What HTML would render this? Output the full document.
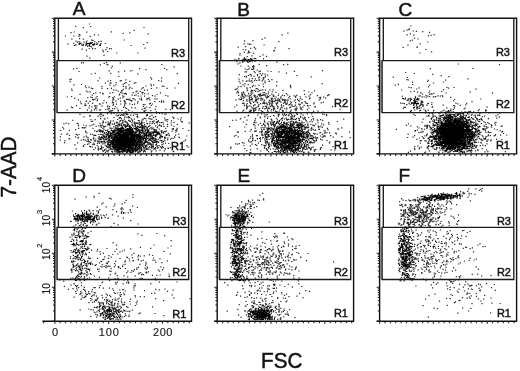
<!DOCTYPE html>
<html><head><meta charset="utf-8"><style>
html,body{margin:0;padding:0;background:#fff;}
body{width:520px;height:371px;overflow:hidden;position:relative;}
svg{position:absolute;left:0;top:0;}
text{font-family:"Liberation Sans",sans-serif;fill:#111;}
.t{opacity:.99}
.r{stroke:#111;stroke-width:.45px;}
.L{stroke:#111;stroke-width:.5px;}
.y{stroke:#111;stroke-width:.15px;}
.x{stroke:#111;stroke-width:.12px;}
</style></head><body>
<svg width="520" height="371" viewBox="0 0 520 371">
<defs><filter id="b" x="-2%" y="-2%" width="104%" height="104%"><feGaussianBlur stdDeviation="0.3"/></filter><filter id="c" x="-2%" y="-2%" width="104%" height="104%"><feGaussianBlur stdDeviation="0.45"/></filter></defs>
<path filter="url(#c)" d="M89 24h1.2m-15.1 2.3h1.2m6.4 1.3h1.2m6.1-1.1h1.2m52.2 1h1.2m265.7-1.5h1.2m-277.9 4.3h1.2m268.5 .8h1.2m2-.9h1.2m.5-.6h1.2m-.6-.8h1.2m2.6 2.2h1.2m2 .4h1.2m-346.5 1.3h1.2m1.9-.7h1.2m11.3 .1h1.2m23.4-.2h1.2m10.6 1.5h1.2m5.5-.5h1.2m17.2 1h1.2m138.5-.8h1.2m121.2 .7h1.2m11.2-2.2h1.2m5.6 .7h1.2m-365.3 3.7h1.2m7.3 0h1.2m3.9 .4h1.2m-.9-1.8h1.2m-.5 .5h1.2m9 1.2h1.2m3-1.4h1.2m2.8 .1h1.2m182.6-.2h1.2m123.8 .1h1.2m5.4 .3h1.2m13.4 .7h1.2m1.5-.6h1.2m1.9-.6h1.2m-363.5 4.5h1.2m6.5-.5h1.2m2.5 .4h1.2m7.3 1.1h1.2m.1 .3h1.2m30-.5h1.2m136.7-.6h1.2m1.6-1.5h1.2m146.2 2.3h1.2m.9-2.1h1.2m2.4 .9h1.2m-343.3 2.1h1.2m.4 1h1.2m1.1 1h1.2m3-.9h1.2m1.8-1.2h1.2m2.5 1.9h1.2m2.8-1.3h1.2m2.7 0h1.2m1.1 1.9h1.2m3.3 0h1.2m40.5-.9h1.2m96.1-1.7h1.2m7.3-.2h1.2m24.6 1h1.2m130.4-.9h1.2m16.2 1.2h1.2m-361.1 2.1h1.2m9.9 0h1.2m.8-.5h1.2m3.5 1.9h1.2m2.2 .4h1.2m2.5-1.3h1.2m-.6 0h1.2m-.3-1.1h1.2m35.7 2h1.2m11.3-1h1.2m99.2-.6h1.2m2.6 .1h1.2m.3 .2h1.2m.2 .2h1.2m12.1 .6h1.2m142.6 .2h1.2m11.1-1.3h1.2m-339.3 5.2h1.2m5.9-.6h1.2m-.1-2h1.2m1.1 2.1h1.2m1.4 .1h1.2m10.6-1.1h1.2m1.4 1h1.2m.5 0h1.2m32.6-.5h1.2m91.9-1h1.2m6.2-.4h1.2m3.8 1.7h1.2m2.5-.7h1.2m-1-.3h1.2m-.1 1.5h1.2m18.3-1.1h1.2m12.8 .9h1.2m112.8-1.3h1.2m12.6-.3h1.2m-.7 .1h1.2m7.3 2.3h1.2m-340.7 .7h1.2m15.3-.1h1.2m-.8 1.5h1.2m1.4-1.9h1.2m.6 1.8h1.2m134.4-2h1.2m-.2 2.9h1.2m.2-2.5h1.2m1.7 1.2h1.2m-1.2 .7h1.2m-.1 .6h1.2m22.8-1.3h1.2m-.4-.7h1.2m155.9 1.4h1.2m-328.8 3.6h1.2m11.6-2.4h1.2m19.8 0h1.2m100.9 2.2h1.2m-1.1-1.7h1.2m6.8-.4h1.2m4.4 .2h1.2m8.2 1.5h1.2m155.6-1.8h1.2m-334 3.2h1.2m1.6 2h1.2m156.2-1.6h1.2m3.5-.8h1.2m1.1 2.5h1.2m4.7-1.9h1.2m5.2-.1h1.2m-26.2 4.1h1.2m.5-1.2h1.2m11.3-.6h1.2m6.6 0h1.2m-183.1 4.2h1.2m.6-.1h1.2m19.6 .7h1.2m1.1-1.1h1.2m-.7 2.1h1.2m12.1-1.6h1.2m116.6 1h1.2m.6-.9h1.2m18.2 1.4h1.2m16.4-2.2h1.2m9.6 2.2h1.2m169.5-.3h1.2m-359.3 .9h1.2m6.4 0h1.2m3.2 1.4h1.2m48.4-1.6h1.2m11.1 2.2h1.2m65.5-.9h1.2m6.2 .1h1.2m3.1 .4h1.2m-1 .3h1.2m-.5-1.1h1.2m-.5 .9h1.2m11.2-1h1.2m15.8-.9h1.2m214.7-.1h1.2m-427.1 4.3h1.2m2.1-.6h1.2m33.2-.3h1.2m19.5 2.5h1.2m6.3-1.9h1.2m5.3 1h1.2m17.3-1.2h1.2m1 1.2h1.2m77.4-.6h1.2m.7 .7h1.2m.3-.6h1.2m-.2-1.1h1.2m.9 1.3h1.2m0 .2h1.2m-.9-1.6h1.2m-.8 .7h1.2m2.4 1.5h1.2m171.9-1.4h1.2m41.3-.2h1.2m-395.1 3h1.2m15 1.9h1.2m12.8-2.6h1.2m.4 2.5h1.2m6.6-1.5h1.2m4.8-.6h1.2m4.5-.2h1.2m113.7 .8h1.2m.1 0h1.2m6.5-.3h1.2m-.3 1.1h1.2m2.9-1h1.2m0-.5h1.2m6.4-.1h1.2m1.9 .5h1.2m6.6 .3h1.2m6.4 1.4h1.2m6.7-1.9h1.2m26.9-.7h1.2m82 1.9h1.2m-315.4 1.5h1.2m26.3 2.4h1.2m17.6-2.6h1.2m38.4-.2h1.2m60.7 1.1h1.2m4 1.8h1.2m.9-.2h1.2m.8-.8h1.2m.4-1.1h1.2m-.2 1.5h1.2m-1.2-.9h1.2m1.6 1.3h1.2m2.3-.7h1.2m-1.2-1h1.2m1.5-.9h1.2m.1 1.7h1.2m0-1.6h1.2m1.2 .4h1.2m-.8 1.8h1.2m1-.8h1.2m28 .3h1.2m116.3-2h1.2m17.1 .8h1.2m7.3 1.4h1.2m-371.1 3.4h1.2m27.1-1.1h1.2m50-.4h1.2m-.4 1.6h1.2m8.8-1h1.2m76.2 1h1.2m6-2h1.2m2 1.8h1.2m1.7-.3h1.2m1.9 .2h1.2m1.9-1.1h1.2m-.2-.7h1.2m2.6 .6h1.2m-.8 1.1h1.2m.1-1.6h1.2m45-.4h1.2m80.9 .4h1.2m12.8 .3h1.2m40.4-.9h1.2m17.9 2.2h1.2m-399.3 .8h1.2m-.9 2h1.2m26.6-.7h1.2m8.9 .2h1.2m1.3-.4h1.2m8.4 .1h1.2m-.1-.1h1.2m3.4-.8h1.2m2.8 1.6h1.2m-1.2-.2h1.2m27.6-.6h1.2m1.6 .5h1.2m76.4 .2h1.2m2.5-.6h1.2m2.1 .7h1.2m-.3-.6h1.2m.9-.1h1.2m-.9 .1h1.2m.4 .2h1.2m-.3-.3h1.2m1.6-.2h1.2m.8-.1h1.2m1.2 0h1.2m-1-.8h1.2m1.6 1.2h1.2m-.4-1.1h1.2m.9 1.4h1.2m2.2-1.7h1.2m-.5 1.5h1.2m-.9 .4h1.2m1.3-1.7h1.2m3.8 2.2h1.2m128.9-2.2h1.2m.1 .3h1.2m3.1 2.2h1.2m13.7-.7h1.2m-.4-1.1h1.2m14 1.6h1.2m1-1.8h1.2m-372.9 4.6h1.2m6.3-.3h1.2m22.7-1.3h1.2m3.3 1.9h1.2m-.9-2h1.2m-.3 .1h1.2m3.5 1.7h1.2m-.8-2.3h1.2m5.8 1.8h1.2m.3-1h1.2m.1-.7h1.2m1.9 2.2h1.2m4.1-1.8h1.2m.2-.4h1.2m13.9 1.7h1.2m1.6 .5h1.2m23.6-1.5h1.2m60.5-.2h1.2m1.7 1.5h1.2m.7-1.1h1.2m2 1h1.2m2.8-2.1h1.2m-.1 2.9h1.2m4.5 0h1.2m2.9-1.3h1.2m.8-1.4h1.2m24.3 2.7h1.2m30.4-1.8h1.2m71.9 1.5h1.2m1.9-.7h1.2m13.1 .1h1.2m15.6 .6h1.2m2.8-2.1h1.2m-349.2 2.8h1.2m-.6 1.8h1.2m1.7-.5h1.2m1.3 1.1h1.2m9.1-1.7h1.2m-1 1.8h1.2m8.2 .1h1.2m1.2-2.6h1.2m8.4 .5h1.2m1.2 .2h1.2m-1 .7h1.2m2.7 .2h1.2m.9 1h1.2m9.6-.4h1.2m-.8-.3h1.2m1.7-1.7h1.2m4.1-.1h1.2m4.1 1.9h1.2m4.5-1.6h1.2m.4 .1h1.2m1.9 2.1h1.2m6.7-.4h1.2m62-1.1h1.2m1.6-.3h1.2m-1.1-.2h1.2m2.4-.4h1.2m1.1 1.8h1.2m1.9-.2h1.2m1.1-1h1.2m1.6-.6h1.2m7.1 .7h1.2m11.9-1.1h1.2m12.5 .7h1.2m-.7 1.3h1.2m89.7-.9h1.2m26.1 .6h1.2m1.1 .4h1.2m6.7 .1h1.2m8-1h1.2m17.3 .5h1.2m.5 .9h1.2m4.3-.7h1.2m-383.6 1.7h1.2m-.8 1.3h1.2m13.1 .5h1.2m5.1-2.4h1.2m13.6 .1h1.2m5 1.2h1.2m1.1 .2h1.2m.9 1.1h1.2m2.2-.4h1.2m-.5-.1h1.2m-.1-1.3h1.2m1.6-.9h1.2m1.9 .4h1.2m6.5 2.3h1.2m2.2 .1h1.2m.2-2.3h1.2m1.7 1.1h1.2m1.7 .1h1.2m2.7-1.7h1.2m82.6 .9h1.2m-.5 .1h1.2m0-.9h1.2m-.4 2.4h1.2m8-1.8h1.2m-.9 1.5h1.2m2.8-.5h1.2m-.7 .9h1.2m-.3-.5h1.2m.6-.2h1.2m-.1 1h1.2m-.7-2.8h1.2m-.2-.1h1.2m-.3 1.1h1.2m.2 1h1.2m.2-.4h1.2m.7-.4h1.2m1.4 .3h1.2m3.3-.2h1.2m2.1-.1h1.2m8.5 .6h1.2m20.1 .3h1.2m9.1 .2h1.2m86-.9h1.2m11.4 1.4h1.2m1.2-2.4h1.2m11.8 2h1.2m10.8 .5h1.2m.6-1.8h1.2m31.4-.6h1.2m-397.3 5.2h1.2m6.6-2.5h1.2m1.1 0h1.2m2.3 1.7h1.2m1-.6h1.2m3.1-.2h1.2m1.3 .6h1.2m-.6 .6h1.2m5.7-.7h1.2m1.4-.6h1.2m5.8 1.6h1.2m-.1-1.9h1.2m.1 .9h1.2m1 .4h1.2m-.8 .2h1.2m-.2-.4h1.2m-.5 .8h1.2m5.6-1.6h1.2m1.7-.8h1.2m.8 1.5h1.2m2.7-.7h1.2m-.6 1.4h1.2m-.8-1.6h1.2m.5 1.3h1.2m2.3 .1h1.2m11.1-1h1.2m75 .2h1.2m-.3-1h1.2m-.4 .7h1.2m2.2-.1h1.2m-.6 1.5h1.2m0-1.9h1.2m-1 1.2h1.2m3.5 .6h1.2m-1-.6h1.2m1.2-.2h1.2m-1.2-1.5h1.2m.5 1.4h1.2m4-1.4h1.2m.1 2.6h1.2m.2-.5h1.2m1.2-1.2h1.2m.4 .1h1.2m.3 1.1h1.2m.8 0h1.2m-.9-1.6h1.2m2.1 2h1.2m-.8-2.5h1.2m2.5 .7h1.2m1.6 1.6h1.2m6.6-.4h1.2m16.9 .8h1.2m3-2.4h1.2m1.9 .9h1.2m104.4-.8h1.2m1.9 .8h1.2m-.7 .1h1.2m6.7-.3h1.2m-.5 1.6h1.2m.4-.5h1.2m-.4 .4h1.2m.6-.9h1.2m11.1-.3h1.2m22.8-.9h1.2m21.1 1h1.2m-426.4 3.9h1.2m3.1-.5h1.2m18 .7h1.2m.3-2h1.2m-1.2 2.3h1.2m3.6-1h1.2m10.5 .7h1.2m-.3-.7h1.2m3.4 .4h1.2m3.9-2.1h1.2m2.1 1.1h1.2m0 .6h1.2m7.1-1.3h1.2m1.2 .3h1.2m.3-.6h1.2m1.1 1.1h1.2m1.3 0h1.2m2.5 .1h1.2m6.7-.4h1.2m1.4 .4h1.2m.7-1.6h1.2m7.6 1h1.2m.9 .7h1.2m69.6-.9h1.2m1.1 1.7h1.2m-.6-2.2h1.2m-.3 1.4h1.2m-1.1-1.3h1.2m-.8 1.4h1.2m-.1 .8h1.2m-.6-2.5h1.2m-.4 1.3h1.2m.4-.1h1.2m.7 .6h1.2m-.3-.7h1.2m-.8-.1h1.2m-.1-1h1.2m-1.1 2.6h1.2m1.4-1.9h1.2m-.8 1.3h1.2m-.9 .2h1.2m-1-1.5h1.2m-1.1 .6h1.2m-.5 1.5h1.2m.3-.8h1.2m-.3-1.7h1.2m-.5 0h1.2m-.5 1h1.2m-.6 .2h1.2m-.9-1.3h1.2m-.2 .8h1.2m-.5-.1h1.2m-.7-.7h1.2m-1.1 0h1.2m-.5 .3h1.2m-.7-.5h1.2m-.2 .6h1.2m-1 .5h1.2m-.6 1.3h1.2m.2 .1h1.2m-1-1.3h1.2m0 .7h1.2m-1.1 .3h1.2m.1-1.3h1.2m2-.4h1.2m-1 1.2h1.2m-.6-.1h1.2m1 .8h1.2m.9-1.5h1.2m1.6 1.3h1.2m0-1.5h1.2m.9 .3h1.2m2.1-.6h1.2m.9 1.4h1.2m3.2-.5h1.2m.2 1.5h1.2m-1.1-1.1h1.2m-.1-1h1.2m2.3 1.6h1.2m4.4 0h1.2m2-.8h1.2m.1-1.4h1.2m5.8 1h1.2m-1.2-.2h1.2m2 1.9h1.2m1.8-.3h1.2m2.8-1.5h1.2m-.5-.4h1.2m-.3-.5h1.2m91.8 2.2h1.2m.8 .1h1.2m.7-1.3h1.2m2.4 1h1.2m2.5 .1h1.2m.5 0h1.2m-.6-.3h1.2m1-.7h1.2m1.2 .3h1.2m.7-.6h1.2m-.7 1.2h1.2m6.8 .6h1.2m-377.2 1h1.2m2.5 1.6h1.2m8.2-2.2h1.2m3.5 1.9h1.2m-1-.3h1.2m-.3 .5h1.2m.1-.4h1.2m0-1.5h1.2m.3 1.2h1.2m13.9 1h1.2m-1.2-2.4h1.2m-.5 .8h1.2m-.8 1.1h1.2m3.4-.5h1.2m.7-.9h1.2m1.3-.3h1.2m2.5 1.5h1.2m-.1 0h1.2m-.1 .3h1.2m-.2-.7h1.2m-.7 1.3h1.2m1.6-1.6h1.2m-.2 .2h1.2m.2 1.1h1.2m3.2-.8h1.2m.4 .3h1.2m-1.2-1.3h1.2m-.9 1.9h1.2m4.1-.4h1.2m-1.1-1.2h1.2m0 0h1.2m-.3-.6h1.2m-.6 2h1.2m4-1h1.2m.7 0h1.2m77.8 1h1.2m1.8-1h1.2m.2 .7h1.2m-.3-1.6h1.2m-1 1.5h1.2m-.7-.9h1.2m.4-.8h1.2m-.8 0h1.2m1.8 1.7h1.2m1.2-1.1h1.2m-1.1 .5h1.2m-.9 .8h1.2m-1.1-2h1.2m-.4 2.3h1.2m-.3-.6h1.2m-.8-1.4h1.2m-.9 1.3h1.2m-1.2-.7h1.2m2.2 1.7h1.2m-1-1.1h1.2m-.8-.3h1.2m-.9 .9h1.2m.2-.5h1.2m-.9-1h1.2m-.9 .2h1.2m-.9 0h1.2m.7 1.7h1.2m-1.1-2.1h1.2m-.6 .3h1.2m-.4 1.4h1.2m-.7-.9h1.2m.5 1.3h1.2m1.1-2h1.2m-.3-.7h1.2m.6 2.8h1.2m.7-1.5h1.2m-1 .6h1.2m-1-1h1.2m-1-.2h1.2m-.3 .6h1.2m.9-.5h1.2m-.6 1.6h1.2m-1 .4h1.2m-.8 0h1.2m.6-.4h1.2m-1.1 .2h1.2m-1-1.4h1.2m.2 .9h1.2m-.3-1.7h1.2m.3 1.1h1.2m-.8 .4h1.2m-.8 1.1h1.2m-.2-.8h1.2m.2 0h1.2m-.8 .3h1.2m.4 .1h1.2m-.6 0h1.2m-.9 .1h1.2m-.5-2.6h1.2m.2 1.2h1.2m3.9 1.1h1.2m1-.5h1.2m1.5-.7h1.2m.6 .7h1.2m6.3-.6h1.2m-.6-1h1.2m7.9 2.1h1.2m-1.1-2.2h1.2m0 1.2h1.2m3.9-.7h1.2m76.7 .4h1.2m12.1 .8h1.2m.9-.6h1.2m34.6 .7h1.2m24.9-.5h1.2m-401.6 2.8h1.2m4.4-.7h1.2m-.6 0h1.2m.5 2h1.2m.6-1.8h1.2m1.4 2h1.2m3.3-2.6h1.2m4.5 2.4h1.2m-.1-2.4h1.2m1.3 2h1.2m4.7-.1h1.2m-1.2-.5h1.2m-.3 .8h1.2m-.9-.2h1.2m1.2-1.5h1.2m3.3 0h1.2m2.5-.4h1.2m-1-.3h1.2m-.9 .7h1.2m-1.1 .9h1.2m-.5-.1h1.2m4.8-.8h1.2m-.9-.6h1.2m4.6 2.6h1.2m-.9-1.5h1.2m11.3 1.7h1.2m3.1-1.7h1.2m3.5-.2h1.2m.8-.6h1.2m-1.1 1.4h1.2m.5-1.2h1.2m-.7 .9h1.2m77.8 1.5h1.2m-.8-.2h1.2m-1-.3h1.2m-1.1-2.3h1.2m2.1 .2h1.2m-.7 .1h1.2m.8-.2h1.2m-.5 1.5h1.2m-1.1-.1h1.2m-.8 1.1h1.2m.6-2.3h1.2m.1 1.3h1.2m.3-.7h1.2m.6-.4h1.2m-.7 1.4h1.2m-.8 .3h1.2m3.8 .1h1.2m-.8 .3h1.2m-1.2-.2h1.2m-.4-1.8h1.2m-1.2 .4h1.2m-1 1.4h1.2m-.6-.2h1.2m0 .1h1.2m-.2 .3h1.2m.7-1h1.2m-1.1 .2h1.2m-.4 .8h1.2m-1-2.2h1.2m.1 2.1h1.2m-1.1-2.2h1.2m-.7 .3h1.2m-.8 .3h1.2m-1-1.1h1.2m-1.1 1.7h1.2m-1.2 .9h1.2m.1-1.8h1.2m-.2 0h1.2m0 1.8h1.2m-.1 .3h1.2m-.9-2.9h1.2m-1 2.5h1.2m-1.1-.8h1.2m.1-1.2h1.2m-.5-.3h1.2m-1.1 .8h1.2m-.3 .5h1.2m-1 .2h1.2m1.4 1.1h1.2m-.3-1.1h1.2m-1.1 .2h1.2m-1.2-1.9h1.2m-.7 .2h1.2m-.8 1.4h1.2m.7 0h1.2m2.2-.4h1.2m-.4 .9h1.2m1.6-1.6h1.2m.1 1.7h1.2m1.6-2h1.2m-.1 .4h1.2m1.1 1.4h1.2m-1 .7h1.2m1.8-1.7h1.2m-1 .3h1.2m-.3 1.6h1.2m-1.1-.2h1.2m6.8-.4h1.2m5.9 .1h1.2m.7-.5h1.2m92.7-.7h1.2m2.9 .9h1.2m-1.2 .5h1.2m6.1 .2h1.2m2.2-.8h1.2m20.4-1.6h1.2m1.3 2.3h1.2m9.5 .2h1.2m4.1-1.7h1.2m-396.7 4h1.2m3.5-2.1h1.2m2.5 2.1h1.2m-1.1-.4h1.2m-1-1.4h1.2m-.5 1.4h1.2m2.4 .5h1.2m3.9 .3h1.2m-.3-.5h1.2m.2 .3h1.2m1.4-2h1.2m-.4 .2h1.2m.6 1.8h1.2m4.2 .2h1.2m-.8 .1h1.2m3.9-.8h1.2m-.7-.9h1.2m1.7-.3h1.2m3-.2h1.2m2.7 .2h1.2m-1.1 1.6h1.2m0-2.1h1.2m2.8 .1h1.2m1.5 .7h1.2m.9-.4h1.2m7.5 2.2h1.2m-1.1-1.8h1.2m.3 .1h1.2m3.4-.8h1.2m.6 1.6h1.2m0-1.4h1.2m2.2 2.5h1.2m79.6-1.4h1.2m6.4-1.3h1.2m-1 1.8h1.2m.7-.6h1.2m-1.1 .4h1.2m-.4-1.7h1.2m-.5 2.7h1.2m.6-.5h1.2m-.1-2.3h1.2m1.5 2.4h1.2m-1-.1h1.2m-1.1-.6h1.2m-.1-.6h1.2m2.2 1.3h1.2m-.7-1.3h1.2m.5-1h1.2m1.5 2.8h1.2m-.1-2.9h1.2m-.4 2.8h1.2m.1-.1h1.2m-1 .1h1.2m-.6-1.7h1.2m.8 .3h1.2m-.8-.7h1.2m.6 1.6h1.2m-.9-1.2h1.2m-.6 .7h1.2m-1.1 .7h1.2m-.6 .4h1.2m2.3-1.9h1.2m-.2 1.6h1.2m2.6-1.3h1.2m-.9 1.1h1.2m.6-.1h1.2m.9-2.1h1.2m-.3 .7h1.2m-.8-.9h1.2m-1 .1h1.2m.5 1.3h1.2m-.4-.3h1.2m-.4-.9h1.2m.2 1h1.2m-.7 1.3h1.2m.3 .4h1.2m0-.5h1.2m-.7-1h1.2m2-.9h1.2m-.2 .7h1.2m-.7-.4h1.2m2.7 .9h1.2m2.2-1.7h1.2m-1.2 2.1h1.2m-.7 .1h1.2m1-.3h1.2m2.4-1.6h1.2m105.9 0h1.2m.5 2.3h1.2m3.2-1.1h1.2m3.6-.7h1.2m10.2 .7h1.2m9.2 .4h1.2m-.6 0h1.2m-.8 .7h1.2m2.2-2.4h1.2m1.1 1.5h1.2m4.3-.5h1.2m-395.6 2.4h1.2m0 .5h1.2m6.1 .7h1.2m7.8-.4h1.2m1.8-1.1h1.2m2.1 1.8h1.2m-.7-1.2h1.2m-.2 .5h1.2m7.9 1.5h1.2m.9-1.4h1.2m.2 .5h1.2m-.9-2h1.2m1.9 2h1.2m.8 0h1.2m-.7-2.1h1.2m.6 1.5h1.2m5.3-.7h1.2m.8 .6h1.2m0 .6h1.2m3.9-.8h1.2m2.3 .2h1.2m5.7 1.5h1.2m.9-1.1h1.2m-.4-.1h1.2m.4-1.2h1.2m2 .6h1.2m4.2 1.8h1.2m9.3-.1h1.2m67.7-2.3h1.2m10.8 1.8h1.2m-1.2-1h1.2m-1.1-.9h1.2m-.7 .8h1.2m3-.7h1.2m-.4 1h1.2m-.7 .2h1.2m-.1 .3h1.2m0-.2h1.2m-.3 .7h1.2m-1-1.5h1.2m.4-1h1.2m-.9 .2h1.2m.1 1.9h1.2m2-.1h1.2m-1.1-.3h1.2m-1.2-.2h1.2m.9 .8h1.2m0-.3h1.2m-.6-1h1.2m-.2 1.6h1.2m-.5-.8h1.2m-.9-.2h1.2m-.3 .3h1.2m-.4-1.7h1.2m.2 2.8h1.2m.5-2.4h1.2m-1.1 1.6h1.2m-.9 .3h1.2m-.7-1.8h1.2m-.8 1.5h1.2m1.7-.3h1.2m-.5-1.4h1.2m.8 2.1h1.2m-.3-1.2h1.2m-.3-.3h1.2m1.4 .9h1.2m.8-.5h1.2m-1.2 1h1.2m2-1.4h1.2m-.8-.3h1.2m-.9-.1h1.2m-1.2-.2h1.2m3 2.1h1.2m-.6-.2h1.2m.1 0h1.2m-1.2-1.9h1.2m-1 1.3h1.2m2.1-1.1h1.2m-.8 1.6h1.2m-.5-.7h1.2m.5-1h1.2m4.7 .9h1.2m4.8-1.2h1.2m-.6 0h1.2m15.8-.1h1.2m6.4 2.6h1.2m76.4-2.2h1.2m28 .8h1.2m2.7 1.3h1.2m1.3 .1h1.2m-.1-1.5h1.2m8.5 1.2h1.2m-.2-.9h1.2m12.9 1.4h1.2m6.6-2.4h1.2m-421.1 3h1.2m19.1 0h1.2m1.6 2h1.2m0 0h1.2m-1.1-2h1.2m1.6-.2h1.2m1.3 .1h1.2m1.6-.2h1.2m-.1 .2h1.2m6.1-.2h1.2m.1 1.5h1.2m.2-.7h1.2m-1 .8h1.2m-.9-.8h1.2m.3 0h1.2m4.1-.5h1.2m-1 .9h1.2m-1.1-.6h1.2m2.1 .1h1.2m3.3 1.3h1.2m1-1.7h1.2m-.6 .3h1.2m2.1 1.6h1.2m10.2-1h1.2m-.2-.2h1.2m-1.1 1.3h1.2m0-1.9h1.2m3.7 .5h1.2m4.4 1.1h1.2m13-2.1h1.2m65.1 1.4h1.2m4.7 .1h1.2m-.3-1.1h1.2m1.3 2.3h1.2m2-.8h1.2m-.6-.8h1.2m-.9-.6h1.2m-1.1 1.4h1.2m-1.1 0h1.2m-.6-1h1.2m-.9-.3h1.2m.9 .1h1.2m-1.1 .9h1.2m-1.1-1.7h1.2m-.1 1h1.2m-1.2 0h1.2m-.4-.4h1.2m4.4 .4h1.2m-.3 1h1.2m-.6 0h1.2m3.7-.9h1.2m-.7 .9h1.2m1.8-.8h1.2m1.3-.7h1.2m1.2 1.8h1.2m-.2-.3h1.2m1.1-.6h1.2m0-1.5h1.2m1.1 .8h1.2m-1 .2h1.2m-1.1 .9h1.2m1.9-.4h1.2m3 .4h1.2m-1 .5h1.2m-.6-1.8h1.2m3.4 .5h1.2m-.7-.5h1.2m4.5-.5h1.2m4.2 .1h1.2m-.4 2.6h1.2m-.3 0h1.2m3.4-.9h1.2m3.1-.2h1.2m3.5 .8h1.2m102.1-.5h1.2m6.3 .7h1.2m-1-1.8h1.2m9.2-.2h1.2m.8 1.2h1.2m.7 0h1.2m4.3 .5h1.2m9.9 .1h1.2m4.7-.7h1.2m2 .6h1.2m3.4-1.2h1.2m6.2-.9h1.2m-1.2 1.2h1.2m-406.9 3.3h1.2m18.5 .5h1.2m-.4-2.3h1.2m-.8 1.1h1.2m-.8 .8h1.2m.8 1h1.2m2.9-1.8h1.2m2.7 0h1.2m1.3-.1h1.2m1.1 1.5h1.2m-.5-2h1.2m.5 2.3h1.2m-.9-.3h1.2m-.1-2.2h1.2m-.5 2.7h1.2m-.4-.9h1.2m-.6 0h1.2m-.2 .8h1.2m-.7-1.5h1.2m-.2 .1h1.2m0-.9h1.2m-.6 .3h1.2m-1 1.1h1.2m-.3-1.5h1.2m-.8 1.7h1.2m1.8 .5h1.2m1.5 .1h1.2m-.8-2.4h1.2m.8 1.4h1.2m.3 .4h1.2m8.5-.4h1.2m-.9 .8h1.2m2.3-2.2h1.2m-.1 2.5h1.2m3.4-2.2h1.2m1.7 .3h1.2m1.5 .2h1.2m1.6 .5h1.2m-.1-.2h1.2m5.1-1.1h1.2m3.6 .1h1.2m70.1 2.4h1.2m8.1-.5h1.2m-.4-1.9h1.2m1.7 1h1.2m-1.1-.4h1.2m1.4 .3h1.2m.6 1.2h1.2m0-.8h1.2m2.6-1.8h1.2m1.4 3h1.2m2.3-2.7h1.2m-.1 1.8h1.2m-.6 .6h1.2m-.8-1h1.2m2.2 0h1.2m.7 .4h1.2m-1.1-1.5h1.2m.6 1.6h1.2m3.9 0h1.2m.4-1.7h1.2m2.4 .8h1.2m-.4 .7h1.2m2.4-.7h1.2m.9 1.3h1.2m2.9-1.3h1.2m3.2 0h1.2m9.6 .3h1.2m.5 .3h1.2m1.2 .2h1.2m87.3 .7h1.2m9.3-2.5h1.2m2.6 .9h1.2m1-.9h1.2m.1 1.3h1.2m11.8-.4h1.2m1.7 .3h1.2m0 .4h1.2m-.7 .7h1.2m2-.4h1.2m2.2 .2h1.2m-1-1.8h1.2m-.6 .7h1.2m-.9 1h1.2m1.4 .6h1.2m1.1-.3h1.2m-.8-1.3h1.2m-1.2-1.3h1.2m-.6 3h1.2m.7-.1h1.2m-.7 0h1.2m-.1-1.8h1.2m6.9 1.5h1.2m12-2.3h1.2m7.8 1.9h1.2m.8-1.5h1.2m-417.1 3.6h1.2m4.5-.6h1.2m-.7-.5h1.2m6.6 .5h1.2m1.6 .5h1.2m.8-1.1h1.2m3.7 2.4h1.2m5.1-.5h1.2m2-1.6h1.2m.8 2.3h1.2m-1-.5h1.2m0-.1h1.2m1.5-2.1h1.2m.2 2h1.2m-1-1.6h1.2m.9 1.3h1.2m.5-.6h1.2m14.5 1.7h1.2m.8-2.6h1.2m-.4-.2h1.2m.5 2.9h1.2m-.1-2h1.2m2.2 .9h1.2m.7-.4h1.2m-.9-.2h1.2m7.9 1.4h1.2m6.7-1.1h1.2m-.1 1.3h1.2m-1.1-.5h1.2m6.2 0h1.2m62.5-.6h1.2m2-1.2h1.2m10.9 1.1h1.2m-.8 .9h1.2m2.6-2h1.2m-.5 .8h1.2m4.2-.3h1.2m2.4-.5h1.2m3.1 .3h1.2m6.1-.8h1.2m1.9 .1h1.2m.9 2.6h1.2m0-.4h1.2m-.9 .6h1.2m-.8-2.2h1.2m.3 .5h1.2m5.2-.3h1.2m.7 1.4h1.2m.9-.4h1.2m2.7 .1h1.2m2.9-1h1.2m-.8 2h1.2m12.3-2.9h1.2m99.2 .6h1.2m.9-.1h1.2m3 .8h1.2m-.5-1.1h1.2m5.3-.3h1.2m-1.1 .6h1.2m-.6-.3h1.2m.7-.3h1.2m-.1 1.9h1.2m1.2-1.6h1.2m-1.1 2.5h1.2m-.3-.9h1.2m-.8-.2h1.2m-.7 .9h1.2m-.9-.5h1.2m1.5-.8h1.2m8.3 .7h1.2m.1-.8h1.2m-.5 .1h1.2m-.5 1h1.2m3.1-.3h1.2m4.9-2h1.2m7.1 1.2h1.2m1-.6h1.2m10.2-.2h1.2m-.4 2.3h1.2m-425.1 2.1h1.2m16.8-.7h1.2m-.7 1.9h1.2m.1-.2h1.2m1.3-1.6h1.2m4.2-1h1.2m1.4 2.5h1.2m0-2.4h1.2m-.4 .2h1.2m4.4 1.8h1.2m1.2 0h1.2m3.2-1.3h1.2m1.2 1.8h1.2m-1.1-.1h1.2m-1-.5h1.2m-.2-2h1.2m-.5 1.6h1.2m-.6 .4h1.2m-.8-.2h1.2m.8 .6h1.2m2.4-.8h1.2m-.7 .3h1.2m-.4 .7h1.2m.3-2.4h1.2m-.4 1.3h1.2m-.8 .7h1.2m.5-1.7h1.2m2.8 1.5h1.2m-.1 .1h1.2m1.4-.7h1.2m-.5-.1h1.2m-.8-.8h1.2m-1.2-.2h1.2m1.6-.3h1.2m-.5 2.3h1.2m2.2-2.2h1.2m-1 2.7h1.2m0-2.4h1.2m-.7 .1h1.2m.9 1.7h1.2m3.1 .5h1.2m-1-.7h1.2m5.5-.5h1.2m-.1-.3h1.2m-.3 1.6h1.2m-.7-1.8h1.2m2.5 1.1h1.2m5.4-1.8h1.2m1.4 .8h1.2m51 .6h1.2m2.2-.3h1.2m2.9-1.2h1.2m-.8-.4h1.2m5.1 1.6h1.2m6.8 .3h1.2m-.7-1.7h1.2m7.8 1.5h1.2m5.4-1.1h1.2m-.7 .6h1.2m-.8 1.2h1.2m4.2-1h1.2m.7 1.4h1.2m-1.1-.4h1.2m1.4-2.3h1.2m3.5 .9h1.2m2.2 .2h1.2m7.8 1h1.2m5.1-1.4h1.2m4.8 .6h1.2m.7-1.2h1.2m-.9 1.3h1.2m2.5-.1h1.2m2.1-.2h1.2m.9 .7h1.2m19.8-1.2h1.2m78.2 0h1.2m7-.6h1.2m3.6 1.2h1.2m2.5-.6h1.2m2.2 1.8h1.2m5.3-2.4h1.2m-1.1 1.4h1.2m-1 1.4h1.2m-1.1-.5h1.2m-.6-.2h1.2m-.9-.5h1.2m-.9 .2h1.2m-.4-.5h1.2m-.9-.1h1.2m-1.1 .1h1.2m-.5 1.5h1.2m1.1-.8h1.2m-.7-.8h1.2m-.6 1h1.2m-1-.5h1.2m1.6 .7h1.2m-.9 .4h1.2m-1.1-1.7h1.2m-1.1 1.2h1.2m-.9-.6h1.2m-.7-1.6h1.2m-.3 1.4h1.2m1.9-1.5h1.2m-.1 1.2h1.2m-.5 1.3h1.2m3.3 .2h1.2m1.3-2h1.2m1.9-.5h1.2m-.7 1.4h1.2m1.1-.5h1.2m.3-1.1h1.2m-.9 1h1.2m-.4 .5h1.2m-419.5 3.8h1.2m1-.8h1.2m1.5 .5h1.2m7.1-.2h1.2m-.1 .4h1.2m14.3 .5h1.2m5.1-.9h1.2m1.4-.5h1.2m-.4-.6h1.2m1.2 0h1.2m1.1-.5h1.2m-1.1 1.9h1.2m0-.6h1.2m-.1-.8h1.2m.8 1.8h1.2m.5 .2h1.2m1.1-1.4h1.2m-.5-.6h1.2m.9 .8h1.2m.8 .4h1.2m-1.2 .3h1.2m.6-1.6h1.2m1.7-.6h1.2m-.1 .8h1.2m-1.1 1h1.2m-1.1 .8h1.2m-1.2 .3h1.2m3.4-2.1h1.2m1 .8h1.2m-.5 .9h1.2m-.7-.3h1.2m-.6-1.3h1.2m-.9 .6h1.2m-.8 .4h1.2m-.1-.3h1.2m.4-.5h1.2m0 1h1.2m-.8 .7h1.2m-.7-1.9h1.2m-.9 .7h1.2m-.9 .6h1.2m-1.1-1.4h1.2m.7 .3h1.2m-.6 1.8h1.2m1-1.2h1.2m-.4 .5h1.2m3.3-.4h1.2m-1 .1h1.2m-1-1.8h1.2m.7 1.9h1.2m.7-1.7h1.2m-1.2 .6h1.2m-.4-.2h1.2m-1.1 .2h1.2m-1.1 1.5h1.2m-1.1-2.4h1.2m1 .9h1.2m.5 .1h1.2m.4-.3h1.2m-.7 1.8h1.2m3 .2h1.2m2.3-1.3h1.2m1.8-.7h1.2m1.9 2h1.2m3-2.6h1.2m-.3 .1h1.2m5.6 1.1h1.2m53-.9h1.2m1.8 2.4h1.2m6.4 0h1.2m-1.1-1.7h1.2m-.6-.9h1.2m.2 1h1.2m3.2 .5h1.2m2.8-1.6h1.2m-.8 .5h1.2m1.2 .9h1.2m0 1h1.2m1-.9h1.2m-1.1 .2h1.2m-.9-1.3h1.2m1.4 .1h1.2m-.7 0h1.2m.4 1.6h1.2m.9-1.6h1.2m-.5 .8h1.2m4.2 .6h1.2m-.9-.4h1.2m1.4 .8h1.2m4.1-.3h1.2m-.8 .6h1.2m-.1-2.1h1.2m1.4 .6h1.2m1 .4h1.2m1 .3h1.2m-.2 .7h1.2m-.3-.2h1.2m3.3-2.2h1.2m-.3 2.1h1.2m.9-2.2h1.2m-.4 2.8h1.2m.2-2.6h1.2m2.5 2.2h1.2m4.7-.3h1.2m5.6-1.2h1.2m-.7 1.5h1.2m7-2.6h1.2m69.9 2.4h1.2m27.6-.1h1.2m2.9-1.3h1.2m-.8 1.3h1.2m1.6 .6h1.2m.1-.8h1.2m.7-.2h1.2m4.4 .4h1.2m-.9 .6h1.2m-.3-.6h1.2m-.7-1h1.2m1.7-1.1h1.2m-.9 1.6h1.2m.8-.4h1.2m.6 1.4h1.2m-1 0h1.2m-.8-2.2h1.2m.6 1.1h1.2m-.4 .5h1.2m1.7-1.1h1.2m-.4 1.5h1.2m-.7 0h1.2m-1-.2h1.2m.1-.1h1.2m.3-1.7h1.2m.2 1.1h1.2m.9-.4h1.2m-1.2 0h1.2m.7 1.2h1.2m.7-2.3h1.2m2.9 .1h1.2m.9 2.6h1.2m.7-1.7h1.2m.1 .9h1.2m4.5-.5h1.2m0-.8h1.2m-434.5 5h1.2m14.6-1.7h1.2m3.9-.6h1.2m1.4 .9h1.2m2.5 0h1.2m.9-.7h1.2m2.9 1.2h1.2m1.5-.6h1.2m.6-.4h1.2m-.6 1.9h1.2m-.2-2.1h1.2m-.9-.2h1.2m-.2 1.3h1.2m-.7 .8h1.2m.5-.7h1.2m.7-1.6h1.2m.2-.2h1.2m-.3 1.1h1.2m2.8 1h1.2m-.9-2.2h1.2m0 2.7h1.2m-.9 .2h1.2m-1.1-1.9h1.2m0-.2h1.2m.5-.6h1.2m-.2 .2h1.2m-1 .4h1.2m.9 2.2h1.2m.1-2.4h1.2m-.6 .4h1.2m.2 .8h1.2m-1-1.2h1.2m.5 .9h1.2m-.9-.4h1.2m.7 1.3h1.2m-1.1-1.3h1.2m-.5 1.3h1.2m.9-2.1h1.2m-.8 .3h1.2m-1.1 .6h1.2m-.5 1.3h1.2m.5-1.9h1.2m-1.2 1.4h1.2m1.2 .1h1.2m-.4 .1h1.2m-.7 .3h1.2m-.9-2h1.2m.1 1.9h1.2m-.4-2h1.2m-.3 .8h1.2m-.7 1h1.2m.6-.9h1.2m-.3 .8h1.2m2.6-.5h1.2m-.5-.8h1.2m-.1 2h1.2m6.9-1.8h1.2m-.7-.6h1.2m-1.1 .7h1.2m.2 .2h1.2m-.8 .5h1.2m1.1 .1h1.2m2.5-.1h1.2m2.8-1.2h1.2m1.3 1.3h1.2m54.5 .3h1.2m13.9 .3h1.2m8.9-1.2h1.2m2.3-.9h1.2m3.4 2.6h1.2m-.8-3h1.2m.1 .5h1.2m6.2-.2h1.2m.5 .1h1.2m-1 1.1h1.2m-1-1.4h1.2m-.8 2h1.2m-.7-2h1.2m-.9 1h1.2m-.1 1.7h1.2m3.2 0h1.2m-.1-2.4h1.2m1.4 2h1.2m-1.1-.3h1.2m4.2-.5h1.2m-1.1 .5h1.2m2-.7h1.2m1.7-.4h1.2m.3 .9h1.2m-.8-.9h1.2m-.8 .5h1.2m-1.2 1.1h1.2m-.3 .3h1.2m-.7-2.8h1.2m-.8 .9h1.2m-1-.6h1.2m.1 .3h1.2m1 1.3h1.2m0-1.9h1.2m-1 2.4h1.2m1.1-2h1.2m3.8 .1h1.2m.1 .6h1.2m3 .5h1.2m-1.1 1h1.2m-1.2-.8h1.2m.3 .5h1.2m0-.9h1.2m.1 1.3h1.2m0-2.4h1.2m81.6 .5h1.2m3.3 .5h1.2m5.3 1h1.2m6.4-.5h1.2m3.4-.6h1.2m-1 1h1.2m2 .7h1.2m-1-.3h1.2m.8-1.9h1.2m4.2 .7h1.2m-.3-1.2h1.2m2.8 1.2h1.2m-.7 .5h1.2m-.2 .3h1.2m2.2-1.3h1.2m.1 1.4h1.2m.3-.4h1.2m-1.2 .5h1.2m-.8-.4h1.2m-1.1-1.1h1.2m-.9 1.2h1.2m3-.5h1.2m-.5-.2h1.2m.7-.9h1.2m.3 .7h1.2m-.9 1.5h1.2m-.7-.3h1.2m-.1-1.6h1.2m-.5 .9h1.2m-.4 .9h1.2m.5-1.9h1.2m-.8-.5h1.2m-.6 1h1.2m-1 1.3h1.2m1.4-2.1h1.2m.9 .5h1.2m.9-1h1.2m1.2 2.4h1.2m.3-.6h1.2m-.5 .4h1.2m4.9 .2h1.2m.6 .4h1.2m2.2-2.6h1.2m-1 2.4h1.2m-.8-1.4h1.2m2.4-.9h1.2m4.6 1.7h1.2m-.4-.6h1.2m-442.5 4.6h1.2m1.6-1.7h1.2m4.5 1.5h1.2m5.1-.7h1.2m1.8-1.3h1.2m2.5-.7h1.2m0 .3h1.2m-.2-.1h1.2m-.5-.1h1.2m6.5 .7h1.2m4.9 1.7h1.2m-.4-.5h1.2m-1.1 .7h1.2m1.7-2h1.2m0 1h1.2m4.6-1.2h1.2m.1 0h1.2m-1 1h1.2m2.2 1.1h1.2m-.8-1.4h1.2m-.4 .1h1.2m-.1-.8h1.2m-.9 .8h1.2m-.9-.7h1.2m-1.2 1.8h1.2m-1.1-2.1h1.2m0 1.7h1.2m-.4-.4h1.2m-1.2 .2h1.2m-.5 .5h1.2m-1-1h1.2m-1.1-.9h1.2m-.2 0h1.2m-1.2 .1h1.2m-1.1 1.9h1.2m-.1-2.4h1.2m1.9 2.5h1.2m-1.1 .1h1.2m-.1-1.1h1.2m-.3-.1h1.2m.4-.8h1.2m-.9-.1h1.2m.9 1.9h1.2m-1 .3h1.2m-.9-1.8h1.2m-.9 .2h1.2m1.4-.4h1.2m-.7 1.9h1.2m-.8-.9h1.2m-.3 1.1h1.2m-.6-.4h1.2m.8 0h1.2m.2-.2h1.2m-.9 .5h1.2m-.2-.2h1.2m.4-1.6h1.2m-.5 .9h1.2m-1 1.1h1.2m-.2-.7h1.2m0-1.9h1.2m-.9 1.6h1.2m-.9 .4h1.2m-1.2 .3h1.2m-.2-.3h1.2m-1.2-.1h1.2m-.2-1.3h1.2m.7 .6h1.2m.3-1.1h1.2m-.7 1.9h1.2m0-.3h1.2m.2 .2h1.2m-.3-2.2h1.2m.7 1.6h1.2m5.3-.9h1.2m5.4 .5h1.2m-.5 .9h1.2m1.6 .6h1.2m-.2-.6h1.2m-.9-1.3h1.2m-1.2 .3h1.2m4.6-.2h1.2m67.2 1.1h1.2m2.8-1.5h1.2m4.7-.3h1.2m-.7 1.7h1.2m1-.3h1.2m-.2-1.7h1.2m.7 .7h1.2m.3 1.6h1.2m.5-.6h1.2m-1.1 .3h1.2m-.4 .8h1.2m-1.2-2.7h1.2m1 .8h1.2m-1 .9h1.2m2.1 0h1.2m-.7-1.3h1.2m.3-.3h1.2m-.2 .8h1.2m-.8 1h1.2m1-1.8h1.2m-1 2.6h1.2m-.7-.8h1.2m0 0h1.2m-1.1 .8h1.2m-1-2.5h1.2m.9 1.1h1.2m-1-.6h1.2m1.2 1.5h1.2m11.6 .6h1.2m-1.1-.5h1.2m.7-.5h1.2m-.1-1.8h1.2m4.1 2.4h1.2m-.4-1.5h1.2m-.5-.5h1.2m.2 1.3h1.2m.5 1.2h1.2m3-1.1h1.2m7.1-1h1.2m-.6 1.2h1.2m8.3-.6h1.2m0 0h1.2m1.9-1.1h1.2m53.4 1.5h1.2m19.8 .7h1.2m3.2-1.6h1.2m3.9-.1h1.2m-.8-.8h1.2m2.2 .1h1.2m-.8 .9h1.2m-.9 .4h1.2m2.3 1.4h1.2m7.1-.5h1.2m-.8-1.3h1.2m-.8 1.2h1.2m-.2-.7h1.2m-.1-.5h1.2m.7 1.7h1.2m1.6-1h1.2m.6-.6h1.2m-1.2-.5h1.2m2.3 .9h1.2m-.3-.7h1.2m-.9 .5h1.2m-.6-1h1.2m2.3-.2h1.2m-1 1h1.2m1.7 1h1.2m.4-1.8h1.2m1.2 2.6h1.2m-.7-.3h1.2m-.9-.4h1.2m1.6-.4h1.2m3 .5h1.2m-.3-1.4h1.2m4.6 .3h1.2m-.6 .9h1.2m.2-.6h1.2m.5-.6h1.2m6.7 .5h1.2m-410.2 2.9h1.2m-1.1-.9h1.2m0 1.9h1.2m6.6-2.1h1.2m.7 .9h1.2m-.4-.7h1.2m.7 .4h1.2m-1-.1h1.2m-.3 .5h1.2m-.5-1.1h1.2m-.7 .6h1.2m-.8 .1h1.2m-1.1-.6h1.2m-.6 1.1h1.2m.5 .6h1.2m1.4-1.9h1.2m-.6 .6h1.2m-.3 .3h1.2m.9 1.9h1.2m.8-2.1h1.2m-.5-.8h1.2m-.3 .1h1.2m1.7 .4h1.2m-.8-.5h1.2m-.6 .8h1.2m-.9 1.6h1.2m-.5-2.3h1.2m-.5 1.1h1.2m-.3-.8h1.2m2.3 1.1h1.2m-.7 .1h1.2m.4-.9h1.2m-.5 .8h1.2m-.1 1.2h1.2m-.4-.4h1.2m0-1.5h1.2m-1.2 .3h1.2m-1.1 1.6h1.2m-1-1.8h1.2m-1.1 1.2h1.2m-1.2 .5h1.2m-.9-2h1.2m-.7 .8h1.2m-1 .2h1.2m-.8 1.1h1.2m-1-2h1.2m-.7 1.3h1.2m-.6-.6h1.2m-1-.2h1.2m.5 1.6h1.2m-.4-1.7h1.2m-.8 1h1.2m-1 .4h1.2m1.1-1.9h1.2m-.4 .7h1.2m.2 1h1.2m-.4-.7h1.2m-.9 .9h1.2m-.9-.8h1.2m-.9 0h1.2m-.8 .9h1.2m-1.1-2.3h1.2m-1 .1h1.2m.1 .9h1.2m-.6 1.2h1.2m-1-2.4h1.2m-.6 1.4h1.2m-.6 .9h1.2m-1-.6h1.2m-.5-.1h1.2m-1.2 .4h1.2m-.8-1.4h1.2m-.5 1.7h1.2m-1.1-1.9h1.2m-.3 1.9h1.2m-.2-.1h1.2m-.7-1h1.2m0 .3h1.2m-.9 1h1.2m-.4-.1h1.2m-.6-1h1.2m-.8-.3h1.2m-1.1-.3h1.2m-1.1-.9h1.2m-.8 .6h1.2m-.7 1.4h1.2m-1-1h1.2m-1.1 .3h1.2m-.6-1h1.2m-1.1 .8h1.2m-.5 1.2h1.2m-.2 .1h1.2m-.8-.9h1.2m-.8 .2h1.2m.8-1h1.2m-.5-.2h1.2m-1 1.4h1.2m.2-.4h1.2m-1 1.1h1.2m-.3-1.8h1.2m-.2 .5h1.2m-.2-.9h1.2m.6 2.4h1.2m6.2-1.3h1.2m0-.9h1.2m10.6-.6h1.2m47.4 1.7h1.2m0 0h1.2m5.5-.8h1.2m3.7-.2h1.2m3.5 .2h1.2m.3-.6h1.2m2.2 1.2h1.2m.2-.3h1.2m-.6 .6h1.2m-1-1h1.2m-1.1 1.3h1.2m2.6-.9h1.2m0 .4h1.2m.1 .5h1.2m-.7-.7h1.2m2.4 0h1.2m-1.2 .3h1.2m.7-.4h1.2m-.5-.9h1.2m-.3 1.7h1.2m-.3 .2h1.2m.3-.6h1.2m-1.1 .5h1.2m-.7 .4h1.2m-1-2.2h1.2m-1.2 1.8h1.2m-1.1-1.2h1.2m-.3 1.4h1.2m-.3-1.1h1.2m.2 .4h1.2m-.4 .2h1.2m2.7 .4h1.2m.4-1.6h1.2m-.6 1.3h1.2m-.7-1.1h1.2m-.6 1.8h1.2m-1-2.2h1.2m-1.1 .1h1.2m-.6 2.4h1.2m.3-.2h1.2m-.1-2.8h1.2m-.7 1.1h1.2m-.9-.5h1.2m-.5 2.3h1.2m.5-2.8h1.2m-.8 .7h1.2m3.1 1.8h1.2m-.5-.1h1.2m-.8-.4h1.2m-.4-.9h1.2m-.6-.2h1.2m-1 1.8h1.2m.9-.3h1.2m-.9-1.1h1.2m-.8 1h1.2m5 .5h1.2m5.8-.9h1.2m2.6 .7h1.2m-.3-2.3h1.2m-1.1 1.9h1.2m.4-.1h1.2m1.5 .2h1.2m-1.2-.1h1.2m4.6 .2h1.2m-.7 .1h1.2m12.4-1h1.2m64.1-1.1h1.2m2.9 1.7h1.2m2.1-.9h1.2m7.6 .5h1.2m3.3-.2h1.2m-.7-.8h1.2m.2 .2h1.2m.8 .6h1.2m-1-.6h1.2m2.4-.2h1.2m3.9 1.7h1.2m-.7-1.8h1.2m-.7 .1h1.2m-.7 2h1.2m-.6 .1h1.2m-.8-.4h1.2m-1 .3h1.2m-.1-.3h1.2m-1.1-1.2h1.2m-.7 .4h1.2m-.4 1.2h1.2m-1.2-1.7h1.2m1.2-1.2h1.2m-1.2 2.2h1.2m-.9 .2h1.2m-.7 .2h1.2m-.5-.4h1.2m-1-1h1.2m-.2-.5h1.2m-.7 .7h1.2m-.2-.5h1.2m-1.2 1.8h1.2m-1.2-.6h1.2m-1.1-.9h1.2m-.8 .9h1.2m-.4-1.1h1.2m1.1-.3h1.2m0 .5h1.2m-.1-.3h1.2m1.2-.5h1.2m1.2 .6h1.2m.1 .7h1.2m-1.2 1.2h1.2m2.2-1h1.2m.2 .6h1.2m-1-.5h1.2m-.6-1h1.2m-.3-.5h1.2m-.3-.5h1.2m.4 1.5h1.2m3-1.4h1.2m-.6 1.8h1.2m1.1-.2h1.2m-1.2 .1h1.2m-1-.7h1.2m1.2 .9h1.2m8.2-1.9h1.2m.3 1.4h1.2m-441.5 2.2h1.2m4.2 0h1.2m-.2-.2h1.2m.5 1.5h1.2m5.4-1.1h1.2m0 .8h1.2m.4-.7h1.2m10.4-.3h1.2m.8 .3h1.2m.2 .9h1.2m-.7-.1h1.2m-.6 .2h1.2m2.6-1h1.2m.8-.1h1.2m.4 .6h1.2m-.1 1.2h1.2m-1-1.4h1.2m-.1 1.6h1.2m1.1-1.2h1.2m-.8-1.3h1.2m-.9-.2h1.2m-.9 1.8h1.2m-1.1-1.7h1.2m-1 .8h1.2m-.4-.7h1.2m.5 .3h1.2m-.8 .8h1.2m-1.1-1.5h1.2m-.3 2.4h1.2m.2-1.2h1.2m-.8 1h1.2m-.5-1.8h1.2m-.8 .8h1.2m-1.2-.3h1.2m-.2-.3h1.2m-.9 1h1.2m-.5 1.4h1.2m.1-2.1h1.2m-.3 .5h1.2m-.9-.2h1.2m-1.1-.4h1.2m-1.1-.3h1.2m-.9 .3h1.2m-1-.2h1.2m.7 .2h1.2m-.6 2.1h1.2m-.2-2.9h1.2m-.2 .3h1.2m-1.1 .4h1.2m-.6 .6h1.2m-.9 .7h1.2m-1.2 0h1.2m-.7-1.1h1.2m-.8 2h1.2m-1.1-1.1h1.2m-1.2-.8h1.2m0-.1h1.2m-.8-.4h1.2m-1.1 .8h1.2m.4 1.5h1.2m-.5-2.4h1.2m-.3 .9h1.2m-.7-.9h1.2m-.7 .3h1.2m.4 1.1h1.2m-1-.1h1.2m-.5-.1h1.2m-.1 .1h1.2m-.5-.8h1.2m-.7 1.1h1.2m-.6-1h1.2m-.7 1.7h1.2m-.8 0h1.2m-.2-.1h1.2m-.7-1.4h1.2m.5 .7h1.2m-.8 .2h1.2m.2-1h1.2m-.7-1.1h1.2m-.6 1.4h1.2m-1.2 0h1.2m-.9-.5h1.2m-.4 .4h1.2m-1.1 .7h1.2m-1-2h1.2m.3 2.1h1.2m-1.2-1.9h1.2m-.5 .8h1.2m-1.2 1.9h1.2m.1-.7h1.2m-1.1-1.4h1.2m-.3 1.3h1.2m-.9-1.7h1.2m-.3 2.5h1.2m-.4-1.6h1.2m-.6-1.3h1.2m.5 1.1h1.2m-1.2 1.6h1.2m-.2-.7h1.2m-.9 .5h1.2m-.2-1.9h1.2m0-.2h1.2m-.2-.3h1.2m-1.2 1h1.2m-.7 1.2h1.2m-.1-.8h1.2m3.7 .5h1.2m-.5-.6h1.2m.7 0h1.2m-.8 .8h1.2m5-.6h1.2m2-1h1.2m6.8 1.9h1.2m46.5 .1h1.2m.3-.7h1.2m15.2-.8h1.2m-1.1 1.5h1.2m2.7-.5h1.2m-.2 .1h1.2m2.9-.9h1.2m-.3 0h1.2m-.6 .6h1.2m.3-1.2h1.2m-.9-.1h1.2m-.8 .9h1.2m-.9 1.3h1.2m0-2h1.2m-1-.4h1.2m0 1.1h1.2m-.6-.5h1.2m-1 .5h1.2m-.5 1.4h1.2m1.3-2.8h1.2m-1.2 2h1.2m-1-.3h1.2m0 .7h1.2m-.9-.3h1.2m-.5-1.2h1.2m-.4 1.5h1.2m.1-1.9h1.2m-.9 1.4h1.2m-1.1 .8h1.2m0-2.8h1.2m1.1 2.3h1.2m4.8-.1h1.2m0 .1h1.2m-1 .1h1.2m-.7 0h1.2m.4 .3h1.2m-.1 .2h1.2m-1.2-.2h1.2m2.7-.5h1.2m2.1 .1h1.2m.6 0h1.2m1.9-1.1h1.2m-.3-.9h1.2m-.9 0h1.2m-.6 2.2h1.2m.5 .4h1.2m-.7-2.4h1.2m.2 2.1h1.2m-1.1-1.3h1.2m-1.1 1.3h1.2m1.5-.4h1.2m1.9-1.6h1.2m-.8-.4h1.2m1 .5h1.2m2.1 1.8h1.2m.7-1.7h1.2m.4 1.2h1.2m-1.2 .8h1.2m.1-.1h1.2m4.1-.6h1.2m4.6-1.7h1.2m70.5 .3h1.2m5.3 1.5h1.2m6.4 .8h1.2m1.6-.7h1.2m.5-1.1h1.2m-.5-.7h1.2m3.9 .5h1.2m-.7 1.5h1.2m5.3 .3h1.2m-.1 0h1.2m-.2-.3h1.2m-.6-.7h1.2m1-.9h1.2m.9 0h1.2m-1 .4h1.2m-1 .3h1.2m-.8-.5h1.2m-.3-.8h1.2m.1 .3h1.2m.1-.5h1.2m2.2 2.8h1.2m-.5-.9h1.2m.5 1h1.2m-.4-2.7h1.2m-.1 .1h1.2m-.9 1.5h1.2m-.4 .5h1.2m-.6-1.1h1.2m-1.1 .3h1.2m-.9 .5h1.2m-1.2-1.1h1.2m-.4-.7h1.2m-.6 .1h1.2m2 .2h1.2m-1.1 1.5h1.2m3.4-1.7h1.2m-.9 .5h1.2m-1-.4h1.2m-.4 2.4h1.2m-.8-1.1h1.2m-.8-.5h1.2m-.9 1h1.2m-1.2-.8h1.2m-.8 1.2h1.2m-.8-.7h1.2m-1 .8h1.2m1.3-.1h1.2m.3-1.5h1.2m.1 1.7h1.2m.1-1.7h1.2m1.1 1h1.2m4.8 0h1.2m-1-.8h1.2m.8 .7h1.2m3.6-.1h1.2m-.8-1h1.2m3.7 .6h1.2m1.9-1.6h1.2m1.9 1.5h1.2m-447.5 1.8h1.2m7.4 1.8h1.2m-.5 .3h1.2m4.6-2h1.2m1.3 1.2h1.2m-.8-.8h1.2m4.4-.2h1.2m1.5-.3h1.2m-.1 2.3h1.2m-.8-1.5h1.2m6.3 1.4h1.2m1.5-.9h1.2m-.4-1.6h1.2m-1.1 .6h1.2m-.7 1.7h1.2m-.5-1h1.2m-.8 1.6h1.2m-.8 0h1.2m-.2-1.3h1.2m-.5-1h1.2m-.7 1.5h1.2m-.3-1.2h1.2m-.8 .3h1.2m-1.1-.3h1.2m-1.2 .2h1.2m-.9 .6h1.2m-.5 .9h1.2m-.8-1.7h1.2m-.7 2h1.2m.5-.2h1.2m-.6-1.6h1.2m-.8 .3h1.2m.9-.4h1.2m.5 .5h1.2m-.4 .3h1.2m-.8 .8h1.2m-1.1-.1h1.2m.6-2.1h1.2m-.3 1.1h1.2m-1-1.4h1.2m-.1 1.1h1.2m-1.2-.4h1.2m-.9 2h1.2m-.9-1.2h1.2m-.1-.7h1.2m-.9-.1h1.2m-.7 1.2h1.2m-.9-.5h1.2m-.5 1.4h1.2m-1.1-.9h1.2m0-.5h1.2m-.7-1.5h1.2m-1 1.8h1.2m-1-1.6h1.2m-.3 1.1h1.2m-1-.5h1.2m-1 2h1.2m-1.1-1.2h1.2m-1.2 .7h1.2m-.5 .1h1.2m0 .2h1.2m1.8-.1h1.2m-.4 .4h1.2m-1-2.6h1.2m-.8 .3h1.2m.1 .3h1.2m-1.1 .9h1.2m-1.2 1.2h1.2m-1.1-1.2h1.2m-1.2 .1h1.2m-.4 .7h1.2m-.9 .2h1.2m-.9-.4h1.2m-.7 .2h1.2m-1.1-2.6h1.2m0 2.9h1.2m-1.2 .1h1.2m-1-1.9h1.2m-.6 .3h1.2m.1-.4h1.2m-.8-.3h1.2m-.1 .5h1.2m-.9-.9h1.2m-.7 2.2h1.2m-1.2-.5h1.2m-.8 .8h1.2m-1.1 .1h1.2m-.9-1.8h1.2m-.4 .5h1.2m-.8-1.5h1.2m-.6 1.8h1.2m-.5 0h1.2m.4 .2h1.2m-.4 .4h1.2m-.6-.4h1.2m.4-2h1.2m-.1 2.6h1.2m-1.1-1.3h1.2m-.2 .5h1.2m-1.1-.3h1.2m-.1 1.1h1.2m-1-1.1h1.2m-.5 .1h1.2m-1.2-.7h1.2m-.1 .5h1.2m.2 .4h1.2m1.2 1h1.2m.2-2.1h1.2m.8-.6h1.2m-.2 .1h1.2m1 .3h1.2m-1.1 1.4h1.2m1.8-.3h1.2m1.5 1h1.2m1.3-.7h1.2m.2-1.7h1.2m-1.1 .5h1.2m3.2-.3h1.2m-.9 .7h1.2m57.8-.8h1.2m10.7 1.6h1.2m-.7-1.7h1.2m.7 1.3h1.2m-.9 .1h1.2m3.2 .6h1.2m-1-.2h1.2m1.3-.1h1.2m-1.1 0h1.2m-1.1-.7h1.2m1.7-.5h1.2m.4 1.9h1.2m-1.1 0h1.2m-.6-1.3h1.2m-.5 0h1.2m-.7-1h1.2m-.2 .8h1.2m-.9-.8h1.2m0 2.5h1.2m1.2-2.8h1.2m.3 2.2h1.2m-1.1-1.4h1.2m-.8 .9h1.2m-.3-.1h1.2m.3-.9h1.2m1.1 .3h1.2m-.8-.2h1.2m-.6 1.6h1.2m.3-2.4h1.2m-1.1 0h1.2m.1 .7h1.2m-.4-.8h1.2m-.9 .7h1.2m-1.1-.1h1.2m2-.4h1.2m.4 1.5h1.2m-.1-1.1h1.2m-.9 .2h1.2m-.6 1.7h1.2m-.1-1.7h1.2m-1.1-.7h1.2m-.4 .7h1.2m-.5 1.2h1.2m.7-.1h1.2m-1 .4h1.2m-.9 0h1.2m-.1 0h1.2m-1.2-.8h1.2m1.1-.7h1.2m2.6 .8h1.2m-1-1.4h1.2m.2 1.5h1.2m.8-.2h1.2m.2-1.4h1.2m.9 1.5h1.2m.2-1.3h1.2m.8 2.2h1.2m1.8-.5h1.2m-.4-.7h1.2m4.4-.6h1.2m-.5-.1h1.2m9 .1h1.2m7.5-.6h1.2m7 1.1h1.2m56.3-.2h1.2m4.2-.3h1.2m2.7 2.2h1.2m1.3-1.4h1.2m3.2 .5h1.2m-1.1-.2h1.2m3.8-.8h1.2m2.8-.8h1.2m.4 1.1h1.2m-1.2 1.6h1.2m3.9-1.9h1.2m-.1 0h1.2m2.4 .8h1.2m.2-.7h1.2m-1.1 1.4h1.2m2.2-1.1h1.2m.1 .1h1.2m1.1 1.1h1.2m0-.8h1.2m0-.7h1.2m1 1.4h1.2m0-1.1h1.2m.3 .7h1.2m-.9-.1h1.2m-.3 .3h1.2m-.9 .5h1.2m-.7-1.3h1.2m.4 .8h1.2m-.3-.5h1.2m2-1.7h1.2m-.2 .4h1.2m-.3 1.4h1.2m-.9-1.9h1.2m-.6 1.8h1.2m-1-.1h1.2m1 .1h1.2m1.2 1.2h1.2m-.5-.1h1.2m-.1-.4h1.2m.8-.6h1.2m2.7-1.6h1.2m-.5 1.7h1.2m-.9 .4h1.2m-.6 .2h1.2m-.5-.4h1.2m-1-1.5h1.2m-1 1.7h1.2m-.3-2.4h1.2m8.6 2.9h1.2m-437.4 .7h1.2m3.4 .5h1.2m15.2-.4h1.2m1-.5h1.2m.4 .5h1.2m0 .8h1.2m.9 .6h1.2m-1.1-1.4h1.2m-.2 1.7h1.2m-.1 .4h1.2m-.6-2.3h1.2m1.8 .3h1.2m.3 .5h1.2m1 .3h1.2m.1-.1h1.2m-.2 .8h1.2m.5 .4h1.2m.9 0h1.2m-.9-1h1.2m-.3-1.6h1.2m-1.1 2.7h1.2m.4-.4h1.2m-.7-.8h1.2m-.4 1.1h1.2m-.4-1.1h1.2m-.8 1h1.2m-.4-1.6h1.2m-1 1.5h1.2m-.8 .3h1.2m-1.1-.5h1.2m-.4-1.3h1.2m-.1 2h1.2m-.3-.4h1.2m-1.1-1.1h1.2m-.4 .2h1.2m-1-1.6h1.2m-1.1 2h1.2m.6 .1h1.2m-.9 .6h1.2m-.9-1.4h1.2m-.6-.6h1.2m-.7-.1h1.2m-1.2 2.1h1.2m-.9-.1h1.2m.2-1.3h1.2m.2 .6h1.2m-.4-1.1h1.2m-.7 1.9h1.2m-.6-1.8h1.2m.1-.3h1.2m-1 1.2h1.2m-.7-.9h1.2m-1.1 .9h1.2m-1.2-1.5h1.2m.4 .7h1.2m-.6 .3h1.2m-.8-1h1.2m0-.2h1.2m-1 2h1.2m-1-.5h1.2m-1-.5h1.2m-1 .1h1.2m-.8-.3h1.2m0 .5h1.2m-.9-.3h1.2m-1.2-.8h1.2m-.9-.2h1.2m.9 2.2h1.2m-.6-.2h1.2m.2-1.5h1.2m-1.1 2.1h1.2m-.6-1.6h1.2m-.9 1.6h1.2m-.3-.4h1.2m-1.2 .2h1.2m-.9-2.2h1.2m-1.2 0h1.2m-.6 2h1.2m-1.1-.9h1.2m-.7-1h1.2m-1 1.8h1.2m-.8-1.7h1.2m-1.2 1h1.2m-.6 0h1.2m-.9 .3h1.2m.7-1h1.2m-1.1-.8h1.2m.5 1.4h1.2m-.6-.6h1.2m-1.1 2.1h1.2m-1.2-2.7h1.2m-1 1.7h1.2m-1-1.4h1.2m-.7 2.2h1.2m-1.2-.3h1.2m2.2-2.1h1.2m-.3 .5h1.2m-.3 .5h1.2m-.6 1.4h1.2m-.2-1.9h1.2m-.8 .4h1.2m-1.1-1.2h1.2m-1.2 .6h1.2m-.1 .4h1.2m-1.2 1.9h1.2m.4-1.1h1.2m-.9-.3h1.2m-.9 .4h1.2m-.2 .3h1.2m-.8 .6h1.2m.4-2.1h1.2m2 1.4h1.2m-.2-1.7h1.2m-.5 1h1.2m1.3-1.3h1.2m15.2 1.5h1.2m.3-1.3h1.2m61.9 .3h1.2m-1.2 .6h1.2m.3 1h1.2m.1 0h1.2m0-1.1h1.2m6.8-.8h1.2m5.4 1.8h1.2m4.1-.3h1.2m1.1-.9h1.2m-1.2 .8h1.2m.2-1.4h1.2m-.5 1.3h1.2m.4 1.3h1.2m2.2-2h1.2m-.7 1.8h1.2m0-1.8h1.2m-1.1 1.2h1.2m-1.2-.2h1.2m.8-1.6h1.2m-.6 .1h1.2m-1.1 1.2h1.2m0-.1h1.2m-.3 1.2h1.2m-1.2-2.3h1.2m-.2 1.6h1.2m-.8 .2h1.2m-.4 .6h1.2m-.8-2.2h1.2m1.4 1.1h1.2m-.6-.8h1.2m1.8 .3h1.2m1.1-.8h1.2m-.2 2.4h1.2m-.1-.4h1.2m-.7-.6h1.2m-.9-1.8h1.2m-.4 0h1.2m.2 .3h1.2m.3 .8h1.2m.8-.8h1.2m-.5 .1h1.2m.8 1.7h1.2m1.5-1.1h1.2m-.7-.3h1.2m1.2-.4h1.2m4.4 0h1.2m3.8 .6h1.2m1.5 1.7h1.2m89.3-1.6h1.2m14.5-1h1.2m-.6 2.7h1.2m.4-.6h1.2m.3 .7h1.2m-1.2 .1h1.2m-.6-1.5h1.2m1.2 .2h1.2m-.9-1h1.2m1.8 1.4h1.2m-.3-2h1.2m-1.2 2.1h1.2m-.9-.8h1.2m3.2-.5h1.2m-.7-.2h1.2m.8 1.1h1.2m-1.2-1.3h1.2m-.8 .9h1.2m-.7 .3h1.2m-.7-.8h1.2m-1-.5h1.2m-.2 2.3h1.2m.6-2.2h1.2m.5 1.4h1.2m-.6 .2h1.2m.8-1.7h1.2m1.1 1.2h1.2m1.7-1.4h1.2m.3 2.6h1.2m3.4-1.5h1.2m-1-.3h1.2m-1.2 2h1.2m-.1-.1h1.2m-.4-2.5h1.2m-1.1 2.5h1.2m4.1-2.4h1.2m3.8 1.2h1.2m-.7-.2h1.2m-1.1 .1h1.2m-1 0h1.2m-.5-1.4h1.2m1.4 1.1h1.2m10-1.1h1.2m-438.6 2.9h1.2m9.2 2.3h1.2m1.5-2h1.2m6 1.6h1.2m2.9-.6h1.2m2.7 .5h1.2m-.5-1.4h1.2m-.2 1.1h1.2m1.8-.7h1.2m3.5 .4h1.2m1.9 1.5h1.2m-1.2-2.5h1.2m1.1 1.5h1.2m-.7-1.5h1.2m.2 1.7h1.2m-.1-1.1h1.2m-.7-.7h1.2m-.1 1.7h1.2m-.8 0h1.2m-1.2 .5h1.2m-.2 0h1.2m-.6-1.1h1.2m-.3 .5h1.2m-.5-.1h1.2m.1 .8h1.2m1.9-2h1.2m-.3 1.6h1.2m-1.2-.9h1.2m-1.1 .3h1.2m-1.1-.9h1.2m-.3-.3h1.2m-.1 .3h1.2m-1 .8h1.2m-.8 1.3h1.2m-1-.5h1.2m.5-1.9h1.2m-.9 .8h1.2m-.8 1h1.2m-1.1-.9h1.2m-.2-.2h1.2m-1.2 .5h1.2m.1 .9h1.2m-.8-1.8h1.2m-.8 .8h1.2m-.2-.3h1.2m-1 1.4h1.2m1.2-1.4h1.2m-.2 .9h1.2m-.3-.4h1.2m0 .8h1.2m-.6-1.6h1.2m-.9 .2h1.2m-1 1.4h1.2m-1.2 .5h1.2m1.5 .1h1.2m-.6-2.9h1.2m-.1 .3h1.2m.2 .8h1.2m.1-.1h1.2m2.2 .5h1.2m-1.1-1.1h1.2m2.1 2h1.2m-.6-.7h1.2m8.8 .3h1.2m0-.7h1.2m4.3-.4h1.2m65.9 .3h1.2m.5 .3h1.2m.6-.5h1.2m1.9-1h1.2m.4 .5h1.2m7 1h1.2m2 .5h1.2m0 .8h1.2m.6-2.3h1.2m2.1 1.5h1.2m2 .9h1.2m-.6-2.4h1.2m-.5 1.8h1.2m-.6-2.1h1.2m-.6 .2h1.2m-.6-.2h1.2m2.7 .4h1.2m.3 1h1.2m-1.2-.1h1.2m2.8-1.4h1.2m-1.1 .2h1.2m-1.2 .7h1.2m-1.1 1.5h1.2m.5-1.9h1.2m-.9-.4h1.2m1.3 .7h1.2m.8 .1h1.2m-1.1-.5h1.2m-1.2 .4h1.2m.6 1h1.2m2.5 .9h1.2m-.8-1.6h1.2m-1-.5h1.2m0 2.1h1.2m-.7-.4h1.2m2-1.6h1.2m.9 1.6h1.2m-1.2-2h1.2m3.5 2.1h1.2m3.2 .1h1.2m1.2-1.3h1.2m2.5-1h1.2m8.9 2.2h1.2m5.6-2.3h1.2m89.7 .4h1.2m6.5-.4h1.2m4.9 1.9h1.2m3.5 .3h1.2m1.6-1.3h1.2m-.6-.5h1.2m3.3 1.5h1.2m-.7-.1h1.2m.2-1h1.2m1.4 1.6h1.2m-.1-2h1.2m-1.1 1.8h1.2m1-2.3h1.2m.2 1.8h1.2m-.4 0h1.2m1.1-1.2h1.2m-.9 1.5h1.2m.2-1.6h1.2m2.8 .4h1.2m.6-.7h1.2m-.1-.3h1.2m0 2h1.2m-.4-1h1.2m1.5 .6h1.2m7.7-1.1h1.2m4.4 .7h1.2m-404.7 2.1h1.2m5.1 .6h1.2m1.3 .6h1.2m2 .8h1.2m.5-2.4h1.2m-.1 1.4h1.2m-.8 1.4h1.2m1.5-1.7h1.2m-1.2-.6h1.2m-.9 1.3h1.2m3.8-1.1h1.2m.8 0h1.2m-.9-.4h1.2m-.7 .9h1.2m-.8-1h1.2m-1 2.1h1.2m1.8-1h1.2m.4-.9h1.2m-.9 1.3h1.2m-.8-.5h1.2m-.8 1.5h1.2m-.4-.2h1.2m-1-1.7h1.2m-.3 1.7h1.2m-.5-1.6h1.2m-.7 .4h1.2m-.3-.3h1.2m-.7 1.1h1.2m-.3-2h1.2m-.9 1.6h1.2m-.9-1.4h1.2m-.1 2.7h1.2m2.2-2.6h1.2m-.8 1.3h1.2m-.5-1.1h1.2m.3-.6h1.2m-.8 .4h1.2m-.7 1.3h1.2m-.6-1h1.2m.1 1.1h1.2m-.5-.1h1.2m.2 .8h1.2m-1.1-.3h1.2m-1.2 .1h1.2m-1-1.7h1.2m-.8 1.9h1.2m.4-1.6h1.2m-.4 .6h1.2m-.2 0h1.2m-1 .7h1.2m-.5 .7h1.2m-.9-2.2h1.2m-1.1 .1h1.2m-.5 .6h1.2m-1.2 .4h1.2m0 .6h1.2m-.4 .3h1.2m-.4-1.7h1.2m-.1 1h1.2m-1.1-1.3h1.2m-.9 1.5h1.2m.3-.5h1.2m4.2 .3h1.2m-.5 .6h1.2m-.9-1.2h1.2m.1-.6h1.2m.2 2.2h1.2m-.4-.6h1.2m-1-.1h1.2m.1-1.3h1.2m-.7-.6h1.2m-.7 1.7h1.2m1-.9h1.2m0 .4h1.2m-.9 1.4h1.2m-1.2-.8h1.2m.6-.3h1.2m3.4 .7h1.2m1-.5h1.2m15.4-2h1.2m.1 1.6h1.2m41.3 1.2h1.2m-.9-1.2h1.2m11.7-1.7h1.2m5.2 .3h1.2m12.9 1.4h1.2m-1 1h1.2m2.9-1.2h1.2m-1 .8h1.2m-.5-1.5h1.2m4.2-.6h1.2m1.4-.2h1.2m2.3 1.4h1.2m-.3 .8h1.2m.3-1h1.2m.9-.3h1.2m.6-.9h1.2m.9 1.6h1.2m-.7-.9h1.2m2.2 1.2h1.2m-.8-1.5h1.2m.5-.1h1.2m4.4 1h1.2m-.8 .3h1.2m4-.4h1.2m.6-.7h1.2m11.7 1.7h1.2m10.5-1h1.2m80.2 1.6h1.2m-.9-1.8h1.2m1.8-.3h1.2m.7 1.5h1.2m.7-.7h1.2m5 .3h1.2m0-1.4h1.2m2.8 2.1h1.2m5-.5h1.2m2.7-1.8h1.2m-.3 2.6h1.2m3.4-2h1.2m4.1 .5h1.2m-.9 .3h1.2m2.2 .7h1.2m1.8-1.1h1.2m-.7 1.1h1.2m.9-2.1h1.2m.1 .2h1.2m-.6-.3h1.2m.3 1.4h1.2m2.7 0h1.2m13.7-1.3h1.2m-410.4 3.2h1.2m16.4 .7h1.2m2.9-.5h1.2m-.5 1h1.2m.3-1h1.2m.6 .4h1.2m-.2 1.1h1.2m.6-1h1.2m-1 .2h1.2m.5 1.4h1.2m.8-.8h1.2m4.9 .2h1.2m-1-1.3h1.2m-.5-.2h1.2m-.2 1h1.2m-.8 1h1.2m1.5-1.5h1.2m-.4-.1h1.2m.4 1.5h1.2m-1-1.7h1.2m-.8-.3h1.2m0 1.2h1.2m.1 .4h1.2m-.3 0h1.2m1.5-1.3h1.2m.7 2.1h1.2m.7-1.5h1.2m-.3 1.4h1.2m-.8-1.2h1.2m-1-1.1h1.2m-.3 .4h1.2m-.7-.3h1.2m-.4 .5h1.2m-.9-.2h1.2m-1 1.5h1.2m-.4-.5h1.2m-1-.8h1.2m1.4-.6h1.2m1.6 1.1h1.2m1.8-1.1h1.2m2.8 .6h1.2m.5 1.3h1.2m.8-1.5h1.2m.3-.5h1.2m-.5 2h1.2m7.7-2.1h1.2m7 2.6h1.2m70.4-2.8h1.2m.7 2h1.2m2.7-.9h1.2m9.1 1.3h1.2m4.2-2.4h1.2m-.6 1.2h1.2m10.3-1.2h1.2m-.8-.1h1.2m1.8 1.4h1.2m0-.9h1.2m-1.2 0h1.2m-.1 1.5h1.2m1.6-.2h1.2m3.6 .5h1.2m.4 .7h1.2m-.9-1.1h1.2m1.5-.2h1.2m.4 .4h1.2m-.9-.4h1.2m.4-1.5h1.2m-.8 2.1h1.2m1.2-1.9h1.2m.6 .1h1.2m-.1 .3h1.2m.3-.3h1.2m2.8 .4h1.2m2.3 2h1.2m.1-1.9h1.2m14 .4h1.2m2.6 .3h1.2m78.8-.5h1.2m3.3-1.1h1.2m7.7 .3h1.2m5 .3h1.2m6.6-.2h1.2m3.5 .4h1.2m3.8 1.1h1.2m-.1-1h1.2m1.3 .8h1.2m13.9 .5h1.2m-.1 .2h1.2m-1.1-.5h1.2m2.5 .3h1.2m1.2-.5h1.2m3.1-1.7h1.2m3.2 1.4h1.2m-384.5 1.5h1.2m.9 .9h1.2m1.3-.6h1.2m7.6 .1h1.2m-1 0h1.2m-1 .2h1.2m-.8 .3h1.2m1.4 .2h1.2m10-.3h1.2m5.4 .3h1.2m1.1-.7h1.2m32.4-.3h1.2m75.1 1h1.2m-.4-.2h1.2m16.5-.8h1.2m2.5 1.1h1.2m5.4-.6h1.2m7.8 .3h1.2m4.8 0h1.2m4.2-.7h1.2m3.2 .7h1.2m3.3-.2h1.2m99 .2h1.2m15.2 .2h1.2m22.2-.5h1.2m4.1-.5h1.2m4.5 .5h1.2m0-.1h1.2m-.3-.4h1.2m.7 .6h1.2m6.7 .4h1.2m12.6-.8h1.2m19.3-.2h1.2m-37.9 37.3h1.2m5.9 0h1.2m2.6 1.4h1.2m0-1h1.2m.4-.8h1.2m-384.5 4.9h1.2m162.3-.1h1.2m196.8-1.7h1.2m1.4 .8h1.2m-.5 .7h1.2m-.7 .2h1.2m2.1-2h1.2m.2 2h1.2m11.6-2.2h1.2m-389.1 5.1h1.2m37.7-1.3h1.2m125.9 .3h1.2m162.6 1.2h1.2m35.8-1.3h1.2m.4 1.1h1.2m-.5-2.4h1.2m4.9 1.2h1.2m.8-1.4h1.2m2.5 .8h1.2m-401.1 4.8h1.2m9.9-2.4h1.2m6.9 .7h1.2m14.4 .9h1.2m.1 .5h1.2m20.5-1.4h1.2m129.5 1.3h1.2m136.9-.2h1.2m12.2 .7h1.2m1.3-1.7h1.2m.6 1.9h1.2m-1.2-.2h1.2m-.8-.4h1.2m-1.1 .6h1.2m.1-2.8h1.2m-.6 2.2h1.2m-.9 .5h1.2m-.8-2.7h1.2m-.5 2.3h1.2m-.4 .3h1.2m-.9-1.7h1.2m-.7-.5h1.2m-1.2 2.1h1.2m-1-.9h1.2m-1.1 0h1.2m-1-1h1.2m-.5-.2h1.2m-.1 1h1.2m-1-.4h1.2m-1 1.4h1.2m-.9-1h1.2m.8 .2h1.2m37.1-1.1h1.2m-343.1 3.1h1.2m114.4 1.5h1.2m5.6-1.5h1.2m-1.2 1.3h1.2m.6 .5h1.2m1-1.9h1.2m4-.1h1.2m.5 .2h1.2m3.1-.5h1.2m134.7 1.8h1.2m2.3-1.4h1.2m1.7 .4h1.2m1.6-.8h1.2m-.4 1h1.2m-.1-.1h1.2m.9-.6h1.2m0-.2h1.2m-.1 0h1.2m-1.1 1.3h1.2m-.6-1h1.2m.6-.2h1.2m-.9 1h1.2m-1.1 .1h1.2m-1 0h1.2m-.7 .8h1.2m-1.1-1.2h1.2m-.7 1.6h1.2m-.8 .1h1.2m0-2.1h1.2m.6-.6h1.2m-.6 2h1.2m-.9-1.7h1.2m-.6-.1h1.2m-.6-.2h1.2m-.9 .1h1.2m-.6 .8h1.2m-.8-1h1.2m.4 1.1h1.2m-1.1-1h1.2m-1.1 .3h1.2m-.1 1.5h1.2m-.5-1.9h1.2m4.1 1.4h1.2m11 1.2h1.2m.8-1.1h1.2m.4 .7h1.2m18.4-1h1.2m-369.8 3.4h1.2m0-1.4h1.2m10.6 1.3h1.2m6.1-.2h1.2m1.5-1.3h1.2m119.7 .9h1.2m-1.2 1.3h1.2m.8-1h1.2m1.3 .5h1.2m-.4 .8h1.2m.7-2.3h1.2m-1.1 1.5h1.2m.4-1.7h1.2m143.9 2.6h1.2m.1 .1h1.2m-.5-1h1.2m-.8 .5h1.2m2-.2h1.2m-.5 .5h1.2m3-.6h1.2m-1 .8h1.2m-.4-.5h1.2m-1.2-.3h1.2m.4 1h1.2m1.9-.8h1.2m.8-.1h1.2m-.3-.6h1.2m-.7 .6h1.2m-.3-.9h1.2m-.3-1.2h1.2m4.6 .8h1.2m.5 1.5h1.2m-.8 .4h1.2m-.7-.6h1.2m-.7-1.5h1.2m-1.1-.1h1.2m-.9-.2h1.2m.7 2.3h1.2m-1-.5h1.2m4-.3h1.2m-.6-1h1.2m-.4 1.7h1.2m1.6-.1h1.2m3.2-.6h1.2m-.5-1.4h1.2m2.6-.4h1.2m-.4 1.1h1.2m3.7 1h1.2m-360.5 2.6h1.2m7.8-.3h1.2m6.7-.8h1.2m6.6 1.5h1.2m9.5-1.4h1.2m3.6 1.3h1.2m100.2 .3h1.2m1.1 .4h1.2m0-1.2h1.2m.4-.5h1.2m-1.2 .6h1.2m-.7 .7h1.2m-1.2-.9h1.2m-.7 .8h1.2m-.6-1.9h1.2m3.3 .8h1.2m-.8 1.8h1.2m-.5 .1h1.2m-1.1-2.1h1.2m1.8 1.3h1.2m1.3-1h1.2m144.7 0h1.2m1.4-1h1.2m1.3 2h1.2m.8-.7h1.2m-.7 1h1.2m-.3-1.3h1.2m-.6 .3h1.2m-1.2-.1h1.2m-.1 1.5h1.2m.1-.8h1.2m-.8 .7h1.2m0-1.3h1.2m-.8-1h1.2m-1.2 1h1.2m-.8-1h1.2m-.1 2.2h1.2m-.9-1.3h1.2m-1.1-.7h1.2m-1.1-.4h1.2m0 1.4h1.2m3.1-.4h1.2m-.9-.1h1.2m.6 1.2h1.2m-.5 .3h1.2m-1-.7h1.2m-.7 .1h1.2m-1.1-1.5h1.2m-.8 .1h1.2m-1.1 .9h1.2m.2 1.1h1.2m-.7-1.8h1.2m.1 .2h1.2m-.4 1.6h1.2m1.7-1.8h1.2m2 1.5h1.2m1.1-1.3h1.2m2.4-.4h1.2m1.4 1.3h1.2m-375.1 3.5h1.2m10.9-.3h1.2m3.4-.5h1.2m-.6 1h1.2m2.2-.6h1.2m2.5 .3h1.2m.6 .2h1.2m0-1.5h1.2m12 0h1.2m6.9-1.1h1.2m-1.1 1h1.2m-.4 1.8h1.2m-.3-2.4h1.2m6.1 .7h1.2m-1 1.4h1.2m103.5-.4h1.2m2-.3h1.2m-.3-.8h1.2m2 0h1.2m-1.2 0h1.2m.4 1.6h1.2m-.2-2.2h1.2m1.5-.4h1.2m-.6 2h1.2m151.4-.7h1.2m-.9 .7h1.2m-1-.3h1.2m.8 .2h1.2m.1 .1h1.2m-.7-.8h1.2m-1.1 1.7h1.2m-1-1.3h1.2m1.7-.6h1.2m-.9-.2h1.2m-.8 1.4h1.2m-1.1-1.9h1.2m-.1 1.9h1.2m-1-1.6h1.2m-1.1 1.8h1.2m-.9-2.1h1.2m-.4 1.2h1.2m-.8 .8h1.2m-1.1 .5h1.2m-1.1-.9h1.2m-.8 .9h1.2m-1.1 0h1.2m1.1 0h1.2m.7-.8h1.2m-1.2-.8h1.2m-.2-1.2h1.2m-1.2 2.1h1.2m-.8-1.1h1.2m.3 1.6h1.2m-.9-2.6h1.2m-.7 1.6h1.2m-.7-.4h1.2m-1.2 .2h1.2m-.2 1h1.2m-.8-.3h1.2m-1.2-.4h1.2m-1.2-.9h1.2m-.6 1.9h1.2m1.9-1h1.2m-.9 0h1.2m-.4 .6h1.2m-.9-1h1.2m1.9 .4h1.2m-1.2 .8h1.2m-.9-.6h1.2m-.2-.7h1.2m-.7 .4h1.2m-.7 0h1.2m-1-.7h1.2m-1.2 1.6h1.2m-1.1-2.3h1.2m.9 1.7h1.2m-.7-1.5h1.2m-1 2.6h1.2m.3-2.4h1.2m.1-.5h1.2m.6 .4h1.2m-.3-.3h1.2m2.1 1.2h1.2m.6-1.1h1.2m3.1 0h1.2m-365.9 4.7h1.2m.5 .6h1.2m8.9-1.8h1.2m17.2-.7h1.2m3.6 .8h1.2m-1.2 .9h1.2m.8 .2h1.2m-1.2-.8h1.2m.4 .2h1.2m2 0h1.2m1.8-.4h1.2m102.4 .1h1.2m1.2 1.7h1.2m-.1-1.1h1.2m-.3-1.6h1.2m.1 1.7h1.2m-.8 .7h1.2m.4-.9h1.2m-.6 .4h1.2m.8-1.1h1.2m-1 1h1.2m-.5-.4h1.2m-.8-.8h1.2m-.6 2.2h1.2m-.2-2.6h1.2m.3 2.5h1.2m150.2-.4h1.2m1.4-2.1h1.2m-.9 2.4h1.2m-.9-.9h1.2m-.2-1.1h1.2m-.9-.2h1.2m-.8 1.7h1.2m-1.1-1.4h1.2m.3 2.1h1.2m-1-1.4h1.2m.4-.5h1.2m-.2 .3h1.2m-.8-1h1.2m-1.1 .5h1.2m-1.1 0h1.2m-1 1.6h1.2m-1-1.8h1.2m-1.1 .4h1.2m-1.2 .1h1.2m-1-.3h1.2m-.4 1.5h1.2m-.8 .4h1.2m-.9-1.7h1.2m-1.1 1.9h1.2m-1-.7h1.2m-.9 0h1.2m-1.1-1h1.2m-.9-.6h1.2m-.8 2.3h1.2m-.2 0h1.2m-1.2-1.9h1.2m-.9 1.7h1.2m-1.1-.5h1.2m-1.1-1.5h1.2m-1.1 1.2h1.2m-.7 .6h1.2m-.9-.3h1.2m-1-.9h1.2m-.9-.2h1.2m.4 1.7h1.2m.2-1.9h1.2m-.5 .2h1.2m-.5 1.2h1.2m-.8-1.1h1.2m-.2-.3h1.2m-.9 1.9h1.2m-1.2-.6h1.2m-1.1-2.1h1.2m-1.1 1.5h1.2m.2-.2h1.2m-1.2-1h1.2m-.5 .7h1.2m-1 1.7h1.2m-1-2.6h1.2m-1.1 .9h1.2m-.9-.7h1.2m.4 1.6h1.2m.1 .2h1.2m-.1 .4h1.2m-1-1.6h1.2m-1-.9h1.2m-1 0h1.2m-1 .6h1.2m-.7 .1h1.2m-.6 .3h1.2m-.9 .7h1.2m-.9 0h1.2m1.4 .2h1.2m.2-1.4h1.2m-1.1 .4h1.2m-.3 1.5h1.2m1-2.1h1.2m-.4 1.2h1.2m.4-.6h1.2m1-.7h1.2m-363.7 3.3h1.2m11.2 .9h1.2m0-.9h1.2m-.6 .3h1.2m.4 .2h1.2m1.6-.5h1.2m2.4 .8h1.2m-.4 1.6h1.2m6-2.6h1.2m4.5 1.3h1.2m115.7-.8h1.2m.9 .5h1.2m-.3 .1h1.2m-.6 .6h1.2m.8-1h1.2m0 1.2h1.2m-.8 .1h1.2m-.9-2.2h1.2m.7-.1h1.2m.4 1.9h1.2m.7-.1h1.2m4.1 .9h1.2m146.7-.9h1.2m-.4-.5h1.2m-1.1 .2h1.2m-.5-1.4h1.2m-.6 .6h1.2m-.6 1.3h1.2m-1.1-1.4h1.2m.2 1.9h1.2m-1-.1h1.2m.9 .2h1.2m-1-2.6h1.2m-.7 .8h1.2m-.3 .8h1.2m-1-.5h1.2m.2 .3h1.2m-.1-1.1h1.2m.2 .4h1.2m.3-.3h1.2m-1.1 1.6h1.2m-.4 .5h1.2m-1 .4h1.2m1.1-1.1h1.2m-.9 1h1.2m-1.1-1.1h1.2m-.9-.8h1.2m-.8 1.2h1.2m-.9 .4h1.2m-1-1.2h1.2m-.6-.7h1.2m-1 .6h1.2m-1.2 .5h1.2m-.4 .4h1.2m.3-1.8h1.2m-.4-.1h1.2m-1.1 1.4h1.2m-.8-1.2h1.2m-1.2 2.4h1.2m-.6-1.8h1.2m-1.1 .7h1.2m-.8 .1h1.2m-.5-1.1h1.2m-1.1-.2h1.2m-.8 2.3h1.2m-.9-.9h1.2m-.5-1.7h1.2m-.4 2.6h1.2m.1-.4h1.2m.1-1.4h1.2m-.7-1h1.2m6.6 2.7h1.2m-.9-.9h1.2m4.1-1.8h1.2m4.9 1.6h1.2m.8 .6h1.2m4.2-1.9h1.2m-384.4 3.9h1.2m5.1-.3h1.2m25.5-.5h1.2m13.8 .1h1.2m113.7 .5h1.2m-.5-.3h1.2m-.1 1h1.2m1-1.3h1.2m-.8 1.1h1.2m1.3-1.5h1.2m-.4 .1h1.2m153.8 1.9h1.2m-1-1.1h1.2m1.9 1.9h1.2m-1.1-1.3h1.2m-.4 .5h1.2m1.4-1.9h1.2m-1.1 1.9h1.2m-.9-1.6h1.2m-1.1 1.8h1.2m-.4-.2h1.2m-.8-.6h1.2m.3 1.3h1.2m.9-1.7h1.2m.1 1h1.2m-1 0h1.2m-1-.2h1.2m-.6-.1h1.2m0 .7h1.2m-.7-.1h1.2m-.9-2.2h1.2m-.4 0h1.2m-1.2 2.6h1.2m-.5-1.3h1.2m-.6-.9h1.2m-1.2 1.6h1.2m0-1.9h1.2m0 .2h1.2m-1 1.8h1.2m.4-1.1h1.2m-.9 .7h1.2m-1-1.7h1.2m.8 1h1.2m-1.1 .6h1.2m.2-1.5h1.2m-.5 1.2h1.2m.4 .8h1.2m-.8-.1h1.2m-.5-.5h1.2m-1 .9h1.2m-.2-.7h1.2m-.5-1.5h1.2m-.3 .1h1.2m.6 1.1h1.2m-1.1-.3h1.2m1-1.2h1.2m-.9 1h1.2m-.6-.6h1.2m-.9-.5h1.2m14 .9h1.2m-361.7 3.9h1.2m3.9 1.1h1.2m13.9 0h1.2m15.5-2.7h1.2m120.9 1.7h1.2m15.3-.4h1.2m129.1 1.5h1.2m2.9-.3h1.2m-.9-1.6h1.2m2.6 1.6h1.2m-1 .3h1.2m-.5-.8h1.2m.8 .2h1.2m-1.1-2.2h1.2m.4 1.6h1.2m-.9-.5h1.2m-.5-.3h1.2m-1-.8h1.2m-1.1 1.5h1.2m-.2 .8h1.2m-.7-.7h1.2m-.3 0h1.2m-.6 0h1.2m-.2-1h1.2m.2-.5h1.2m-.7 .8h1.2m-.5 .1h1.2m.4 1.3h1.2m-1-1.7h1.2m-.6-.7h1.2m-.8 .4h1.2m-1.1 1.5h1.2m-1.1 .1h1.2m-1.1 .1h1.2m-.8-1.7h1.2m-.9 1.3h1.2m.2-.9h1.2m-.1-.5h1.2m-.7 .2h1.2m0 2.1h1.2m0-1.4h1.2m-1 1h1.2m-.6-1.4h1.2m.1-.4h1.2m0 .6h1.2m0-.4h1.2m.9 .5h1.2m.6-1.1h1.2m1.2 2.7h1.2m-.4-1.8h1.2m6.4 .1h1.2m-.7 1.5h1.2m7.1-1.5h1.2m-.1-1h1.2m-376.5 4.2h1.2m1.7 .7h1.2m8.9-.3h1.2m-.6-.8h1.2m20 .5h1.2m18.7-.9h1.2m261.7 1.3h1.2m-.3-.6h1.2m.5-.6h1.2m-1-.4h1.2m3.6 .5h1.2m-.9 .1h1.2m-.4 .4h1.2m-.6-.9h1.2m1.6 .5h1.2m-1 .2h1.2m-.2-.1h1.2m-.6 1.2h1.2m2.9-.7h1.2m-.6-.5h1.2m-.4 1.7h1.2m-.2-.5h1.2m-.4-1.7h1.2m-1 .4h1.2m-1.2 0h1.2m-.6 .7h1.2m1.1 .5h1.2m1.9-.8h1.2m-1 .5h1.2m-.7 .3h1.2m.1 .6h1.2m4.3-1.5h1.2m-.9-.3h1.2m1.3 .3h1.2m3 .7h1.2m5.2 .2h1.2m6.3-1.7h1.2m-.6 .7h1.2m-381.4 4.5h1.2m32.8-2.1h1.2m292.7 0h1.2m-1 .4h1.2m.5 .8h1.2m-.2 .4h1.2m1.4-1.7h1.2m1.3-.1h1.2m2.1 .9h1.2m1.1-.1h1.2m1.6-.7h1.2m6.5 .1h1.2m11.1-.1h1.2m-180.7 5h1.2m143.4 .2h1.2m.9-1.7h1.2m2.1 .9h1.2m.4 1.1h1.2m1.4-2.2h1.2m10.5 .5h1.2m.1 1.5h1.2m-.1-2.3h1.2m1.8 1.1h1.2m.8 .6h1.2m4-1.5h1.2m5.6 1.6h1.2m1.6-1h1.2m11.4 .1h1.2m.1-.2h1.2m2.1 2h1.2m1.5-1.2h1.2m-333.2 2.6h1.2m2.7 1.5h1.2m13.9-1.9h1.2m116.7 .2h1.2m7.7-.4h1.2m-.4-.2h1.2m127-.1h1.2m3.2 .7h1.2m.1 1.5h1.2m.6-.3h1.2m.2-2h1.2m7.7 2h1.2m4.4 .3h1.2m-1-2.6h1.2m9.5 1.5h1.2m.2-.7h1.2m2.1 1h1.2m4.3 .1h1.2m-373.5 3.8h1.2m78.6-2.6h1.2m96 2.6h1.2m10.6-1.8h1.2m-1 0h1.2m-.4 1.1h1.2m-.3-1.4h1.2m.2-.2h1.2m-1 1.2h1.2m9-.2h1.2m115.3 .9h1.2m4.1-1.2h1.2m0-.1h1.2m2.1 0h1.2m2.9-.3h1.2m6.7 .4h1.2m-.9 0h1.2m1.6 .1h1.2m-.8 .4h1.2m-.8-.5h1.2m-.1 1.1h1.2m5.9 .7h1.2m4.7-2.1h1.2m1.2 2h1.2m2.9-.3h1.2m.6-1.2h1.2m-.8-1.4h1.2m3.8 1.8h1.2m-.3 1.1h1.2m2.1-2.5h1.2m3.3 .5h1.2m-296.2 4.2h1.2m85.4-1.5h1.2m-1.2-.3h1.2m7.8 .7h1.2m2.9 1.3h1.2m4.6 .3h1.2m-.3-.3h1.2m10-.6h1.2m2-1.5h1.2m-.3 1h1.2m106.1 1.1h1.2m1.5-.8h1.2m9.7 .1h1.2m2.9-.7h1.2m2 1.6h1.2m3.2-.8h1.2m.3 .8h1.2m-1.1-1.5h1.2m.1 1.9h1.2m-1.1-1h1.2m-.2 .7h1.2m1.9-.7h1.2m.1-1.4h1.2m.5 2h1.2m-1.1 .3h1.2m1.3-2.7h1.2m10.2 1h1.2m4 1.5h1.2m1.6-.9h1.2m2.2-1.7h1.2m-375.4 4.5h1.2m25.1-.4h1.2m127 0h1.2m.7 .4h1.2m1.9 .4h1.2m15.2-.8h1.2m1.1 .8h1.2m5.4 .8h1.2m11.4-2.4h1.2m-.7 1.6h1.2m2.7 .7h1.2m119-1.1h1.2m.6 .4h1.2m-.7-.3h1.2m2.6 1.3h1.2m2 0h1.2m1-1.2h1.2m-.9 .3h1.2m4.6-1.6h1.2m1 1.3h1.2m.8-.3h1.2m2.5 1.6h1.2m1.1-2.2h1.2m1.3-.1h1.2m.9 1.1h1.2m-.6-1.8h1.2m-.7 2h1.2m1.1-.2h1.2m.3-.9h1.2m-1 1.5h1.2m-.8 .1h1.2m4-2h1.2m-.3 .9h1.2m.9 1.4h1.2m3.5-.6h1.2m-1.1 .2h1.2m.6 .2h1.2m17.4-.3h1.2m-393.5 3.3h1.2m27.7-2h1.2m22.6 2.2h1.2m12.4-2.3h1.2m15.9 1h1.2m70.9 .3h1.2m-.4 0h1.2m5.4-.1h1.2m5.3-1h1.2m2.5 .9h1.2m3.4 1.1h1.2m6.3-.2h1.2m3.4 0h1.2m-.2-1.4h1.2m1.8 1.7h1.2m.5-1.2h1.2m-.6 .5h1.2m3.4-.8h1.2m2.9 .6h1.2m2.3-.2h1.2m2-.7h1.2m108.7 1.9h1.2m-1-1.9h1.2m-.2 1.4h1.2m-.4-.6h1.2m2.1 0h1.2m1.7-.7h1.2m1.8 1.4h1.2m-.1-.4h1.2m1-1.3h1.2m-.3 1.5h1.2m-.7-1.1h1.2m1.7-.8h1.2m-.6 .5h1.2m.7 1h1.2m1.5 .2h1.2m-.8-.3h1.2m0 .1h1.2m2.5 0h1.2m2.6 .3h1.2m2.5-.7h1.2m1.6 .7h1.2m15.6 .5h1.2m-.1 .3h1.2m10.1-2.5h1.2m3.9 1.6h1.2m1.1-.1h1.2m-404 1.8h1.2m2.4 1.6h1.2m.3-.8h1.2m-.4-.7h1.2m-.8 .3h1.2m1.5 1.4h1.2m4.9-.8h1.2m8.1-.8h1.2m8.5 .6h1.2m6.6 1h1.2m5.1-1.3h1.2m18.8-.4h1.2m16.1-.4h1.2m74.5 2.3h1.2m.8-.7h1.2m2.3-1.6h1.2m-.3 1.7h1.2m3-1.4h1.2m.5-.3h1.2m-.1 .3h1.2m-.8 1h1.2m2 .3h1.2m-.5 .1h1.2m4.9-.1h1.2m.1-.7h1.2m-.5-.4h1.2m-.5 1h1.2m.4 .9h1.2m0-1.2h1.2m-1.1 .4h1.2m3.8-.8h1.2m-.8 1.3h1.2m12.8-.4h1.2m1.3-1.4h1.2m-.1 .1h1.2m102.4 .5h1.2m8.6 .3h1.2m.5-.9h1.2m1.5 2.1h1.2m.2-1.2h1.2m1.3-1.4h1.2m2.1 1.8h1.2m1 .5h1.2m1.6-1.4h1.2m6.2-.9h1.2m.9 .3h1.2m1.7 .4h1.2m.4 1.9h1.2m-.6-1.1h1.2m2.9-.6h1.2m.2 1h1.2m5-.7h1.2m9.6-.6h1.2m5.7 .3h1.2m1.1-.9h1.2m-391.8 4.8h1.2m2.6 .5h1.2m10.3-1.9h1.2m1.8 .5h1.2m2.1 1.6h1.2m10.4-2h1.2m3.8 .5h1.2m1.1-.8h1.2m10.4 2.4h1.2m28.9-2.1h1.2m78.2-.5h1.2m.6 1.3h1.2m.8-1.2h1.2m-.9 2h1.2m2.4-1.9h1.2m2.6 1.4h1.2m-.5-.3h1.2m-.8-.6h1.2m2.5 1.2h1.2m-.9-1.9h1.2m-.9 1.5h1.2m-.9 0h1.2m3.4-1.6h1.2m.3 .5h1.2m.4 1.3h1.2m1.9-1.5h1.2m.7 2.2h1.2m-.7 0h1.2m3.8-2.5h1.2m-1 1.6h1.2m-.9-.4h1.2m-.3-.8h1.2m1.1 .2h1.2m-.7-.6h1.2m4.9 2.1h1.2m6.7-.3h1.2m.5 .9h1.2m8 .1h1.2m93.6-2h1.2m4.4 1.9h1.2m1.1-1.2h1.2m-.1-1.2h1.2m2.2 1.8h1.2m-.3 .3h1.2m3-1.8h1.2m2.2 .2h1.2m-.8 1.5h1.2m.5 .1h1.2m-.5-1.7h1.2m.4-.5h1.2m.6-.4h1.2m3.2 2.2h1.2m.5-1.4h1.2m-.1 1.3h1.2m1.8 .9h1.2m-.9-1.5h1.2m.2 .3h1.2m.3-.7h1.2m3.6 .9h1.2m4.9 .4h1.2m-1-1.5h1.2m.8 .4h1.2m1.4-1.2h1.2m13.4 1.3h1.2m-374.3 2.3h1.2m7.2 1.4h1.2m2.8-1.1h1.2m3.8-.5h1.2m13 .8h1.2m5.2 .6h1.2m.8 .7h1.2m2.6-.2h1.2m4-1.3h1.2m2 .9h1.2m16.5-1.6h1.2m76.2 .1h1.2m3.3 2.2h1.2m-.6-.3h1.2m6.6 .1h1.2m1 .3h1.2m-.4-.2h1.2m.1-2.2h1.2m2.7 .1h1.2m.6 2h1.2m.3 .3h1.2m-.3-1.6h1.2m-1 .3h1.2m1.5 .1h1.2m-.8 1.3h1.2m1.5-.8h1.2m-.8 .8h1.2m-.6-2.6h1.2m0-.2h1.2m-1.2 .6h1.2m-1 1.7h1.2m.9-1.9h1.2m2.6 2.4h1.2m-.1-1.3h1.2m2.2-.2h1.2m-.7-.8h1.2m110.2 .4h1.2m-1.2 .7h1.2m0-1.6h1.2m2.9 1.2h1.2m.3 .1h1.2m.4-.6h1.2m3.2-.5h1.2m-.9 1.3h1.2m-.3-1.4h1.2m.2 1.4h1.2m-.4-1.4h1.2m3.7 2h1.2m-1.2 .1h1.2m4.9-1.7h1.2m.2 2.4h1.2m-.1-1.5h1.2m-.7 1.4h1.2m5.9-.8h1.2m-.3-.1h1.2m3.2 .6h1.2m-.7-1.9h1.2m-.1 .9h1.2m9.3 .7h1.2m-362.1 2.6h1.2m5.2 .9h1.2m-.4-2.5h1.2m2.6 1.5h1.2m1.4-1.2h1.2m7.7 1.4h1.2m5.6-1.3h1.2m-.7 .4h1.2m.7 1.2h1.2m1.9-1.1h1.2m4.5-.9h1.2m-1 2.5h1.2m14.2-1.3h1.2m5.2 .9h1.2m80.7-1.3h1.2m3 1h1.2m.8-1.8h1.2m1 2.2h1.2m4.4-1.8h1.2m-.5 .4h1.2m.2-1h1.2m-.2 2h1.2m-.7 .7h1.2m.4-1.9h1.2m.4 1.5h1.2m-.7-1.5h1.2m-.4 2.1h1.2m1-1.9h1.2m-.2 .6h1.2m-.8-1h1.2m1.1 .6h1.2m-1 .3h1.2m.3-1.6h1.2m3 .9h1.2m.9 1.2h1.2m-.8 .8h1.2m-1.1-.3h1.2m-1.1 0h1.2m-.7-1.3h1.2m1.7 .1h1.2m2.4-.7h1.2m1.5 0h1.2m.8 .5h1.2m2.5 1.6h1.2m5.6-1.9h1.2m-1-.2h1.2m100.8 .2h1.2m3.7-.6h1.2m.5-.1h1.2m.3 .5h1.2m-1 .4h1.2m.2-1.1h1.2m.8 2.2h1.2m-1-.3h1.2m-.9 .7h1.2m-.7-1.3h1.2m-.3 1.4h1.2m.3-.7h1.2m2.4-1h1.2m-.5 1.8h1.2m1.6-1.5h1.2m-1 0h1.2m.6 .4h1.2m.2-.4h1.2m-.6 1.6h1.2m.8-2.6h1.2m-1.1 1.4h1.2m.3 .2h1.2m1.9 1h1.2m1.9 .1h1.2m2.7-2.4h1.2m6.4 1.6h1.2m0 .7h1.2m.2-1.7h1.2m1.7 .8h1.2m.8-1.4h1.2m-.2 .9h1.2m10 .4h1.2m5.1 .8h1.2m-376.6 2.2h1.2m-.7 .1h1.2m.1-1.9h1.2m4 2.6h1.2m-.5-.7h1.2m5.7-.2h1.2m8 .5h1.2m-.6-1h1.2m3 .2h1.2m2.1-.1h1.2m-.6-.4h1.2m3.7-.7h1.2m1.6 1.1h1.2m.9-.5h1.2m1.4 2h1.2m5.8-2.2h1.2m.8 .2h1.2m-.3 1.9h1.2m10.4-1.4h1.2m72-.8h1.2m1.4-.6h1.2m0 1.1h1.2m-1 1.4h1.2m-.9 .5h1.2m.6-1.5h1.2m-.7 .1h1.2m.3-.6h1.2m-.1 1.3h1.2m0 .1h1.2m1.2-2h1.2m-.8 .9h1.2m1.8-.9h1.2m-.3 2.3h1.2m5.7-.2h1.2m-1.1-2.5h1.2m-1.1 1.4h1.2m-1.1 1h1.2m-.2-2h1.2m-.1 1.4h1.2m-1.1-.5h1.2m0 .3h1.2m.7-1.1h1.2m-.2 1.1h1.2m2.6 .8h1.2m-.5 .4h1.2m0-1.4h1.2m.2 .5h1.2m1.7 1.1h1.2m1.1-2.2h1.2m.9 .6h1.2m1.5-.9h1.2m-.8 .7h1.2m1.9 .9h1.2m1.1-1.3h1.2m.8-.4h1.2m9.2 .8h1.2m25.8 1.2h1.2m67.5 .5h1.2m-.2-.6h1.2m1.4-.9h1.2m5.5-.4h1.2m-.4 1.6h1.2m-1.1 0h1.2m-.7-2.5h1.2m3 .5h1.2m-.9 1.4h1.2m2.4-1.3h1.2m-.4 0h1.2m.2 1.2h1.2m-1.1-.4h1.2m1.6 1.3h1.2m-1-1.5h1.2m1.2-1h1.2m1-.1h1.2m-.9 2.2h1.2m2.5-1.5h1.2m-.5 .9h1.2m-.5-.7h1.2m5.3 .5h1.2m1.3 .5h1.2m-.6-1.3h1.2m-.3 1.3h1.2m1.9 0h1.2m.8-1.6h1.2m-.4-.4h1.2m9.5 1.4h1.2m3.5-.6h1.2m3.8-.4h1.2m-389.1 3.5h1.2m5.1 .6h1.2m1.5 1.3h1.2m-.9-.1h1.2m-.5-.8h1.2m2.1-1.7h1.2m1.5 1.8h1.2m3-1.5h1.2m-.2 .6h1.2m6-.2h1.2m-.5 1.7h1.2m6.5-.2h1.2m.8-.7h1.2m13.7 0h1.2m4.4 1h1.2m-.6-1.5h1.2m14.5-1.2h1.2m85.5 1.4h1.2m-.8 .4h1.2m-.6 .1h1.2m1.5-.2h1.2m2.7-1.4h1.2m.2 2.1h1.2m-1.1-.6h1.2m-.2 0h1.2m-1 .3h1.2m.1-.1h1.2m.5-1h1.2m-.9-1h1.2m-.9 1.9h1.2m-1.2 .2h1.2m-.6-1.8h1.2m-.4-.4h1.2m-1 1.4h1.2m-.6 1.3h1.2m.5-.8h1.2m-1.2-1.5h1.2m-.9-.1h1.2m-.3 2h1.2m-.1-2.2h1.2m-1.1 2.5h1.2m-1.1-.1h1.2m-1.1-1.8h1.2m-1.1-.6h1.2m.5 2h1.2m.8-1.5h1.2m0 2.3h1.2m1.4-2.8h1.2m.2 .8h1.2m0 .9h1.2m-.4-.8h1.2m-1.2-.8h1.2m-.6 2.8h1.2m.7-.4h1.2m-1 .3h1.2m-.1-.8h1.2m2.2-.8h1.2m117.6 1.5h1.2m.3-.8h1.2m.7-1.6h1.2m1.6 1.6h1.2m2.3-1h1.2m7.1 .9h1.2m1.4-.3h1.2m-.9 1.1h1.2m-1.2-2.1h1.2m.2 .3h1.2m-1.2-.7h1.2m-.5 1.6h1.2m.3-.5h1.2m1.3-.3h1.2m.8-.4h1.2m.7 .6h1.2m4.3-1h1.2m-.1 1.9h1.2m.5 .6h1.2m.4-1.1h1.2m10.6-.1h1.2m.6-1.1h1.2m-360.8 3.6h1.2m.2 .6h1.2m.8-.8h1.2m.6 1.3h1.2m-1.1-1.8h1.2m-1.2-.2h1.2m-.1 1.1h1.2m.2-.6h1.2m.2 .2h1.2m3.2 .6h1.2m2.8-.3h1.2m-1 1h1.2m-.9-1.1h1.2m.3 1.8h1.2m1.1-2h1.2m1.7 2.2h1.2m10.1-.3h1.2m.4-.9h1.2m5.6 .8h1.2m.8-.9h1.2m-.9 .9h1.2m12.2-1.3h1.2m1.5 1.1h1.2m84 .2h1.2m-.5-1h1.2m.6-.4h1.2m-.9 0h1.2m-.9-.6h1.2m.6 1h1.2m.8-.3h1.2m.8 1.1h1.2m.2-1.7h1.2m-.1 .1h1.2m.4 1.8h1.2m1-.2h1.2m-.5-.6h1.2m.5 .3h1.2m-.3 0h1.2m-.8 .2h1.2m.2 .3h1.2m.8-.8h1.2m-.3-.1h1.2m-.7 1.2h1.2m2.6-.2h1.2m-.2-1.2h1.2m-.5-1.1h1.2m.6 .7h1.2m.2 .6h1.2m-.7 .4h1.2m1.4-1.2h1.2m-1 .8h1.2m4-1h1.2m1.1 1h1.2m2.6 1h1.2m-.9-.8h1.2m-1-.2h1.2m106-1.5h1.2m.8 1h1.2m6.2 .9h1.2m-1 .5h1.2m.5 .1h1.2m-.4-2h1.2m-.4-.5h1.2m3.5 2.3h1.2m1.8-1.2h1.2m-.1 .6h1.2m.3 .6h1.2m-.9-1.9h1.2m.2 .5h1.2m1.4 .1h1.2m2.1-.6h1.2m-.4 1.9h1.2m4-.2h1.2m-.5-1.7h1.2m-.9-.2h1.2m3.5 1.4h1.2m6.4 .6h1.2m21.3-1.1h1.2m-391.4 3.8h1.2m.1-1.1h1.2m1.1 1.2h1.2m-1-1.6h1.2m6.7 .3h1.2m0 2h1.2m-.9-2.2h1.2m9.4 2h1.2m.1 .2h1.2m-1.1-2.7h1.2m15.5 2.4h1.2m2.7-.2h1.2m.4 .2h1.2m-.1-1.5h1.2m1.2-.1h1.2m8.2-.1h1.2m11 .8h1.2m0 .9h1.2m1.7-1.5h1.2m77.2 1.9h1.2m2.5-1.6h1.2m.8-.5h1.2m1.1 1.4h1.2m2-.4h1.2m-1.2 .2h1.2m.3-.8h1.2m.1-1.2h1.2m3.3 2h1.2m.3-1.1h1.2m-.9 .8h1.2m3.7 0h1.2m-1-1.1h1.2m1.6-.2h1.2m-.1 1.7h1.2m4.8 .5h1.2m1.1-2.5h1.2m.2-.1h1.2m-1.1 .5h1.2m4.3 .8h1.2m-.9-.7h1.2m2-.1h1.2m1.6 .8h1.2m2.1-.4h1.2m-1-.5h1.2m2.4 2h1.2m106.2-2.1h1.2m10.6 .9h1.2m3-.5h1.2m1.3 1.8h1.2m.4-1.7h1.2m.9 1.2h1.2m-.3-.8h1.2m7 1.3h1.2m4.2-1.8h1.2m1.2 .8h1.2m5.8 1.1h1.2m2-1.1h1.2m21.6-.7h1.2m-392.3 2.8h1.2m-.5 1.8h1.2m1.8 .3h1.2m22.8-.3h1.2m-.5-.9h1.2m9.9-.5h1.2m2.9-.1h1.2m6.5 1.3h1.2m-.7-.6h1.2m.4-.5h1.2m.2 1.6h1.2m2.5-1.9h1.2m-.6-.3h1.2m-.8 1.1h1.2m.4-1.4h1.2m19.4 2.2h1.2m72-1.5h1.2m7.3 2h1.2m-.1-2h1.2m-.2 1.3h1.2m-1.2-1.3h1.2m-.9-.2h1.2m.6 .5h1.2m3 .3h1.2m-.1-.3h1.2m4.9 1.3h1.2m.6-2.4h1.2m-1 .7h1.2m.3 2h1.2m-1.1-1.8h1.2m-1.2-1.1h1.2m1.1 1.7h1.2m-.6 1h1.2m.2-2h1.2m.3 .5h1.2m-1-.7h1.2m3.3 .2h1.2m-.3 1h1.2m2-.3h1.2m-.6 .2h1.2m.7 .2h1.2m-.3 .9h1.2m.5 0h1.2m-1-.8h1.2m112.4 .4h1.2m-.5 0h1.2m5.9-2.3h1.2m9.2 1.3h1.2m-1.2-.2h1.2m-.8 .6h1.2m6-1h1.2m.1-.4h1.2m2.5 1.2h1.2m.1 .7h1.2m2.3-1.2h1.2m1.4 .7h1.2m2-.4h1.2m.9-.4h1.2m24.1 2h1.2m4.3-.2h1.2m-401.5 1.3h1.2m1.9-1h1.2m4.7 .2h1.2m6.8 1.4h1.2m3.8 1.3h1.2m9.7-2.5h1.2m5.8 .7h1.2m5.5 .3h1.2m2.5 .9h1.2m6.3-.9h1.2m5.2-1.2h1.2m.8 0h1.2m7.6 .6h1.2m3.2 0h1.2m2.2-.3h1.2m7.6 1.1h1.2m-.8 .5h1.2m71.3-.7h1.2m3.7 .2h1.2m5.7-1.3h1.2m3.5 1.3h1.2m-.5 1h1.2m1.2-2.3h1.2m-1.1 1.3h1.2m14.3 0h1.2m1.1-1.2h1.2m3.1-.1h1.2m8.8 .9h1.2m109.4-.9h1.2m10-.1h1.2m17.7 .4h1.2m-1.2 1.6h1.2m5.3-.5h1.2m14.2 .5h1.2m1.7 0h1.2m.3-.9h1.2m19.8 .1h1.2m8.1-.2h1.2m-432.3 4.2h1.2m28.4-2h1.2m0 1.6h1.2m4.1 .1h1.2m11.4-1.7h1.2m5.4 .6h1.2m1.5-.1h1.2m-.7 .6h1.2m-1 .9h1.2m4.1 .3h1.2m7.6-.6h1.2m5.6-.4h1.2m.3-1.1h1.2m.2 .6h1.2m11.7-.3h1.2m-.3 1.5h1.2m79.5-.6h1.2m8.9-.9h1.2m1.1 2h1.2m4.8-2.2h1.2m5-.5h1.2m4.6 .6h1.2m1.7 1.9h1.2m.3-.1h1.2m4.6-2.2h1.2m-.9 1.4h1.2m-.8 .5h1.2m14.4-1.7h1.2m4.1-.3h1.2m115.8 1.6h1.2m6.1-.2h1.2m8.2-1.3h1.2m6.3 1.2h1.2m8 1.2h1.2m4.6-.1h1.2m2.2-.2h1.2m-.4-2.2h1.2m-397 3.3h1.2m16.6 1.8h1.2m19.4-.2h1.2m-.7-.7h1.2m5.8-1.5h1.2m5 2.2h1.2m.4-.6h1.2m8 .6h1.2m-.1-1.9h1.2m-.4 1.2h1.2m-1.1 1.1h1.2m29.5-.9h1.2m16.6-.2h1.2m46.4 .7h1.2m18.5-.5h1.2m3.1-1.3h1.2m.3 1.9h1.2m3.7-.2h1.2m1.6-1.1h1.2m2.1 1.6h1.2m.6-.9h1.2m9.2-.8h1.2m1-.4h1.2m5 .2h1.2m15.3-.4h1.2m126.5-.2h1.2m6.3 1.8h1.2m3.1 .4h1.2m7.6 0h1.2m2.9-.7h1.2m-1.2-.7h1.2m-.1 .2h1.2m-.4 1.7h1.2m-.1-1.9h1.2m10.8 .2h1.2m-402.5 4.7h1.2m5.3-1.2h1.2m1.9-1.3h1.2m-1.1-.2h1.2m.3 2.1h1.2m-.3 .6h1.2m0-.6h1.2m2.6 0h1.2m17.4-.1h1.2m14.8-1.4h1.2m5.8-.4h1.2m9.7 2h1.2m-.2-2h1.2m-1 2.1h1.2m14.4-2.2h1.2m75.8 1.4h1.2m13.5 .8h1.2m6-.2h1.2m.7-.2h1.2m2.1 .7h1.2m3.6-1.8h1.2m2.3 1.1h1.2m3.4 .7h1.2m.4-.5h1.2m2.9-1.4h1.2m-.9 .7h1.2m-.7-.8h1.2m-1.1 1.1h1.2m-.4-.3h1.2m3.5 0h1.2m3.7 1.5h1.2m2.2-2.1h1.2m9.5-.6h1.2m1.5 2.7h1.2m113.1-.5h1.2m14.1-1.1h1.2m4-.7h1.2m9.5 1.6h1.2m11.2-1.5h1.2m4.1 .6h1.2m1.9-.7h1.2m.2 1.7h1.2m-.1 0h1.2m0-.2h1.2m-1-.4h1.2m3.3 .4h1.2m1-1.6h1.2m.7 .6h1.2m4.9-1.1h1.2m6.5 .9h1.2m-427 4.8h1.2m3.4-.7h1.2m2.4-.5h1.2m-1.1-.1h1.2m.8-.4h1.2m3.7 1.7h1.2m-.5-1.9h1.2m8.5 .2h1.2m0 0h1.2m3 0h1.2m2.8 .5h1.2m4.8 0h1.2m2.2 .7h1.2m19.9-.9h1.2m20.6 1.4h1.2m8-.3h1.2m77-.3h1.2m7.1-2h1.2m7 1.5h1.2m1.1-.4h1.2m4.8 .6h1.2m.1 1h1.2m2.8-.9h1.2m-1.1-.1h1.2m-.1 0h1.2m1-.3h1.2m14.5-.9h1.2m139.1 .7h1.2m13.8 1h1.2m1.3-1.6h1.2m2.8 .3h1.2m3.7 1.5h1.2m3.2-1.9h1.2m3.8 1.7h1.2m1.7 .1h1.2m6.5-.7h1.2m1.5-1.4h1.2m8.6 .7h1.2m-417.1 4.1h1.2m.4-1.6h1.2m2.3 1.5h1.2m2.8-1.1h1.2m-1.1-.5h1.2m-.5 1.6h1.2m2 0h1.2m1.9 0h1.2m-.6-1.9h1.2m19.9 .8h1.2m4.9-.5h1.2m2-.4h1.2m-.4-.1h1.2m.4 1.5h1.2m7.5-1h1.2m9.4 .6h1.2m13.6-.8h1.2m7 1.5h1.2m4.3-1.1h1.2m63.3 2.1h1.2m6.3 0h1.2m3-.9h1.2m6.8-.5h1.2m-.3-.9h1.2m-1.1 .6h1.2m.8 .5h1.2m2.8 .6h1.2m2 0h1.2m-.7-1.7h1.2m4.5 2.1h1.2m1.4-.9h1.2m28.4-.5h1.2m2.5 .6h1.2m139.3-1.7h1.2m6.1 1.4h1.2m-.3 1.4h1.2m5.1-1.4h1.2m6.5-1.5h1.2m6.4 1h1.2m-.9 .4h1.2m-1.1-.8h1.2m14 .3h1.2m-420.4 3.1h1.2m2.6 .8h1.2m-.6-.7h1.2m.1-.8h1.2m2.7 .9h1.2m-.4 1.1h1.2m-.5-.4h1.2m.3-1h1.2m-.2 .4h1.2m1.9 1.5h1.2m.2-.4h1.2m-1.1-2.3h1.2m-.1 .4h1.2m5.2 2.3h1.2m3.2-1.2h1.2m-.1 1.1h1.2m1.1 .2h1.2m3.3-2.7h1.2m0 .7h1.2m1.1-.4h1.2m1 2.2h1.2m-.8-2.6h1.2m-.2 1.9h1.2m1.3-1.4h1.2m-.7 1.5h1.2m26.2-1.2h1.2m1.8-.3h1.2m16.3 1.8h1.2m62.9 .6h1.2m-.6-.7h1.2m11.4-.1h1.2m-1.1 .6h1.2m.1-2.5h1.2m-.8 .6h1.2m2.2-.5h1.2m1.5 .8h1.2m3 .7h1.2m3.3 .6h1.2m2.9-.5h1.2m-.8 0h1.2m1.5-1h1.2m7.1-1h1.2m-.9 1.5h1.2m1.4 1.4h1.2m.9-1.3h1.2m11.8-.8h1.2m134.2 .9h1.2m14.7 .3h1.2m14.8-.2h1.2m-.9-1.1h1.2m-.5-.1h1.2m.8 .4h1.2m5.1 0h1.2m7.3 1.8h1.2m-411.8 1.9h1.2m6.7-1.3h1.2m-.3 1.8h1.2m.5-.4h1.2m-.6-1.2h1.2m-.6 .6h1.2m3.4 1.8h1.2m0-2.2h1.2m3.6-.2h1.2m-.2 2.3h1.2m-.6-.6h1.2m3.3 .1h1.2m2.3-.5h1.2m3.5-.8h1.2m3.3 1.4h1.2m2.7 .2h1.2m.3-1.8h1.2m13.3-.9h1.2m-1 1.4h1.2m3.7-.2h1.2m2.9-.1h1.2m28.4 1.3h1.2m65.4-1.7h1.2m3.2 1.3h1.2m1.1-.7h1.2m3.2 1h1.2m1.4 .5h1.2m1.2-.5h1.2m3 .4h1.2m3.9 .1h1.2m4.8-1.7h1.2m4.5 1.8h1.2m-1-.7h1.2m4.3 .3h1.2m.9 .4h1.2m2.4-1.8h1.2m6.7-.4h1.2m4.9 1.4h1.2m124.8-2h1.2m16.3 2.8h1.2m4.6-2.9h1.2m9 2.2h1.2m3.5 .5h1.2m.9-1.1h1.2m-.3 1.3h1.2m-.2-2.5h1.2m4.1 .4h1.2m13.3 1.7h1.2m-411.3 1h1.2m-.7 .1h1.2m8.3 1.5h1.2m-.3-1.4h1.2m2.1 1.1h1.2m-.8-.2h1.2m-.5-.3h1.2m-1 .7h1.2m-.9 .2h1.2m-.6-1.7h1.2m6.1 .6h1.2m.6 1.4h1.2m-.9-1.7h1.2m-.4 1.2h1.2m-.7-.5h1.2m.6 .7h1.2m1.5-1h1.2m2.2 .5h1.2m.7-1.1h1.2m-.7 2.3h1.2m1.8-.2h1.2m-.9-2.2h1.2m7.7 .2h1.2m5.5 1.9h1.2m17.2-2.4h1.2m6.8 2h1.2m25.3-2h1.2m62.9 2.1h1.2m6.9-.9h1.2m-.7 1.2h1.2m.8-1.9h1.2m-.2 1.9h1.2m5.7-.5h1.2m13 .2h1.2m137.5-1.7h1.2m12.7 2.1h1.2m9.4-2.5h1.2m7.7 1.9h1.2m-.3-.3h1.2m17.3-1.5h1.2m1.2 2.2h1.2m1.7-1.9h1.2m-396 3.5h1.2m2.6-.3h1.2m.6-.4h1.2m2.8 .3h1.2m0 .6h1.2m.3 .2h1.2m0-.2h1.2m-.2 .4h1.2m-1.2 1.1h1.2m2-.6h1.2m-1.1-1.5h1.2m-.9 0h1.2m.8-.5h1.2m.7 .9h1.2m-.3 .7h1.2m-.6-1.4h1.2m1 1.8h1.2m-1 .4h1.2m-1.2 .1h1.2m-1.1-.8h1.2m1.8 .1h1.2m-1.1 .6h1.2m2.6-1.5h1.2m-.5 1.8h1.2m.8 0h1.2m-1.1-2.1h1.2m4.1-.8h1.2m-.7 2.5h1.2m4.6-1.5h1.2m-.7 1.5h1.2m108-2.5h1.2m.2 3h1.2m3.2-2.5h1.2m-.7 .2h1.2m.1 1.3h1.2m-.7-1.1h1.2m-1.1 1.1h1.2m-.4 .3h1.2m2.9-1.5h1.2m-.2 .2h1.2m4.4 1h1.2m-.3 .9h1.2m1.6-.9h1.2m1.2-.8h1.2m.2-.2h1.2m4.3 1.7h1.2m.9-2.7h1.2m4.1 .3h1.2m167.3 .9h1.2m-.2-.9h1.2m15.3 1.8h1.2m8.8 0h1.2m8.7-.5h1.2m7.1 .4h1.2m-407 3.8h1.2m.5 .2h1.2m-.1-1h1.2m.8 .9h1.2m-1.1 0h1.2m-1.1-1h1.2m-1-1.7h1.2m-.4 1.4h1.2m-.8-.7h1.2m1 1.2h1.2m-.7-.6h1.2m-1.1 .7h1.2m.1-.5h1.2m-1.1 .9h1.2m.8-.4h1.2m.7-.3h1.2m-.6-1.9h1.2m.4 1h1.2m-1.2-.3h1.2m-.3-.6h1.2m3.5 2.6h1.2m-.2-1h1.2m-.9 .9h1.2m.8-.9h1.2m.1 1.1h1.2m.5-2.5h1.2m-.3 0h1.2m1.5 1.9h1.2m.1 .7h1.2m6.2-1.9h1.2m16 1.3h1.2m85.5-2.2h1.2m4.9 1.5h1.2m-.6 0h1.2m4.7-.3h1.2m-.3-.1h1.2m-.5 1.7h1.2m4.3-1.1h1.2m-.5 1.2h1.2m-.7-3h1.2m-.6 .1h1.2m.1 1.6h1.2m-.5-.7h1.2m-1.1-.3h1.2m-.2 .8h1.2m.6-1.1h1.2m.1 2.5h1.2m-.7-.4h1.2m-1-.9h1.2m-.5 .6h1.2m-.6-1.7h1.2m-.3 1.8h1.2m-1.1 .6h1.2m-.3-1.5h1.2m-1 1.5h1.2m3.5-.5h1.2m2 0h1.2m-1-.6h1.2m-1.1-1.4h1.2m142.7 .8h1.2m22.9-.3h1.2m-368.3 4.5h1.2m7.4-.9h1.2m1.1 .7h1.2m1 .1h1.2m2.2-2.2h1.2m-.7 0h1.2m.8 2.8h1.2m-.6-1.2h1.2m1.3-.3h1.2m-.3-.4h1.2m-.8 .4h1.2m-.5 1.2h1.2m-.2-1.7h1.2m-1.1-.1h1.2m.9 1.4h1.2m-.5-.7h1.2m-.3 0h1.2m-1 .9h1.2m-.9-2.2h1.2m-.9 1h1.2m-.7 .8h1.2m1.3-.9h1.2m-.9 .8h1.2m-1-.4h1.2m-.7-.9h1.2m-1.1 1.4h1.2m-.2-.8h1.2m-.3 .2h1.2m-.9 1.3h1.2m.8 0h1.2m-.5-.8h1.2m-1.2 .8h1.2m.7-2.1h1.2m1.7 1.9h1.2m7.5 .2h1.2m-1.2 0h1.2m104.3-.9h1.2m10.7 .1h1.2m-.8 .1h1.2m-.9-.5h1.2m-.4 .2h1.2m.1-1.3h1.2m2.8 .9h1.2m1.5 .7h1.2m-.5 .5h1.2m-1.1 .1h1.2m-.7-2.5h1.2m-1 .1h1.2m1.4 .3h1.2m0 .6h1.2m.4-1h1.2m.1 1.1h1.2m-.8 .4h1.2m-.3 1.1h1.2m.6-.1h1.2m-1.1-.1h1.2m0-.3h1.2m2.2-2.1h1.2m-.2 1.1h1.2m1.5 1h1.2m-.9-.7h1.2m.3-.6h1.2m2 .6h1.2m-.8 1.5h1.2m4.1-1h1.2m143.3-1.4h1.2m2.2 .5h1.2m24-.7h1.2m7 .4h1.2m-378 3.7h1.2m-.2 .8h1.2m.6-1h1.2m1.3-.2h1.2m3.3 .6h1.2m-1-1.6h1.2m2.1 .4h1.2m-1.1 1.1h1.2m-.9 1.3h1.2m-.9-1.8h1.2m.1 .2h1.2m3.4-.3h1.2m1.6-.7h1.2m1.2 1.9h1.2m.1-1.3h1.2m-.3-.2h1.2m-.1 1.2h1.2m-1.1-.3h1.2m.3-1.3h1.2m2.6 .5h1.2m.6 .3h1.2m-1.2-.5h1.2m9.2 1.7h1.2m13.6 .7h1.2m71.1-2.3h1.2m16.3 0h1.2m-.6-.3h1.2m1.8 0h1.2m-.9-.4h1.2m1.7 .3h1.2m-.8 1.5h1.2m-.7 .5h1.2m-1.2-.3h1.2m-.8 .5h1.2m-1-1.5h1.2m-.3 0h1.2m-.6-.5h1.2m-.1-.1h1.2m-.5 2.5h1.2m-.5-.6h1.2m-.8-.6h1.2m2.2-.4h1.2m-.8-1.2h1.2m-1.1 .2h1.2m-.8 1.4h1.2m-.2-1.1h1.2m-1.1 2.1h1.2m-.6-1.9h1.2m.5 2.1h1.2m-.5-2.9h1.2m-1.2 2.6h1.2m0-2.4h1.2m0 .5h1.2m-1.1 .3h1.2m-1.1-.3h1.2m-.9-.7h1.2m-.3 1.9h1.2m-.8-1.3h1.2m-.2 .3h1.2m-.8-.6h1.2m-1.1 .8h1.2m.7-.8h1.2m-1.2 1.2h1.2m1.5 .7h1.2m1.5-1.1h1.2m-.9 .5h1.2m-1.1-1.5h1.2m1.3 1.5h1.2m.4-.7h1.2m-1.1-.1h1.2m2.8 .7h1.2m169.2 1.2h1.2m9.7-2.2h1.2m20.7 1.8h1.2m-401 3.5h1.2m8.3-2.7h1.2m-.8 1.7h1.2m-1.1-.9h1.2m-1.1-.8h1.2m3.2 2.4h1.2m-.4-.3h1.2m-.2-1.9h1.2m2.3 .2h1.2m.4 .2h1.2m-.5 .3h1.2m-.6 1.9h1.2m-1.2-2.8h1.2m-.8 2.1h1.2m0-1.2h1.2m1-.3h1.2m-.4 .9h1.2m1.4 1h1.2m4-.4h1.2m1.6 .6h1.2m-.5-1.3h1.2m8.4-1.4h1.2m23.6 2h1.2m73.6-.7h1.2m6.6 0h1.2m.9-1.2h1.2m-1.1 2.5h1.2m-1.1-.9h1.2m-.9-.9h1.2m-.8-.5h1.2m-.8-.3h1.2m-.3 1.4h1.2m.7 1.1h1.2m-.1-.9h1.2m-.2-1.5h1.2m-.4 .8h1.2m0-1h1.2m.1 2.6h1.2m-.5-1.5h1.2m-.5 .7h1.2m-1.2-1.7h1.2m-.8 1.9h1.2m-.2 .8h1.2m-.3-1.7h1.2m-.6-.9h1.2m.2 2.1h1.2m-.8-2.1h1.2m.1 2.3h1.2m.3-2.1h1.2m-.2 1.8h1.2m8.6-1.1h1.2m.3 .7h1.2m-.4-.9h1.2m4.1-.2h1.2m.4-.1h1.2m-.1 .1h1.2m-.9 1.1h1.2m-192.9 1.8h1.2m5.9 .6h1.2m-.1 1.6h1.2m-.6-2h1.2m1.2-.2h1.2m-.2-.5h1.2m-.8 1.6h1.2m.5 .8h1.2m-.3-.4h1.2m.1 .1h1.2m1.5-1.6h1.2m-1.1 2h1.2m.5-1.6h1.2m1.1 1.3h1.2m-.7-2.1h1.2m-.7 2.5h1.2m.1-2h1.2m117.6 .1h1.2m6.2 2.2h1.2m-.3-1h1.2m.3-1.8h1.2m1.5 2.3h1.2m1.2-2.2h1.2m.6 .6h1.2m.6 0h1.2m2.4 .9h1.2m-1.1-1.5h1.2m.3 1.3h1.2m-.7 .3h1.2m1.1-.1h1.2m-1.1 .7h1.2m-.3-1.3h1.2m-.2 .3h1.2m-1 1.3h1.2m-.5-1.7h1.2m.1-.2h1.2m-.8 1.8h1.2m1.7-2.1h1.2m1.5 2.3h1.2m1.3-.5h1.2m-.9 .4h1.2m-1-.2h1.2m-1.1-1.4h1.2m1.8-.8h1.2m9.9 .7h1.2m132.2-.4h1.2m-311.5 2.4h1.2m148.4 .1h1.2" fill="none" stroke="#2a2a2a" stroke-width="1.2"/>
<path filter="url(#b)" d="M73.3 43.2h1.1m4.1-1.5h1.1m-.2 1.4h1.1m5.3-1h1.1m1.2 1.2h1.1m-.2 0h1.1m.1-.4h1.1m-.4 0h1.1m-1.1-.1h1.1m-.1-.1h1.1m3.2 .3h1.1m3.3-1.6h1.1m-28 4.1h1.1m-.5 0h1.1m0-.9h1.1m2.3-.4h1.1m1.2 .8h1.1m-.2 .3h1.1m-.3-1h1.1m-1.1 1h1.1m1.5-1.6h1.1m-.8 .9h1.1m-.4-1h1.1m-.5 2.5h1.1m-1.1-2.5h1.1m-.4 .2h1.1m.1 1.7h1.1m-.9-1.2h1.1m-.9 .4h1.1m-.1-1.2h1.1m.7 1.3h1.1m0 .4h1.1m-.9-.4h1.1m-.2-.7h1.1m.7 .4h1.1m-.1-.7h1.1m.6 1.3h1.1m-.1 .4h1.1m-.9-1.3h1.1m-9.9 2.7h1.1m151.6 11.4h1.1m-1.1-.6h1.1m-10.6 1.5h1.1m.6 .9h1.1m1-1.4h1.1m-1.1-.1h1.1m-.9 .4h1.1m-.5 1.5h1.1m1.8 .9h1.1m-.9-1.3h1.1m.2-.2h1.1m-.4 .3h1.1m-1 .8h1.1m-.8-2.1h1.1m-1 .4h1.1m-.9 0h1.1m-.9 .6h1.1m-.4 .7h1.1m-.5 .2h1.1m-1.1-1.5h1.1m.4 .2h1.1m-.4 1.2h1.1m-1-.9h1.1m-.6 1.6h1.1m-.7-1.4h1.1m-.6-1.4h1.1m-.1 .9h1.1m-.9-.4h1.1m-.9 .2h1.1m-.8-.1h1.1m.7 1.2h1.1m-.9 .1h1.1m-.4 .7h1.1m-19.2 .6h1.1m4.6 0h1.1m-.7 .3h1.1m3.5-.5h1.1m-.5 .8h1.1m.7-.8h1.1m1 .2h1.1m157.6 30h1.1m10.8 2.5h1.1m-21.4 2h1.1m11.9 .4h1.1m2.5-.7h1.1m.1-.1h1.1m5 1.4h1.1m.5-1.2h1.1m-26.4 2.4h1.1m0 0h1.1m.3 1h1.1m-.6-1.4h1.1m.6 2.2h1.1m-.1-1.4h1.1m-.4 .4h1.1m.1-1.1h1.1m-.8 2h1.1m-.5-.8h1.1m-1-.5h1.1m-.7 .3h1.1m1.5-.6h1.1m-.5 .7h1.1m-.7 1h1.1m-.6-2.4h1.1m.3 1.6h1.1m-.6-1.1h1.1m-1 1.2h1.1m-.2 .3h1.1m-19.1 3.1h1.1m.5 .3h1.1m.7 .2h1.1m2.9-2.9h1.1m0 2.5h1.1m-.2-1.8h1.1m.5 2h1.1m-1-.1h1.1m-.9-.7h1.1m-1.1 .3h1.1m-.7 .1h1.1m-.3 0h1.1m-.3-2.4h1.1m-1 2.9h1.1m-1-2.8h1.1m-.9 .3h1.1m-.9 1.3h1.1m-.5 .8h1.1m-1-1.5h1.1m-.9 .8h1.1m-.8-.3h1.1m-1.1 1.3h1.1m-.7-2.2h1.1m.5 2.3h1.1m-.4 0h1.1m1.7-2.3h1.1m-.5 1.7h1.1m-.7-1.6h1.1m-.7 .3h1.1m-.9 1.2h1.1m-19.4 1h1.1m1.3 .9h1.1m2.2-.3h1.1m.4-.5h1.1m.9 1.6h1.1m-.8-1.1h1.1m-.3-.5h1.1m.5 2.1h1.1m-.9-2.3h1.1m-.9 .3h1.1m-1 .8h1.1m.5-1h1.1m-.2 2.7h1.1m-.4-1h1.1m-.3-.4h1.1m0-.5h1.1m-.1 .2h1.1m-.6 1.3h1.1m3.1-2.3h1.1m-25.4 4.5h1.1m-.2-.8h1.1m.2-.1h1.1m6.9 .8h1.1m-.7-.5h1.1m-.5-.5h1.1m-1.1-.1h1.1m1 .9h1.1m-.7 1.4h1.1m-.7-1.9h1.1m-.7 .6h1.1m.4 .4h1.1m.7-.5h1.1m1.7 1.4h1.1m7.1-2.2h1.1m-.6-.4h1.1m-174.8 3.4h1.1m13.2 2.3h1.1m1-1.4h1.1m6-.1h1.1m126.9 .5h1.1m-.1-.8h1.1m2.2-.6h1.1m3.8 .8h1.1m-.1-.3h1.1m3.6 .1h1.1m1.7-.5h1.1m11.8 1.7h1.1m.8-.8h1.1m3.2 1.5h1.1m-.4-.7h1.1m-.5-1.2h1.1m0 .7h1.1m.1-.7h1.1m0 1.5h1.1m8.7 0h1.1m2.9 0h1.1m1.4-.2h1.1m-.7 .5h1.1m-.2-.7h1.1m15.4-1.1h1.1m-198.8 4.4h1.1m.1-1h1.1m-1-1.4h1.1m.2 .6h1.1m2.7 2.2h1.1m.9-2.3h1.1m115.8 1.2h1.1m13.8 1.2h1.1m2.7-2.2h1.1m.1-.8h1.1m4.6 1.3h1.1m0-.9h1.1m-1-.4h1.1m1.5 2.2h1.1m-1 .2h1.1m-.9 .2h1.1m.9-1.2h1.1m.7-1.2h1.1m-1.1 1.9h1.1m-.3 .7h1.1m.5-.4h1.1m-.8 .3h1.1m-.8-2.7h1.1m-.9 .2h1.1m-.6 2.1h1.1m.2-.2h1.1m.8 0h1.1m-.3 .1h1.1m-.2-1.5h1.1m-.7-.6h1.1m1.1 1.8h1.1m-.5-.2h1.1m-.9 0h1.1m-1-.4h1.1m-.1 0h1.1m-.7 1.5h1.1m-.8-1.7h1.1m-.9-.3h1.1m.5 .1h1.1m-.5 .4h1.1m3.2-.7h1.1m.2 1.7h1.1m1.5 .5h1.1m-.5-1h1.1m4.4 .9h1.1m.3-.1h1.1m-.4 .3h1.1m-.9-1.9h1.1m-352.7 4.2h1.1m.1-.1h1.1m6.4-.8h1.1m-.7-.4h1.1m-.8 .7h1.1m128.7 1.3h1.1m-.7-1.6h1.1m7.7 1.4h1.1m4.9-.2h1.1m-.5-2.2h1.1m1.8 2.3h1.1m3.7-1.5h1.1m0-.8h1.1m5.4 2.5h1.1m.8-1.1h1.1m3.1 .9h1.1m126.2-.2h1.1m-.7-1.9h1.1m1.8 .3h1.1m.1 1.1h1.1m-1 .8h1.1m.6-.1h1.1m-.2-2.2h1.1m-.6 2.1h1.1m-.6-.2h1.1m-1.1 .6h1.1m-.5-2.6h1.1m.2-.2h1.1m-1 1.9h1.1m.2 .9h1.1m-.3-.6h1.1m-.9-.5h1.1m-.7-1.3h1.1m-.9 1.9h1.1m-.8 .5h1.1m-.6-1.4h1.1m-.7-1.5h1.1m-.8 1.4h1.1m-.8 1h1.1m-.4-.6h1.1m-.6-.9h1.1m-1.1-.4h1.1m-.9 .7h1.1m-.9 1.2h1.1m-.9 .5h1.1m-1-.9h1.1m-.9 .9h1.1m-1.1-2.9h1.1m-1 2.8h1.1m-.5-2.2h1.1m-1.1 1.7h1.1m-.8-1h1.1m-1 .5h1.1m-.9-1h1.1m-.8 2.1h1.1m-1.1-2.5h1.1m-1 1.2h1.1m-1.1 .3h1.1m-1 .8h1.1m-.5-.4h1.1m-1-.1h1.1m-.9-1.2h1.1m-.7 1.4h1.1m-.9-1.2h1.1m-.7 .7h1.1m-.7 0h1.1m-.3-1.4h1.1m-1-.2h1.1m-.9 2.5h1.1m-1 .1h1.1m-.5-2.2h1.1m-.6 .8h1.1m-.7-.9h1.1m-.8 .3h1.1m-.2 1.3h1.1m-.6-2.2h1.1m-.2 2.7h1.1m.3-1.7h1.1m-1 .4h1.1m-.6 .2h1.1m-.1-.3h1.1m-.9 1.2h1.1m-1-.2h1.1m-.3-.1h1.1m-.4-1h1.1m-.7 1.2h1.1m-1-.1h1.1m-.2 .2h1.1m-.3-.1h1.1m-.5-1.6h1.1m1.2 1.1h1.1m-.2-.5h1.1m-1 .4h1.1m1 .2h1.1m-.4 .8h1.1m2.1-.9h1.1m-1-.6h1.1m0 1.4h1.1m21.6-1.3h1.1m-376.1 2.3h1.1m5 2h1.1m24.8-1.7h1.1m122.1 1.2h1.1m.3-1h1.1m-.3-1.2h1.1m-.3 1.8h1.1m1-1.3h1.1m1.5 1.2h1.1m-.6-.5h1.1m-.5-.3h1.1m1.9-.7h1.1m-.3 1.2h1.1m-1 .1h1.1m.5-.6h1.1m.5 0h1.1m-.5 2h1.1m-.5-2.8h1.1m1.5 .3h1.1m-.6 1.5h1.1m1.2 .9h1.1m.6-2.2h1.1m1.3 1.5h1.1m10.9 .1h1.1m112.2-1.5h1.1m0 1.8h1.1m.4-1.4h1.1m-.7 1h1.1m1.2-.6h1.1m.6 .5h1.1m-1.1 .7h1.1m-1-1.2h1.1m.1 1h1.1m-.6-2h1.1m-1 1.5h1.1m-1.1-1.7h1.1m-1 2.1h1.1m.4-1.1h1.1m.5 .5h1.1m-.6-1.5h1.1m-1.1 .7h1.1m-.5-.4h1.1m-.9-.4h1.1m-1 2h1.1m-.9 .8h1.1m-.7-1.1h1.1m-.9 .2h1.1m-1 0h1.1m-.9 .4h1.1m-1.1 .2h1.1m-1 0h1.1m-.9-.2h1.1m-.9-2.4h1.1m-1.1 .4h1.1m-.5 .3h1.1m-.9 1.1h1.1m-1.1-.8h1.1m-1-.4h1.1m-1 1.8h1.1m-1 .5h1.1m-.6-1h1.1m-1-1.3h1.1m-1 2.2h1.1m-1-1.2h1.1m-.7-1.1h1.1m-.9 .5h1.1m-1 1.4h1.1m-.6 .1h1.1m-.4-.4h1.1m-.8-1.5h1.1m-.9-.6h1.1m-.7 1.4h1.1m-.8-.4h1.1m-.6 .8h1.1m-.7-1.7h1.1m-1.1 .3h1.1m-.9 .5h1.1m-.2 .5h1.1m-1 .3h1.1m-.9 1h1.1m-.8-1.3h1.1m-1.1 1.4h1.1m-1-1.6h1.1m-1.1 1h1.1m-.6 0h1.1m-1.1 .2h1.1m-.9-2.5h1.1m-.9 1.2h1.1m-1-.1h1.1m-1 1.4h1.1m-1-.7h1.1m-.9-.1h1.1m-1-.5h1.1m-1-1.1h1.1m-1.1 0h1.1m-.8 2.4h1.1m-1 .4h1.1m-1-2.6h1.1m-1.1 1.6h1.1m-.7 .5h1.1m-.9-.2h1.1m-.6-1.6h1.1m-.9 1.6h1.1m-.8-.6h1.1m-1-1h1.1m-.9 1.4h1.1m-1-.2h1.1m-1-.5h1.1m-1 .9h1.1m-.2 .6h1.1m-.9-2.7h1.1m-.9 2h1.1m-.9-1.1h1.1m-1-.4h1.1m-.9 .6h1.1m-1 .7h1.1m-.7-1.3h1.1m-1.1 2.4h1.1m-.9-1.9h1.1m0 1.7h1.1m-.9-2.4h1.1m-.7 .2h1.1m-1 1.6h1.1m-.5-.8h1.1m-1.1 1.5h1.1m-.7 0h1.1m-1 0h1.1m-.8 0h1.1m-.2-.1h1.1m-1-2.3h1.1m-.4 2.5h1.1m-1-2.4h1.1m-.6 1.4h1.1m-.4-.6h1.1m-.1 1h1.1m-.9-.6h1.1m-.5-1.1h1.1m-.3 .9h1.1m-1-.7h1.1m-.9 .4h1.1m-.7 1.4h1.1m1.5-2.1h1.1m1.4 1.9h1.1m.7-2.2h1.1m0 2.5h1.1m-.4-1.8h1.1m1.4-.3h1.1m5.6-.6h1.1m-380.1 5.9h1.1m.1-.7h1.1m2.9-.5h1.1m.7-1h1.1m.5 1.5h1.1m3.5-.9h1.1m0 1.3h1.1m.5-2h1.1m1.7 1.7h1.1m2.9 .4h1.1m1.2-2.2h1.1m2.5 1.6h1.1m.5 .6h1.1m.7-2.5h1.1m7.4 1.3h1.1m2.5-1.1h1.1m109 1.9h1.1m3.2 .2h1.1m.1-2.4h1.1m.8 2.4h1.1m.8-1.7h1.1m-1 2.1h1.1m-.9-1.1h1.1m-.7 .9h1.1m-.4-2.7h1.1m1 1.6h1.1m-.8 .2h1.1m-1-1.3h1.1m-.4-.4h1.1m.3 1.7h1.1m-.6 .9h1.1m.4-.7h1.1m-.4-1.2h1.1m1 0h1.1m-.3 1.2h1.1m-1-1.6h1.1m-.4 1.7h1.1m0 .8h1.1m-1-1.6h1.1m-.7 .3h1.1m-1-.6h1.1m-.9 1.6h1.1m.7-2.1h1.1m.3 1.7h1.1m-.9 .6h1.1m-1.1-2.5h1.1m-1 1.7h1.1m-.7 .8h1.1m-.4-2.7h1.1m.4 .2h1.1m-1 2.4h1.1m-.9-1.4h1.1m-.3 1.4h1.1m-.9-1.3h1.1m.1-.6h1.1m-.5-.4h1.1m-.5 2.3h1.1m-.4-1.5h1.1m1-.1h1.1m-1 .9h1.1m.1 .7h1.1m-.2-1.8h1.1m1 .2h1.1m12.8 0h1.1m103.1-.4h1.1m6.5-.3h1.1m-1 .2h1.1m-.9-.5h1.1m2 2.2h1.1m-.4-2h1.1m-.5 .1h1.1m-.4 .5h1.1m-.1 .1h1.1m-.6 .9h1.1m-1-.9h1.1m.4-.3h1.1m-.8 .3h1.1m.2 .3h1.1m-.2 .3h1.1m-.6-.4h1.1m-.9-1h1.1m-.8-.2h1.1m-1 1.7h1.1m-.5 .9h1.1m-1-.8h1.1m-1.1-.2h1.1m-1-.6h1.1m-.9 .4h1.1m-.6 .9h1.1m-.9 .2h1.1m-.2-.5h1.1m-1 .8h1.1m-.9-.8h1.1m-.9-1.1h1.1m-1 1.9h1.1m-1-.6h1.1m-1.1-1.4h1.1m-.9-.4h1.1m-1.1 2.5h1.1m-.9-1.2h1.1m-1.1-1.4h1.1m-1.1 2.5h1.1m-.7-.2h1.1m-1.1-.6h1.1m-.9-1.3h1.1m-.7 1.8h1.1m-1-2.5h1.1m-1 2.2h1.1m-1 .5h1.1m-1.1-1.3h1.1m-1.1-.3h1.1m-1.1 0h1.1m-.8 1.3h1.1m-1 .5h1.1m-1-.9h1.1m-.9 .2h1.1m-1.1-.8h1.1m-.9 .7h1.1m-1-.6h1.1m-.6 .5h1.1m-.9-1h1.1m-1 .6h1.1m-.9 .2h1.1m-1.1-1.1h1.1m-1 .3h1.1m-1 1.1h1.1m-1.1-1.4h1.1m-1 1.5h1.1m-1-.8h1.1m-1.1-1.3h1.1m-1.1 1.5h1.1m-1.1-.2h1.1m-.8-.7h1.1m-1.1 .2h1.1m-.7-.3h1.1m-1 1.1h1.1m-1 1.1h1.1m-1-1.1h1.1m-.8-.7h1.1m-1.1 .9h1.1m-1-1.8h1.1m-1.1-.2h1.1m-1.1 .3h1.1m-1 .6h1.1m-1 1.7h1.1m-1.1-2h1.1m-1 2.2h1.1m-1.1-2.1h1.1m-1 1.8h1.1m-1.1 0h1.1m-.9-.5h1.1m-1.1-.8h1.1m-1 1.7h1.1m-1.1-2.7h1.1m-1 2.1h1.1m-1-.4h1.1m-1 .2h1.1m-.9-1.8h1.1m-1.1 .1h1.1m-.9 1.8h1.1m-1 .8h1.1m-.9-2h1.1m-1.1-.3h1.1m-1.1-.1h1.1m-1 .2h1.1m-1 2h1.1m-1.1-.3h1.1m-1-1.9h1.1m-.9 1.7h1.1m-.9-1.6h1.1m-1 1.8h1.1m-1.1-.1h1.1m-1-1.4h1.1m-.8 1.3h1.1m-1.1 .7h1.1m-1.1-.7h1.1m-.9-.6h1.1m-.9 .7h1.1m-1.1-1.9h1.1m-1 .3h1.1m-.9 2h1.1m-1 .1h1.1m-.9-1.2h1.1m-.9-1.5h1.1m-1.1 .6h1.1m-1.1 .7h1.1m-1-1.2h1.1m-1 1.3h1.1m-1-.3h1.1m-1.1-.3h1.1m-1.1 .3h1.1m-.9-.4h1.1m-.4-.9h1.1m-1 1.2h1.1m-.9 1.2h1.1m-1-.7h1.1m-1.1 .6h1.1m-1-1.6h1.1m-1.1 0h1.1m-1.1 .2h1.1m-1 1.6h1.1m-1.1 .2h1.1m-.9-1.9h1.1m-1 2h1.1m-1.1-.7h1.1m-1-.7h1.1m-.9-.7h1.1m-1 1.5h1.1m-.7-.7h1.1m-1-.9h1.1m-1.1 2.2h1.1m-1.1-1.1h1.1m-1-.6h1.1m-1.1 .5h1.1m-1 1.3h1.1m-1-2.6h1.1m-1 2.1h1.1m-1-.6h1.1m-.8 0h1.1m-1 .5h1.1m-1.1-.7h1.1m-.9 .8h1.1m-1-.2h1.1m-1-1.7h1.1m-1.1 .1h1.1m-1 .3h1.1m-1.1 .6h1.1m-1-.2h1.1m-.8-.8h1.1m-1 0h1.1m-1 2.3h1.1m-.7 .1h1.1m-1-1.7h1.1m-1-.5h1.1m-1.1 2.1h1.1m-.9 .2h1.1m-.9-2.9h1.1m-.9 .2h1.1m-1 2.6h1.1m-1.1-1.3h1.1m-.7 .3h1.1m-1-.9h1.1m-1.1 2h1.1m-1-.1h1.1m-.3-1.7h1.1m-.9 .5h1.1m-.8 .5h1.1m-1.1-1.5h1.1m-.9-.1h1.1m-1.1 1.4h1.1m-.9 .6h1.1m-1 .3h1.1m-1-.7h1.1m-.8-.4h1.1m-1 .2h1.1m-.9-.1h1.1m-1 .5h1.1m-.8-.4h1.1m-1-.6h1.1m-.9 1.5h1.1m-.8-1.3h1.1m-.9 .6h1.1m-.3 0h1.1m-1 .1h1.1m-.9-2h1.1m-1.1 1.5h1.1m-1 1.1h1.1m-1.1-2.4h1.1m-1 .9h1.1m-.7-.2h1.1m-1 .7h1.1m-.6-.9h1.1m-1-.8h1.1m-.8 1.2h1.1m1.1-.6h1.1m-.4 .4h1.1m-.1-.3h1.1m.8-.2h1.1m-.8 0h1.1m.6 1.7h1.1m.3 .3h1.1m3-.7h1.1m2.8-.7h1.1m-385.3 3.3h1.1m2.1 .4h1.1m11.3-.8h1.1m-.4 .1h1.1m-.5 .4h1.1m0-1.7h1.1m-.9 1.5h1.1m.9-.6h1.1m-.8-.4h1.1m-.7 1.6h1.1m-.4 .4h1.1m.9-2.3h1.1m-.6 1.9h1.1m.2-.1h1.1m-1 .2h1.1m-.6-.8h1.1m-.9 .1h1.1m-.5 0h1.1m-.6-1.2h1.1m-.3 2h1.1m-.8-1.1h1.1m-.3 .6h1.1m.1 1h1.1m2.7-1.4h1.1m.8 .4h1.1m-.9 .4h1.1m-.8 0h1.1m1.1 .6h1.1m-.2 .1h1.1m-.4-1.4h1.1m-.9-.9h1.1m-.1 1.1h1.1m-.3-.2h1.1m-.2 1h1.1m.7-.8h1.1m1.1 .4h1.1m6.3-.7h1.1m.8 .9h1.1m95.2-2.1h1.1m6.9 .9h1.1m2-.2h1.1m-1.1 .8h1.1m2.5-.3h1.1m1.7-.6h1.1m1.8 1.6h1.1m2.3-.5h1.1m-.8 .3h1.1m.1-2.1h1.1m-.7 2.8h1.1m-.9-.6h1.1m-1-.4h1.1m-.3-1.2h1.1m-1 1.3h1.1m-1 .6h1.1m-.3-1h1.1m-1.1 1.3h1.1m-.7-.5h1.1m-1.1-.5h1.1m-.9-1.6h1.1m-.5 .7h1.1m-.9 1.8h1.1m-.9-1.8h1.1m-1.1 .6h1.1m-1.1-1.5h1.1m-.9 1.5h1.1m-.4 1h1.1m-1-1.3h1.1m-.5 1.3h1.1m-.9-.8h1.1m-1 1h1.1m-1-1.2h1.1m-.9 .2h1.1m-.7 1.2h1.1m-1-.2h1.1m-.3-1.6h1.1m-1-.9h1.1m-.8 1.7h1.1m.1-1.9h1.1m-.6 2.8h1.1m-.1-1.5h1.1m-1-.2h1.1m-.9-.1h1.1m-1.1 1.6h1.1m-1-1.8h1.1m-.2 .9h1.1m-.7 .7h1.1m-1-.9h1.1m-.9-.7h1.1m-.6 .1h1.1m-1.1 .2h1.1m-.6 .1h1.1m-.8 1.3h1.1m-1 .1h1.1m-.3 .1h1.1m-.6-.3h1.1m.5 .3h1.1m-.4-.1h1.1m-.9-2.1h1.1m-1-.2h1.1m-1.1 .5h1.1m-.6 .5h1.1m-.9 1.3h1.1m-.8-2.7h1.1m-.7 2.9h1.1m-.8-1.6h1.1m-1-.7h1.1m-.6 0h1.1m-.4 2.2h1.1m-.6-1h1.1m0 .3h1.1m-.9-1h1.1m-.3 1.3h1.1m-.5-1.2h1.1m-.6-.5h1.1m1.3 1.9h1.1m.4-1.2h1.1m-.3 1.4h1.1m4.5-1.7h1.1m109.6-.4h1.1m.6 1.4h1.1m-.8-1.2h1.1m-.4 .6h1.1m-.9-.7h1.1m4.1 .2h1.1m-.8-.8h1.1m-.8 .2h1.1m-.3 1h1.1m-.9-.4h1.1m-.7-.5h1.1m.8 .4h1.1m-1.1 .8h1.1m-.8 1h1.1m-.8-2.6h1.1m-.6 2.3h1.1m-.7-2.1h1.1m-.5 1.7h1.1m-1-1.6h1.1m-.3 2.5h1.1m-.7-1.9h1.1m-1-.1h1.1m-1-.2h1.1m-.7 1.4h1.1m-.8-1.5h1.1m-1 1.9h1.1m-.8-2.4h1.1m-.9 2.1h1.1m-1.1-1.3h1.1m-1 .8h1.1m-1.1 .3h1.1m-1-1.1h1.1m-.6 0h1.1m-1-.3h1.1m-1.1 1.9h1.1m-1 0h1.1m-1-1.3h1.1m-1.1-.8h1.1m-.9 2h1.1m-1.1 0h1.1m-1-.2h1.1m-1-.7h1.1m-1 .2h1.1m-.6 1.2h1.1m-1.1-2.1h1.1m-.9-.5h1.1m-.9 .3h1.1m-1 2.3h1.1m-1.1-1.4h1.1m-1-.2h1.1m-1.1 .3h1.1m-1-.2h1.1m-.9-.6h1.1m-1.1 .5h1.1m-1-.4h1.1m-1 1.7h1.1m-.9-1.9h1.1m-.7 .2h1.1m-1.1 1.5h1.1m-.9-.7h1.1m-1.1 .2h1.1m-1 .2h1.1m-1.1-.9h1.1m-1 1h1.1m-1.1-.6h1.1m-.8-.1h1.1m-1-1.3h1.1m-1.1 1.2h1.1m-1.1 .5h1.1m-.5 0h1.1m-1.1-1.2h1.1m-1.1 .8h1.1m-.5-.8h1.1m-1 1.3h1.1m-1 .2h1.1m-1-1.9h1.1m-1.1 1.8h1.1m-1-.2h1.1m-1 0h1.1m-1 .3h1.1m-1 .4h1.1m-1.1-2.3h1.1m-1.1 1.9h1.1m-1-.4h1.1m-1-1.8h1.1m-1.1 .8h1.1m-1 1.9h1.1m-1.1-2.1h1.1m-1.1 1.2h1.1m-1 .8h1.1m-1.1 .3h1.1m-1-2.4h1.1m-1.1 1.9h1.1m-.7-2.2h1.1m-1 2.5h1.1m-1.1-2.6h1.1m-1.1 1.6h1.1m-1.1 1.2h1.1m-1.1-1.3h1.1m-1 .4h1.1m-1.1-.3h1.1m-1 .3h1.1m-1.1-1.4h1.1m-1 1.7h1.1m-1-2.2h1.1m-1.1 .5h1.1m-1-.1h1.1m-1 1.8h1.1m-1 .1h1.1m-.8 .5h1.1m-1.1-2.1h1.1m-1 .5h1.1m-.7-1.2h1.1m-1.1 .1h1.1m-1.1 2.5h1.1m-1.1-1.5h1.1m-1-.1h1.1m-.9-.6h1.1m-1.1 .1h1.1m-1.1 .8h1.1m-1-.1h1.1m-1 1.1h1.1m-.9-1.3h1.1m-.7 .1h1.1m-1.1 .1h1.1m-1.1-.1h1.1m-1 .5h1.1m-1 0h1.1m-1.1 .4h1.1m-1-.9h1.1m-1.1-.3h1.1m-1.1-.4h1.1m-1 .5h1.1m-1-.4h1.1m-1.1 .4h1.1m-1 .6h1.1m-1 .5h1.1m-1-1.6h1.1m-.4 .6h1.1m-1.1-1h1.1m-.8 1.8h1.1m-1.1-.6h1.1m-1-.7h1.1m-1.1 .1h1.1m-1-.2h1.1m-1 1.5h1.1m-1-1.6h1.1m-1.1 1.5h1.1m-1-1h1.1m-.9-.3h1.1m-1.1 2.1h1.1m-.9-2.6h1.1m-1 .9h1.1m-1.1 .2h1.1m-1.1-.4h1.1m-1 1.7h1.1m-1 .3h1.1m-.8-1.3h1.1m-1 .8h1.1m-.9 .5h1.1m-1-.9h1.1m-1.1 .9h1.1m-1.1-1.7h1.1m-1 1.2h1.1m-1.1-1.6h1.1m-1.1-.5h1.1m-1 1.4h1.1m-1.1-1.1h1.1m-.9 1.5h1.1m-1.1 .2h1.1m-1.1-1.5h1.1m-1 .3h1.1m-.9 2h1.1m-.9-1h1.1m-1-1.1h1.1m-1-.3h1.1m-1.1 1.8h1.1m-1.1 .6h1.1m-1.1-.9h1.1m-1.1-1.6h1.1m-1-.2h1.1m-1.1 .7h1.1m-1-.7h1.1m-1.1 2.1h1.1m-1.1-.3h1.1m-.9 .8h1.1m-.7-2h1.1m-1 2h1.1m-.8-2h1.1m-.9 1.6h1.1m-.9-.9h1.1m-1-1.2h1.1m-1 .5h1.1m-.9 .2h1.1m-1.1-.5h1.1m-.9 1.3h1.1m-1-1.8h1.1m-1 2.4h1.1m-1.1-1.8h1.1m-.9 0h1.1m-1.1 1.3h1.1m-1 .7h1.1m-1.1-1.6h1.1m-1.1-.2h1.1m-.9 1.7h1.1m-1.1-.6h1.1m-1-.2h1.1m-1.1 .7h1.1m-1.1-1.6h1.1m-1-.5h1.1m-1.1 .1h1.1m-1.1 2.1h1.1m-1.1 .1h1.1m-.9-.8h1.1m-.8-1.8h1.1m-1.1 .1h1.1m-1.1 2.4h1.1m-1-1.6h1.1m-1.1 .9h1.1m-1 .5h1.1m-.9-1.4h1.1m-1.1 .6h1.1m-1.1-.9h1.1m-1 1.8h1.1m-1.1-.7h1.1m-1-.1h1.1m-1.1-.5h1.1m-1 1.3h1.1m-.9-1.5h1.1m-1 .7h1.1m-1.1 .3h1.1m-.9-1.5h1.1m-1 1.5h1.1m-1-.8h1.1m-1.1 .3h1.1m-1-1.2h1.1m-1 2.1h1.1m-1.1-1.3h1.1m-1.1-.7h1.1m-.4 .1h1.1m-1.1 .2h1.1m-.9 2.3h1.1m-.8-.7h1.1m-.7-1.7h1.1m-1.1 .5h1.1m-1 .4h1.1m-1.1 .2h1.1m-1 .1h1.1m-1.1 1.2h1.1m-1.1-.2h1.1m-.9-.7h1.1m-.8-.6h1.1m-.9-.9h1.1m-1 .3h1.1m-1 .6h1.1m-.9-.1h1.1m-1 1.1h1.1m-1.1-.9h1.1m-1-1.6h1.1m-1.1 2.5h1.1m-1-2.3h1.1m-1.1 2.2h1.1m-1 .3h1.1m-1.1-2.5h1.1m-1.1 2.3h1.1m-1.1-.5h1.1m-.5-1.9h1.1m-.8 2h1.1m-1.1 0h1.1m-.9-.7h1.1m-.8 1.5h1.1m-1-2.3h1.1m-1.1 1.8h1.1m-.8-.1h1.1m-.9-.8h1.1m-.8 .8h1.1m-1-.5h1.1m-1.1 .1h1.1m-.5-.4h1.1m-.9 .2h1.1m-.8 1.3h1.1m-1.1-.3h1.1m-1-1.9h1.1m-.8 .9h1.1m-.8-.2h1.1m-1-.8h1.1m-.4 1.6h1.1m-.4-.5h1.1m-.4 .8h1.1m-1 .1h1.1m-.3-.8h1.1m-1 .1h1.1m-.8-.7h1.1m-1-.8h1.1m.5 .3h1.1m-.5 .7h1.1m-.9 .3h1.1m-.6-1.4h1.1m-.4 .5h1.1m1.9 1.1h1.1m3.4-.8h1.1m-.8 .5h1.1m1 .6h1.1m-382 3.7h1.1m1.1-.8h1.1m4-1.4h1.1m-.2 1.9h1.1m1.2-1.3h1.1m-.1 1.4h1.1m-.9-.5h1.1m-.3-1.3h1.1m-1 .2h1.1m-1 .3h1.1m-.8-.6h1.1m-1 1.5h1.1m-.6-.6h1.1m-1 .3h1.1m-.9 .7h1.1m-.7-1.8h1.1m-.6 1.7h1.1m-.9-.8h1.1m-.9-.4h1.1m-.9-.8h1.1m-.8 1.2h1.1m-.9-.5h1.1m-.6 1.5h1.1m-1-2.4h1.1m-.9-.4h1.1m-.8 .8h1.1m-.5 1.3h1.1m-.5-1.1h1.1m-1 .5h1.1m0 .9h1.1m-.7-.4h1.1m-1-1.8h1.1m-1 2.6h1.1m-.1-.9h1.1m-.8-.4h1.1m-1.1 1.3h1.1m-.9-1.7h1.1m-.8 .3h1.1m-1.1 .5h1.1m-1 .8h1.1m-1-1.8h1.1m-.7 1.6h1.1m-1.1-.2h1.1m-1-1.3h1.1m-.8 .6h1.1m-.8 .5h1.1m-.7 .2h1.1m-.8-1.2h1.1m-.8-.6h1.1m-.9 .8h1.1m-1-.1h1.1m-1 1.3h1.1m-.6 .2h1.1m-.8-2.1h1.1m-1 1h1.1m-1 .9h1.1m-.8-2.4h1.1m-.4 1.8h1.1m-.8-.2h1.1m-.3 .9h1.1m.3-1.7h1.1m-1 .1h1.1m-.4 .7h1.1m-.6-1.4h1.1m-.5 1.4h1.1m-.7-1.8h1.1m-1 1h1.1m-.2 .4h1.1m-.8 .3h1.1m-1.1 .6h1.1m-1 .6h1.1m-.1-2.6h1.1m-1.1 1.9h1.1m1-1.8h1.1m-.1 .8h1.1m-.9-1.1h1.1m-.9 1.9h1.1m0-1.9h1.1m-.8 .5h1.1m.5 2.3h1.1m-.5-2.5h1.1m0 .3h1.1m-.8 2.1h1.1m3.3-2.2h1.1m.8 1.2h1.1m18.3-.6h1.1m89.5 .7h1.1m2.1 .2h1.1m-.6-.8h1.1m-.6-1h1.1m-.6 1.1h1.1m-.9-.6h1.1m-.6 0h1.1m.6 1.7h1.1m-.9-1.8h1.1m.2 .8h1.1m-.8 .2h1.1m-.3 1h1.1m-.1-1.5h1.1m-.6 .9h1.1m.2-.8h1.1m-1.1 1.5h1.1m-.8-1.8h1.1m-.6 1.5h1.1m-.9-.3h1.1m-.7-1.4h1.1m-.9 .5h1.1m-.8-.2h1.1m-1-.7h1.1m.3 1.6h1.1m-.1-1.8h1.1m-1 .7h1.1m-.4-.5h1.1m-1.1 1.3h1.1m-1-1.3h1.1m-1 2h1.1m-.5-.4h1.1m-.2 .9h1.1m-.8-1.7h1.1m-.9 .4h1.1m-1 1h1.1m-1-2.6h1.1m-1 2h1.1m-.3-.2h1.1m-1 .3h1.1m-1-1.9h1.1m-1 .8h1.1m-1 .1h1.1m-1.1 1h1.1m-.9-.5h1.1m-1-1.6h1.1m-.7 .2h1.1m-.9 .8h1.1m-.6-.4h1.1m-.9-.4h1.1m-.9 1.5h1.1m-.6-.1h1.1m-.8-.4h1.1m-.9-.9h1.1m-.6 1.1h1.1m-.8-1h1.1m-.9 1.3h1.1m-.7 .5h1.1m-.9-1.5h1.1m-.9-.6h1.1m-.6 1.3h1.1m-1.1-.8h1.1m-1 .6h1.1m-1-.5h1.1m-1 1.2h1.1m-.7 1h1.1m-.9-.1h1.1m-1-1.6h1.1m-1.1-.5h1.1m-1 1.8h1.1m-.9-.6h1.1m-1-1.2h1.1m-1.1 1.9h1.1m-.9-1h1.1m-.7 .1h1.1m-.2-1.4h1.1m-1.1 2.4h1.1m-.3 .2h1.1m-.8-1.5h1.1m-1 .8h1.1m-1.1 .2h1.1m-.9-1.9h1.1m-1 1.6h1.1m-1 .6h1.1m-1.1 0h1.1m-1.1-.6h1.1m-.9 .8h1.1m-.6-2.6h1.1m-.6 2.5h1.1m-.6-2.6h1.1m-.7 2.7h1.1m-1-.7h1.1m-1-.1h1.1m-.3-.8h1.1m-.4-.9h1.1m-.5 .6h1.1m-.8 1.4h1.1m-1-1.6h1.1m-.7 1.9h1.1m.2-2.3h1.1m-1.1 .9h1.1m-.5 .4h1.1m-1.1-.4h1.1m1.6-.9h1.1m-1 1.6h1.1m-.9-.4h1.1m.7-1.1h1.1m-.2-.4h1.1m-.5 2.4h1.1m2.1-2.1h1.1m-1.1 2.2h1.1m2.5-.2h1.1m2.7-.6h1.1m98.9-1.3h1.1m1.9 1.7h1.1m1.4-.5h1.1m4.6 0h1.1m.2-1h1.1m.1 1.3h1.1m-.9 .1h1.1m.4-.4h1.1m-.9-.7h1.1m-.9 1.8h1.1m-.2 .1h1.1m-.4-1.3h1.1m-.4-1.4h1.1m-1 .8h1.1m-1 2h1.1m-.9-.2h1.1m-1.1 0h1.1m-1-1.5h1.1m-.9 1h1.1m-.8-.3h1.1m-1-1.2h1.1m-1.1 .6h1.1m-1-.6h1.1m-.8 0h1.1m-.9 1.1h1.1m-.6 .6h1.1m-1.1-1.7h1.1m-.9-.7h1.1m-1 1.6h1.1m-1.1-.8h1.1m-1 1.2h1.1m-1-1.3h1.1m-1 1.6h1.1m-.9-1.8h1.1m-1 .6h1.1m-1.1 1.2h1.1m-.9 .4h1.1m-.9-.5h1.1m-1-2h1.1m-1.1 2.4h1.1m-.7-1.5h1.1m-.9-.1h1.1m-1.1 .8h1.1m-1.1-1.5h1.1m-.9 .4h1.1m-.8 .3h1.1m-1 .1h1.1m-.8 1.1h1.1m-1-2.2h1.1m-.6 .9h1.1m-1.1-.8h1.1m-1.1 2h1.1m-1.1 .3h1.1m-1.1-1.7h1.1m-1 .7h1.1m-.7-.4h1.1m-1.1 .1h1.1m-1-.1h1.1m-.9 1.6h1.1m-1.1-1.5h1.1m-.9 .1h1.1m-.9 0h1.1m-1.1 1h1.1m-1.1 .1h1.1m-1.1 .1h1.1m-1-2.2h1.1m-1 .7h1.1m-1.1 .7h1.1m-.9-.3h1.1m-.8-.7h1.1m-1.1 1.1h1.1m-1-.5h1.1m-1.1-.8h1.1m-1.1 1.5h1.1m-1-.9h1.1m-1-.5h1.1m-1.1-.3h1.1m-1.1 2.1h1.1m-1-2.4h1.1m-.9 .5h1.1m-1 1.1h1.1m-1 .5h1.1m-1.1-1.2h1.1m-.9 1.5h1.1m-1.1 0h1.1m-1-2.2h1.1m-1.1 .6h1.1m-1.1 0h1.1m-1-.6h1.1m-1.1 2.6h1.1m-1-.9h1.1m-1.1-.4h1.1m-.9 .6h1.1m-1.1-1.6h1.1m-1 .1h1.1m-1 1.1h1.1m-1.1 .5h1.1m-1 .7h1.1m-1.1-1.2h1.1m-1.1 .7h1.1m-.9-.7h1.1m-1.1-.5h1.1m-1.1 .7h1.1m-1.1 .9h1.1m-1-1.2h1.1m-1 .5h1.1m-1-1.6h1.1m-1 2h1.1m-1.1-.4h1.1m-.9-1.4h1.1m-1.1 .6h1.1m-1 .9h1.1m-1.1-.7h1.1m-1 1.4h1.1m-1.1-1.2h1.1m-1-1.1h1.1m-1 .8h1.1m-1.1 1.5h1.1m-1.1-2.6h1.1m-1.1 1.1h1.1m-1-.6h1.1m-1 1.7h1.1m-1.1-1.7h1.1m-1.1 .2h1.1m-1.1 2h1.1m-1-1.8h1.1m-1 1.2h1.1m-1 .3h1.1m-.9-1.8h1.1m-1.1 1.9h1.1m-1.1-1.6h1.1m-1.1 1.1h1.1m-.9-.8h1.1m-1 0h1.1m-1.1-.4h1.1m-1.1 .7h1.1m-1 .4h1.1m-1-.7h1.1m-1-.8h1.1m-1 .8h1.1m-1.1-1.2h1.1m-1 1.4h1.1m-1.1 .1h1.1m-.9-1.5h1.1m-.9 1.8h1.1m-1.1 .9h1.1m-1-.8h1.1m-1.1-1.9h1.1m-1 1.4h1.1m-1.1-1.3h1.1m-1 .4h1.1m-1 2.2h1.1m-1.1-.8h1.1m-1-.3h1.1m-1.1-.6h1.1m-1.1 1.3h1.1m-1-.6h1.1m-1.1 .5h1.1m-1.1 .1h1.1m-1.1-1.3h1.1m-1.1 .1h1.1m-1 1.1h1.1m-1.1-1.2h1.1m-1.1 1h1.1m-1 .5h1.1m-1-.6h1.1m-1.1-.3h1.1m-1-.2h1.1m-1.1-.2h1.1m-1.1-.6h1.1m-1-.7h1.1m-1.1 1.1h1.1m-1.1 .4h1.1m-.8 .8h1.1m-1.1-1.4h1.1m-1 .3h1.1m-1.1-1.2h1.1m-1 .9h1.1m-1-.6h1.1m-1 1.7h1.1m-1.1-.7h1.1m-1.1-.5h1.1m-1 1.3h1.1m-1 .2h1.1m-1.1 .4h1.1m-1.1-2.5h1.1m-1 .9h1.1m-1.1 .2h1.1m-1 .6h1.1m-1 .5h1.1m-1.1 .1h1.1m-1-2h1.1m-1.1-.1h1.1m-1 .4h1.1m-1-.6h1.1m-1.1 0h1.1m-.6 1.7h1.1m-1.1-1.9h1.1m-.9 .1h1.1m-1 1.3h1.1m-1-1h1.1m-.9 .6h1.1m-1.1 1h1.1m-1.1 .2h1.1m-1-.6h1.1m-1.1-.4h1.1m-.9-.4h1.1m-1-1h1.1m-1.1 1.3h1.1m-1.1 1.2h1.1m-1-1.7h1.1m-1 .1h1.1m-1.1 1.8h1.1m-1.1-1.2h1.1m-1 1.3h1.1m-1-.1h1.1m-1.1-2.1h1.1m-1.1 1h1.1m-1.1 1.3h1.1m-1.1-1.7h1.1m-1 .4h1.1m-1 .2h1.1m-1.1-.4h1.1m-1.1 1.1h1.1m-1.1 .4h1.1m-1-2.4h1.1m-1-.3h1.1m-1 2.4h1.1m-1-1h1.1m-1.1 1.2h1.1m-1.1-.1h1.1m-1.1-2.1h1.1m-1 .4h1.1m-1-.6h1.1m-1.1 .3h1.1m-1 .9h1.1m-1 .8h1.1m-1.1 .3h1.1m-1-1h1.1m-1.1 1.2h1.1m-1.1-2h1.1m-1.1 .4h1.1m-.9-1h1.1m-1 1.3h1.1m-1-.2h1.1m-1 1.4h1.1m-1.1-.6h1.1m-1 .8h1.1m-1-1.9h1.1m-1 1.3h1.1m-1.1-1.8h1.1m-1.1 1h1.1m-.9 .7h1.1m-1-1.6h1.1m-1 1.9h1.1m-1-2h1.1m-1.1 2.2h1.1m-1.1-2.2h1.1m-1 .4h1.1m-1.1 1.2h1.1m-1.1-1.9h1.1m-1 1.7h1.1m-.8-.5h1.1m-1.1 .4h1.1m-.9 .9h1.1m-1.1-.4h1.1m-.9-1.7h1.1m-1 .8h1.1m-1.1 1.5h1.1m-.9-1.6h1.1m-1-1.3h1.1m-.9 1.9h1.1m-1-1h1.1m-1.1 1.5h1.1m-1.1-.4h1.1m-1-1.3h1.1m-1.1 .3h1.1m-1 .6h1.1m-1.1-1.4h1.1m-.9 0h1.1m-1.1 1.3h1.1m-1.1 .6h1.1m-1-.4h1.1m-1 0h1.1m-1.1-.1h1.1m-.8 1h1.1m-1.1-2.2h1.1m-1 .8h1.1m-.9-.3h1.1m-1.1 .6h1.1m-1-.1h1.1m-1.1-1.3h1.1m-1.1 .4h1.1m-1-.4h1.1m-1.1 2.7h1.1m-1.1-2.4h1.1m-1 1.5h1.1m-1.1 .1h1.1m-1 .8h1.1m-1.1-1.5h1.1m-1.1 .3h1.1m-.9 .1h1.1m-1.1 .2h1.1m-1.1-.9h1.1m-1 1.5h1.1m-1.1-.5h1.1m-1-1.6h1.1m-.9 .1h1.1m-1 .6h1.1m-1.1 1.4h1.1m-1.1-1.6h1.1m-1 1.3h1.1m-.9 .4h1.1m-1.1-.4h1.1m-1.1-.2h1.1m-.9-1.9h1.1m-1 .5h1.1m-1 2h1.1m-1-1.4h1.1m-1 .2h1.1m-1.1 .4h1.1m-.9-1.7h1.1m-1 2.1h1.1m-1.1-.5h1.1m-1-.9h1.1m-1-.4h1.1m-.9 .8h1.1m-1.1 1.3h1.1m-1 .1h1.1m-1.1-.7h1.1m-1-1h1.1m-1.1 1.9h1.1m-1.1-.6h1.1m-1.1 .5h1.1m-1-2.2h1.1m-1 .1h1.1m-1 .9h1.1m-.9 .7h1.1m-1.1-.4h1.1m-1.1 .2h1.1m-1.1 .5h1.1m-.9-1.8h1.1m-1.1 1.4h1.1m-.9-.5h1.1m-1.1 1.1h1.1m-1.1-2.6h1.1m-1.1 1.1h1.1m-1.1 .9h1.1m-.9 0h1.1m-1-1.3h1.1m-1-.6h1.1m-1 .7h1.1m-1.1 1.8h1.1m-1-2.6h1.1m-1.1 1.5h1.1m-1.1-1.4h1.1m-.9 .7h1.1m-.8 1.2h1.1m-.8 .1h1.1m-1.1 .3h1.1m-.8-.1h1.1m-.8 .4h1.1m-.7-.8h1.1m-1.1 .1h1.1m-.7 0h1.1m-1-2.2h1.1m-.8 1.1h1.1m-.8 1.9h1.1m-.9-.5h1.1m-1.1-.4h1.1m-1 .7h1.1m-1.1-1h1.1m-1 1h1.1m-1.1-1.9h1.1m-1.1-.4h1.1m-.9 2h1.1m-1-1.6h1.1m-.9 .5h1.1m-.9 .7h1.1m-1.1-2h1.1m0 .5h1.1m-1 1.6h1.1m-1-1.2h1.1m-1.1 1.1h1.1m-1-.2h1.1m-1-1.2h1.1m-.8 2.1h1.1m-1-.8h1.1m-1.1 .8h1.1m-.4-.4h1.1m-.6 .3h1.1m-1-.6h1.1m-.9 .7h1.1m-.8-.4h1.1m-.3-1.4h1.1m-1 .4h1.1m-1.1 .2h1.1m-1-.2h1.1m-.9-.7h1.1m-.7-.1h1.1m-1-.5h1.1m-.8 .1h1.1m-.1 .9h1.1m-.2 .8h1.1m-.9-1h1.1m-.5 1.5h1.1m.9 0h1.1m-.7 .1h1.1m-1 .1h1.1m-1-2.5h1.1m3.1 1.5h1.1m-.7-.3h1.1m.6 .2h1.1m11 .8h1.1m-395.8 2.4h1.1m-.3-1.1h1.1m-.1 2.3h1.1m1-.9h1.1m.8-.2h1.1m-.9 .4h1.1m-.9-1.1h1.1m-.1 .2h1.1m-.7 .2h1.1m-.9 .9h1.1m-.2-2.4h1.1m-.8 2.6h1.1m-.5-2.5h1.1m-.6 1.4h1.1m-.7 .8h1.1m-1 .1h1.1m-.8-1h1.1m-1 .2h1.1m-1 .2h1.1m-.9 .2h1.1m-.8-1.2h1.1m-1.1 .9h1.1m-.4 .3h1.1m-.9-1.9h1.1m-.8 .5h1.1m-.7-.4h1.1m-.8 .2h1.1m-.9 1.9h1.1m.1-.4h1.1m-1 .2h1.1m-.5-.3h1.1m-.7 .3h1.1m-1-.2h1.1m-.9-1h1.1m-.8 2h1.1m-.9 0h1.1m-.9-2h1.1m-.8 .4h1.1m-1-.3h1.1m-1 .1h1.1m-1.1 1.6h1.1m-1-.9h1.1m-1 .1h1.1m-1-.2h1.1m-.9 .7h1.1m-1.1-1.6h1.1m-1 .6h1.1m-1.1 1.3h1.1m-1.1 0h1.1m-1-2.6h1.1m-1 .4h1.1m-.9 .6h1.1m-1-.8h1.1m-1.1 1.3h1.1m-.9 .8h1.1m-.9-1.1h1.1m-.9-1h1.1m-1 1.7h1.1m-.9-.4h1.1m-.8-1.1h1.1m-.5-.2h1.1m-1 .1h1.1m-1 1.5h1.1m-1.1-.4h1.1m-1.1-1h1.1m-.9-.2h1.1m-1 1.1h1.1m-1-1.3h1.1m-.9 2.4h1.1m-1-2.5h1.1m-.8 2.2h1.1m-1 .3h1.1m-1.1 0h1.1m-1-.2h1.1m-.9-.1h1.1m-.8 .3h1.1m-1-2.2h1.1m-.9 2.4h1.1m-1-2.6h1.1m-1 2.7h1.1m-.8-1.8h1.1m-1.1 1h1.1m-.7 1h1.1m-1-.5h1.1m-1.1-1.8h1.1m-1-.7h1.1m-1.1 2h1.1m-1.1-1.2h1.1m-.5 .9h1.1m-1-.4h1.1m-.8 1.5h1.1m-1.1 0h1.1m-1-.5h1.1m-1.1 0h1.1m-.8 .6h1.1m-1-.9h1.1m-1-.5h1.1m-1.1 .7h1.1m-1 .7h1.1m-1.1-.1h1.1m-1.1-1.8h1.1m-.9 .7h1.1m-.8 0h1.1m-1.1-.2h1.1m-1.1-.1h1.1m-1-1h1.1m-.7 1h1.1m-1-.6h1.1m-.8 1.9h1.1m-1-.1h1.1m-1.1 .4h1.1m-1.1-.3h1.1m-.8-.6h1.1m-1.1 .8h1.1m-1.1 0h1.1m-.9-2.5h1.1m-1 1h1.1m-1 .2h1.1m-1 1h1.1m-.7-2.4h1.1m-1 2.2h1.1m-1.1-1.1h1.1m-.9-1.1h1.1m-.9 2.4h1.1m-1-2.1h1.1m-1.1 1.6h1.1m-.9-.5h1.1m-1 .6h1.1m-.7-.9h1.1m-.9 .6h1.1m-.9 .5h1.1m-1-.8h1.1m-1 .2h1.1m-1-1.7h1.1m-.8 1.1h1.1m-.9 1.5h1.1m-.9-1.6h1.1m-.4 .5h1.1m-.1 0h1.1m-.9 1.3h1.1m-.6-.8h1.1m-.8-.3h1.1m-.3-1.5h1.1m-1.1 1.5h1.1m-.5-1.2h1.1m-.9 .1h1.1m0 1.8h1.1m-.4 .3h1.1m-1-.1h1.1m-1-1.4h1.1m-1 .2h1.1m-1.1-1.1h1.1m-.9 1.5h1.1m-1-.6h1.1m-.6 .3h1.1m-.5-1.6h1.1m-.4 2.7h1.1m-.3-2.3h1.1m-1 .2h1.1m-.7 1.5h1.1m2.2 .8h1.1m.2-2.2h1.1m-.8 .9h1.1m-.4-.3h1.1m0 1.1h1.1m-.8-.2h1.1m1.9-.4h1.1m-.6 .5h1.1m-.5-1.2h1.1m-1 .4h1.1m-.3 .2h1.1m.6 .4h1.1m-.1-.5h1.1m-1.1 1.3h1.1m2.6-2.6h1.1m-.9 1.8h1.1m9.4-1.4h1.1m81.9-.1h1.1m5.9-.1h1.1m-.8 0h1.1m1.5 1.2h1.1m-.4-.6h1.1m-.5 1.7h1.1m-.1-2.2h1.1m-.9 1.5h1.1m-.2-.5h1.1m-.9 .3h1.1m0-1.2h1.1m1.5-.1h1.1m.4 1.9h1.1m-1-.3h1.1m.1-.4h1.1m-.9-1.3h1.1m-.7 .9h1.1m-.5-.1h1.1m-1.1-.7h1.1m.1 2.3h1.1m-1.1-1h1.1m-1-.8h1.1m-1-1h1.1m-.3 2h1.1m-1.1 .3h1.1m-.3-1.8h1.1m-1.1 .3h1.1m-1-.1h1.1m-.7 .8h1.1m-1 1h1.1m-.9-.4h1.1m-1.1-1.2h1.1m-.8 2h1.1m-1-.6h1.1m-1 .5h1.1m-1.1 0h1.1m-.6-2.4h1.1m-.8 .1h1.1m-1 .8h1.1m-1.1 1.1h1.1m-.7-2.2h1.1m-.8 2.4h1.1m-1.1-.2h1.1m-1-2.4h1.1m-.8 2.7h1.1m-1.1-1.4h1.1m-.7 1.3h1.1m-.8-1.1h1.1m-.9-.6h1.1m-.9 1.8h1.1m-1.1-1h1.1m-1-1.2h1.1m-.7-.2h1.1m-1 1.6h1.1m-1 .1h1.1m-.8-1.2h1.1m-1-.3h1.1m-1 1.4h1.1m-.9-.2h1.1m-.7-1.1h1.1m-.8 2.2h1.1m-.7 .1h1.1m-.9-2.6h1.1m-1 1.3h1.1m-1.1 .9h1.1m-.9-.3h1.1m-.9-.8h1.1m-1.1-1.4h1.1m-.7 1.6h1.1m-1 .7h1.1m-1.1-1.1h1.1m-1.1-.9h1.1m-1.1 .2h1.1m-.8 1.1h1.1m-1-.3h1.1m-.8 .9h1.1m-.6-1.6h1.1m-1 1.9h1.1m-1.1-1.3h1.1m-.9 .1h1.1m-1 .8h1.1m-1-1.2h1.1m-1 .7h1.1m-.9-.8h1.1m-1.1-.1h1.1m-1.1-.6h1.1m-1 .2h1.1m-1 .9h1.1m-.9 .9h1.1m-.8-.4h1.1m-1 .4h1.1m-.7-2h1.1m-.5-.2h1.1m-.9 .6h1.1m-1 1h1.1m-1.1-1.5h1.1m-.6 .3h1.1m-1 1.2h1.1m-1 1.3h1.1m-.4-1.3h1.1m-1.1-1.5h1.1m-1 .2h1.1m-.8 .4h1.1m-1.1 1.3h1.1m-.5-1.7h1.1m-.7 2.2h1.1m-1.1-2.4h1.1m-1 0h1.1m-.9 2h1.1m-1-.4h1.1m-.5-1.3h1.1m-1.1 1.3h1.1m-1 1.2h1.1m-1.1-1.6h1.1m-1-1.2h1.1m-1 2.8h1.1m-1-.5h1.1m-.7 .1h1.1m-.7-.8h1.1m-.7 1.2h1.1m-.9-.6h1.1m-1-.4h1.1m-1-.3h1.1m-.8 .3h1.1m-.7-.4h1.1m-1 1.3h1.1m-1.1-1h1.1m-.8-.8h1.1m-.9 1.4h1.1m-1-2.3h1.1m-.3 .5h1.1m-.6 1.5h1.1m-.8 .8h1.1m-1.1-2.1h1.1m.1 .2h1.1m-.8 1.7h1.1m-1 .2h1.1m-1-2.2h1.1m-1.1 .3h1.1m-.7-.9h1.1m-1.1 0h1.1m-1 2.6h1.1m-1.1-.5h1.1m-.1-.1h1.1m.1 .9h1.1m.1-1.1h1.1m-.4-.3h1.1m.3-.4h1.1m-1-1.1h1.1m-.6 2h1.1m-.3 .8h1.1m9.3-.4h1.1m3.2-2.3h1.1m90.2-.1h1.1m4.3 1.8h1.1m1.2-.6h1.1m7.8-1h1.1m-1.1 1.9h1.1m-1-1.7h1.1m-.5 1.7h1.1m-.6-.6h1.1m-.6-.9h1.1m-1.1 0h1.1m-1 1.9h1.1m-.5-1.6h1.1m-1 .3h1.1m-.6-.9h1.1m-.7 .5h1.1m-.8-.1h1.1m-1-.5h1.1m-1-.2h1.1m-.8 .1h1.1m-.9 .6h1.1m-1.1-.6h1.1m-1 .7h1.1m-.9 1.1h1.1m-1.1 1h1.1m-1-2.6h1.1m-.7 2.1h1.1m-1-2.1h1.1m-.8 1.4h1.1m-1 .5h1.1m-.7-2.3h1.1m-.8 2.3h1.1m-.8-.6h1.1m-1.1-.6h1.1m-.9 1.4h1.1m-.5-2.3h1.1m-1 1.7h1.1m-1.1-1.1h1.1m-.8-.2h1.1m-1.1 2.2h1.1m-1-.1h1.1m-.9-2.4h1.1m-1 1.4h1.1m-1.1-.6h1.1m-1 1h1.1m-1.1-.1h1.1m-1-.4h1.1m-1.1-1.2h1.1m-1 .9h1.1m-.8 .5h1.1m-1.1-.3h1.1m-1.1-1.1h1.1m-.8 2.5h1.1m-1.1-1.8h1.1m-1 .9h1.1m-.9-.2h1.1m-1.1 .4h1.1m-1.1-1.7h1.1m-.9 1.2h1.1m-1-1.4h1.1m-1.1 2.3h1.1m-.9-1.2h1.1m-1.1 0h1.1m-1.1 1.3h1.1m-1.1-2.3h1.1m-1 .2h1.1m-.9-.3h1.1m-1.1 1.9h1.1m-1 .4h1.1m-1.1-1.3h1.1m-1-.9h1.1m-1.1 1h1.1m-1-.5h1.1m-1.1-.6h1.1m-1.1 2.7h1.1m-.9-.9h1.1m-1.1 .7h1.1m-1-.3h1.1m-1.1-.8h1.1m-1 0h1.1m-1-.1h1.1m-1.1 1.1h1.1m-1-.2h1.1m-.9-2.4h1.1m-1 1h1.1m-1 .8h1.1m-1.1 .3h1.1m-.9 .5h1.1m-.8-.8h1.1m-1.1-.1h1.1m-1.1 .6h1.1m-1 0h1.1m-1.1 .3h1.1m-1-1.8h1.1m-1 1.7h1.1m-1 0h1.1m-1.1-1.2h1.1m-.9-.5h1.1m-1-.6h1.1m-1.1 1.3h1.1m-1 .2h1.1m-1-1.6h1.1m-.9 2h1.1m-.8-1.9h1.1m-1 1.9h1.1m-1-1.1h1.1m-1.1 .9h1.1m-.8-1.5h1.1m-1 1.6h1.1m-1.1-2.1h1.1m-.9 2.7h1.1m-1-1.6h1.1m-1.1-1h1.1m-.8 0h1.1m-.9 .1h1.1m-1.1 1.6h1.1m-1 0h1.1m-1-1.7h1.1m-.9 2.3h1.1m-1.1 0h1.1m-1-.6h1.1m-1.1-.8h1.1m-1 1.5h1.1m-1-1.9h1.1m-1 .6h1.1m-1.1 1.1h1.1m-1.1-.2h1.1m-1-.8h1.1m-1 1.5h1.1m-.9-2.6h1.1m-1.1 2.7h1.1m-1-.8h1.1m-1.1 .3h1.1m-1-1h1.1m-1.1 .8h1.1m-1.1-.4h1.1m-1 1h1.1m-1.1-1.1h1.1m-1.1-1.3h1.1m-1 .9h1.1m-.9-.6h1.1m-1.1-.5h1.1m-1.1 1.7h1.1m-1 .7h1.1m-1.1-.7h1.1m-1.1 .9h1.1m-1-2.4h1.1m-1-.4h1.1m-1.1 2.5h1.1m-1.1-.8h1.1m-1 .2h1.1m-1-1.2h1.1m-1 1h1.1m-1.1 1h1.1m-.9-1.1h1.1m-1-.2h1.1m-1.1 .5h1.1m-1.1-1.4h1.1m-1 1.9h1.1m-1 .3h1.1m-1.1-1.8h1.1m-1.1-.2h1.1m-1 1h1.1m-1-1.4h1.1m-1.1 0h1.1m-1.1 1h1.1m-1.1 .5h1.1m-1-.9h1.1m-1.1 1.9h1.1m-1.1-1h1.1m-.9-1h1.1m-1.1-.4h1.1m-1 .1h1.1m-1.1 .7h1.1m-1.1 1.3h1.1m-1 .4h1.1m-.9-1h1.1m-1-.3h1.1m-1.1-.2h1.1m-1 1.2h1.1m-1.1-1.1h1.1m-.9 .4h1.1m-1.1-1.7h1.1m-1-.1h1.1m-1.1 2.7h1.1m-1-1.6h1.1m-1.1 1.5h1.1m-1.1-2.7h1.1m-1 2.4h1.1m-1-.3h1.1m-1.1 .7h1.1m-1.1-1.8h1.1m-1 .1h1.1m-1 .5h1.1m-1.1 .2h1.1m-1-.5h1.1m-1.1-.2h1.1m-1.1 1.8h1.1m-1.1-.4h1.1m-1.1-.8h1.1m-1 .8h1.1m-1.1-2.2h1.1m-1.1 .1h1.1m-.9 2.5h1.1m-1.1-.5h1.1m-1-.7h1.1m-1 .5h1.1m-1.1-.3h1.1m-1.1-.8h1.1m-1.1-.2h1.1m-1 .7h1.1m-1.1-.3h1.1m-1.1 1h1.1m-1.1-1.3h1.1m-1-.1h1.1m-1-.6h1.1m-1 2.3h1.1m-1.1-1.6h1.1m-1-.4h1.1m-1.1 1.9h1.1m-1.1-.4h1.1m-1.1-1h1.1m-1-.8h1.1m-1 .8h1.1m-1.1-.6h1.1m-1-.3h1.1m-1.1 2.1h1.1m-1.1-.8h1.1m-1 .9h1.1m-1.1-1.1h1.1m-1 1.4h1.1m-1-1.4h1.1m-1.1 1.7h1.1m-1-.4h1.1m-1.1 0h1.1m-1-2.4h1.1m-.9 2.4h1.1m-1.1-1.2h1.1m-1.1-1.2h1.1m-1 0h1.1m-1.1 1.9h1.1m-1.1-.6h1.1m-1 1.4h1.1m-1.1-.5h1.1m-1.1-1.1h1.1m-1.1 .4h1.1m-1 1.2h1.1m-1.1-.2h1.1m-1.1-1.2h1.1m-1-.6h1.1m-1 .9h1.1m-1.1 .8h1.1m-1-1.5h1.1m-1.1 .9h1.1m-1 .8h1.1m-1.1-.5h1.1m-1.1-1.8h1.1m-1.1 .2h1.1m-1.1 1.3h1.1m-1-2h1.1m-1 1.6h1.1m-1.1 1.1h1.1m-1.1 0h1.1m-1.1-2.2h1.1m-1 2h1.1m-1.1-.8h1.1m-1.1 0h1.1m-1 .4h1.1m-1 .3h1.1m-1.1-2.4h1.1m-1 .8h1.1m-1-.3h1.1m-.9 2h1.1m-1-2.4h1.1m-1.1 .4h1.1m-1-.4h1.1m-1.1 .5h1.1m-1 1.5h1.1m-1-1.6h1.1m-1 1h1.1m-1 .3h1.1m-1.1-1.2h1.1m-1.1 2.3h1.1m-1.1-1.3h1.1m-1 0h1.1m-1-1.2h1.1m-1.1 .9h1.1m-1-.1h1.1m-1.1 1.5h1.1m-1.1-1.2h1.1m-1.1-1.1h1.1m-1 1.6h1.1m-1.1 .4h1.1m-1.1 .2h1.1m-.9-2h1.1m-1.1 2.1h1.1m-1-.5h1.1m-1.1 .5h1.1m-1.1-1.9h1.1m-1 2.2h1.1m-.9-.3h1.1m-1.1-2.6h1.1m-.9 .6h1.1m-1.1 2.2h1.1m-1.1-.7h1.1m-1-1.6h1.1m-.9 .3h1.1m-.9 .4h1.1m-1.1-.1h1.1m-.9 .8h1.1m-1 .5h1.1m-1 .5h1.1m-1-2.1h1.1m-.9 1.5h1.1m-1-.9h1.1m-.9 1h1.1m-1-.2h1.1m-1.1-.6h1.1m-1 .4h1.1m-1-1.7h1.1m-1 1.7h1.1m-1.1 .9h1.1m-1.1-1.1h1.1m-1-1.9h1.1m-1 .9h1.1m-1.1 1.9h1.1m-1.1-1.2h1.1m-1 .8h1.1m-1.1-.9h1.1m-1-.4h1.1m-1.1 .2h1.1m-1.1 .2h1.1m-1-.4h1.1m-1-.8h1.1m-1 2.1h1.1m-1.1-.4h1.1m-1.1 .4h1.1m-1.1 .5h1.1m-.9-2.9h1.1m-1.1 .9h1.1m-1 2h1.1m-1.1-1.5h1.1m-.9-.8h1.1m-1.1 2.1h1.1m-.7-1.9h1.1m-1.1-.7h1.1m-1 .8h1.1m-1 .6h1.1m-1-1.1h1.1m-1.1 .4h1.1m-1.1 .4h1.1m-1-1.2h1.1m-1.1 .1h1.1m-.9 1.4h1.1m-1.1 .5h1.1m-1-2h1.1m-1 .6h1.1m-1.1-.2h1.1m-.9 1.8h1.1m-1.1-1.8h1.1m-1-.4h1.1m-1.1 1.1h1.1m-1 .6h1.1m-1-.7h1.1m-1.1 1h1.1m-1-.5h1.1m-.8 1.3h1.1m-1.1-.8h1.1m-1.1 .2h1.1m-1 .6h1.1m-1-1.4h1.1m-1 1.6h1.1m-1-1.5h1.1m-1.1-.5h1.1m-1.1 1.4h1.1m-1.1 .4h1.1m-1-1.8h1.1m-1-.1h1.1m-1-.3h1.1m-1-.4h1.1m-1.1 1.6h1.1m-1 .8h1.1m-1-2.2h1.1m-1 2.6h1.1m-1-.5h1.1m-1-1.2h1.1m-1-.3h1.1m-1 1.9h1.1m-1.1-.4h1.1m-1-1.9h1.1m-.8 1.6h1.1m-1-.7h1.1m-.9-1.4h1.1m-1 .7h1.1m-1 .2h1.1m-1 1h1.1m-1 0h1.1m-.7 .6h1.1m-.9-1.3h1.1m-.7-.4h1.1m-.9 .3h1.1m-1.1 0h1.1m-1 1.8h1.1m-1-.2h1.1m-1.1 .2h1.1m-1.1-2.5h1.1m-.8 .7h1.1m-.8 .1h1.1m-1-1h1.1m-1 2h1.1m-1.1-1.2h1.1m-1 1.1h1.1m-1.1 0h1.1m-.9-1.8h1.1m-1 1.9h1.1m-.7-1.1h1.1m-1.1-1.1h1.1m-1.1 1h1.1m-.9-.5h1.1m-1 1.1h1.1m-1 .7h1.1m-1-.6h1.1m-.7-1.3h1.1m-1 1.4h1.1m-1.1 0h1.1m-1-1.8h1.1m-1 1.5h1.1m-1-1.1h1.1m-.4 .9h1.1m-1-.2h1.1m-1 .4h1.1m-1.1 0h1.1m-1-.3h1.1m-.8-.4h1.1m-.6 .7h1.1m-.5 .1h1.1m-1 1.2h1.1m-.8-.7h1.1m-1 .1h1.1m-.9-1.6h1.1m-1 .4h1.1m-1 1.5h1.1m.1-1h1.1m-.2 .1h1.1m-.4-.4h1.1m-1.1-.7h1.1m.3 0h1.1m-.2 0h1.1m-.9-.2h1.1m-.5-.3h1.1m-.6 2.7h1.1m-.6-1.3h1.1m-.4 .8h1.1m8.6-.2h1.1m11.5-1h1.1m-417.4 4.4h1.1m8.4-.6h1.1m5.1-.9h1.1m1.9 1.6h1.1m-.3-1.8h1.1m-.8-.3h1.1m-.6 2.4h1.1m-.9-1.7h1.1m.6 1.7h1.1m-.3-.8h1.1m-.7 .3h1.1m-.3-1.7h1.1m-1 1h1.1m-.2 .4h1.1m-.1-1.7h1.1m-.9 2.1h1.1m-.9-1.8h1.1m-1 2h1.1m-.8-2.1h1.1m-.6 .4h1.1m-.4 1.7h1.1m-1.1-.4h1.1m-.9-1.4h1.1m-.8 0h1.1m-.8 1.5h1.1m-1.1 .2h1.1m-1-2.1h1.1m-1 0h1.1m-.9 2.3h1.1m-1.1-1.7h1.1m-1.1 0h1.1m-1 1.1h1.1m-.8-.9h1.1m-.6-1.2h1.1m-.5 0h1.1m-.9 2h1.1m-.9-.1h1.1m-.9-1.6h1.1m-1 2.1h1.1m-1 .3h1.1m-1-.9h1.1m-.9-.8h1.1m-1-.4h1.1m-.7 1.1h1.1m-.6-1h1.1m-1.1 1.4h1.1m-1 .6h1.1m-1-.4h1.1m-1-.1h1.1m-1-2.2h1.1m-1.1 1.4h1.1m-1 .4h1.1m-1-.3h1.1m-1.1-1.2h1.1m-.9 .2h1.1m-.9 1.7h1.1m-1.1-.7h1.1m-1-1h1.1m-.9 2.2h1.1m-1.1-.9h1.1m-.9 .6h1.1m-.8-.9h1.1m-1-.3h1.1m-1.1 1.3h1.1m-1.1 .4h1.1m-1-.3h1.1m-1-1.8h1.1m-1.1 .3h1.1m-1 .2h1.1m-1 0h1.1m-.9 .2h1.1m-1.1 .3h1.1m-1-.7h1.1m-1 1.2h1.1m-.9 0h1.1m-1.1-.4h1.1m-.9-1.3h1.1m-1.1 .8h1.1m-1.1 0h1.1m-1.1 .1h1.1m-.9-.5h1.1m-.9-.9h1.1m-1 0h1.1m-1.1 .8h1.1m-.9 .5h1.1m-1 .5h1.1m-.9-1.5h1.1m-.9 1.6h1.1m-1.1-.9h1.1m-1 .4h1.1m-1-.5h1.1m-1.1-.3h1.1m-1.1 1.7h1.1m-1.1-1.9h1.1m-1.1 1.6h1.1m-1 .4h1.1m-1.1-1.6h1.1m-1 .1h1.1m-1 1.4h1.1m-1-1.5h1.1m-1.1-.6h1.1m-1.1 2.4h1.1m-.7-.9h1.1m-1.1-.7h1.1m-1.1 .6h1.1m-.9 .6h1.1m-1-1h1.1m-1.1 1.5h1.1m-.9-1.7h1.1m-1.1-.1h1.1m-1 .6h1.1m-.9-1.6h1.1m-1 .5h1.1m-1.1 1.6h1.1m-1-1.6h1.1m-1 1.6h1.1m-1-1.6h1.1m-1.1 .8h1.1m-1-.8h1.1m-1.1 2.1h1.1m-1.1-.4h1.1m-1.1-2.2h1.1m-1 .5h1.1m-1.1 2.3h1.1m-1.1-1.9h1.1m-1 1.3h1.1m-1-1.2h1.1m-1.1-.3h1.1m-1.1 .6h1.1m-1 1h1.1m-1.1-1.5h1.1m-1-.4h1.1m-1 1.6h1.1m-1.1-.7h1.1m-1-.8h1.1m-1 2h1.1m-1.1 .1h1.1m-1-.8h1.1m-1 .5h1.1m-1.1 .3h1.1m-1-.9h1.1m-1-1.2h1.1m-1.1 .3h1.1m-1-.1h1.1m-1 .6h1.1m-1.1 0h1.1m-.9 1.5h1.1m-1-.1h1.1m-1.1-.9h1.1m-1 .5h1.1m-1.1-.6h1.1m-1 .6h1.1m-1.1 .4h1.1m-1-.2h1.1m-1.1-.2h1.1m-.9-1.4h1.1m-1.1 1.4h1.1m-1.1-.3h1.1m-1.1 .5h1.1m-1.1-.1h1.1m-1-1.3h1.1m-1.1-.9h1.1m-1.1 1.7h1.1m-1 .3h1.1m-1 .1h1.1m-.9 .1h1.1m-1.1 .5h1.1m-.9-2.1h1.1m-1.1 1h1.1m-1 .3h1.1m-.9 .1h1.1m-.6-1.2h1.1m-.9-.6h1.1m-1 .8h1.1m-.9-.2h1.1m-1 .3h1.1m-1 0h1.1m-.9 .1h1.1m-1.1-1.1h1.1m-1 2.6h1.1m-1-2.2h1.1m-1 1.5h1.1m-.8 .3h1.1m-1.1-1.9h1.1m-1 .4h1.1m-.8 .3h1.1m-1.1 .8h1.1m-.9-.2h1.1m-1.1 .3h1.1m-1-.6h1.1m-.9-1h1.1m-1 1.3h1.1m-1-1.1h1.1m-.9 .9h1.1m-1 0h1.1m-1.1-.5h1.1m-1.1-.8h1.1m-1.1 1.1h1.1m-1-1.6h1.1m-1 2h1.1m-1-2h1.1m-.8 1.2h1.1m-.8 1.7h1.1m-1.1-2.3h1.1m-1.1 .8h1.1m-.9-.4h1.1m-1.1 .3h1.1m-1 1.3h1.1m-.9-1.4h1.1m-1.1 .2h1.1m-1-.7h1.1m-1 1.5h1.1m-1.1-.7h1.1m-.9 .8h1.1m-.5-1.1h1.1m-1 1.5h1.1m-1.1 .2h1.1m-.7-.1h1.1m-.8-.8h1.1m-1.1 .7h1.1m-1-.7h1.1m-.9-.6h1.1m-.6 0h1.1m-1-.1h1.1m-1 .4h1.1m-.9 .1h1.1m-.9 0h1.1m-.8 .9h1.1m-1-1.7h1.1m-.8 .5h1.1m-1 1.5h1.1m-.8-2.2h1.1m-.9 1.4h1.1m-.8 .3h1.1m-.9 .4h1.1m-1.1-.8h1.1m-.4-1.3h1.1m-1-.2h1.1m-1-.4h1.1m-.8 .9h1.1m-1 .8h1.1m-.7 .9h1.1m0 .1h1.1m1.2-2.3h1.1m-1 1.9h1.1m-.9-1.7h1.1m-1 .9h1.1m-.2 0h1.1m-.6 0h1.1m-1 .9h1.1m-.6-.8h1.1m-1-.9h1.1m-1 1.6h1.1m-1.1-.6h1.1m-.7-.4h1.1m-.7 .6h1.1m-.7 0h1.1m-.3 .3h1.1m-.9-1.2h1.1m-1 1.1h1.1m-.8-.6h1.1m-.6-.7h1.1m-.2 .1h1.1m-.9 .4h1.1m-1 .6h1.1m-1-2h1.1m-1 .6h1.1m1.1 1.2h1.1m-.2 0h1.1m.2 1.1h1.1m-1-.8h1.1m0-1.6h1.1m-.9 .4h1.1m-.3-.4h1.1m.6-.2h1.1m.2 2.2h1.1m4.3-1.1h1.1m-.5-.3h1.1m94.2-.7h1.1m2.3 1.9h1.1m-1.1 .2h1.1m-.9-1.8h1.1m1.5 .9h1.1m-.9 1h1.1m-1-1.6h1.1m1.3-1h1.1m-.4 .8h1.1m0-.4h1.1m.2-.3h1.1m-.7 .8h1.1m-.9-.9h1.1m-.9 1.6h1.1m-.1 1.2h1.1m.5-1.3h1.1m-.6-.7h1.1m-.9 .3h1.1m-.8 .4h1.1m-1 .6h1.1m-.7-1.4h1.1m-1.1 .3h1.1m-1.1 1.1h1.1m-.4-1h1.1m-1 .6h1.1m-.9 .5h1.1m-.9 .3h1.1m-.8-.5h1.1m-.8-.6h1.1m-1-1.3h1.1m-.7 .5h1.1m-1.1 1.5h1.1m-.8 .3h1.1m-1.1-.9h1.1m-1-.3h1.1m-.9-1.2h1.1m-.5 1h1.1m-1 0h1.1m-.7-.3h1.1m-.7 2.2h1.1m-.9-.3h1.1m-1.1 .2h1.1m-.1-1.1h1.1m-1.1 .4h1.1m-1 .1h1.1m-1-1.1h1.1m-1.1 .5h1.1m-1-.7h1.1m-1 1.9h1.1m-.9-2.7h1.1m-.9 .9h1.1m-1-.4h1.1m-.9 .1h1.1m-.9 .8h1.1m-1.1-1.1h1.1m-1 0h1.1m-1 1.2h1.1m-.9 .7h1.1m-.7-.6h1.1m-1-1.1h1.1m-.9 1.6h1.1m-1-.2h1.1m-1-1.6h1.1m-1-.2h1.1m-.6 0h1.1m-1.1 .5h1.1m-.9 1.6h1.1m-1.1-1.2h1.1m-1.1 .8h1.1m-1 0h1.1m-1-.2h1.1m-1 .3h1.1m-1-.1h1.1m-1 .7h1.1m-1.1-.7h1.1m-.5-.9h1.1m-.9 1.8h1.1m-1.1-.2h1.1m-.6-2.3h1.1m-1 .8h1.1m-.4 1.1h1.1m-1-.6h1.1m-1.1 .4h1.1m-.8 .5h1.1m-1.1-.4h1.1m-.9-2h1.1m-.6-.1h1.1m-1.1 0h1.1m-1 .9h1.1m-1-.6h1.1m-1.1-.1h1.1m-1.1 1.4h1.1m-.9 .4h1.1m-1.1 .4h1.1m-.9-2.3h1.1m-.9 .2h1.1m-1 .2h1.1m-1.1-.2h1.1m-.7 0h1.1m-.9-.4h1.1m-.8 2.1h1.1m-1 .9h1.1m-.8-.4h1.1m-1.1-.2h1.1m-1.1-.8h1.1m-1.1 .6h1.1m-1.1-.9h1.1m-1 .1h1.1m-.6-.6h1.1m-.8-.1h1.1m-1.1 1.1h1.1m-1 .1h1.1m-1.1-1.2h1.1m-1 1.4h1.1m-1-1.6h1.1m-1 1.1h1.1m-1-.3h1.1m-.8-.7h1.1m-1.1 .7h1.1m-.9-1h1.1m-1.1 .2h1.1m-.9 .8h1.1m-.6-.6h1.1m-.9 .6h1.1m-.5-.4h1.1m-1 1.6h1.1m-.8-.6h1.1m-1-.7h1.1m-.8-.3h1.1m-1.1 1.2h1.1m-1 0h1.1m-.9-1.3h1.1m-.9 .3h1.1m-1 .2h1.1m-1.1 1h1.1m-1-.3h1.1m-.8-1.7h1.1m-1 2.6h1.1m-1-1.3h1.1m-.9-1.2h1.1m-.5 .9h1.1m-1.1 .5h1.1m-1.1 1h1.1m-.4-.3h1.1m-1.1-1.5h1.1m-.8-.1h1.1m-.8 1.6h1.1m-1-1.4h1.1m-1 .8h1.1m-1.1 .8h1.1m-.9-2.3h1.1m-1 1.7h1.1m-.9 0h1.1m.4-1.2h1.1m-1 1.5h1.1m-.8 0h1.1m.6-2.2h1.1m-.4 1h1.1m-1.1 .3h1.1m-.5-.5h1.1m-.7 1.3h1.1m-.4-.4h1.1m.8-1.3h1.1m-.4 1.1h1.1m1.1 .7h1.1m112.9-.2h1.1m2.4 .4h1.1m-.4 .3h1.1m-.2-2.8h1.1m.3 2.2h1.1m.4 .3h1.1m-1-.4h1.1m-.6 .4h1.1m-.9-.2h1.1m-1.1 .1h1.1m-.9-.3h1.1m-.7-1h1.1m-1.1 1.2h1.1m0-2.3h1.1m-1.1 1.8h1.1m-1.1-1.2h1.1m-.9 .1h1.1m-.3-.7h1.1m-.9 0h1.1m-1 2.8h1.1m-1-.3h1.1m-1 .3h1.1m-1.1-2h1.1m-1.1 .5h1.1m-.3 1.5h1.1m-.6-.2h1.1m-1.1-2.5h1.1m-1.1 2.4h1.1m-.9-1.5h1.1m-.9 .1h1.1m-1.1-.7h1.1m-1 .6h1.1m-1-1h1.1m-1 .4h1.1m-1-.2h1.1m-1 .9h1.1m-1-.8h1.1m-1.1-.2h1.1m-1 1.3h1.1m-1.1 .1h1.1m-1.1-.2h1.1m-1-1.3h1.1m-1.1 2.2h1.1m-1-2h1.1m-.9 1.5h1.1m-.9 .9h1.1m-.9-1.2h1.1m-1.1 .5h1.1m-1-1.4h1.1m-.9 0h1.1m-.9 .8h1.1m-1.1-.6h1.1m-1-.6h1.1m-1.1 .8h1.1m-1 .5h1.1m-1.1 0h1.1m-1.1-1.1h1.1m-1.1 1h1.1m-1-.8h1.1m-.9 1.5h1.1m-.9-1.6h1.1m-1.1 .3h1.1m-1 1.7h1.1m-.7 .3h1.1m-1.1-.7h1.1m-1-1.9h1.1m-1.1 2.5h1.1m-.9-.1h1.1m-1.1-.2h1.1m-1-.8h1.1m-1.1-.6h1.1m-1-.8h1.1m-1.1 .3h1.1m-.9 1.3h1.1m-1.1 1.1h1.1m-1.1-2.4h1.1m-1.1 1.3h1.1m-1-1.7h1.1m-1 2.4h1.1m-1-2.2h1.1m-1.1-.1h1.1m-1 1.7h1.1m-1.1-1h1.1m-1.1-.6h1.1m-.8 2.4h1.1m-1.1-2.3h1.1m-1.1 1.9h1.1m-1.1 .3h1.1m-1.1 .4h1.1m-.9-2.4h1.1m-1.1 2.1h1.1m-1-.5h1.1m-1.1 .4h1.1m-1.1-.3h1.1m-1-1.1h1.1m-1.1 1.3h1.1m-.9 .5h1.1m-.9-1h1.1m-1-1.7h1.1m-1 2.2h1.1m-1-2.5h1.1m-1.1 1.7h1.1m-1-.9h1.1m-1.1-.6h1.1m-1.1 1.8h1.1m-1-.8h1.1m-1.1 .8h1.1m-1-1.7h1.1m-1.1 2.2h1.1m-1-.4h1.1m-1.1 .6h1.1m-1.1 0h1.1m-1-2.4h1.1m-1 .9h1.1m-1.1 1.6h1.1m-1-1.1h1.1m-1 1h1.1m-1.1-2.6h1.1m-1 2.1h1.1m-1-1.8h1.1m-1.1 2.4h1.1m-1.1-1.1h1.1m-1.1 1.2h1.1m-1-.7h1.1m-.9-1.9h1.1m-1.1 1h1.1m-1.1 .9h1.1m-1-1h1.1m-1-.8h1.1m-1.1 .9h1.1m-1-.4h1.1m-1.1 1.5h1.1m-1.1-1.7h1.1m-1 2.2h1.1m-1.1-1.9h1.1m-1.1 1h1.1m-1.1 .6h1.1m-1-2.5h1.1m-1.1 2.2h1.1m-1-1.5h1.1m-1.1 2.2h1.1m-1-2.1h1.1m-1.1 1.7h1.1m-1.1-1.5h1.1m-1-.6h1.1m-1.1 2h1.1m-1-2h1.1m-1.1 .8h1.1m-1-.7h1.1m-1.1 1.8h1.1m-.8-1.2h1.1m-1.1-.1h1.1m-1 .2h1.1m-1-1.1h1.1m-.9 1.1h1.1m-1.1-.5h1.1m-.9 2h1.1m-1.1-.7h1.1m-1-1.5h1.1m-1.1 1h1.1m-1.1-.7h1.1m-1.1-.7h1.1m-1 1.8h1.1m-1-.2h1.1m-1.1-1.5h1.1m-1.1 0h1.1m-1.1 .6h1.1m-1 .9h1.1m-1-.2h1.1m-1-.1h1.1m-1 .1h1.1m-.9-.4h1.1m-1.1 .6h1.1m-1-.3h1.1m-1 1.1h1.1m-1.1-.2h1.1m-1.1 .2h1.1m-.9-1.1h1.1m-1.1 .1h1.1m-1-.6h1.1m-1.1 1.3h1.1m-1.1-1.4h1.1m-1 .8h1.1m-1-.2h1.1m-1-.5h1.1m-1.1 .8h1.1m-1.1 .6h1.1m-1 .1h1.1m-.9-2.5h1.1m-1.1 2.6h1.1m-1.1 .1h1.1m-1-1.2h1.1m-1.1 .3h1.1m-1.1 1h1.1m-1-.1h1.1m-1.1-2.4h1.1m-1.1 1h1.1m-1 .4h1.1m-1 1.1h1.1m-1-1.4h1.1m-1 .5h1.1m-1.1 .6h1.1m-1-1.5h1.1m-1-.9h1.1m-1.1 2.3h1.1m-1 0h1.1m-.8-2.1h1.1m-1.1 .2h1.1m-1.1 2h1.1m-.9-1.9h1.1m-1 1h1.1m-1 .9h1.1m-1.1-2h1.1m-1-.2h1.1m-1.1 .2h1.1m-1-.1h1.1m-1 .1h1.1m-1.1 1.2h1.1m-1 .3h1.1m-1.1 .7h1.1m-1-2h1.1m-1.1-.4h1.1m-1.1 1.3h1.1m-1.1-1h1.1m-1 1.8h1.1m-1.1-.9h1.1m-1.1-1.1h1.1m-1 .2h1.1m-1.1 1.7h1.1m-1.1-.8h1.1m-1.1-.3h1.1m-1.1 1.4h1.1m-1-2.4h1.1m-1 .5h1.1m-1 2.1h1.1m-1.1-1h1.1m-1.1-.7h1.1m-1 1.6h1.1m-1-1.8h1.1m-1.1 1h1.1m-1.1-.5h1.1m-1.1 .1h1.1m-1.1-.9h1.1m-1.1-.6h1.1m-.8 1.2h1.1m-1.1 .9h1.1m-1.1-.2h1.1m-1.1-.3h1.1m-1 .7h1.1m-1.1-.4h1.1m-.9-.3h1.1m-1-1.5h1.1m-1.1 2.1h1.1m-1.1 .8h1.1m-1.1-.9h1.1m-1.1-.4h1.1m-.9-1.4h1.1m-1 .9h1.1m-1 .5h1.1m-1.1 .9h1.1m-1.1-1h1.1m-1-1h1.1m-1.1 1.5h1.1m-1.1 0h1.1m-1-1.7h1.1m-1 0h1.1m-1.1-.3h1.1m-1.1 1.2h1.1m-1 .3h1.1m-1-1.5h1.1m-1 2.4h1.1m-1 0h1.1m-1-1.5h1.1m-1-.4h1.1m-1.1 .2h1.1m-1.1 .6h1.1m-1 .5h1.1m-1.1 .7h1.1m-1-.6h1.1m-1.1-1.9h1.1m-1 2.5h1.1m-1.1-1.9h1.1m-1-.1h1.1m-1-.4h1.1m-1 1.5h1.1m-1.1 0h1.1m-1 .8h1.1m-1-1.2h1.1m-1.1-1h1.1m-1 1.5h1.1m-1-.9h1.1m-1.1 0h1.1m-1-.1h1.1m-1.1 2.1h1.1m-1.1 0h1.1m-1-.9h1.1m-1.1-1.7h1.1m-1 2.5h1.1m-1.1 .2h1.1m-1-2.3h1.1m-1-.1h1.1m-1.1-.5h1.1m-1.1 0h1.1m-.8 1.7h1.1m-1.1 .2h1.1m-.9-.4h1.1m-1-.8h1.1m-1.1-.1h1.1m-1-.7h1.1m-1 2.1h1.1m-1-1.5h1.1m-1 2.1h1.1m-1-.7h1.1m-1.1-1.6h1.1m-1.1 2.2h1.1m-1-1.3h1.1m-1.1-1.2h1.1m-1 1.8h1.1m-1.1-.6h1.1m-1.1-1h1.1m-1 .2h1.1m-1 1.2h1.1m-1 .5h1.1m-.9 .3h1.1m-1.1 .3h1.1m-1-2.8h1.1m-1.1 2.1h1.1m-1-1.6h1.1m-1 1.6h1.1m-1-2h1.1m-1 2.1h1.1m-1 .3h1.1m-1.1-.9h1.1m-1-.9h1.1m-1.1 .6h1.1m-1.1-.4h1.1m-1-.9h1.1m-.8 1.4h1.1m-1.1-.9h1.1m-1 .1h1.1m-1.1 1.8h1.1m-1-.4h1.1m-1.1 .8h1.1m-1 .1h1.1m-.9-2.1h1.1m-.9 1.5h1.1m-1-.2h1.1m-1 .6h1.1m-1-.7h1.1m-1.1-.7h1.1m-1.1-.2h1.1m-1 1.1h1.1m-1-1.3h1.1m-1-.7h1.1m-1.1 1.9h1.1m-1.1 .6h1.1m-1.1-1h1.1m-.9-.5h1.1m-.9 1.1h1.1m-1-2h1.1m-1 2.5h1.1m-1.1-.4h1.1m-.8-.7h1.1m-1 .1h1.1m-1.1-.7h1.1m-1.1-.4h1.1m-1.1 1.4h1.1m-.9-.4h1.1m-1.1-.8h1.1m-1-.2h1.1m-1 .2h1.1m-1 1.1h1.1m-1-1.6h1.1m-1.1 2.5h1.1m-1-2.1h1.1m-.6 .9h1.1m-.7-.6h1.1m-1.1-.3h1.1m-.9 .9h1.1m-.8-.5h1.1m-.9 .8h1.1m-1 0h1.1m-1 0h1.1m-1-1.3h1.1m-1 1.9h1.1m-1.1-1.5h1.1m-1-1.1h1.1m-1 .1h1.1m-1.1 2.6h1.1m-.7-1.1h1.1m-.6 .9h1.1m-1 .3h1.1m-1-1.9h1.1m-1.1 1.8h1.1m-1.1-.2h1.1m-1-2.5h1.1m-1.1 2.8h1.1m-.9-1.7h1.1m-1 0h1.1m-.8-1h1.1m-.9 .2h1.1m-.4 1.4h1.1m-.9-.9h1.1m-1 0h1.1m-.9-.5h1.1m-.8 1.4h1.1m-1.1-1.2h1.1m-1 1.6h1.1m-.9-1.7h1.1m-1.1 .6h1.1m-1.1 .4h1.1m-.7-1.2h1.1m-.7 1h1.1m-1 1.3h1.1m-.8 .4h1.1m-.9-2.9h1.1m-.9 .2h1.1m-.9 2.8h1.1m-.7-2.7h1.1m-1.1 .6h1.1m-.7 1.9h1.1m-.5-2.1h1.1m-1.1 2.1h1.1m-1-1.1h1.1m-.8-1.2h1.1m-.9 1.2h1.1m-.9-1.5h1.1m-1 .5h1.1m-.6 1.9h1.1m-1.1-.1h1.1m-.6-2.4h1.1m-1.1 1.8h1.1m-.9-.4h1.1m-.7-.6h1.1m.1 .9h1.1m.8-1.8h1.1m-.8 .7h1.1m14.4 1.7h1.1m-401.6 2.7h1.1m-1-1.3h1.1m4.3 2h1.1m1.2-1.5h1.1m-.9-1.1h1.1m-1 .5h1.1m-.5 .3h1.1m3.9 .8h1.1m-.1-.7h1.1m-.9-1h1.1m-.1 .5h1.1m-.9 1.9h1.1m-.6-2.2h1.1m-.3 0h1.1m-.8 1.6h1.1m-1-.6h1.1m-.8-.6h1.1m-.5 2.1h1.1m-.5-1.7h1.1m-1 1.1h1.1m-1.1-.2h1.1m-.2-.5h1.1m-.9 .3h1.1m-1.1-1.5h1.1m-1 .5h1.1m-.7 1.4h1.1m-1 .7h1.1m-1-1h1.1m-.8 .7h1.1m-1.1 .4h1.1m-1.1-1.1h1.1m-.7-1.2h1.1m-.8 .6h1.1m-.8 1.6h1.1m-1-2.4h1.1m-1 2.3h1.1m-1-1.9h1.1m-1.1-.4h1.1m-1 1h1.1m-1.1 1.2h1.1m-.9-1.9h1.1m-1-.6h1.1m-1 .5h1.1m-1.1 .9h1.1m-1-.2h1.1m-1.1-.1h1.1m-1 1.5h1.1m-1-2.5h1.1m-1.1 .6h1.1m-1 .6h1.1m-1.1-.2h1.1m-1 1.4h1.1m-1-2h1.1m-.9 1.8h1.1m-1.1-.7h1.1m-1 0h1.1m-1.1 .9h1.1m-.8-1.4h1.1m-1 .2h1.1m-1-.2h1.1m-.9 1.1h1.1m-.9-1.2h1.1m-.9 1.6h1.1m-.9-1.6h1.1m-1-.2h1.1m-1.1-1h1.1m-1 .7h1.1m-1.1-.3h1.1m-1.1 1h1.1m-1.1-.4h1.1m-1-.8h1.1m-1.1 .8h1.1m-1 1.6h1.1m-1-1.8h1.1m-1-.5h1.1m-1.1 1.2h1.1m-1.1 .9h1.1m-1 0h1.1m-1.1-1.2h1.1m-1.1-1.1h1.1m-1.1 2.7h1.1m-1.1-2h1.1m-1.1 2h1.1m-1-2.6h1.1m-1.1 1.9h1.1m-1.1-.4h1.1m-1 .8h1.1m-1.1-2.3h1.1m-1 .1h1.1m-1 1.9h1.1m-1-.7h1.1m-1.1 .6h1.1m-1-.4h1.1m-1.1-1.3h1.1m-1 .3h1.1m-1-.4h1.1m-1.1 1.5h1.1m-1 1.1h1.1m-1.1-2.1h1.1m-1 1.3h1.1m-1.1-.9h1.1m-1-.9h1.1m-1.1 1.3h1.1m-1.1 1.3h1.1m-1-1.2h1.1m-1.1-.9h1.1m-1.1 1.1h1.1m-1-.5h1.1m-1.1-.8h1.1m-1 1.5h1.1m-1 .6h1.1m-1.1-1.6h1.1m-1.1 .6h1.1m-1.1 .5h1.1m-.8-1.4h1.1m-1.1-.5h1.1m-1 2.7h1.1m-1.1-2.9h1.1m-1 .5h1.1m-1-.4h1.1m-1.1 2.3h1.1m-1.1-2.2h1.1m-1 2.4h1.1m-.8-1.1h1.1m-1.1-1.3h1.1m-1 .9h1.1m-1.1 1.6h1.1m-1-1h1.1m-1.1 0h1.1m-1.1-.7h1.1m-1 1.1h1.1m-1.1-1.5h1.1m-1.1 .6h1.1m-1.1 1h1.1m-1 .1h1.1m-1.1-2.3h1.1m-1.1 1.9h1.1m-1 .5h1.1m-1-1.1h1.1m-1-.8h1.1m-1.1 .8h1.1m-1.1 .4h1.1m-1.1 .8h1.1m-1-1.8h1.1m-1 1.8h1.1m-1.1-2.4h1.1m-1.1 1.5h1.1m-1-.6h1.1m-1 1.7h1.1m-1.1-.3h1.1m-1.1-.2h1.1m-1-1.7h1.1m-1.1-.1h1.1m-1 0h1.1m-1.1 2.4h1.1m-1.1-2.4h1.1m-1.1 1.7h1.1m-1-.4h1.1m-1-1.1h1.1m-1.1-.1h1.1m-1 1.8h1.1m-1.1-.4h1.1m-1-.8h1.1m-1.1 .3h1.1m-1 1.1h1.1m-1.1-2.2h1.1m-1.1 1.1h1.1m-1 .2h1.1m-1-.7h1.1m-1.1 0h1.1m-1 .8h1.1m-1.1-.6h1.1m-1 1.1h1.1m-1.1-1.6h1.1m-1 1.5h1.1m-1.1-1.2h1.1m-1-.6h1.1m-1 .6h1.1m-1.1-.4h1.1m-1.1 1.9h1.1m-1-1.5h1.1m-1.1 .1h1.1m-1.1-.5h1.1m-1-.5h1.1m-1 2.7h1.1m-1.1-2.2h1.1m-1.1 1.4h1.1m-1.1-.3h1.1m-1-.8h1.1m-1.1 1.5h1.1m-1.1-.7h1.1m-.9 .6h1.1m-1.1 0h1.1m-.9 .5h1.1m-1.1-2h1.1m-1.1 1.3h1.1m-.9 0h1.1m-1.1-1.9h1.1m-1.1 1h1.1m-1.1-.2h1.1m-1.1 1.6h1.1m-1 .3h1.1m-1-.9h1.1m-1.1-.1h1.1m-1-.1h1.1m-.9-.2h1.1m-.9 1h1.1m-1-.2h1.1m-1.1-1.7h1.1m-1.1 1.2h1.1m-1 .3h1.1m-1.1-1.6h1.1m-1.1 .8h1.1m-1.1 1.1h1.1m-1-1.1h1.1m-1 .7h1.1m-1.1-2h1.1m-1.1 1.5h1.1m-1 .3h1.1m-1 1h1.1m-1-2.7h1.1m-1 1.3h1.1m-1 1.5h1.1m-1-.2h1.1m-1-1.9h1.1m-1.1 1.1h1.1m-1.1 .1h1.1m-1.1-.4h1.1m-1.1 .3h1.1m-1-1.2h1.1m-1.1 1.5h1.1m-1-.8h1.1m-1-1.4h1.1m-.9 .5h1.1m-1-.5h1.1m-1.1 .9h1.1m-1 1h1.1m-1-1.1h1.1m-1-.2h1.1m-1.1 0h1.1m-1-.4h1.1m-1 .8h1.1m-.9 1h1.1m-1 .1h1.1m-1 .8h1.1m-1.1-1.7h1.1m-.9 .3h1.1m-1 1.4h1.1m-1.1-1.5h1.1m-.8 1.3h1.1m-1.1-1.2h1.1m-.9-.4h1.1m-1.1 1h1.1m-.8-1.7h1.1m-1 .3h1.1m-.9 2h1.1m-1.1-1.1h1.1m-.9-1.2h1.1m-1.1 .9h1.1m-1.1 .5h1.1m-1.1 .9h1.1m-1-2.6h1.1m-1.1 .6h1.1m-1.1 .6h1.1m-1-.4h1.1m-1 .9h1.1m-1.1 .8h1.1m-1.1-.8h1.1m-.6-.4h1.1m-1.1 .7h1.1m-1 .3h1.1m-1.1-2.1h1.1m-1 .1h1.1m-1.1 .9h1.1m-1.1-.2h1.1m-.8 .1h1.1m-1 .4h1.1m-1.1-1.1h1.1m-.9 1.6h1.1m-1-2.1h1.1m-1 2.6h1.1m-1-1.8h1.1m-1.1-.6h1.1m-1 2.3h1.1m-1.1-1.8h1.1m-1.1 .8h1.1m-1.1 1.2h1.1m-.4-2.2h1.1m-1.1 2.3h1.1m-1-1h1.1m-1-.5h1.1m-1.1 .2h1.1m-1-.7h1.1m-.9 1.2h1.1m-1-.7h1.1m-1.1-.1h1.1m-1 1h1.1m-1.1-1h1.1m-1.1 .2h1.1m-1.1-.1h1.1m-1 .6h1.1m-1.1-.6h1.1m-1-.8h1.1m-1 1.3h1.1m-1.1 .2h1.1m-.7 .8h1.1m-.9-2.1h1.1m-.9 .1h1.1m-.1 1.1h1.1m-.9 .2h1.1m-1-2.1h1.1m-1.1 .7h1.1m-.4 1.7h1.1m-1-1.7h1.1m-1.1 .9h1.1m-.6-.8h1.1m-.9 .8h1.1m-.5-.4h1.1m-.7 1.4h1.1m-1-.2h1.1m-1.1-2h1.1m-.9 .9h1.1m-.9-.8h1.1m-.7-.5h1.1m-1 2.6h1.1m-.9-.5h1.1m-.9-.5h1.1m-1-.8h1.1m-.8 2h1.1m-.6-2.3h1.1m-.1 1.7h1.1m-.7-.2h1.1m-.8 .6h1.1m-1.1-.8h1.1m-1-1.6h1.1m-1 1.2h1.1m-1 .9h1.1m-.6-.1h1.1m-.4-1.8h1.1m-.9 1.1h1.1m-.3 .3h1.1m-.5-.7h1.1m-.7-.9h1.1m-1 .6h1.1m.5 .7h1.1m.1 1.3h1.1m.3-2.7h1.1m-.7 2.1h1.1m-.3-1.9h1.1m-.4 1.2h1.1m.1 .4h1.1m.4 .6h1.1m3.3-.8h1.1m-.9-.2h1.1m-.5-.4h1.1m.4-1.1h1.1m-1.1 0h1.1m1.2 1.1h1.1m.2 .1h1.1m4.8 .4h1.1m80 .9h1.1m5.7-.6h1.1m1.9-.5h1.1m2.5-.7h1.1m-.8 1.8h1.1m3.2-1h1.1m.1 1h1.1m-.6-.3h1.1m-.6-1.9h1.1m-1.1 2h1.1m-.9-1.7h1.1m-.7-.5h1.1m-1.1 .8h1.1m-.9-.2h1.1m.4 .1h1.1m.2 1h1.1m-1.1 1.1h1.1m-1-1.5h1.1m-.8-1.1h1.1m-.7 .8h1.1m-.6-1.1h1.1m-.9 .7h1.1m-1 .3h1.1m-1.1-.1h1.1m-.7-.8h1.1m-1 2.4h1.1m-.6-1h1.1m-.7-1.1h1.1m-1-.1h1.1m-1 .2h1.1m-.4 .4h1.1m-1.1 0h1.1m-.9-.9h1.1m-.9 2.9h1.1m-1-1.3h1.1m-.7-.8h1.1m-.7-.3h1.1m-.9 .1h1.1m-.7 .3h1.1m-1-.6h1.1m-1.1 .4h1.1m-.9 1.9h1.1m-.8-2.2h1.1m-1.1 2.5h1.1m-1-1h1.1m-.7-1h1.1m-.9-.2h1.1m-1-.7h1.1m-.9 .7h1.1m-1.1 2h1.1m-.7-1.6h1.1m-.8-.5h1.1m-1.1 2.3h1.1m-.8-1.7h1.1m-.9-.7h1.1m-.9 1h1.1m-1.1 1.2h1.1m-1.1-2h1.1m-.6 .2h1.1m-.9-.2h1.1m-.7-.5h1.1m-1.1 2.1h1.1m-.9 .3h1.1m-1.1-1.7h1.1m-1-.4h1.1m-1.1 1h1.1m-1 .3h1.1m-.3 .1h1.1m-1-1.5h1.1m-.8 1.1h1.1m-1.1 .4h1.1m-1.1 1h1.1m-.9-.3h1.1m-1.1-.8h1.1m-.8 .2h1.1m-1.1-1.4h1.1m-1 1.4h1.1m-.9-.4h1.1m-.9-1.4h1.1m-1.1 1.4h1.1m-.8 .7h1.1m-1.1-1.7h1.1m-.6 2.2h1.1m-.4-1.9h1.1m-1 .7h1.1m-1.1-1.3h1.1m-1 .3h1.1m-1.1 .7h1.1m-1 1.5h1.1m-.9-.6h1.1m-.8-1.3h1.1m-1.1 1.4h1.1m-1.1-.3h1.1m-.9-.6h1.1m-.9-.7h1.1m-.9 1.9h1.1m-1-.7h1.1m-1 .9h1.1m-1.1-1.2h1.1m-.8-1.4h1.1m-.9 1.6h1.1m-.8 .7h1.1m-1.1-1.4h1.1m-1-.5h1.1m-1 1.5h1.1m-1.1-.3h1.1m-1.1 .4h1.1m-.9 .3h1.1m-1-1h1.1m-.9 1h1.1m-.8-.1h1.1m-.9 .2h1.1m-1.1-.5h1.1m-1.1-1.8h1.1m-1 0h1.1m-.9 2.4h1.1m-1.1-1.6h1.1m-1 1h1.1m-1.1 .5h1.1m-.9-1.3h1.1m-.6-.2h1.1m-.9-1h1.1m-.8 .8h1.1m-.5 1h1.1m-1.1-1.5h1.1m-.7 .3h1.1m-1.1-.5h1.1m-.6 0h1.1m-1.1 2h1.1m-1-.7h1.1m-1-1.1h1.1m-.6 0h1.1m-1.1 2.1h1.1m-.6 .1h1.1m-1.1-1.3h1.1m-1 .6h1.1m-1.1-.7h1.1m-.8-.6h1.1m-.8 1.3h1.1m-1.1 .9h1.1m-.8-2.4h1.1m-1 .9h1.1m-1.1 .5h1.1m-1 .1h1.1m-.4 .6h1.1m-.7 .3h1.1m-.2-2.1h1.1m-.9-.1h1.1m-1.1-.6h1.1m.4 2.5h1.1m-1-1.7h1.1m-.7-.7h1.1m-.1 .7h1.1m-.3 .5h1.1m.2-1.4h1.1m-1 1.8h1.1m-.8-.4h1.1m-.3-.9h1.1m-.5 2.3h1.1m.8-.8h1.1m-.3-.1h1.1m0 .1h1.1m-.6-1.5h1.1m-.4 .6h1.1m-1 .1h1.1m.4-.6h1.1m1.2 .8h1.1m1.8 1.2h1.1m101.6-1.2h1.1m3.8 .7h1.1m0 .5h1.1m-.5-1.7h1.1m-.9-.7h1.1m-.5 .6h1.1m-.4-.7h1.1m-.8 .6h1.1m-.4-.1h1.1m-.3 1.9h1.1m-1.1-2.3h1.1m-.5 1.5h1.1m-.8 .7h1.1m-1.1-.9h1.1m-1.1-.6h1.1m-.7 .2h1.1m-.8 1.5h1.1m-.6-2.4h1.1m-.9 1.9h1.1m-.9 .1h1.1m-1.1-.5h1.1m-.8-1.3h1.1m-.9 .2h1.1m-.8-.2h1.1m-1 1.8h1.1m-1 .3h1.1m-.9-.2h1.1m-.6-2h1.1m-1 2.1h1.1m-.5-.6h1.1m-.9-.9h1.1m-.9 .1h1.1m-1.1-.5h1.1m-.8-.3h1.1m-.7 .9h1.1m-1.1-.2h1.1m-1.1 1.2h1.1m-.9 .1h1.1m-1-2.1h1.1m-1 1.3h1.1m-1.1 .5h1.1m-.8 .2h1.1m-.9-.1h1.1m-.9-.7h1.1m-.7-.4h1.1m-1.1-.3h1.1m-1 1.9h1.1m-1-1.4h1.1m-1-.5h1.1m-1.1 0h1.1m-1 .9h1.1m-1.1-.5h1.1m-1 .6h1.1m-1.1-.5h1.1m-.9-.6h1.1m-1 1.7h1.1m-.8-.3h1.1m-.9-1.9h1.1m-.9 2.7h1.1m-1-1.2h1.1m-1.1-1.3h1.1m-.9 .1h1.1m-1.1 1.2h1.1m-.9 1.5h1.1m-1-2.4h1.1m-1 0h1.1m-1.1-.4h1.1m-1.1-.2h1.1m-.9 .9h1.1m-.8-.3h1.1m-1 1.8h1.1m-1.1-1.6h1.1m-1 2h1.1m-.8-1.6h1.1m-1.1 1h1.1m-1.1-2.1h1.1m-1 2h1.1m-.7 .9h1.1m-1-1.9h1.1m-1.1-.6h1.1m-1 .3h1.1m-.9 .4h1.1m-1.1-.9h1.1m-.9 2.1h1.1m-1-.2h1.1m-1.1-1.1h1.1m-1 1.5h1.1m-.9-2.3h1.1m-1 .5h1.1m-1 .8h1.1m-1.1-1.6h1.1m-1.1 1h1.1m-1-1h1.1m-1 .6h1.1m-1 2.2h1.1m-.8-.9h1.1m-1.1-1h1.1m-1 2.1h1.1m-1-.8h1.1m-1 .7h1.1m-.8 0h1.1m-1-.8h1.1m-1.1-1.9h1.1m-1 2.5h1.1m-.8-2.1h1.1m-1.1 .4h1.1m-1.1 1.4h1.1m-.9-1.7h1.1m-1-.1h1.1m-1.1 0h1.1m-1.1 1.9h1.1m-1-2.3h1.1m-1.1 2.8h1.1m-1.1-2.8h1.1m-1 2.3h1.1m-1.1 .3h1.1m-1-1.4h1.1m-1.1-1.3h1.1m-.9 .3h1.1m-.9 2.4h1.1m-1-.5h1.1m-1.1 .6h1.1m-.9-.9h1.1m-1.1-1.9h1.1m-1-.1h1.1m-1 .1h1.1m-1.1 1.6h1.1m-1.1 1.2h1.1m-1.1-1.7h1.1m-1-.2h1.1m-.9 .8h1.1m-.9-1.3h1.1m-1.1 1.4h1.1m-1.1 .4h1.1m-1.1-1.6h1.1m-1-.2h1.1m-1.1-.1h1.1m-1.1 1.1h1.1m-1.1 1.1h1.1m-1-2.6h1.1m-1.1 .4h1.1m-1.1 1.8h1.1m-1.1-.9h1.1m-1-1.3h1.1m-1.1 2.5h1.1m-1-.3h1.1m-1-.4h1.1m-1.1-.4h1.1m-1 .6h1.1m-1.1 .4h1.1m-.9-.6h1.1m-1.1-1.4h1.1m-.9 1.8h1.1m-1.1 .8h1.1m-1-2.4h1.1m-1 2.2h1.1m-.9-1.7h1.1m-1 .8h1.1m-1.1-1.3h1.1m-1 .9h1.1m-1-.5h1.1m-1 .4h1.1m-1.1 .1h1.1m-1 .8h1.1m-1-1h1.1m-1 .4h1.1m-1.1 1.1h1.1m-1.1-1.4h1.1m-1-.3h1.1m-1.1 1.4h1.1m-1.1-2.3h1.1m-1 1.1h1.1m-1.1-.1h1.1m-1-1h1.1m-1 2.1h1.1m-.9-.4h1.1m-.8-.1h1.1m-1.1 1h1.1m-1-2h1.1m-.8 .6h1.1m-1.1 1.1h1.1m-1-2h1.1m-.9-.3h1.1m-1 2.6h1.1m-1.1-1.5h1.1m-1.1-.1h1.1m-1-.1h1.1m-1 1.1h1.1m-1.1 .6h1.1m-1.1-1.9h1.1m-1.1 1.4h1.1m-1 .4h1.1m-1.1-.9h1.1m-1-1.6h1.1m-1.1 2.6h1.1m-1.1-2.1h1.1m-1.1 .6h1.1m-1 .3h1.1m-1 .1h1.1m-1.1 1.1h1.1m-1-2.4h1.1m-1.1 1.8h1.1m-1.1 .1h1.1m-1.1-.2h1.1m-1-2h1.1m-1.1 1.5h1.1m-1-1.5h1.1m-1.1 0h1.1m-1.1 2.8h1.1m-1.1-.5h1.1m-1-1.5h1.1m-1.1-.6h1.1m-1.1 .8h1.1m-1 1.5h1.1m-1-.5h1.1m-1.1-2h1.1m-1.1 .8h1.1m-1 2h1.1m-1.1-1.1h1.1m-1.1 .2h1.1m-.9-1.7h1.1m-1.1 1.8h1.1m-1.1 .4h1.1m-1-.9h1.1m-1.1 1.3h1.1m-1-2.3h1.1m-1 .4h1.1m-1-1h1.1m-1 .5h1.1m-1 2.2h1.1m-1-1.7h1.1m-1.1 .9h1.1m-1.1 .4h1.1m-1.1 .7h1.1m-1 0h1.1m-1-1h1.1m-1-1.1h1.1m-1.1 1.7h1.1m-1.1-1.6h1.1m-1.1 1.4h1.1m-1.1-.7h1.1m-1-.7h1.1m-.9 .5h1.1m-1.1 .5h1.1m-1-1.6h1.1m-1.1 2h1.1m-1.1-.3h1.1m-1-1.3h1.1m-1.1 .9h1.1m-1-.2h1.1m-1.1-.1h1.1m-1.1 1h1.1m-1.1-1.2h1.1m-1-.2h1.1m-1.1-.6h1.1m-1 .2h1.1m-1 1.4h1.1m-1.1-1.9h1.1m-1 1.7h1.1m-1.1-.3h1.1m-1.1-1.1h1.1m-1 2.3h1.1m-.9-.1h1.1m-1.1-1h1.1m-1 .1h1.1m-.8 .1h1.1m-1-1.5h1.1m-1.1 1.6h1.1m-1.1 .8h1.1m-1.1-.8h1.1m-1-1.6h1.1m-1.1-.3h1.1m-1 2.6h1.1m-1.1-1.3h1.1m-1-.4h1.1m-1.1 1.2h1.1m-1-1.5h1.1m-.9 2.1h1.1m-1.1-2.5h1.1m-1 0h1.1m-1 1.7h1.1m-1.1 .1h1.1m-1-1.5h1.1m-1 1.5h1.1m-1.1-.5h1.1m-1-1.2h1.1m-1.1 2.2h1.1m-1-.4h1.1m-1.1 .2h1.1m-1.1-.5h1.1m-1-.2h1.1m-.9 .9h1.1m-.8-2.1h1.1m-1.1 1.3h1.1m-1 .3h1.1m-1-1.8h1.1m-1 2.6h1.1m-1-1.4h1.1m-1.1 0h1.1m-.8 1.4h1.1m-.8-.6h1.1m-1.1 .1h1.1m-1.1 .6h1.1m-1.1-1.3h1.1m-1.1-.4h1.1m-1-.4h1.1m-1 .4h1.1m-1.1 1h1.1m-.9-1.9h1.1m-1-.2h1.1m-1.1 .5h1.1m-1 .6h1.1m-1 .6h1.1m-1.1 1.1h1.1m-1.1-.8h1.1m-1.1-1.2h1.1m-1 .7h1.1m-1.1 .8h1.1m-1-2.2h1.1m-1 1.3h1.1m-1.1 .8h1.1m-.9-1.6h1.1m-1.1 .3h1.1m-1.1 1.8h1.1m-.7 0h1.1m-1.1-1.5h1.1m-1.1 1h1.1m-1.1-1.8h1.1m-1 .6h1.1m-.8 .8h1.1m-1-1.5h1.1m-1 1.1h1.1m-1.1-.2h1.1m-1 0h1.1m-.7-.4h1.1m-.9 0h1.1m-1.1 .1h1.1m-1 0h1.1m-1 .3h1.1m-1.1 .4h1.1m-1.1-.2h1.1m-1-1.1h1.1m-1 1.7h1.1m-1 .2h1.1m-1-1.8h1.1m-.9 .3h1.1m-.8-.2h1.1m-1.1-.1h1.1m-.9-.3h1.1m-1 2.3h1.1m-1-1.4h1.1m-1 .1h1.1m-1.1 1.7h1.1m-.9-1.9h1.1m-1 .9h1.1m-.9-1.4h1.1m-1.1 .9h1.1m-1 .3h1.1m-1.1-.5h1.1m-1-1.1h1.1m-.7 1.1h1.1m-1.1 .2h1.1m-.9 .1h1.1m-.8 0h1.1m-.9-.3h1.1m-.8-.1h1.1m-1-.8h1.1m-1 1.2h1.1m-1.1-1.2h1.1m-1 .3h1.1m-1.1 1.1h1.1m-1.1-.5h1.1m-.3 .5h1.1m-1.1-1.5h1.1m-1 2.2h1.1m-1.1-1.9h1.1m-1 .4h1.1m-1.1-.5h1.1m-.9 .6h1.1m-.6 .2h1.1m-1-1.1h1.1m-.7 2.8h1.1m-.7-2.7h1.1m-1-.2h1.1m-1.1 2.8h1.1m-.9-2.4h1.1m-1 2.5h1.1m-1.1-1.9h1.1m-.9-.5h1.1m-.2 1.3h1.1m-1-.5h1.1m-.6 .3h1.1m-.9-.7h1.1m-1 1.1h1.1m-1-1h1.1m-.9 .1h1.1m-.9 0h1.1m-.8-.2h1.1m-1.1 1h1.1m.7-1.3h1.1m-1.1 .6h1.1m1.6-.7h1.1m.1-.3h1.1m.2 2h1.1m.5 .5h1.1m2.3-.6h1.1m-1.1 0h1.1m-398.3 2.6h1.1m2.1-1.6h1.1m3 1.7h1.1m1.6-.1h1.1m.1 1h1.1m.5-2.6h1.1m-.2 2.4h1.1m-.9-.6h1.1m.2 .3h1.1m-.3-2h1.1m-.6 1.6h1.1m-.7 .5h1.1m.7-2.2h1.1m1.2 .8h1.1m-.3-.4h1.1m-1.1 0h1.1m-1-.5h1.1m-.6 .7h1.1m-.3 2.3h1.1m-.7-.9h1.1m-.7-.9h1.1m-1.1 .5h1.1m-.8 .6h1.1m-.3-1.1h1.1m-1.1 .5h1.1m-1.1-1.6h1.1m-1 .4h1.1m-1-.1h1.1m-.6 1.6h1.1m-1-2h1.1m-.9 2.6h1.1m-1.1-2.4h1.1m-.8 .9h1.1m-1 1.8h1.1m-1-2.1h1.1m-1-.1h1.1m-.4 1.9h1.1m-.9-2.3h1.1m-.8 2h1.1m-1.1-.8h1.1m-.8-.7h1.1m-1.1 1.5h1.1m-.6-1.1h1.1m-1.1-.3h1.1m-1.1 .8h1.1m-1-1.4h1.1m-1.1-.1h1.1m-.9 2h1.1m-1-.6h1.1m-1 .6h1.1m-.8-2h1.1m-1 2.6h1.1m-1-2.6h1.1m-1.1 .5h1.1m-1 .8h1.1m-1.1 0h1.1m-1.1 .6h1.1m-1 .7h1.1m-1.1-2.1h1.1m-1.1 .6h1.1m-1-1.2h1.1m-1 .3h1.1m-.9 1.9h1.1m-1-.1h1.1m-1.1-.6h1.1m-.9 .1h1.1m-1.1 1.3h1.1m-.9-1.3h1.1m-1-1.1h1.1m-1 .1h1.1m-.9 .9h1.1m-1.1-.7h1.1m-1.1 .9h1.1m-1.1-1.2h1.1m-1 1.7h1.1m-1.1-1.7h1.1m-1 .1h1.1m-.9 2.2h1.1m-1-1.1h1.1m-1.1-.4h1.1m-1 .7h1.1m-1.1-1.9h1.1m-1 1.1h1.1m-1 1.1h1.1m-1-.5h1.1m-1.1 .6h1.1m-.9-2h1.1m-1.1 .7h1.1m-1.1-1.1h1.1m-1 2.2h1.1m-.7-.1h1.1m-1-.6h1.1m-1.1-1.5h1.1m-1.1 1.1h1.1m-1 .2h1.1m-1.1-1h1.1m-1.1 .9h1.1m-1.1-.8h1.1m-.9-.3h1.1m-1 1.5h1.1m-1 .7h1.1m-1.1-.7h1.1m-1 0h1.1m-1-.3h1.1m-1 1.5h1.1m-1-.6h1.1m-1-.7h1.1m-1.1 1h1.1m-1.1-1.7h1.1m-1 .2h1.1m-1 1.6h1.1m-.9-1.2h1.1m-1.1 1.4h1.1m-1-2h1.1m-1.1 .7h1.1m-1-.8h1.1m-1.1 1.9h1.1m-1-2.6h1.1m-1.1 2.1h1.1m-1-1.6h1.1m-1.1 1.1h1.1m-1.1 0h1.1m-1.1 1.2h1.1m-1-.9h1.1m-1.1-1.1h1.1m-1 .7h1.1m-1.1 0h1.1m-1-.2h1.1m-1.1-.1h1.1m-1.1-.4h1.1m-1 .3h1.1m-1.1 .2h1.1m-1.1-.2h1.1m-1 1.5h1.1m-1.1 .2h1.1m-1.1-2.2h1.1m-1.1 .6h1.1m-1 .4h1.1m-1-.2h1.1m-1.1-.8h1.1m-1 .3h1.1m-1.1 1.3h1.1m-1.1-.4h1.1m-1 .6h1.1m-1.1-.8h1.1m-1.1 .8h1.1m-1-2h1.1m-1.1 1.9h1.1m-.9-1.1h1.1m-1-.8h1.1m-1 .6h1.1m-1.1 1h1.1m-1.1-1h1.1m-1.1 .9h1.1m-1-1h1.1m-1.1-.7h1.1m-1.1 .7h1.1m-1.1 1.3h1.1m-1.1-2.1h1.1m-1.1 .7h1.1m-1.1 .6h1.1m-1-1.5h1.1m-1.1 1.5h1.1m-1-.9h1.1m-1 .2h1.1m-1 1.1h1.1m-1.1-.2h1.1m-1 .5h1.1m-1.1-2.2h1.1m-1.1 1.5h1.1m-1.1 .4h1.1m-1-1.6h1.1m-.9 1.8h1.1m-1.1-1.4h1.1m-1 .7h1.1m-1.1-.1h1.1m-1 1.3h1.1m-1.1-.3h1.1m-1-1.2h1.1m-1 1.5h1.1m-1.1-1.8h1.1m-1.1-.2h1.1m-1 1.9h1.1m-1.1-1.4h1.1m-1.1 1.2h1.1m-.9-1.5h1.1m-1.1 .8h1.1m-1 0h1.1m-1.1-.7h1.1m-1.1 .2h1.1m-1.1 .6h1.1m-1 .9h1.1m-1.1-.5h1.1m-1.1-1.7h1.1m-1.1 1.2h1.1m-1-.3h1.1m-1.1-.6h1.1m-1.1 1.9h1.1m-.9-1.1h1.1m-1.1 1h1.1m-1-.9h1.1m-1-1.5h1.1m-1 1.6h1.1m-1 1h1.1m-1.1-.7h1.1m-1-1.6h1.1m-1.1 1.8h1.1m-1.1-.8h1.1m-1.1 1.1h1.1m-1-.2h1.1m-1-.3h1.1m-1 .6h1.1m-1.1 .1h1.1m-1.1-.4h1.1m-1.1-.6h1.1m-1.1 .2h1.1m-1.1 .9h1.1m-1-2.5h1.1m-1.1 .5h1.1m-1 .2h1.1m-1.1-.2h1.1m-1 .9h1.1m-1 .2h1.1m-1.1 .4h1.1m-1 .6h1.1m-1-1.1h1.1m-1.1-1.6h1.1m-1.1 1.9h1.1m-1-1.6h1.1m-1-.2h1.1m-1 .9h1.1m-1-.5h1.1m-.8-.4h1.1m-1 0h1.1m-1.1 2.5h1.1m-1.1-.6h1.1m-1.1 .1h1.1m-1 .1h1.1m-.9-1.5h1.1m-1.1 2h1.1m-1-2.4h1.1m-1.1 .9h1.1m-1.1 .4h1.1m-1-.3h1.1m-1 1.4h1.1m-1-2.6h1.1m-1.1 2.6h1.1m-1.1-.6h1.1m-1.1-2.1h1.1m-1.1 1.9h1.1m-1-.6h1.1m-1.1-1.4h1.1m-1.1 1.9h1.1m-1.1-1.9h1.1m-1 1h1.1m-1.1 .7h1.1m-1.1-1.6h1.1m-1 1.9h1.1m-1.1-.3h1.1m-1.1-.7h1.1m-1.1-1h1.1m-1 .8h1.1m-1 1.8h1.1m-1.1-1.8h1.1m-1 .5h1.1m-1.1 1h1.1m-.8-2.3h1.1m-1 .2h1.1m-1 2.3h1.1m-1.1-.5h1.1m-1.1 .3h1.1m-1-.8h1.1m-1-.3h1.1m-1.1-.9h1.1m-1 1.6h1.1m-1-.4h1.1m-1.1 .1h1.1m-1.1 .4h1.1m-1-1.7h1.1m-1.1 2.3h1.1m-1.1-2h1.1m-1 1.3h1.1m-1.1 0h1.1m-1.1-.7h1.1m-1.1 1.1h1.1m-1.1-.7h1.1m-1 1h1.1m-1.1-1.6h1.1m-1.1 .3h1.1m-.8 .5h1.1m-1.1 .8h1.1m-1 0h1.1m-1.1-2.6h1.1m-1.1 .2h1.1m-1 2.2h1.1m-.9-1.9h1.1m-1.1 1.9h1.1m-1 .5h1.1m-1.1-1.2h1.1m-1 .6h1.1m-1.1-2.1h1.1m-1.1 .5h1.1m-1 1.6h1.1m-1 .1h1.1m-1-1.9h1.1m-.9 1.7h1.1m-.9-.7h1.1m-.9-1.6h1.1m-1 2.8h1.1m-1-.4h1.1m-1.1 .1h1.1m-1 .2h1.1m-1-1.7h1.1m-1.1-.1h1.1m-1.1 .8h1.1m-1 .8h1.1m-1.1-2.1h1.1m-1 2.1h1.1m-.9 0h1.1m-1.1-1.4h1.1m-1 .6h1.1m-1.1-1.6h1.1m-1.1 2h1.1m-.7-1.5h1.1m-1 1.8h1.1m-.7 .1h1.1m-1.1-2.1h1.1m-.9 1h1.1m-1-.1h1.1m-1 1h1.1m-1-1.2h1.1m-1.1 1.3h1.1m-1-1.2h1.1m-1 1.5h1.1m-1.1-.2h1.1m-1-1.9h1.1m-.8 .8h1.1m-1.1 1.1h1.1m-1.1-2.4h1.1m-.7 2.5h1.1m-1-1.9h1.1m-1 1.7h1.1m-1-1.6h1.1m-.3 1.6h1.1m-.8 0h1.1m-.7-.8h1.1m-.8 1.3h1.1m-.8-2.9h1.1m-.9 2.1h1.1m-1-1.6h1.1m-1.1 1h1.1m-.8-.3h1.1m-.9 1.2h1.1m-.9-.9h1.1m-.6 .8h1.1m-.9 .1h1.1m-.9 .2h1.1m-.9-1.8h1.1m-.8 2.1h1.1m-.8-1.3h1.1m-.9-.3h1.1m-1.1 1.2h1.1m-1.1-2.1h1.1m-1 .6h1.1m.2 1.4h1.1m-.5-.9h1.1m-.2 1.5h1.1m-.3-.3h1.1m-.8-.3h1.1m-1 .6h1.1m-1-2.2h1.1m-.9 1.1h1.1m-1-.3h1.1m-1-.3h1.1m-.6-1.3h1.1m-.9 1.9h1.1m.1 .3h1.1m0-1.6h1.1m-.7 .8h1.1m.9-.7h1.1m0 1.3h1.1m.3 .8h1.1m0-.1h1.1m-1 .2h1.1m-.6-1.2h1.1m-.8-.1h1.1m-.4 .1h1.1m-1.1-1.7h1.1m-.4 2.5h1.1m3.4-1.3h1.1m-.7 1.7h1.1m-.9-1.8h1.1m.3 .9h1.1m90.8-.9h1.1m3.9 .8h1.1m3.8-.7h1.1m-.8 1.2h1.1m.3-.6h1.1m-.7-1.4h1.1m3.2 1.6h1.1m-1 .8h1.1m-1-1.2h1.1m-.8 .5h1.1m-.9-1.2h1.1m-1.1-.6h1.1m-.3 .7h1.1m-1-.4h1.1m.2 .2h1.1m-.8 2.2h1.1m.3-1.3h1.1m-.6-1.4h1.1m-.7 2.5h1.1m-.8-1.5h1.1m-1-1.1h1.1m-1.1 2.2h1.1m-1-1.1h1.1m-.3-.5h1.1m-1.1 .6h1.1m-1-1.1h1.1m-.9 .9h1.1m-.6-.5h1.1m-.5 .9h1.1m-1.1 0h1.1m-.9-.4h1.1m-1.1 0h1.1m-.6-.9h1.1m-1 0h1.1m-.8 .5h1.1m-1.1 .8h1.1m-.6-.6h1.1m-.9 .8h1.1m-1-.7h1.1m-.9 .7h1.1m-1 .7h1.1m-.7-2.1h1.1m-.7 2.4h1.1m-1.1-2.7h1.1m-1.1 .2h1.1m-1 1.2h1.1m-.8-1.5h1.1m-1 2.7h1.1m-.3-1.6h1.1m-.9-.3h1.1m-1 1.3h1.1m-.9 .5h1.1m-.7 .4h1.1m-.9-.4h1.1m-.8 .2h1.1m-1.1-.7h1.1m-1-1.4h1.1m-1-.5h1.1m-.9 1.1h1.1m-1-.3h1.1m-1-.3h1.1m-.7 2.1h1.1m-1.1-1.8h1.1m-.8 .4h1.1m-.9 1.5h1.1m-1-1.1h1.1m-1-.8h1.1m-1 .4h1.1m-.7-.6h1.1m-1.1 1.2h1.1m-1.1 .2h1.1m-1-1.1h1.1m-1-.2h1.1m-1 .5h1.1m-.9-.3h1.1m-1.1 1.6h1.1m-1-.7h1.1m-1.1-.9h1.1m-.9-.5h1.1m-.9 .7h1.1m-1 .6h1.1m-.8-1.4h1.1m-1.1-.1h1.1m-1.1-.1h1.1m-1.1 .2h1.1m-1 2.3h1.1m-.8-2.1h1.1m-1-.3h1.1m-1.1 2.1h1.1m-1.1-2.2h1.1m-.8 .9h1.1m-1.1 .1h1.1m-1 .4h1.1m-1.1-.2h1.1m-1.1 .8h1.1m-1-1.5h1.1m-1 .1h1.1m-.6 1.9h1.1m-1 0h1.1m-1.1-.3h1.1m-.7-.6h1.1m-1-1.8h1.1m-.3 1.2h1.1m-1.1 0h1.1m-.7-.2h1.1m-1-.2h1.1m-1.1 1h1.1m-.5-1.3h1.1m-.8 1.1h1.1m-1 .7h1.1m-.9 0h1.1m-.8 0h1.1m-1.1-.7h1.1m-.8 1h1.1m-1-.6h1.1m-1.1 .4h1.1m-1 0h1.1m-.8-1.4h1.1m-.9-.6h1.1m-.6 2.1h1.1m-1.1-1.2h1.1m-.8-.8h1.1m-.7 .7h1.1m-1-.6h1.1m-.9 .2h1.1m-.8-.6h1.1m-.9 .5h1.1m-1.1 2h1.1m-1.1-.6h1.1m-1.1-2.2h1.1m-.5 1.9h1.1m-1 .5h1.1m-.9-1h1.1m-1-.3h1.1m-.5 1.1h1.1m-.7-1h1.1m-1.1 .7h1.1m-1.1-1.5h1.1m-.6 1.5h1.1m-1-.6h1.1m-1.1-.6h1.1m-.9 1.7h1.1m-.8 .1h1.1m-1-.4h1.1m-.9-.9h1.1m-.9 .1h1.1m-.8-.9h1.1m-.9 .8h1.1m.1-1.1h1.1m-1 1.9h1.1m-1-.5h1.1m.4-1.2h1.1m.3 2h1.1m-.3-1.4h1.1m-.2 1.3h1.1m-1.1 .5h1.1m-.7-1h1.1m-1 1h1.1m.7 .1h1.1m-.7-.3h1.1m1.2-2.3h1.1m1.4 2.2h1.1m.1-1.2h1.1m-.6-.1h1.1m103.9 .1h1.1m2.4 .1h1.1m.2 .3h1.1m1.5 .3h1.1m-.3-1.5h1.1m.2 1.3h1.1m-.5-1h1.1m-.7 .2h1.1m-1 1.1h1.1m-.7-1.1h1.1m1.1 1.5h1.1m-.8-2.3h1.1m-.2 1.5h1.1m-1.1 .4h1.1m-1.1 0h1.1m-.6-1.7h1.1m-.6 2.2h1.1m-1.1-.8h1.1m-.4 .6h1.1m-.1-1.9h1.1m-1.1 .6h1.1m-.7-.6h1.1m-1 .3h1.1m-.6 .6h1.1m-.9-.4h1.1m-.8 .8h1.1m-1-.3h1.1m-1.1-.6h1.1m-.9-.5h1.1m-1 1.2h1.1m-1.1 1.4h1.1m-.9-.7h1.1m-1-2.2h1.1m-1.1 2h1.1m-.7 .9h1.1m-.8-.7h1.1m-.8 .4h1.1m-1-.4h1.1m-1.1 .4h1.1m-1 .3h1.1m-1.1-2.8h1.1m-.7 1.6h1.1m-.7-.5h1.1m-.9 1.4h1.1m-.9-.9h1.1m-1-.8h1.1m-1 1.6h1.1m-1-.1h1.1m-1-2.1h1.1m-1.1 0h1.1m-1 2.1h1.1m-1.1 0h1.1m-1.1-1.1h1.1m-1-.5h1.1m-1.1 1.7h1.1m-1-.9h1.1m-.9-1.6h1.1m-1.1 2.8h1.1m-1.1-2h1.1m-1-.7h1.1m-.8 2.9h1.1m-1.1-1.1h1.1m-1 .6h1.1m-.9 .1h1.1m-.9-.8h1.1m-1.1-1h1.1m-1 .1h1.1m-1 .7h1.1m-.9-1.4h1.1m-1.1 .9h1.1m-1.1 .2h1.1m-1.1-.4h1.1m-1-.7h1.1m-.9 .5h1.1m-1 .7h1.1m-1-.8h1.1m-1.1 .1h1.1m-1.1-.3h1.1m-1 2h1.1m-1-.4h1.1m-.9 .8h1.1m-1-1.3h1.1m-1 1.5h1.1m-1.1-2.9h1.1m-1 2.8h1.1m-1.1-2h1.1m-1 .9h1.1m-1 .4h1.1m-1 .2h1.1m-1.1-.9h1.1m-.9-.7h1.1m-1.1 .5h1.1m-1.1 .5h1.1m-.9 .8h1.1m-1.1 .3h1.1m-1.1-1.8h1.1m-1.1 1.4h1.1m-.9-.5h1.1m-1.1-1.2h1.1m-1 2h1.1m-1.1 .1h1.1m-.9-.5h1.1m-.9-2.1h1.1m-1.1 .3h1.1m-1.1 1.6h1.1m-.9-.4h1.1m-.8-.5h1.1m-1-.7h1.1m-1.1 1.8h1.1m-1-2.3h1.1m-1.1 .1h1.1m-1 .7h1.1m-1.1 1.8h1.1m-1-2.6h1.1m-1.1 .6h1.1m-1-.5h1.1m-1 .1h1.1m-1 .6h1.1m-1-.6h1.1m-1 .2h1.1m-1.1-.5h1.1m-1 1.3h1.1m-1 .1h1.1m-1.1 1.1h1.1m-1.1-.7h1.1m-1 .4h1.1m-1-.4h1.1m-1-.8h1.1m-1.1 .7h1.1m-1-.8h1.1m-1 0h1.1m-1 .4h1.1m-.9 .2h1.1m-1 .9h1.1m-1.1-1.1h1.1m-.8-.8h1.1m-1.1 1.1h1.1m-1.1 .3h1.1m-1.1-1.8h1.1m-1.1 .8h1.1m-1 1.3h1.1m-1.1-1.3h1.1m-.9-.1h1.1m-1.1 .1h1.1m-1.1-.1h1.1m-1.1 .5h1.1m-.9 .9h1.1m-1.1-.7h1.1m-.9-.3h1.1m-1 1.7h1.1m-1.1-2.7h1.1m-1 2.7h1.1m-1-2.5h1.1m-1-.3h1.1m-1.1 1.1h1.1m-1.1-1.1h1.1m-.9 1.3h1.1m-1.1 .3h1.1m-1 .3h1.1m-1 .7h1.1m-.9-.6h1.1m-1.1-.2h1.1m-1-1.7h1.1m-1 .5h1.1m-1.1 1.8h1.1m-.9-2.2h1.1m-1.1 2h1.1m-1.1-1.3h1.1m-1.1 .3h1.1m-1-.7h1.1m-1.1 .8h1.1m-1-.5h1.1m-1.1 1h1.1m-1-1.3h1.1m-1.1 1.7h1.1m-1-2h1.1m-1.1 .2h1.1m-1 1.9h1.1m-1 .4h1.1m-1-.8h1.1m-1.1-1.3h1.1m-1 .9h1.1m-.9-1.4h1.1m-1.1 1.1h1.1m-.9-.7h1.1m-1.1 1.7h1.1m-.9-1.6h1.1m-1 1h1.1m-.9 .3h1.1m-1.1-1.8h1.1m-1.1 .3h1.1m-1-.1h1.1m-1.1-.3h1.1m-1.1 2.5h1.1m-1.1-.2h1.1m-1-1.1h1.1m-1.1 .3h1.1m-1.1-1.5h1.1m-1 0h1.1m-1.1 1.3h1.1m-.9-.1h1.1m-1.1 .4h1.1m-1-.8h1.1m-1 1.4h1.1m-1-1h1.1m-1.1 1.4h1.1m-1-.4h1.1m-1.1-1.7h1.1m-.8 1.4h1.1m-1.1-.1h1.1m-1.1-1.5h1.1m-1 2.5h1.1m-1.1 .1h1.1m-1-2h1.1m-1.1 .3h1.1m-1-.9h1.1m-1.1 .8h1.1m-1.1 1.5h1.1m-1-1.7h1.1m-.8 2h1.1m-1-.5h1.1m-1.1-.8h1.1m-.9 .2h1.1m-1.1-.3h1.1m-1 1.4h1.1m-1.1-.1h1.1m-1-.4h1.1m-1.1 0h1.1m-1.1-1.1h1.1m-1-1.4h1.1m-1 2.2h1.1m-1.1 .1h1.1m-1.1-.6h1.1m-.9-.1h1.1m-1-.3h1.1m-1-.8h1.1m-1 .8h1.1m-.9 .3h1.1m-.9 .9h1.1m-1.1 0h1.1m-1 .2h1.1m-1.1-1.2h1.1m-1-.6h1.1m-.9 2.1h1.1m-1-1.7h1.1m-1.1 1.2h1.1m-1 0h1.1m-.9-1.7h1.1m-.9-.2h1.1m-.7-.1h1.1m-1 .1h1.1m-1 .5h1.1m-1-1.1h1.1m-1.1 .4h1.1m-1.1-.3h1.1m-1 2.9h1.1m-.9-2.9h1.1m-1.1 2.3h1.1m-1.1-.7h1.1m-1 .8h1.1m-1.1-2h1.1m-1 .2h1.1m-1.1-.2h1.1m-1 1.8h1.1m-1.1-.2h1.1m-1 .1h1.1m-.9-1.9h1.1m-.9 2.6h1.1m-1-.2h1.1m-1.1-2h1.1m-1 1.6h1.1m-1.1 .7h1.1m-1-1.1h1.1m-1 .7h1.1m-.8 .2h1.1m-1.1-1.3h1.1m-1-.1h1.1m-1.1-1.1h1.1m-1.1 2.5h1.1m-1-1.1h1.1m-1 .1h1.1m-1.1-.1h1.1m-1.1 .7h1.1m-1-1.3h1.1m-.8 .2h1.1m-1.1 0h1.1m-1 .5h1.1m-.7 .7h1.1m-1-.6h1.1m-.8-.2h1.1m-1.1-.9h1.1m-1-.1h1.1m-1 0h1.1m-1 .1h1.1m-1-.2h1.1m-1.1 .3h1.1m-1.1-.4h1.1m-.7 1.2h1.1m-.7 .5h1.1m-.9-2h1.1m-1.1 .1h1.1m-.9 .2h1.1m-.9 .1h1.1m-.8 .9h1.1m-1-1.2h1.1m-1.1 1.1h1.1m-1 1.5h1.1m-1.1-1.4h1.1m-.9 .2h1.1m-1.1-.4h1.1m-1-1.1h1.1m-.7 .2h1.1m-.5-.1h1.1m-1.1 .2h1.1m-1-.3h1.1m-.9 0h1.1m-1.1 1.8h1.1m-.9-1h1.1m-1 0h1.1m-.8-.9h1.1m-.4 1.8h1.1m-.5 .3h1.1m-.7-2.1h1.1m-1 .4h1.1m-1.1 .1h1.1m-.8 1.6h1.1m-1.1 .2h1.1m-1.1-1.1h1.1m-1 .3h1.1m-1.1-.8h1.1m-.9-.6h1.1m-1 1.7h1.1m-.9 .8h1.1m-.9 .1h1.1m-.6-2.4h1.1m-1 .6h1.1m-.9-1h1.1m-.4 .7h1.1m-1.1 2.1h1.1m-.1-2.5h1.1m-.6 .1h1.1m-1 .4h1.1m.2 1h1.1m2.3 1h1.1m1.5 0h1.1m-.9-2.5h1.1m.5 .4h1.1m7.3-.3h1.1m-404.7 4.4h1.1m5.4 .4h1.1m4.4-1.5h1.1m3.4 .5h1.1m2.6 .1h1.1m-1 .6h1.1m-.3-.3h1.1m-.8-1.6h1.1m-.1 2.7h1.1m-.6-1.9h1.1m-1 1.4h1.1m-.8-.8h1.1m-.7-.7h1.1m-.1 1.4h1.1m-1.1-2h1.1m-1 2.3h1.1m-1-.9h1.1m-1.1-1.4h1.1m-1 .2h1.1m-.9 .3h1.1m-1 .4h1.1m-.7-.8h1.1m-.8 1.3h1.1m-.9-.2h1.1m-1-.9h1.1m-1.1 .4h1.1m-.9 1.9h1.1m-.9-2.6h1.1m-1 2h1.1m-1-1.6h1.1m-.5-.4h1.1m-.9 2.9h1.1m-1-.8h1.1m-1.1-2.1h1.1m-.6 .8h1.1m-1 .8h1.1m-1.1 1.1h1.1m-.9-2.7h1.1m-1.1 .6h1.1m-1 1h1.1m-1 .4h1.1m-1-1.7h1.1m-.5 2.4h1.1m-1-1.6h1.1m-1 .8h1.1m-1-.6h1.1m-.7-.1h1.1m-1.1-.9h1.1m-1 .6h1.1m-.9 1.6h1.1m-.9-.4h1.1m-1-.2h1.1m-1-.7h1.1m-1.1 1.5h1.1m-1-1h1.1m-1.1-1.5h1.1m-.9 .1h1.1m-1.1 .9h1.1m-1-.3h1.1m-1 1.5h1.1m-1-.3h1.1m-1-.4h1.1m-1.1-1.7h1.1m-1.1 2.7h1.1m-1-2.1h1.1m-1.1 .4h1.1m-.8 1.3h1.1m-1.1-1.2h1.1m-1.1 .2h1.1m-1 .6h1.1m-1.1-.7h1.1m-.9-1.1h1.1m-.9 2.1h1.1m-1.1-1.4h1.1m-1.1 2h1.1m-1-2.4h1.1m-1 2.2h1.1m-1.1-2h1.1m-1 .5h1.1m-1-.3h1.1m-1.1-.3h1.1m-1 .1h1.1m-.9 2.2h1.1m-1.1-2.8h1.1m-1.1 1.5h1.1m-1 0h1.1m-1.1-1.1h1.1m-1 .1h1.1m-1 1h1.1m-1.1 0h1.1m-1.1 .5h1.1m-1.1-.3h1.1m-1 1.2h1.1m-1.1-2.7h1.1m-1 .6h1.1m-1 0h1.1m-1.1 1.5h1.1m-1-1.8h1.1m-1 .1h1.1m-1.1 1.3h1.1m-1.1-1.5h1.1m-.9 .4h1.1m-1 .6h1.1m-1 .8h1.1m-1-2.1h1.1m-1.1 1.3h1.1m-1-.9h1.1m-1.1 2.2h1.1m-1.1-.4h1.1m-1.1-2.4h1.1m-1 1.6h1.1m-.9 .5h1.1m-.9-1.2h1.1m-1.1-.7h1.1m-1 1.3h1.1m-.8 .2h1.1m-1.1-.7h1.1m-1 0h1.1m-1.1-1h1.1m-1.1 2h1.1m-1.1-1.3h1.1m-1.1 1h1.1m-1.1-.3h1.1m-1-.2h1.1m-1.1-.2h1.1m-1 0h1.1m-1-.1h1.1m-1.1 1.2h1.1m-1.1-1.4h1.1m-1.1 .8h1.1m-1-.8h1.1m-1 1h1.1m-1.1 0h1.1m-1.1-.1h1.1m-.9-1h1.1m-1 .6h1.1m-1.1 .1h1.1m-1.1 1.4h1.1m-1.1-2.4h1.1m-1 1.2h1.1m-.9 1.4h1.1m-1-.9h1.1m-1.1-1.7h1.1m-1.1 1.1h1.1m-1.1 1.4h1.1m-1-2.1h1.1m-1.1 0h1.1m-1-.4h1.1m-1.1 2.6h1.1m-1-2.1h1.1m-1.1 .5h1.1m-1 .1h1.1m-1 .7h1.1m-1.1-1h1.1m-1.1 .4h1.1m-1-.6h1.1m-1.1 .3h1.1m-1.1-.3h1.1m-1.1-.9h1.1m-1.1 0h1.1m-.9 .3h1.1m-1.1 .7h1.1m-.9 1h1.1m-1-1.9h1.1m-1.1 1.4h1.1m-1.1-.3h1.1m-1.1 1.3h1.1m-1 .2h1.1m-1-.9h1.1m-1-.6h1.1m-1.1 1.6h1.1m-1.1-.9h1.1m-1.1 .5h1.1m-1-1.3h1.1m-1-.3h1.1m-1 1h1.1m-1.1-1h1.1m-.9 0h1.1m-1.1 .1h1.1m-1.1 1.6h1.1m-1-2.1h1.1m-1.1 .5h1.1m-1.1 1.9h1.1m-1.1-.4h1.1m-1-.8h1.1m-1-.7h1.1m-1.1 1.6h1.1m-1.1-1.8h1.1m-1.1 0h1.1m-1 1.7h1.1m-1.1-1.4h1.1m-1 1.9h1.1m-1.1-1.6h1.1m-1 .6h1.1m-1-1.9h1.1m-1.1 .1h1.1m-1.1 .5h1.1m-.7 .2h1.1m-1.1-.7h1.1m-1 .3h1.1m-1.1 1.7h1.1m-.9-1.7h1.1m-1 0h1.1m-1 2.5h1.1m-1.1-.6h1.1m-1-.5h1.1m-1-.1h1.1m-1-.7h1.1m-1.1-.8h1.1m-1.1 .4h1.1m-1 2.1h1.1m-1.1-.9h1.1m-.9 .6h1.1m-1.1 .4h1.1m-.9-1.9h1.1m-1-.7h1.1m-1 2.2h1.1m-1.1-.2h1.1m-1.1-.2h1.1m-1.1-1.4h1.1m-1 1.4h1.1m-1-1.6h1.1m-1.1 .6h1.1m-1.1-.4h1.1m-1-.4h1.1m-1 2.2h1.1m-1-1.7h1.1m-1.1 1.1h1.1m-1-.9h1.1m-1.1-.2h1.1m-.8 2.2h1.1m-1.1-.1h1.1m-1-2.3h1.1m-1 1.4h1.1m-1.1-.3h1.1m-1-.5h1.1m-1.1 .1h1.1m-.8 .5h1.1m-1-1.5h1.1m-1.1 1h1.1m-.9 1h1.1m-1.1-.3h1.1m-1.1-.8h1.1m-1 0h1.1m-1.1 1.3h1.1m-.9-1.5h1.1m-1.1-.6h1.1m-1 2.5h1.1m-1-2.8h1.1m-1.1 1.9h1.1m-1-1.2h1.1m-1.1-.6h1.1m-1 2.3h1.1m-1.1-1.5h1.1m-.9 1.3h1.1m-1.1 .1h1.1m-1-2.2h1.1m-1.1 1h1.1m-1-.5h1.1m-.9-.6h1.1m-1.1 1.6h1.1m-1-.5h1.1m-1-.9h1.1m-.9 2.7h1.1m-1.1-2.7h1.1m-1.1 .1h1.1m-1 2.1h1.1m-1.1-.7h1.1m-1 .9h1.1m-.8 0h1.1m-.8-.4h1.1m-1.1 0h1.1m-1 .6h1.1m-1-1.7h1.1m-1-.9h1.1m-1 .2h1.1m-1.1 1h1.1m-.8 .3h1.1m-1.1-1.5h1.1m-.9 .6h1.1m-.9 0h1.1m-1-.7h1.1m-1 1.3h1.1m-1.1 .1h1.1m-.9 0h1.1m-1.1-.1h1.1m-.9 1.1h1.1m-.9-2.5h1.1m-1 1.5h1.1m-.9-.2h1.1m-.4 1.3h1.1m-1.1 .2h1.1m-.9 .1h1.1m-1-1.8h1.1m-1.1-1h1.1m-.9 1.2h1.1m-1.1-.3h1.1m-.8 1.3h1.1m-1.1-.4h1.1m-.1-.7h1.1m-.8 1.1h1.1m-1-1h1.1m-.3-.6h1.1m-.9 1.7h1.1m-.8-1h1.1m-1.1 .5h1.1m-.9-.4h1.1m-1 1h1.1m-1-.4h1.1m-1-.7h1.1m-.3 .3h1.1m-1.1-.3h1.1m-1 .2h1.1m-.5 1.1h1.1m-.5-1.6h1.1m-1 .7h1.1m-.9-.1h1.1m-.9 1.1h1.1m-.1-.3h1.1m-.4-.1h1.1m-.9-1.7h1.1m.1 2.3h1.1m-.1-.3h1.1m-1-.2h1.1m0-2.2h1.1m-.7 1.9h1.1m-.2-2h1.1m-.6 1.4h1.1m-.6-.9h1.1m-.6 .3h1.1m-1 .8h1.1m-.6 .9h1.1m.8-2.1h1.1m-.9 1.6h1.1m1.4 .1h1.1m-1 .3h1.1m-.6-.7h1.1m-1-1.6h1.1m-1 .2h1.1m7.8 .2h1.1m97.2 2.1h1.1m3.6-1h1.1m-1 1h1.1m-.5-2.2h1.1m-.6 1.7h1.1m.4 .5h1.1m.9-1.8h1.1m-.9-.8h1.1m-.9 2.4h1.1m-.8-1.7h1.1m-.3 .6h1.1m-1.1 1.2h1.1m-.3-1.8h1.1m-1.1 .5h1.1m-.9-.5h1.1m-1 1.7h1.1m-.6-1.1h1.1m-1-1.3h1.1m-1.1 1.1h1.1m-.9-.4h1.1m-.4-.4h1.1m-.2 .8h1.1m-1.1-.7h1.1m-.7 1.4h1.1m-.4 .7h1.1m-.6-.7h1.1m-.9 0h1.1m-1-.7h1.1m-.7 1.3h1.1m-1.1-1.6h1.1m-1.1 .1h1.1m-1-.3h1.1m-1.1-.6h1.1m-.7 2.8h1.1m-1-1.8h1.1m-1.1 1h1.1m-1.1-1h1.1m-.9-.8h1.1m-1.1 1.3h1.1m-.3 0h1.1m-.8 .9h1.1m-.8 .3h1.1m-.9-1.9h1.1m-1-.8h1.1m-.9 .1h1.1m-.9 .8h1.1m-.6 .6h1.1m-.8-.7h1.1m-.8-.9h1.1m-1 .5h1.1m-.6 1.1h1.1m-1-1.7h1.1m-1.1 1.5h1.1m-.9 .4h1.1m-.9 .1h1.1m-1.1-1.1h1.1m-.5 2h1.1m-.8-2.7h1.1m-.7 .4h1.1m-.4-.5h1.1m-1.1 .3h1.1m-1.1 0h1.1m-1 2.3h1.1m-1.1-2.3h1.1m-1.1 .3h1.1m-1-.3h1.1m-.7 2.3h1.1m-.9-.9h1.1m-.7 .6h1.1m-.9-1.9h1.1m-.7 2.2h1.1m-.9-1.3h1.1m-1.1-.8h1.1m-.9 .1h1.1m-.8 0h1.1m-.8 0h1.1m-1-.4h1.1m-1 1.1h1.1m-.9 .6h1.1m-1.1 .3h1.1m-.3-1h1.1m-.9-1.2h1.1m-.8 2.2h1.1m-1 .4h1.1m-1-2.1h1.1m-.6 .2h1.1m-1.1 .1h1.1m-.9-.2h1.1m-1.1-.2h1.1m-1 2.1h1.1m-1-2.4h1.1m-1 .3h1.1m-1.1 1.7h1.1m-1.1-.7h1.1m-1-1.4h1.1m-.8 1.5h1.1m-1 1.3h1.1m-.5-1.8h1.1m-.8 .1h1.1m-1.1-1.1h1.1m-1.1 1.2h1.1m-.9-1h1.1m-.7 2.6h1.1m-1-2.8h1.1m-.7 1.8h1.1m-1.1-.4h1.1m-.6-.6h1.1m-1-.6h1.1m-.9-.3h1.1m-.7 .5h1.1m-.3 .2h1.1m-.8 1.7h1.1m-.7 .2h1.1m-.6-2h1.1m-1-.1h1.1m-1.1 2.2h1.1m-1-.5h1.1m-.8 .6h1.1m-1.1-1.6h1.1m-.8 .4h1.1m.3-.4h1.1m-1.1 0h1.1m-.9 1.6h1.1m.2-1.1h1.1m-.4-1.2h1.1m-.6-.5h1.1m-.5 2.8h1.1m-1-1.1h1.1m-1 1.2h1.1m-.2-2.2h1.1m0 1.6h1.1m-.5-.1h1.1m-.6 .2h1.1m1.6-2h1.1m-.4-.4h1.1m1.6 .1h1.1m112.9 .8h1.1m0-.1h1.1m1.4 .1h1.1m-1.1 .7h1.1m0-1h1.1m-.2 2.1h1.1m.1-.1h1.1m-.5-.7h1.1m-1-.7h1.1m0 .9h1.1m-1.1-2.1h1.1m-1 2.5h1.1m-.8-1.3h1.1m-.8-.4h1.1m-.8 2.1h1.1m-.6-.3h1.1m-1-2.2h1.1m-1 1.1h1.1m-1.1-.8h1.1m-1 .3h1.1m-1 1.8h1.1m-.6-1.3h1.1m-1.1 1.1h1.1m-.5-.3h1.1m-.8-1.7h1.1m-1-.3h1.1m-.8 1.3h1.1m-.9-.6h1.1m-1 1.2h1.1m-.8-2h1.1m-1.1 1.1h1.1m-1.1-1.2h1.1m-.8-.1h1.1m-1 2.5h1.1m-1-.2h1.1m-1-.1h1.1m-.6 .3h1.1m-.9-.7h1.1m-.8-1.1h1.1m-1.1-.4h1.1m-.8 2.2h1.1m-.9-2.3h1.1m-1 .2h1.1m-.9 .1h1.1m-1 .5h1.1m-.5-.2h1.1m-.7 2.1h1.1m-.8-.8h1.1m-.9-1h1.1m-.8-.2h1.1m-1.1 .2h1.1m-1.1-.6h1.1m-1.1 1.5h1.1m-1 .2h1.1m-1-.6h1.1m-.8-1.5h1.1m-1 2.8h1.1m-1-1.7h1.1m-.9-.6h1.1m-1.1-.4h1.1m-.9 1.6h1.1m-1-.9h1.1m-.8 .8h1.1m-1.1-.4h1.1m-1.1 .1h1.1m-1 1.1h1.1m-1-2.3h1.1m-.6 1.4h1.1m-.9-.2h1.1m-1-.3h1.1m-.9-.7h1.1m-.9 2.3h1.1m-1-2.3h1.1m-1.1 .5h1.1m-.7 1.9h1.1m-1.1-1.5h1.1m-.9 .7h1.1m-.6-.8h1.1m-1 1.3h1.1m-1.1-.3h1.1m-1.1-.2h1.1m-.8-1.9h1.1m-1 2.4h1.1m-1.1-1.9h1.1m-.7 1.8h1.1m-.9-.7h1.1m-.9-1.3h1.1m-1 .9h1.1m-1.1-.2h1.1m-1.1-.3h1.1m-1 .5h1.1m-.9-1.3h1.1m-.8 2.9h1.1m-1.1-1.6h1.1m-1 1.5h1.1m-.9-.6h1.1m-1.1-1.1h1.1m-.8 .9h1.1m-1 .9h1.1m-1-1.6h1.1m-1-.7h1.1m-1.1 2.3h1.1m-.9-.1h1.1m-1-1h1.1m-.9 .4h1.1m-.7-1.9h1.1m-1.1 1.5h1.1m-.9-1.5h1.1m-.9 .4h1.1m-1-.3h1.1m-1 1.9h1.1m-1.1-1.2h1.1m-1.1-1.1h1.1m-.9 1.9h1.1m-1.1-.2h1.1m-1 .6h1.1m-1.1-.6h1.1m-1-1.3h1.1m-1.1 1.6h1.1m-1 .3h1.1m-.9 .5h1.1m-1.1-.3h1.1m-1-1.1h1.1m-1.1 0h1.1m-.9 0h1.1m-1-1.1h1.1m-1.1 0h1.1m-1 0h1.1m-1.1 1.7h1.1m-1 .1h1.1m-1-2h1.1m-1 2h1.1m-1.1-1.6h1.1m-1-.3h1.1m-1 2.3h1.1m-1-.5h1.1m-1-.8h1.1m-.9-.8h1.1m-1.1 .7h1.1m-.8 1.7h1.1m-1.1-1h1.1m-.8 1.1h1.1m-.9-.7h1.1m-1.1 .3h1.1m-.9-1.2h1.1m-1.1-1.1h1.1m-.9 2.4h1.1m-1.1 .3h1.1m-1.1-2h1.1m-.8-.6h1.1m-1 1.6h1.1m-1-1.6h1.1m-1.1 1h1.1m-1.1-.4h1.1m-1 1.3h1.1m-.8-.8h1.1m-.9 .5h1.1m-1.1 0h1.1m-1 1h1.1m-.9-2.6h1.1m-1 1.7h1.1m-.9-.9h1.1m-.9-.2h1.1m-1 .8h1.1m-.9 .2h1.1m-.8 0h1.1m-1 .1h1.1m-1-2h1.1m-1 .1h1.1m-1 2h1.1m-1.1-2.1h1.1m-.9 .7h1.1m-1 1.6h1.1m-.9-1.3h1.1m-.7-.7h1.1m-1.1 1.3h1.1m-1-1.4h1.1m-1 .1h1.1m-.8 0h1.1m-1.1 1h1.1m-1 .4h1.1m-1.1-.5h1.1m-.9 1.3h1.1m-.9-1.3h1.1m-1.1 .2h1.1m-1.1-1h1.1m-1 1.9h1.1m-1.1 .7h1.1m-1-.9h1.1m-.9-.2h1.1m-.8-1.1h1.1m-.7 .1h1.1m-.9 .5h1.1m-1-.1h1.1m-1.1-1h1.1m-1 1.2h1.1m-.9 1h1.1m-.9-1.2h1.1m-.8 1.1h1.1m-1.1-1.2h1.1m-1.1 .6h1.1m-.9 .1h1.1m-1.1-.7h1.1m-1-1h1.1m-.9 .2h1.1m-1-.1h1.1m-1 1.6h1.1m-.9-1.7h1.1m-1.1 .9h1.1m-1-.1h1.1m-.8 1.1h1.1m-1.1-1.5h1.1m-.7 1.5h1.1m-.9 .5h1.1m-1-1.1h1.1m-.6 .3h1.1m.3-1.2h1.1m-1 1.3h1.1m-.5-.8h1.1m-.9-1h1.1m-.9 .8h1.1m-1.1 .4h1.1m0 .2h1.1m-.8 .5h1.1m-1.1 0h1.1m-1.1-.5h1.1m-.3 1.2h1.1m-.9-1.6h1.1m-.1 .2h1.1m-1-.8h1.1m-1.1 2.2h1.1m-.6-.7h1.1m.3-1.7h1.1m-.7 2.2h1.1m7 .1h1.1m-400.3 1.3h1.1m5.7 .2h1.1m10.1 1.6h1.1m.4-.7h1.1m2-1.2h1.1m0 1.2h1.1m-.7-1.4h1.1m-.2 1.9h1.1m-.9-.4h1.1m.7 .7h1.1m-1-1.4h1.1m-.8-.9h1.1m.2 .2h1.1m-.9 .8h1.1m-.4 .5h1.1m-1-.1h1.1m-1-1.3h1.1m-.6 2.1h1.1m-1-1.1h1.1m-.6-1.3h1.1m-1 .6h1.1m-1.1 .3h1.1m-.9 .6h1.1m-1.1 1h1.1m-.7-.2h1.1m-1.1-2.3h1.1m-1.1 1.3h1.1m-.9-.3h1.1m-.9 .5h1.1m-.9 .5h1.1m-.8-.4h1.1m-.6-.8h1.1m-1.1-.8h1.1m-1.1 1.1h1.1m-.8 1.2h1.1m-.8-2.3h1.1m-1 .7h1.1m-1-.6h1.1m-1 1.9h1.1m-.9-1.4h1.1m-.7-.3h1.1m-1 1.1h1.1m-1-.7h1.1m-1 1.2h1.1m-1 .4h1.1m-1.1-2.4h1.1m-1.1 1h1.1m-1.1 .6h1.1m-1.1-.3h1.1m-1.1-1.2h1.1m-.9 1.8h1.1m-1 .1h1.1m-1 .1h1.1m-1.1-2.1h1.1m-1 .4h1.1m-1.1 .4h1.1m-1-.3h1.1m-1 1.6h1.1m-1-1.6h1.1m-1.1-.2h1.1m-1 .9h1.1m-.9-.6h1.1m-1 .3h1.1m-1 1.5h1.1m-1.1-1.4h1.1m-1 1.5h1.1m-1.1-.3h1.1m-1-2.1h1.1m-1.1 .7h1.1m-1-.9h1.1m-.9 2.8h1.1m-.9-.6h1.1m-1.1-2h1.1m-1 .4h1.1m-1.1 .1h1.1m-1 2h1.1m-1.1-1.4h1.1m-1.1-1.3h1.1m-1 1.2h1.1m-1.1 .2h1.1m-.8 .5h1.1m-1 .6h1.1m-1-1.2h1.1m-1 1h1.1m-1.1 .4h1.1m-1-.5h1.1m-1.1 .4h1.1m-.8-2.4h1.1m-.7-.2h1.1m-1.1 .2h1.1m-1 1h1.1m-.9-1.3h1.1m-1.1 1.2h1.1m-1-1.1h1.1m-1.1 .3h1.1m-.8 .6h1.1m-1-.9h1.1m-1.1 1.6h1.1m-1 1h1.1m-1.1-.2h1.1m-1.1-1.7h1.1m-1 1.9h1.1m-1-1.1h1.1m-1.1 .9h1.1m-.9-2.1h1.1m-.9 .3h1.1m-1.1-.7h1.1m-1.1 1.1h1.1m-1 1.9h1.1m-1.1-2.4h1.1m-1 1.2h1.1m-1.1-1.2h1.1m-1 1.3h1.1m-.8-1.6h1.1m-1 2.1h1.1m-1-1.7h1.1m-1-.3h1.1m-1.1 1.9h1.1m-1-1h1.1m-1.1 1.2h1.1m-1-.2h1.1m-1.1-1.9h1.1m-.8 .2h1.1m-1.1 1.4h1.1m-1-.5h1.1m-.9-.8h1.1m-1.1-.7h1.1m-1 .4h1.1m-1-.3h1.1m-1.1 0h1.1m-1.1 2.6h1.1m-1.1-1.9h1.1m-1-.8h1.1m-1.1 1.4h1.1m-1-.7h1.1m-1.1-.6h1.1m-1 .2h1.1m-1 1.6h1.1m-.8 .2h1.1m-1.1-2h1.1m-1-.1h1.1m-.9 .4h1.1m-1.1-.1h1.1m-1.1-.2h1.1m-1.1 1.1h1.1m-.9-.4h1.1m-1.1-.1h1.1m-1-.1h1.1m-1.1-.4h1.1m-.7 .4h1.1m-1.1 .6h1.1m-1.1 .6h1.1m-.9-.9h1.1m-1.1 .2h1.1m-.9-.4h1.1m-1 2.2h1.1m-1-1.1h1.1m-1 .4h1.1m-1-1.8h1.1m-1.1 1.2h1.1m-1 0h1.1m-1 .4h1.1m-1-.9h1.1m-1-.2h1.1m-1.1 .6h1.1m-1-.1h1.1m-1 .5h1.1m-1-.4h1.1m-1.1 .5h1.1m-1 .6h1.1m-.9-.8h1.1m-.8-1.1h1.1m-.9 2.3h1.1m-1-1.1h1.1m-1-1.2h1.1m-1 1.7h1.1m-.9-1.6h1.1m-1-.1h1.1m-1.1 .6h1.1m-1 .8h1.1m-1-.3h1.1m-1.1-.9h1.1m-.9 1.7h1.1m-1.1-2.5h1.1m-.9 1.7h1.1m-.9-.4h1.1m-.7 1h1.1m-1-.5h1.1m-.9-1.5h1.1m-1.1 .1h1.1m-1.1 1h1.1m-1 1h1.1m-1-.6h1.1m-.7 .2h1.1m-.8 0h1.1m-.8 .1h1.1m-1-2h1.1m-1 0h1.1m-1 .3h1.1m-.9 .1h1.1m-.9-.4h1.1m-.7 .1h1.1m-.3 2.7h1.1m-.9-2.3h1.1m-1.1-.3h1.1m-.7 1.5h1.1m-1 .3h1.1m-1-1.6h1.1m-1-.6h1.1m-.8 .8h1.1m-.7-.1h1.1m-1.1 .3h1.1m-.9 .1h1.1m-1.1 .4h1.1m-.5 .9h1.1m-.2-1.7h1.1m0 1.5h1.1m-1-1.1h1.1m-.8-.7h1.1m-.2 .8h1.1m-.2 .9h1.1m-1-1.8h1.1m1.1 2.1h1.1m-.6 .4h1.1m.2-1.6h1.1m-.8-.1h1.1m-1-.4h1.1m-.1 .5h1.1m.9 .9h1.1m-.4-1.1h1.1m1-.3h1.1m-.1-.1h1.1m-.7 1.8h1.1m1.2-.2h1.1m1.2 .4h1.1m.2-2.6h1.1m2.3 1.1h1.1m4.8 1.9h1.1m95.6-2.5h1.1m2.3 1.9h1.1m4.3-2h1.1m-.2 .5h1.1m-1.1 .3h1.1m-.7-1.1h1.1m-.1 .8h1.1m-1.1 1.8h1.1m-1-1h1.1m-.5-.4h1.1m-.2 .8h1.1m-.9-.7h1.1m-.5-.4h1.1m-.9 1.4h1.1m-1 .4h1.1m.2-.4h1.1m-1-.1h1.1m-1.1-.3h1.1m-.7-1h1.1m-.7-.4h1.1m-.6 1.5h1.1m-.5-1.6h1.1m-.4 .4h1.1m-.7 .4h1.1m-1 .4h1.1m-1-1.5h1.1m-1 .5h1.1m-1.1 .1h1.1m-.8 .3h1.1m-1 .7h1.1m-.9-.4h1.1m-1 1.3h1.1m-.8-1.1h1.1m-1-1.3h1.1m-.9 2.3h1.1m-.5-2.3h1.1m-.8 1.7h1.1m-.7-.6h1.1m-1-.6h1.1m-.8 1.7h1.1m-.6-.5h1.1m-1.1-.2h1.1m-1.1 .6h1.1m-.7-1.2h1.1m-1-.9h1.1m-1-.2h1.1m-1 1.6h1.1m-.6 .4h1.1m-1.1-.7h1.1m-1 0h1.1m-1.1-.8h1.1m-.9 .2h1.1m-1 1.9h1.1m-1.1-2.2h1.1m-1 2.3h1.1m-1-.9h1.1m-.3-.7h1.1m-1.1 0h1.1m-1.1 1.1h1.1m-1-.7h1.1m-1.1 0h1.1m-.8-1.3h1.1m-1 2h1.1m-1.1-1.4h1.1m-.9-.1h1.1m-1 2.1h1.1m-.8-2.1h1.1m-1 1.7h1.1m-1-.1h1.1m-1 .5h1.1m-1-2.4h1.1m-.9 1.8h1.1m-.7-1.7h1.1m-1 1.9h1.1m-1.1-.3h1.1m-.8-2h1.1m-1 2.5h1.1m-1-.7h1.1m-.9-1.3h1.1m-.8 1.4h1.1m-1-1.5h1.1m-1.1 1h1.1m-1.1-1.1h1.1m-1 .2h1.1m-1.1 .1h1.1m-1-.3h1.1m-.9 1.5h1.1m-.8-.7h1.1m-.9 .7h1.1m-1.1-.2h1.1m-.8-1.4h1.1m-.3 1.9h1.1m-1.1 0h1.1m-.7-.8h1.1m-1 .3h1.1m-.6-1h1.1m-.4 2.1h1.1m-.9-2.9h1.1m-.2 1.8h1.1m-1 .2h1.1m-1.1-1.7h1.1m-.8 2.4h1.1m-.9-.4h1.1m-.9-1.1h1.1m-.8-.6h1.1m-.4-.5h1.1m-.7 2.5h1.1m-1.1-.8h1.1m-.7 1.1h1.1m-.3-2.3h1.1m.6 1.2h1.1m-.9 .6h1.1m-.1-.2h1.1m-1-1.5h1.1m-1.1 .7h1.1m-.8-.8h1.1m-.4 .4h1.1m0 1.3h1.1m1 .2h1.1m-.6-.5h1.1m-.4 .4h1.1m.9-.2h1.1m.4-.6h1.1m6.4 .9h1.1m105.4-.1h1.1m0-1.5h1.1m-.7-.7h1.1m1.3 1h1.1m-.3-.4h1.1m-.9 .1h1.1m-.2-.8h1.1m-1 1h1.1m-.7-.6h1.1m1.8-.3h1.1m-.7 2h1.1m-.9 .6h1.1m-1.1-.8h1.1m1.8-1.7h1.1m-1.1 2.5h1.1m.2-2.3h1.1m-.7 2.4h1.1m-.9-2.3h1.1m-1 .1h1.1m-.6 1.2h1.1m-.7 .1h1.1m-.7-1.5h1.1m-1 1.4h1.1m-.8 .6h1.1m-.9-1.4h1.1m-.7-.7h1.1m-1.1-.1h1.1m-.4 .7h1.1m-1 1.1h1.1m-1-.2h1.1m-.7-1.4h1.1m-1 .6h1.1m-1-.5h1.1m-.9-.6h1.1m-1 .3h1.1m-1-.2h1.1m-.8 1.2h1.1m-.4 .3h1.1m-1.1 .5h1.1m-1-.3h1.1m-.7 .9h1.1m-.9-1h1.1m-.8-.9h1.1m-.9 .2h1.1m-1.1 1.2h1.1m-1.1-1.9h1.1m-.9-.1h1.1m-1 1h1.1m-.9 .5h1.1m-.9 1.1h1.1m-1.1-1.5h1.1m-.8-1h1.1m-.8 2.3h1.1m-1.1-1h1.1m-1.1-1.2h1.1m-.8 1.2h1.1m-.7-.3h1.1m-1 1.5h1.1m-.9-.4h1.1m-1-1.2h1.1m-1 1.4h1.1m-.9-.6h1.1m-1.1-.5h1.1m-1-1.4h1.1m-1 .7h1.1m-.9-.7h1.1m-1.1 1h1.1m-.7 .3h1.1m-1-.9h1.1m-1.1 1.5h1.1m-.9 .6h1.1m-1-1.9h1.1m-.6 2h1.1m-1-2.4h1.1m-1.1 .3h1.1m-1.1 2.1h1.1m-1-1.7h1.1m-1.1-.5h1.1m-.8 1.5h1.1m-.8 .2h1.1m-1.1-1.8h1.1m-1 .5h1.1m-1.1-.6h1.1m-1.1 1.5h1.1m-1.1 .8h1.1m-.9-1.9h1.1m-.9 .6h1.1m-1.1-1.1h1.1m-.9 .7h1.1m-1 1.3h1.1m-.5-.4h1.1m-.5 .4h1.1m-1-.2h1.1m-1-1h1.1m-1-.8h1.1m-1.1 .3h1.1m-.3 1.2h1.1m-.8-1.3h1.1m-.9 0h1.1m-.7-.4h1.1m-.9 1.5h1.1m-1.1 1h1.1m-.8 .5h1.1m-1-3h1.1m-1.1 2.9h1.1m-.9-2h1.1m-.8 .3h1.1m-1-.3h1.1m-1-.8h1.1m-1.1 1.7h1.1m-.8-1.6h1.1m-1.1 .1h1.1m-1.1 1.4h1.1m-1.1 .3h1.1m-.6-.9h1.1m-.9 .5h1.1m-.8-.9h1.1m-1.1 1.7h1.1m-.3-2.2h1.1m-.4 2.2h1.1m-.8 .1h1.1m-1-.3h1.1m-1.1-1.8h1.1m-.5-.3h1.1m-.6 2h1.1m-1-1.4h1.1m-1.1 1.2h1.1m-1-.7h1.1m-.9 1.2h1.1m-1-1.3h1.1m-.9-1.1h1.1m-1 1.6h1.1m-1.1-1h1.1m-.8 1.4h1.1m-1 .4h1.1m-1.1 .3h1.1m-1-1.6h1.1m-.9 .9h1.1m-1.1-1.1h1.1m-1 1.7h1.1m-.9-2.1h1.1m-.7 .2h1.1m-1.1 1.8h1.1m-1.1-2.2h1.1m-1 .2h1.1m-1-.1h1.1m-.9-.3h1.1m-1.1 .2h1.1m-.4 1.1h1.1m-.9-.5h1.1m-.9-.1h1.1m-.5-.6h1.1m-1.1 1.1h1.1m-.9 .4h1.1m-.8 1.2h1.1m-.7-2.4h1.1m-1 2.5h1.1m-1-2h1.1m-.1-.4h1.1m-1 .3h1.1m-.9 1.9h1.1m-.8-2.3h1.1m-.7-.1h1.1m-1 .1h1.1m0 1.4h1.1m-.1-.8h1.1m-1 1.6h1.1m0-2.1h1.1m-.9 2.4h1.1m-.4-2.5h1.1m-.1 1.8h1.1m-.7-.6h1.1m-1-.8h1.1m-.9-.2h1.1m-.5-.6h1.1m2.2 0h1.1m-380.8 3h1.1m2.6 1.7h1.1m-.9 0h1.1m.6-1.3h1.1m.5 1.7h1.1m1.2-1.2h1.1m0-.6h1.1m-.5 2.5h1.1m-1-2.1h1.1m0 .4h1.1m-.9-1h1.1m.7 .7h1.1m-.8 1.7h1.1m.3-1h1.1m-.8-1.1h1.1m-1 .6h1.1m-.9 .9h1.1m-.8-1.4h1.1m-.7 1.4h1.1m-1 0h1.1m-1.1-.9h1.1m-.9 .4h1.1m-1 1.2h1.1m-.8-1.6h1.1m-.8-1.1h1.1m-.9 2.9h1.1m-.9-2.7h1.1m-1.1 0h1.1m-.5 1.4h1.1m.6-1.3h1.1m-1.1 .7h1.1m-.8 1h1.1m-.8-1.7h1.1m-1 1.1h1.1m-1.1-1.3h1.1m-.9 1.1h1.1m-1 .2h1.1m-1-.1h1.1m-1.1 .2h1.1m-.8-.7h1.1m-1 .7h1.1m-1-1.1h1.1m-1.1 .9h1.1m-.7 1.3h1.1m-1-1.2h1.1m-.9 0h1.1m-1 1.4h1.1m-1.1-2.4h1.1m-1-.1h1.1m-1 .2h1.1m-1.1 .3h1.1m-1 .4h1.1m-1.1 .4h1.1m-1 .7h1.1m-1-1.4h1.1m-1.1-.8h1.1m-.9 2.7h1.1m-.6-2.2h1.1m-1.1 1.5h1.1m-1.1-.1h1.1m-1.1-1.6h1.1m-.5 .2h1.1m-1 .1h1.1m-.9 2.2h1.1m-.9-2h1.1m-.1 .9h1.1m-1 1.1h1.1m-1-1.7h1.1m-.9-.1h1.1m-1 1h1.1m-1-.7h1.1m-1.1 .4h1.1m-1 .4h1.1m-.8-2.1h1.1m-1 .1h1.1m-.9 2.4h1.1m-.8-1.9h1.1m-1.1 .7h1.1m-1-.3h1.1m-.8 1.4h1.1m-1.1-1.1h1.1m-1-.4h1.1m-.7-.3h1.1m-.7 1.3h1.1m-.9-1.4h1.1m-1 1.4h1.1m-.8 0h1.1m-1.1-1.9h1.1m-.9 .2h1.1m-1.1 2.1h1.1m-.9-1.9h1.1m-.9 .1h1.1m-.8-.5h1.1m-1.1 .8h1.1m-.6 .7h1.1m-1.1 1.3h1.1m-1.1-1h1.1m-1-1.2h1.1m-.5-.6h1.1m-1 1h1.1m-.6 .2h1.1m-.8 .9h1.1m-1-.2h1.1m-.3-1.8h1.1m-.3 1.9h1.1m-.9-.9h1.1m-1.1-.9h1.1m-1 2.3h1.1m-1-2.5h1.1m-1.1 .2h1.1m-.6 1.6h1.1m-.5-.8h1.1m-.6 .3h1.1m-.8-1.3h1.1m-.4 .3h1.1m-.5 .1h1.1m-1 1.2h1.1m-.2-1.4h1.1m-1 2.6h1.1m0-.8h1.1m-1.1-.9h1.1m-1.1-.3h1.1m-.7 .2h1.1m1.3 1.6h1.1m-.8-.9h1.1m-.4-.6h1.1m0-1.1h1.1m-.8 .5h1.1m0-.4h1.1m-.7 .4h1.1m10.8 1h1.1m3.2 .8h1.1m.1-2.1h1.1m90.7 .1h1.1m8.9 1.2h1.1m2.1-.8h1.1m1.6-.7h1.1m.9 1h1.1m.8-.6h1.1m-.5 .3h1.1m-.3 1.2h1.1m-.7 .8h1.1m.5-.9h1.1m-.9-.3h1.1m-.2-1.1h1.1m-.6 .1h1.1m-.9-.3h1.1m-.6 2.1h1.1m-1-2h1.1m-.4 2.2h1.1m-.9-.5h1.1m-.7 0h1.1m-.9-.9h1.1m-1-.8h1.1m-1.1 .7h1.1m-.6-.5h1.1m-.8 1.2h1.1m-.6-1.6h1.1m-.7 .7h1.1m-.6-.4h1.1m-.1 1.6h1.1m-.8-1.3h1.1m-.9-.7h1.1m0 1.1h1.1m-1-1h1.1m-1 1.5h1.1m-1.1-.1h1.1m-1-.7h1.1m-.8-.7h1.1m-1-.1h1.1m-.8 .2h1.1m-1.1 0h1.1m-1 .4h1.1m-.9 1.6h1.1m-.8-2.1h1.1m-.6 1.2h1.1m-.5 .6h1.1m-1 .1h1.1m-1-1.7h1.1m-.7 1.8h1.1m-.9 .1h1.1m-.9-1.5h1.1m-.8 1.7h1.1m-1-1.1h1.1m-1.1 .9h1.1m-.4-.7h1.1m-1-.2h1.1m-.4-1.1h1.1m-1.1 0h1.1m-.8 2.3h1.1m-.9-2.5h1.1m-1-.1h1.1m-1 2.3h1.1m-1.1-1.7h1.1m-1 1.3h1.1m-.3-.9h1.1m-1.1 .2h1.1m-.8-.6h1.1m-.3-.4h1.1m-.7 2h1.1m-1.1 .1h1.1m-.8-1.3h1.1m-1-.7h1.1m2.7 2.4h1.1m-.7-1.3h1.1m-.6-1.1h1.1m-1.1-.1h1.1m2.9 .3h1.1m2.4 .9h1.1m-1-1h1.1m2.2 1.1h1.1m-.5 0h1.1m-.5-.1h1.1m4-.5h1.1m89 1.7h1.1m17.9-.2h1.1m4.7-1.6h1.1m.2-.1h1.1m2.6 1h1.1m1-.2h1.1m-.6-1.4h1.1m-.3 0h1.1m-.7 1.7h1.1m-1 .1h1.1m.2 .4h1.1m-.9-.7h1.1m-.6 1.1h1.1m-1-.9h1.1m-1-1.5h1.1m-.9 2.1h1.1m-.6-.8h1.1m-1-1.2h1.1m-1 .6h1.1m-.2-.9h1.1m-1 .1h1.1m-1 .7h1.1m-1-.4h1.1m0-.3h1.1m-1.1 .2h1.1m-.9-.4h1.1m-.8 2.3h1.1m-.9-1.4h1.1m-1 1.7h1.1m-.7-1.9h1.1m-1 .2h1.1m-.5-.7h1.1m-.9 1.6h1.1m-.9 .4h1.1m-1.1-.3h1.1m-.2-1.3h1.1m-.9-.5h1.1m.4 .8h1.1m-1.1-.7h1.1m-.9 2.4h1.1m-.8 .1h1.1m-.8-2.4h1.1m-1.1 2.5h1.1m-.5-2.5h1.1m-.8 2.6h1.1m-.3-1.3h1.1m-.8 .8h1.1m-1 .3h1.1m-1-1.6h1.1m-.9 .7h1.1m-.6-.9h1.1m-.6-.2h1.1m-.7 1.3h1.1m-.5-1.5h1.1m-1.1 1.4h1.1m-1-1.1h1.1m-1.1 1h1.1m-.1-.8h1.1m-1.1 1.7h1.1m-.8-1.2h1.1m-.7 1.4h1.1m-.9-2.1h1.1m-1 .3h1.1m-.8-.3h1.1m-.7 .1h1.1m-.9-.5h1.1m0-.4h1.1m-.6 2.9h1.1m-.6-2.8h1.1m-1 0h1.1m.1 .1h1.1m-1 .5h1.1m-.2-.6h1.1m-1 2.1h1.1m.4 .3h1.1m-.7-.6h1.1m-.8-.5h1.1m0 1h1.1m0-1.8h1.1m5.2 .6h1.1m-366.6 1.9h1.1m-.7 .5h1.1m1.3-.2h1.1m1.7 0h1.1m-.3-.3h1.1m-.9 .2h1.1m-.9 .6h1.1m-.8-.6h1.1m-1 .1h1.1m.2-.3h1.1m0 .2h1.1m-.8 0h1.1m-1-.3h1.1m-.7 1h1.1m-1-.2h1.1m.3-.5h1.1m1.2 .7h1.1m0-.2h1.1m-1-.1h1.1m.9-.6h1.1m-1 .5h1.1m-.6 .3h1.1m-.3 .2h1.1m.1 0h1.1m-.7-.9h1.1m-.6 .4h1.1m.8-.2h1.1m1.8 .1h1.1m-.7 .1h1.1m-.5-.2h1.1m3.4 0h1.1m.7-.1h1.1m5 .1h1.1m121.8-.4h1.1m-.1 0h1.1m0 .6h1.1m.2-.3h1.1m-.5-.1h1.1m.9 .4h1.1m-1 .5h1.1m0-.8h1.1m.7 .1h1.1m-1 .2h1.1m0 .4h1.1m-.6 0h1.1m-.4-.5h1.1m-.9-.1h1.1m.2-.2h1.1m2.5 .4h1.1m-1-.3h1.1m.6-.1h1.1m-1-.2h1.1m-.2 .8h1.1m-.2 .1h1.1m-1 .1h1.1m-.9-.5h1.1m.8 .4h1.1m3.5-.7h1.1m1.5 .7h1.1m4.1-.1h1.1m115.4-.3h1.1m12.2 .1h1.1m-1.1 .6h1.1m2.7-.4h1.1m1.3-.5h1.1m1.7 .5h1.1m.8-.2h1.1m6.7-.6h1.1m3.7 .3h1.1m-1 .7h1.1m1.1 .1h1.1m1.3-1h1.1m19.7 0h1.1m-45.6 41.4h1.1m10.9 .5h1.1m0-1h1.1m-.9 .7h1.1m-32.8 2.9h1.1m2-.7h1.1m1 .3h1.1m-.3-.3h1.1m-.3-.4h1.1m-.8-.6h1.1m-.9 1.3h1.1m-.7 .5h1.1m0-.6h1.1m-.2 .7h1.1m-.9-1h1.1m-.7 .7h1.1m-.8-.9h1.1m-.7 1h1.1m0-.4h1.1m-1-.1h1.1m-.6-.1h1.1m-1.1-.2h1.1m-.4-1.4h1.1m-1 1.1h1.1m-.8-.3h1.1m-.6 .9h1.1m-1 0h1.1m-.2 .6h1.1m-.5-2.7h1.1m-1 2.9h1.1m-1.1 0h1.1m-1-.9h1.1m-.9-1.3h1.1m-.9 1.6h1.1m-1-.8h1.1m-1 .7h1.1m-1-1.6h1.1m-1.1 2.2h1.1m-1-1h1.1m-.9 .6h1.1m-.8 .4h1.1m-.8 .1h1.1m-1.1-2h1.1m-.5 1.6h1.1m-.8 .4h1.1m-1.1-2h1.1m-.2-.2h1.1m-.8 .2h1.1m-.9 1.4h1.1m-1.1-.6h1.1m-1.1-.2h1.1m-.4 .2h1.1m-.9 1.2h1.1m-.9-.6h1.1m-1.1-1.4h1.1m-.4 .7h1.1m-.8 0h1.1m-.8 .1h1.1m-1 1.3h1.1m-.9-.1h1.1m-1.1-2.6h1.1m-.8 1.6h1.1m-.6-.6h1.1m-1 .5h1.1m-.9 .2h1.1m-1.1-.6h1.1m-1 1.3h1.1m-.9-1.5h1.1m-1.1 .2h1.1m-.6 1.2h1.1m-1.1-1.2h1.1m-.8-.4h1.1m-.5 1.9h1.1m-1-.6h1.1m-.7 .2h1.1m-.8-.5h1.1m-.8-.4h1.1m-1-.3h1.1m-1-.5h1.1m-1.1 1.5h1.1m0 .4h1.1m-1-.3h1.1m-.3 .2h1.1m-.9-.9h1.1m0 .6h1.1m-.7-.3h1.1m-1.1 .5h1.1m-.6-2.3h1.1m-.7 2.4h1.1m-.9 0h1.1m-.9-1.6h1.1m-.8-.5h1.1m-.9 2.3h1.1m-1-.5h1.1m-.7-.3h1.1m.1-.1h1.1m-.8-.3h1.1m-.8-.5h1.1m-.9 1.7h1.1m-1-2.5h1.1m-.4 2.4h1.1m-38.6 3h1.1m-.7-.5h1.1m.1-1h1.1m-1-1.1h1.1m-.7 1.7h1.1m.3-.1h1.1m-1.1 .2h1.1m-1.1-.1h1.1m-.4 .3h1.1m-.5 .7h1.1m-.6 0h1.1m-.8-1.8h1.1m-1.1-.2h1.1m-.9 .9h1.1m-.8 1.1h1.1m-.8-2.2h1.1m-.9 1.6h1.1m-.9 .6h1.1m-1-1.4h1.1m-.7-.8h1.1m-.5-.3h1.1m-1 .3h1.1m-.6 2h1.1m-.8-1h1.1m-1.1 1.2h1.1m-.7-2.2h1.1m-.5 .5h1.1m-1.1-.3h1.1m-.9-.6h1.1m-.8 .4h1.1m-.3 .1h1.1m-.3-.2h1.1m-.9 0h1.1m-1-.1h1.1m-.9 0h1.1m-.6 .2h1.1m-1.1 2h1.1m-.7-2.3h1.1m-.9 2.1h1.1m-1.1-.8h1.1m-1-.7h1.1m-1 1.4h1.1m-1.1-1.6h1.1m-1-.4h1.1m-1-.1h1.1m-1.1 .3h1.1m-1-.2h1.1m-.9 1.6h1.1m-1.1-1.1h1.1m-.8-.7h1.1m-.5 .3h1.1m-1.1 1.7h1.1m-.8-.8h1.1m-.9-.6h1.1m-.9 .2h1.1m-1 1.3h1.1m-.7-1.2h1.1m-1 .6h1.1m-1.1-1.1h1.1m-1 .1h1.1m-.9 .8h1.1m-1-.3h1.1m-.8 .3h1.1m-1.1-.4h1.1m-1.1 1.8h1.1m-1-1.7h1.1m-1.1-.3h1.1m-.8 .3h1.1m-.7-.9h1.1m-1 1.7h1.1m-1-.8h1.1m-1.1 .9h1.1m-1.1-.9h1.1m-.9-.7h1.1m-1 1.6h1.1m-1-1.4h1.1m-1-.1h1.1m-1 2.3h1.1m-.8-.7h1.1m-.9-1.8h1.1m-1.1 .1h1.1m-.8 1.6h1.1m-1 .6h1.1m-.9-1.7h1.1m-1 .5h1.1m-1.1-1h1.1m-1-.2h1.1m-1 .7h1.1m-.9 1h1.1m-1.1 1h1.1m-.9-1.2h1.1m-.7-1.5h1.1m-1 .4h1.1m-1.1 .8h1.1m-.9 1.3h1.1m-1-1h1.1m-1.1 1h1.1m-1.1-.6h1.1m-1-1.2h1.1m-1.1 1.2h1.1m-1-2h1.1m-.6 1.4h1.1m-.8 .1h1.1m-.5-1.2h1.1m-1 .5h1.1m-.5 1.4h1.1m-1-2.1h1.1m-1 .2h1.1m-1-.2h1.1m-.6 .9h1.1m-1.1-1.1h1.1m-1.1 2.5h1.1m-.7-.7h1.1m-.9-.5h1.1m-.8 .2h1.1m-.8 0h1.1m-.7 .1h1.1m.3-.4h1.1m-1.1-.7h1.1m-1 1.5h1.1m-1-2h1.1m-.9 .7h1.1m-.7 .8h1.1m-.7-.1h1.1m-.8 .2h1.1m-.1-.1h1.1m-.9-1.3h1.1m-1 .8h1.1m-1.1-.6h1.1m-.4 .7h1.1m-1-1h1.1m.6 .3h1.1m.2 1h1.1m-1.1 .4h1.1m-.8-1.3h1.1m1.6 .9h1.1m-1.1 .7h1.1m-37 1.4h1.1m-.1-.4h1.1m-.4 .9h1.1m-.8-.5h1.1m-.8 .3h1.1m-.6 .4h1.1m-.7-1.1h1.1m.8 2.3h1.1m-.2-1.4h1.1m-.1-.1h1.1m-.6-.4h1.1m-.9 .2h1.1m1.3-.6h1.1m-1 .9h1.1m-.7 .8h1.1m-.2-1.7h1.1m1.3 .8h1.1m.7-.4h1.1m0-.1h1.1m1.6-.2h1.1m2 1h1.1m3.1-1h1.1m-221.2 7.8h1.1m5.5 .4h1.1m1-2h1.1m-159.2 5.1h1.1m154.3-.5h1.1m1.5 .3h1.1m.1 .5h1.1m-.1-.2h1.1m-.4 0h1.1m-1-1.5h1.1m-168 4h1.1m1.3 .7h1.1m3.5-.5h1.1m-1.1-1.2h1.1m.8 1.4h1.1m-.7-1h1.1m.5 1.5h1.1m-.9-2.9h1.1m-1.1 1h1.1m-.8 1.7h1.1m-.7-.1h1.1m-.4 .1h1.1m1.2-.7h1.1m-1.1 .2h1.1m-.5-.8h1.1m1.2 1.4h1.1m-1-.9h1.1m3.6 .2h1.1m133.3-1.8h1.1m-.4 1h1.1m-1-.9h1.1m.8 1.9h1.1m.1-.2h1.1m-.4-1.6h1.1m-1.1-.3h1.1m-.8 2.5h1.1m-.7-1.3h1.1m0 .2h1.1m-1.1-.1h1.1m-.9-1.4h1.1m-.6 2.6h1.1m-.3-.9h1.1m-1 .2h1.1m.4 .7h1.1m-1 .1h1.1m-1.1-1.5h1.1m.6 .4h1.1m-1.1-1.7h1.1m.4 1.3h1.1m-.2-.8h1.1m.6 2.2h1.1m1.8-1.8h1.1m-178.4 2.6h1.1m-.8 1.4h1.1m-.2 .3h1.1m.1-.7h1.1m-.8 .2h1.1m-.2-.9h1.1m-.8 1.7h1.1m-.8-.7h1.1m-.8 .2h1.1m-1-.8h1.1m-.9-.2h1.1m-.6-.7h1.1m-.8 1.4h1.1m-.9 .7h1.1m-.9-.8h1.1m-.6-.4h1.1m-1 1.6h1.1m-1 .1h1.1m-.6-1.5h1.1m-.8-.2h1.1m-1.1-.4h1.1m-.8 .7h1.1m-.6-1.1h1.1m-.9 1.8h1.1m-1 .2h1.1m-1-1.1h1.1m-.9 1.4h1.1m-.9-1.9h1.1m-.6 1h1.1m-.6-1.8h1.1m-.7 2.5h1.1m-1-1.3h1.1m-.5-.3h1.1m-.7 1.2h1.1m-1 .7h1.1m-.9-.4h1.1m-.4 .4h1.1m-1.1-.1h1.1m-.8 0h1.1m-1-1.3h1.1m-1 1.3h1.1m-.9 0h1.1m-.9-1h1.1m-.6-1.7h1.1m-.9 1.9h1.1m-.8-1.3h1.1m-.9 1.8h1.1m-.6-.2h1.1m-1.1 .7h1.1m-1-.5h1.1m-1.1-2.3h1.1m-.8 1.5h1.1m-1.1 .1h1.1m-1.1-1.4h1.1m-.6 2.1h1.1m-.8-1.6h1.1m-.4 1h1.1m-.9 .4h1.1m-.9 .7h1.1m-.9-1.3h1.1m-.9-.2h1.1m-.8 .1h1.1m-1-.4h1.1m-.1 1.1h1.1m.6-.6h1.1m-.7 .3h1.1m-1.1 .8h1.1m.4-.4h1.1m-.7-1.7h1.1m-.4 .8h1.1m.8 1h1.1m1.1 .4h1.1m.7-2.1h1.1m2-.6h1.1m118.5 0h1.1m.6 1.3h1.1m0-1h1.1m.7 2.4h1.1m0-.6h1.1m-1.1 .1h1.1m-.2-1.6h1.1m-.3 2.1h1.1m-.6-2.2h1.1m-.8 1.1h1.1m-.5 .1h1.1m-1 1.1h1.1m-1.1-2.4h1.1m-1 .8h1.1m-.9-.9h1.1m-.9 1.2h1.1m-.5-1.1h1.1m-1 2h1.1m-1-.2h1.1m-1.1-.4h1.1m-1-1.6h1.1m-1 .6h1.1m-1-.4h1.1m-.8 2.3h1.1m-1-.3h1.1m-1-1h1.1m-1.1 .9h1.1m-.9-.1h1.1m-.7-2.3h1.1m-.8 .2h1.1m-.7 .8h1.1m-.6 1.9h1.1m-1-1.9h1.1m-1 .5h1.1m-1.1 1h1.1m-.8 .2h1.1m-1.1-.9h1.1m-1-.3h1.1m-.8 .4h1.1m-1.1-.8h1.1m-1 1.3h1.1m.3 .2h1.1m-.7-1.2h1.1m-1-1.4h1.1m-1.1 2.6h1.1m-1-.9h1.1m-1.1-1.1h1.1m-.4 1.3h1.1m-.9-1.3h1.1m-.5 1.8h1.1m-1 .4h1.1m-1-2.2h1.1m-1 .8h1.1m-1-.6h1.1m-1 .4h1.1m-.8 1.6h1.1m-.6-1.2h1.1m-.8 1h1.1m-.1-.8h1.1m-.9-1.4h1.1m0 1.4h1.1m-.8-1.3h1.1m2.7 1.3h1.1m-.6-.9h1.1m-178.8 4h1.1m-1.1-1.3h1.1m-.7 .8h1.1m-1-1h1.1m-.8 .6h1.1m-.4 1.4h1.1m-.8-2h1.1m-1 .8h1.1m-.4 .9h1.1m-.8-.3h1.1m-.8-.8h1.1m-1-.9h1.1m-.8 2h1.1m-.1-.4h1.1m-1-1h1.1m-1.1 .2h1.1m-.6 .3h1.1m-.8-.9h1.1m-.9-.2h1.1m-1.1 .5h1.1m-.8 2h1.1m-.9-.3h1.1m-.9-.8h1.1m-.6 .1h1.1m-.5-.1h1.1m-.9-.2h1.1m-.8-.5h1.1m-1.1-.5h1.1m-.9 1.9h1.1m-1.1 .1h1.1m-.9-.8h1.1m-1.1-.2h1.1m-1.1 0h1.1m-1 1.2h1.1m-.9-.9h1.1m-1 0h1.1m-1-.9h1.1m0 1.5h1.1m-.7 .5h1.1m-.7-2h1.1m-1 .3h1.1m-.4 1.2h1.1m-.9-1.7h1.1m-1 0h1.1m-.9-.1h1.1m-.6 1.6h1.1m-.8-2h1.1m-.7 1.3h1.1m-.9 .5h1.1m-.9-1.1h1.1m-.6 1.1h1.1m-.8-.7h1.1m-1 .1h1.1m-.9 .7h1.1m-.7-1.7h1.1m-.9 .4h1.1m-1.1 .8h1.1m-1-1.1h1.1m-.8 1.9h1.1m-1 .5h1.1m-1.1-1.8h1.1m-1.1 .1h1.1m-.8 .1h1.1m-.2 .7h1.1m-.6 .4h1.1m-.5 0h1.1m-1.1-.8h1.1m-.9 1.1h1.1m-.8-1.3h1.1m-1 0h1.1m-.7 .7h1.1m-1-1.2h1.1m-1.1 .6h1.1m-.9-.9h1.1m-.6-.4h1.1m-1 1.5h1.1m-.9-1.2h1.1m1 1h1.1m-1.1-.2h1.1m-.8-1h1.1m-.5 1.9h1.1m-.6-.4h1.1m.2-.3h1.1m1.3-.7h1.1m5.1 0h1.1m121.5 .8h1.1m.7-1.4h1.1m-1 .4h1.1m-.9 2.1h1.1m-1-.4h1.1m-.9 .6h1.1m-1-.5h1.1m-.9-.1h1.1m-.7-1.8h1.1m-.6 .6h1.1m-.9 .8h1.1m-.7 .9h1.1m-1.1-1.9h1.1m-1-.1h1.1m-1 1.7h1.1m-.9-1h1.1m-1.1-1.4h1.1m-.5 2.8h1.1m-.8-1.8h1.1m-.7 1.6h1.1m-1-2.2h1.1m-.8 1.6h1.1m-.7 .7h1.1m-1-1.2h1.1m-1 1.3h1.1m-.8-.7h1.1m-1-.8h1.1m-.8-.4h1.1m-1.1 1.1h1.1m-.7-.7h1.1m-1.1 .5h1.1m-.3-1.1h1.1m-1.1-.2h1.1m-1 2.2h1.1m-.8-.5h1.1m-1-1h1.1m-1-.3h1.1m-.9-.2h1.1m-.9 2h1.1m-1-1.9h1.1m-.6 1.6h1.1m-1.1-1.1h1.1m-.9-.4h1.1m-1.1 0h1.1m-1 .1h1.1m-1.1 .7h1.1m0-.2h1.1m-1-.8h1.1m-.9 1.8h1.1m-1-.1h1.1m-.7-.5h1.1m-.8 0h1.1m-.9 .9h1.1m-1-1.7h1.1m-1.1 .3h1.1m-.7 0h1.1m-.7 1.2h1.1m-.6 .3h1.1m-1-1.1h1.1m-.9 .2h1.1m-1.1 .8h1.1m-1-2.1h1.1m-1.1 .8h1.1m.6-.7h1.1m.6 0h1.1m-1 1.8h1.1m-.4 .3h1.1m-180.1 1.1h1.1m-.5-.3h1.1m3.8 0h1.1m.6-.2h1.1m-1 .2h1.1m-1 2.2h1.1m-.7-2.8h1.1m1.7 1.8h1.1m-.3-1.9h1.1m-.4 .6h1.1m.1 .5h1.1m-.8 1.4h1.1m-.2-1.6h1.1m-1-.6h1.1m.3 .2h1.1m-.4 .7h1.1m-1.1-.6h1.1m-.8 .5h1.1m-1-.9h1.1m1.7 2.2h1.1m-.9-1h1.1m-.3-.2h1.1m-.1-.8h1.1m-1-.3h1.1m-.1 .3h1.1m-.3-.3h1.1m0 .8h1.1m136.6 1.7h1.1m-.6-2.2h1.1m-.9 2.4h1.1m-.7 .1h1.1m-.9-2.5h1.1m-1 .8h1.1m-.9 1.5h1.1m-1-.8h1.1m-1 .4h1.1m-.1 .6h1.1m-1-1h1.1m-.7-1.5h1.1m-1 2.3h1.1m-.8-.1h1.1m-.8 .1h1.1m-.9-1.9h1.1m-1-.7h1.1m-.7 .1h1.1m-1.1 1h1.1m-.9-.6h1.1m-1 1.6h1.1m-1.1-.3h1.1m-1.1-.1h1.1m-1.1-.5h1.1m-1.1 1.2h1.1m-.8-2.2h1.1m-1.1 2.3h1.1m-.8-1.5h1.1m-.5 .2h1.1m-.9-1.2h1.1m-1 .1h1.1m-1 1.7h1.1m-1.1-1.4h1.1m-.3 1.2h1.1m-.7-1.5h1.1m-1.1 1.1h1.1m-.9 1.7h1.1m-1-2.8h1.1m-.7 .3h1.1m-1.1 .6h1.1m-.8-.4h1.1m-.7 1.8h1.1m-.9-2.4h1.1m-.8 .3h1.1m-.9 .5h1.1m-.9-.3h1.1m-1.1 2.2h1.1m-.9-.3h1.1m-.6-1h1.1m-.9 .6h1.1m-.6-.7h1.1m1.7 .2h1.1m.1 .7h1.1m.3-1.8h1.1m147.2 2h1.1m5.2-1.1h1.1m1.1 1.4h1.1m-.6-.9h1.1m2.3-.5h1.1m-.9 .9h1.1m-338.3 3.5h1.1m.9-1.4h1.1m2.3 .9h1.1m-.2-.6h1.1m-.1-1.1h1.1m1.2 1.2h1.1m.8-1.8h1.1m.2 2.7h1.1m-.5-.8h1.1m4.3-1.2h1.1m138 1.1h1.1m1.9-.7h1.1m-1-.5h1.1m-.6 2h1.1m-1-1.7h1.1m-1-.8h1.1m-.9 1.7h1.1m-1-.3h1.1m.4 1.2h1.1m-.6-2.2h1.1m-.8 .7h1.1m.4 1.2h1.1m-.9-2.1h1.1m-.6 1h1.1m-1.1 .7h1.1m-1-1.5h1.1m-.9 .5h1.1m-1 1h1.1m-1-.4h1.1m.7-.5h1.1m-.2-.8h1.1m-1 2.2h1.1m-1-2.2h1.1m-.7 2.6h1.1m2.1-2.5h1.1m150.5 .6h1.1m8.4 .6h1.1m-.5-.2h1.1m-1 1.6h1.1m-335.6 2.9h1.1m-.8-.7h1.1m-.7-.9h1.1m.2-.1h1.1m.7 .4h1.1m.6-.4h1.1m.1-1.1h1.1m-.5 2.6h1.1m-.3-.8h1.1m.8-.5h1.1m-.7-.2h1.1m-.4 .5h1.1m145-1.5h1.1m1.1 .2h1.1m-.9-.1h1.1m-.7 .9h1.1m0 .8h1.1m-.8 .4h1.1m-.9-1.7h1.1m-.5-.4h1.1m-.3 2.6h1.1m-1 0h1.1m-.8-2.5h1.1m-1.1-.1h1.1m-.3 1.7h1.1m-1-.2h1.1m-.8-.1h1.1m-.8 .3h1.1m-.6 .8h1.1m-1.1-2.4h1.1m-.8 1.3h1.1m-.9 .5h1.1m.9-1.7h1.1m-.7 1.6h1.1m-1.1-1.2h1.1m.5-.9h1.1m-.7 .2h1.1m-1.1 1.1h1.1m.3 1.3h1.1m4.2-.7h1.1m149.9 .3h1.1m.5 .7h1.1m-1-.6h1.1m0-1.3h1.1m-.5 1.5h1.1m-1-1.9h1.1m-.8 1.3h1.1m3.9 .9h1.1m-338.7 .7h1.1m-.3 .8h1.1m1 .9h1.1m-.6-2h1.1m.4 2.6h1.1m-.8-1h1.1m-.2-.5h1.1m-.1 1.2h1.1m-.1-2.3h1.1m-.9 1.5h1.1m.5 .5h1.1m-1-1.1h1.1m-.8 .5h1.1m5.8 .1h1.1m140.2-1.6h1.1m-.7 1h1.1m-1 .2h1.1m.3-.2h1.1m.3 1.8h1.1m-.9-.1h1.1m-.8 .2h1.1m-1-2h1.1m-.9 1h1.1m-.8-1.1h1.1m-.4 0h1.1m-.9 .5h1.1m-1-.9h1.1m-.9 1.5h1.1m-1-.5h1.1m-.8 1.2h1.1m.5-1.2h1.1m-.9 .3h1.1m-.3 .1h1.1m-.4 .7h1.1m-1-.3h1.1m-.8-1.9h1.1m1.9 2.5h1.1m1.3 0h1.1m152.3-2.2h1.1m-1 .5h1.1m-.7 1.2h1.1m-1-2.1h1.1m-1 1.7h1.1m-.4-.3h1.1m-.2-.3h1.1m-.9 .9h1.1m-.7-1.3h1.1m.2 1h1.1m-.1-.5h1.1m-.7-.6h1.1m-.8 .3h1.1m-1 .2h1.1m.4 1.5h1.1m-.2-1.2h1.1m-338.4 3.1h1.1m.7 .7h1.1m-.9-2h1.1m-.8 1h1.1m.6 1.5h1.1m.4 0h1.1m.1-.8h1.1m-.9-2.2h1.1m-1 1.3h1.1m2.1-1h1.1m-.8 .6h1.1m-.7 .2h1.1m-.4 .7h1.1m1 1h1.1m1.4-2.4h1.1m142.5 .9h1.1m.4-.3h1.1m.1 1.5h1.1m.4-.4h1.1m-.8 .3h1.1m-1-.9h1.1m-.9 0h1.1m-.9-1h1.1m-.4 1.4h1.1m-.2-.4h1.1m1.4-.8h1.1m-.8 .2h1.1m-1-.7h1.1m-.9 2.3h1.1m-.5-.7h1.1m.5-1.5h1.1m-.7 1.2h1.1m2 .1h1.1m2.7 1h1.1m147.2-1h1.1m1.7 1.4h1.1m-.2-1.7h1.1m-.9 1.6h1.1m-1-1.1h1.1m-.2-.6h1.1m-.9-1h1.1m-.9 1.9h1.1m4-.5h1.1m1.8-1h1.1m-343.5 4.1h1.1m.9-1.3h1.1m1.9 1.2h1.1m-.3 .4h1.1m.1-.3h1.1m.6-1.2h1.1m-.7 .1h1.1m-.7 1.5h1.1m-1-.9h1.1m-.9 0h1.1m-.9-.3h1.1m-.8 .2h1.1m.7-.7h1.1m.7 .2h1.1m-.7 2.3h1.1m-.2-2.6h1.1m-.2 .2h1.1m-.9 1.9h1.1m-.2-1.7h1.1m-1 .8h1.1m-.9-.5h1.1m.1 .1h1.1m143.8-1.1h1.1m.4 1.7h1.1m-1-1.4h1.1m-.9 .1h1.1m-.7 1.7h1.1m-.7 .1h1.1m-.9-1.8h1.1m-.7 .2h1.1m-1 .7h1.1m-1.1-.5h1.1m-.9 0h1.1m-.6 1.4h1.1m-1 .6h1.1m-1.1 .2h1.1m-.9-1.8h1.1m-.8 .1h1.1m-.7-.1h1.1m-.9 .5h1.1m-1.1 .4h1.1m-1.1-2h1.1m-1 1.3h1.1m-.9-.8h1.1m-.1-.5h1.1m-.9 2.8h1.1m-.1-1.9h1.1m-.9 .8h1.1m-.8 .8h1.1m-1.1 0h1.1m1.5-.7h1.1m1.6-.1h1.1m150.4 1.2h1.1m-1.1-1.9h1.1m.1-.5h1.1m-.6-.1h1.1m-1.1 2.5h1.1m-.6-1.7h1.1m1.6-.4h1.1m-.6 1.4h1.1m-.6-.9h1.1m-.6 1.5h1.1m-1-2.9h1.1m-.8 .3h1.1m-.8 .3h1.1m-.2 .9h1.1m-1-1.1h1.1m-.3 1.6h1.1m-.8-.1h1.1m.1-.9h1.1m-.5 1.2h1.1m-.5-.7h1.1m.1 1.2h1.1m-341.7 3.3h1.1m-.4-.3h1.1m-.5-2.1h1.1m.4 .9h1.1m-1.1 .6h1.1m1.9-1.3h1.1m-.8 1.5h1.1m-1.1-.3h1.1m2.4 .5h1.1m-.9 .4h1.1m0-.6h1.1m-1 .2h1.1m-1.1-.5h1.1m-.5 0h1.1m-.6 .7h1.1m-.8-.4h1.1m-1.1-1.8h1.1m1.3 2h1.1m-.3 .1h1.1m144.2-1.7h1.1m-.9 1.4h1.1m-1-1.6h1.1m-.3 .3h1.1m-.9 1.1h1.1m-1.1 0h1.1m-1-1h1.1m-.8 .3h1.1m-.6 .4h1.1m.5 .7h1.1m-.5-2h1.1m.1 1.8h1.1m-1.1-2h1.1m-1 2.1h1.1m-.1-1.5h1.1m0-.3h1.1m-.2 2.1h1.1m-.7-1.8h1.1m-.5-.8h1.1m-1.1 2.3h1.1m-1 .2h1.1m-.7-.5h1.1m-.2-.3h1.1m-1-.2h1.1m-.6 0h1.1m-.9-.2h1.1m-.7 0h1.1m155.2 1.2h1.1m-.4-1.2h1.1m-.7-1.4h1.1m-.9 1.1h1.1m-.1 1.8h1.1m-.9-.8h1.1m-.8-.7h1.1m-.7 1.1h1.1m-.9-1.1h1.1m-.3-1.1h1.1m-1 1.4h1.1m-1 .1h1.1m-.8 .9h1.1m-.7-.5h1.1m-1 .3h1.1m-.4-1.5h1.1m.4-.3h1.1m-.7-.4h1.1m-.9 2.4h1.1m-.9-.6h1.1m-.8-.8h1.1m-.9-.3h1.1m1.5 1h1.1m-.2-.8h1.1m-341.7 4.8h1.1m.3-1.2h1.1m-1.1 .8h1.1m-.4-.2h1.1m-.9 .6h1.1m1.1-.9h1.1m-.9-.9h1.1m-1 1.6h1.1m2-2.5h1.1m-.7 2.6h1.1m.5-2.4h1.1m-.9 2.4h1.1m-.6-2.4h1.1m-.5 1.6h1.1m-1.1 .8h1.1m.7-1.6h1.1m-.5 1.1h1.1m-.8-1.7h1.1m-.9 2.2h1.1m3.5 0h1.1m139.2-1.9h1.1m-.6-.7h1.1m-.9 1h1.1m.5 1h1.1m-.6-1.4h1.1m-1.1-.6h1.1m-1.1 1.5h1.1m-.7 .6h1.1m0 .2h1.1m-1-.3h1.1m-.8-1.9h1.1m-.8 1.4h1.1m-.4-1.4h1.1m-.4 1.6h1.1m-.3 .9h1.1m-1-2.7h1.1m-1 1.7h1.1m-.9-1.5h1.1m-.4 1h1.1m-1.1-.1h1.1m-1-.4h1.1m-1.1-.4h1.1m-1 1.8h1.1m-1-1.4h1.1m-.8 0h1.1m-1.1 .4h1.1m-.6 .8h1.1m-.6-1.8h1.1m-.8 .6h1.1m-.7 .9h1.1m.6-.6h1.1m-.2 1h1.1m-.3-.4h1.1m.7-.7h1.1m150.5 1.2h1.1m-.4-1.4h1.1m-.7 1h1.1m1 .2h1.1m-.6-2h1.1m-.7 2.7h1.1m-.3-.2h1.1m-.7-2.5h1.1m-.8 1.8h1.1m-1 1h1.1m-.8-.8h1.1m-1.1-1.1h1.1m-.4 1.6h1.1m-.1-1.8h1.1m-.6 .4h1.1m-1-.4h1.1m-1 .1h1.1m-.5 1.7h1.1m-1-1.8h1.1m-.5 .7h1.1m-.2 1.4h1.1m-.6-1.9h1.1m.4 1h1.1m.4 .6h1.1m-340.7 .5h1.1m-.1 1.3h1.1m0-1h1.1m-.2 .9h1.1m.9-1.3h1.1m-.2 .9h1.1m.9 1.6h1.1m.1-.1h1.1m-.8-.7h1.1m1.1-1.2h1.1m-1 1.4h1.1m4.1-1.7h1.1m139.7 2.7h1.1m-.9-2.5h1.1m.1 2.4h1.1m.8-2.4h1.1m-1.1 1.1h1.1m-.7-1.2h1.1m-1 .3h1.1m-1.1 .1h1.1m-.7 .3h1.1m-1 1h1.1m-.6 .5h1.1m.4-.3h1.1m-1-1.9h1.1m-1.1 1.3h1.1m-1-.2h1.1m-.8-1.1h1.1m-.9 .2h1.1m-.2-.4h1.1m-1 .1h1.1m-.8 1.1h1.1m-.3 .6h1.1m-.9-1.6h1.1m-.9 .2h1.1m1.5 2.4h1.1m-1-1.6h1.1m-.4 .9h1.1m1.7-1.6h1.1m152.1 .7h1.1m-.8 .2h1.1m.3 .5h1.1m-.9-1.6h1.1m-.8 2h1.1m-1.1-1.8h1.1m-1-.5h1.1m-1 1h1.1m-.6-.1h1.1m-1.1 1.2h1.1m-1 .8h1.1m-.6-.9h1.1m-1-.1h1.1m.5-1.5h1.1m-.5 .7h1.1m-.7 1.3h1.1m-1.1-1.1h1.1m-.6 1.2h1.1m-.8-2.4h1.1m-.7 1h1.1m-1.1 .6h1.1m1.3 .3h1.1m.1-.2h1.1m-.4 .6h1.1m-.1-.4h1.1m-339 3.2h1.1m0 .1h1.1m-1.1-.2h1.1m-1 .6h1.1m-.9-.5h1.1m-.5-.8h1.1m-.7-.9h1.1m.5 1.5h1.1m.8-.9h1.1m2.4 1.8h1.1m-.7-2.2h1.1m.3 .3h1.1m-.6 .1h1.1m-1.1 .1h1.1m-.3 1.1h1.1m-.5-.5h1.1m141.8-1.3h1.1m.4 .7h1.1m-.3 1.5h1.1m-1-1.9h1.1m-.6 1.9h1.1m-.9-1h1.1m.3-.6h1.1m-.8 1.3h1.1m-.8-.6h1.1m-1.1-.5h1.1m-.7-.1h1.1m-1 1h1.1m-.9 .4h1.1m-.1-2h1.1m-.7 1.5h1.1m-1 .7h1.1m-.8-1.7h1.1m-1-.1h1.1m-1.1 .6h1.1m-1 1h1.1m-1-1.5h1.1m-.3 .3h1.1m-1-.7h1.1m-.8-.3h1.1m-.9 .1h1.1m-1.1 .8h1.1m-.8 1h1.1m-.9-1h1.1m-1.1 1h1.1m-.2-.2h1.1m-1.1 .7h1.1m-.8-1.6h1.1m-.9-.3h1.1m-.8 .4h1.1m-1.1 .4h1.1m-.9 1h1.1m-.8-.5h1.1m-.7 0h1.1m-1 .1h1.1m-1-2.2h1.1m-.3 1.2h1.1m-.5-1.3h1.1m.9 2.6h1.1m-.9-1.8h1.1m150.9 1.7h1.1m-.9-1.3h1.1m-.4 1.4h1.1m-1.1-.6h1.1m-1.1-1.3h1.1m-.3-.2h1.1m-.8 1h1.1m-1-1.5h1.1m-.3 .1h1.1m.1 .3h1.1m-1.1 1.4h1.1m-1 .3h1.1m-.9 .4h1.1m-.5-2h1.1m.2 1h1.1m-1 1.3h1.1m0-.3h1.1m-.8-.7h1.1m-.8-.8h1.1m-.9 .6h1.1m-.9-1.5h1.1m-.6-.1h1.1m-.5 .3h1.1m-1 .8h1.1m-.7-.6h1.1m-.8 1.5h1.1m-1-.1h1.1m-1 .9h1.1m-.5-.8h1.1m-.5 .1h1.1m-340.5 .9h1.1m.1 1.8h1.1m.1-1.4h1.1m-.8 .9h1.1m.3-.1h1.1m-.7 .9h1.1m-.2-.1h1.1m-.2 .1h1.1m-.6-2h1.1m-.7 1.2h1.1m-.5-.8h1.1m-.2-.3h1.1m-1.1 1.8h1.1m.4-1.4h1.1m-.1 .3h1.1m-.8 1.4h1.1m-.9-2h1.1m-.9 .5h1.1m-.8-.5h1.1m-.7 2.3h1.1m-.8-2.1h1.1m-.6-.5h1.1m3.9 1.9h1.1m140.7 .2h1.1m0-.6h1.1m-.9-.1h1.1m-.9 .8h1.1m-1-.3h1.1m-.9-1.1h1.1m.2 .2h1.1m-1 1.8h1.1m-.8-1.5h1.1m-.7-.1h1.1m-.4 .2h1.1m-1 .2h1.1m-.6 .7h1.1m-.9-1.3h1.1m-1 1.5h1.1m-.5-.4h1.1m-1.1-.7h1.1m-.6 .2h1.1m-.4-1.5h1.1m-1.1 .1h1.1m.5 .3h1.1m-.6 .6h1.1m-.5 0h1.1m-1.1 .3h1.1m-.9 .6h1.1m-1 0h1.1m-1 .7h1.1m-.5-2.7h1.1m0 2h1.1m-.7 0h1.1m1 .1h1.1m151.9-.6h1.1m-.1 .5h1.1m-.9-1.7h1.1m-.2 .1h1.1m-.2 2.3h1.1m-.8 .1h1.1m-1.1-.6h1.1m-.4-2.2h1.1m-.7 1.8h1.1m-.7 .7h1.1m-1-2.5h1.1m-.4 .9h1.1m-.6-.2h1.1m-1.1-.6h1.1m-.3 .6h1.1m-.8-.5h1.1m-.2 .3h1.1m-1 1.7h1.1m-.7 .4h1.1m-.7-2.7h1.1m-.7 2.1h1.1m-1-.5h1.1m.2 .8h1.1m-1-1.1h1.1m-.7 1.3h1.1m-.9-1.5h1.1m.1-.1h1.1m-.3-.2h1.1m-.7 1.3h1.1m-340.4 2.8h1.1m1.6-1.7h1.1m.1 2.3h1.1m-.9-.8h1.1m-.1-.2h1.1m.3-1.2h1.1m-.2 1.2h1.1m.2 1.5h1.1m-.7-1.8h1.1m-1 .2h1.1m1.4-.1h1.1m.2-.6h1.1m-.9 .6h1.1m144.4 1.4h1.1m-.5-1.5h1.1m-.7 1.5h1.1m-.2-2.4h1.1m-.9 2.5h1.1m-.6-.9h1.1m-1 .1h1.1m-.3 .1h1.1m-.7 .3h1.1m-.8-.2h1.1m-.6 .5h1.1m-.1-.3h1.1m-.8-.2h1.1m-.6-1.8h1.1m-.9 .6h1.1m-.4-.2h1.1m-.7 .5h1.1m-.7 .7h1.1m-1.1 .2h1.1m-.9-2.1h1.1m1 2.7h1.1m-1-2.6h1.1m-.5 1.8h1.1m.1-1.6h1.1m.6-.1h1.1m152.7 .2h1.1m-.5-.4h1.1m-.7 1.4h1.1m-.9 1h1.1m-.7-1.3h1.1m-.6-.3h1.1m0-.3h1.1m-1.1-.5h1.1m-.3 2.8h1.1m0-2.9h1.1m-1 .4h1.1m-.8 2.4h1.1m-.8-1.9h1.1m-1 1.6h1.1m-1.1-2.4h1.1m-1 2.6h1.1m-1 0h1.1m-1-1.5h1.1m-.7 1.4h1.1m-.5-1.8h1.1m-.5-.8h1.1m-.7 2.3h1.1m-.8-2.1h1.1m-.8 .8h1.1m-1 1h1.1m-.7-1.6h1.1m-1 .8h1.1m-1.1 .6h1.1m-.8 0h1.1m-.9-.9h1.1m-.6 1.2h1.1m-1-.7h1.1m-.3-.2h1.1m-.9 .6h1.1m-342.1 3.2h1.1m-.9-1.8h1.1m1.3 2.1h1.1m0-.5h1.1m-.3-1.6h1.1m-.5 0h1.1m-.9 2.3h1.1m-1-2.4h1.1m-.7 1.4h1.1m-.5-.7h1.1m-.1 1.8h1.1m-.9-2h1.1m.1 .6h1.1m0 1h1.1m-1 .7h1.1m0-1.5h1.1m-.9-1.2h1.1m-.6-.1h1.1m.1 2.7h1.1m3.8-1h1.1m-.7-1.3h1.1m-.2 1.8h1.1m-.2-.6h1.1m139.2-.5h1.1m1.1 1.2h1.1m-.8 .5h1.1m-.6-1.3h1.1m-1 1.4h1.1m-1.1-.6h1.1m-1.1 .4h1.1m-.7-2.7h1.1m-.7 2.6h1.1m-1-1.3h1.1m-.7-1h1.1m-.8-.2h1.1m-1 2.7h1.1m-1.1-2.6h1.1m-.7 .3h1.1m-.9-.5h1.1m-1.1 .1h1.1m-1.1 .3h1.1m-.4 1.3h1.1m.1-1.3h1.1m-.7 1.4h1.1m-.7 .5h1.1m-.1-1.7h1.1m-.4 .3h1.1m-1-.1h1.1m-.3 1.1h1.1m-.8 0h1.1m-1-2h1.1m-.9 2.7h1.1m-.3-1.3h1.1m-1.1 1.1h1.1m0-.5h1.1m153.9-.2h1.1m.9-1.4h1.1m-1 .5h1.1m-.2 .9h1.1m-1.1-.1h1.1m-.8 .8h1.1m-1-1.9h1.1m-.8 .9h1.1m-1 0h1.1m-1 .4h1.1m-1-1.4h1.1m-1 0h1.1m-1.1-.3h1.1m-1 2.7h1.1m-.7-2.1h1.1m-1.1 1.8h1.1m-.9-1.1h1.1m-.6 0h1.1m-.3-.3h1.1m-1 1.7h1.1m-.8-1h1.1m-.7 .6h1.1m-1-1.7h1.1m-.7 .3h1.1m-.9 .9h1.1m-.6-1h1.1m-1-.8h1.1m-.1 1.6h1.1m-.7 1h1.1m0 .1h1.1m-1.1-1h1.1m1.2-.5h1.1m-.8 1.5h1.1m-1-2.6h1.1m.3 .6h1.1m-343.3 4.5h1.1m-.9 0h1.1m-1-.9h1.1m-.2 1.3h1.1m-.4-1.2h1.1m.3 .1h1.1m2.6-1.4h1.1m-.9 0h1.1m.9 .2h1.1m.2 .6h1.1m.6 1.9h1.1m-.5-2.1h1.1m-1.1 2.1h1.1m-.7-.9h1.1m-.2-.2h1.1m.8 .6h1.1m-.9-1.1h1.1m2.2 1.1h1.1m140-.1h1.1m-.4 .1h1.1m-1.1-.1h1.1m-.8-1h1.1m-.8 .5h1.1m-.8-.3h1.1m-.5 .8h1.1m-1-.8h1.1m-1.1-.1h1.1m-1-1.4h1.1m-.5 2.8h1.1m-1-2.1h1.1m-1 .3h1.1m-.9-.8h1.1m-1 2.1h1.1m-.8 .6h1.1m-.1-2.2h1.1m-.7-.4h1.1m-.8 .1h1.1m-.7-.5h1.1m-.9 .2h1.1m-.5 .4h1.1m-.9 1.7h1.1m-.9-1h1.1m-1 .4h1.1m-.1 1h1.1m-.6-.1h1.1m-.7-2.4h1.1m-.9 2.5h1.1m-.8-1.5h1.1m-1 1.5h1.1m-.8 .3h1.1m2-1.3h1.1m-1 .9h1.1m-.4-1.5h1.1m-.4 .1h1.1m150.8-.1h1.1m-.9-.6h1.1m-.7-.1h1.1m.5 1h1.1m-.6 1.4h1.1m-.2-.6h1.1m-1-1.9h1.1m-.9 0h1.1m-1-.2h1.1m-.9 2.6h1.1m.2-.9h1.1m-1.1-1.6h1.1m-.9 .7h1.1m-.9-.1h1.1m-1.1-.1h1.1m-.9 1.7h1.1m-.7 0h1.1m-1-.3h1.1m-.8-1h1.1m-.7-.3h1.1m-.9 1.8h1.1m-1-.2h1.1m-1-1.8h1.1m-.2-.3h1.1m-1 .2h1.1m-.9 .5h1.1m1 .1h1.1m-.6 1.8h1.1m-.5-.6h1.1m-.3-.7h1.1m-.8-.1h1.1m-.7-1h1.1m-.5 2.4h1.1m-.1-.5h1.1m-.9 .5h1.1m-342.3 2.3h1.1m-.7-.7h1.1m2.3 .9h1.1m0-1h1.1m1.2 1.3h1.1m-.2-1h1.1m-.8-.5h1.1m-1 1.1h1.1m-.8-2h1.1m2.2 1.1h1.1m-.1 1.5h1.1m-.5-.4h1.1m-.9 0h1.1m.1-1.3h1.1m-.5 .1h1.1m-.3-.8h1.1m-.3 .4h1.1m-.8 1h1.1m-.6-.6h1.1m138.8-.4h1.1m.4 1.9h1.1m-.9-2.6h1.1m-1.1 .7h1.1m-1 .6h1.1m-.5-.5h1.1m-.7 1.8h1.1m-.3-1.9h1.1m-.9-.1h1.1m-.6 .6h1.1m0-.1h1.1m-.9 1h1.1m-.8-1.2h1.1m-1 1.4h1.1m-1-2.4h1.1m-.8 1.1h1.1m-.9 .2h1.1m-.7-.2h1.1m-1-.7h1.1m-.4-.1h1.1m-.6 .4h1.1m-1 1.4h1.1m-.9-1.4h1.1m-.7 .4h1.1m.3 .9h1.1m0 .8h1.1m1.6-2h1.1m-.1 .7h1.1m151.3-.3h1.1m-.5-.7h1.1m-.9 1.8h1.1m-.8 .2h1.1m-.9 .3h1.1m.3-2.7h1.1m-.8 1.4h1.1m-.8 .2h1.1m-.5 .3h1.1m-.7 .6h1.1m-1.1-2h1.1m-.8 .1h1.1m-.5 .2h1.1m-1 .6h1.1m-.9-1.4h1.1m-.9 2h1.1m-1.1 .3h1.1m-.9 .3h1.1m-1.1-1.9h1.1m-.9 1.7h1.1m-1-.8h1.1m-.9 .3h1.1m-.8 .7h1.1m-1-1.7h1.1m-.6 1.2h1.1m-.8 .2h1.1m-.7-2.1h1.1m-1 2.1h1.1m-.9-2.3h1.1m-.7 1.6h1.1m-.8 .1h1.1m-1-.2h1.1m-.8 1h1.1m-.9-.3h1.1m-.5 0h1.1m-.9-2.1h1.1m-1 1.3h1.1m-.5-.1h1.1m-.8-.3h1.1m-.6 1.3h1.1m-.9-1.7h1.1m-.7-.2h1.1m-.7 1.6h1.1m.8-.1h1.1m.2 .1h1.1m-342.7 2.8h1.1m-.7-1.2h1.1m-1-.4h1.1m-.7 .9h1.1m0-.8h1.1m-.1-.3h1.1m-1 2.4h1.1m-.3-.3h1.1m.1-1.9h1.1m-.6 .5h1.1m-1-.1h1.1m-.5 .5h1.1m-1 .6h1.1m-.4-.5h1.1m-1.1 .4h1.1m.7-.3h1.1m-.7-.9h1.1m-1 2.2h1.1m0-2.8h1.1m-.1 2.8h1.1m.5 .1h1.1m-.5-2.1h1.1m-.9 2h1.1m-.9-2.1h1.1m143.2 .7h1.1m1.7 .3h1.1m0-1h1.1m-.8-.4h1.1m-.9-.2h1.1m-.4 .2h1.1m-.7 0h1.1m-1 2.2h1.1m-.7-2.3h1.1m-.2 1.7h1.1m-1.1 1h1.1m-.8-1.4h1.1m-.7-.6h1.1m-.6 .6h1.1m-.8-1.4h1.1m-.2 2.5h1.1m0 0h1.1m-1 .4h1.1m-.7-2.2h1.1m1 0h1.1m.2-.2h1.1m1.7 1.8h1.1m149.4 .1h1.1m.5 0h1.1m-.2-1.5h1.1m-.9 1.7h1.1m-.2-.8h1.1m-.4-1.9h1.1m-.9 .6h1.1m-.6 2.1h1.1m-.8-2.2h1.1m-.7 0h1.1m-1 .2h1.1m-.6 1.1h1.1m-.9-1.6h1.1m-.5 .7h1.1m-.4 .8h1.1m-1-1h1.1m-1.1-.1h1.1m-.8 .3h1.1m-1.1 1.5h1.1m-.7-.6h1.1m-.6-.2h1.1m-.5-.8h1.1m-.8 1.5h1.1m-.6-1.7h1.1m-.9 .7h1.1m-.1 .7h1.1m-.4-.5h1.1m-341.5 2.8h1.1m-.3-.8h1.1m-1.1 .7h1.1m-1 1.2h1.1m1-1.4h1.1m.4 1.2h1.1m-.8-.1h1.1m-.4-.8h1.1m.1 .9h1.1m.4-1.6h1.1m-.5 .4h1.1m-.3 .2h1.1m-1-.8h1.1m-.9 1.4h1.1m-.3 .3h1.1m-.1-1.6h1.1m4.6 0h1.1m-.8 .5h1.1m144.3-.9h1.1m-.6 0h1.1m-.7 .6h1.1m-.8-.1h1.1m-.9 .1h1.1m-.5 2.1h1.1m-.7 .1h1.1m-.9-.8h1.1m-1.1-.7h1.1m-.6-.6h1.1m-1 0h1.1m-1.1 .9h1.1m-1 .3h1.1m-1 .7h1.1m-1 .1h1.1m-1-1.1h1.1m-1-.8h1.1m-.6-.1h1.1m-1 2.1h1.1m-.2-2.8h1.1m-1 .6h1.1m-.5 2.2h1.1m-.1-1.3h1.1m-.9-.4h1.1m1.3 1.3h1.1m1.1-2.4h1.1m152.1 2h1.1m-.5-1.2h1.1m2.8 .5h1.1m-.9-.1h1.1m-.8 .1h1.1m-.9 0h1.1m-.3 .8h1.1m-.7-.4h1.1m-.6-1.4h1.1m-.6 0h1.1m-.7 2.6h1.1m-.1-2.8h1.1m.4 1.4h1.1m-.5 1.3h1.1m.9-1.1h1.1m1 .9h1.1m-1.1-1.5h1.1m-343.2 2.6h1.1m5.6 2h1.1m-1-2.4h1.1m-1 2.3h1.1m-.5-.5h1.1m.1 .2h1.1m-.6-1.6h1.1m-.7 .8h1.1m-.8-.7h1.1m-.9 1.1h1.1m-1.1 .1h1.1m.5 .7h1.1m.1-.8h1.1m.9-1.4h1.1m2.5 1.4h1.1m138.8-1.8h1.1m-.8-.1h1.1m-.8 .4h1.1m-.6 .5h1.1m.2 1.8h1.1m-.9-2.2h1.1m.1 1h1.1m-.5 1.4h1.1m-1-1.4h1.1m-.8-1.1h1.1m-.6 2.4h1.1m-.8-1.4h1.1m-1 .7h1.1m-.8-.2h1.1m-.9 .8h1.1m-.7-1.5h1.1m-.7-.1h1.1m-.8-.2h1.1m-.2 1.6h1.1m-.4-2.2h1.1m-.7 2.3h1.1m-.5-1.8h1.1m1.5-.2h1.1m3-.7h1.1m-.8 .2h1.1m.4 1.2h1.1m150.1-1.3h1.1m1.5 2.1h1.1m-1.1-1.2h1.1m-1.1 1.8h1.1m-.5-1.6h1.1m-.3 .1h1.1m-.6 1.4h1.1m.3-.2h1.1m-1.1-2.2h1.1m-.4 2.1h1.1m-.2-.3h1.1m-.6 .3h1.1m4.1-.1h1.1m-.6 .5h1.1m-338.2 2.3h1.1m-.1-1.3h1.1m-.4 .9h1.1m-.5 .2h1.1m-.8 0h1.1m1.1 0h1.1m2 .2h1.1m1.5-1h1.1m144.1 1.9h1.1m-.1-2.9h1.1m.2 .7h1.1m-.8 1.1h1.1m-.8-.3h1.1m-.7 1.2h1.1m-.5-1.9h1.1m-.3 .2h1.1m-1 1.5h1.1m-.7-1.9h1.1m-1 .3h1.1m-.7 1.2h1.1m-1.1-1.7h1.1m-1 1.4h1.1m-1.1-.5h1.1m-.6-1.4h1.1m-1 1.8h1.1m-.8-1.4h1.1m-1 0h1.1m-1.1 2.4h1.1m.2-.8h1.1m-.7-.8h1.1m-.8 .5h1.1m.3-1.3h1.1m-.2 1.5h1.1m157.3 1.1h1.1m-.8-2.2h1.1m-.9 .1h1.1m1 1.9h1.1m-.7-.2h1.1m-.4-1.7h1.1m-.2 .4h1.1m-.4-.2h1.1m-1 1.7h1.1m-.9-1.4h1.1m-.8 .8h1.1m-.6-.6h1.1m-1 1.3h1.1m-.8-2.8h1.1m-.7 2.9h1.1m-.4-1.8h1.1m1.7-.7h1.1m1.3 1.6h1.1m-345 1.7h1.1m1-.2h1.1m1.1 .8h1.1m-.5-1h1.1m-.8 1h1.1m-.7 1.6h1.1m.1-2.8h1.1m-.4 1.1h1.1m-.4 1h1.1m-.7-1.1h1.1m.3-1h1.1m1.1 1.2h1.1m.1 1h1.1m-.7-1.8h1.1m.1 1.5h1.1m.5-.8h1.1m141.9-.9h1.1m.7 2.1h1.1m.8-1.7h1.1m-.1 1.3h1.1m-.6-2.1h1.1m-.8 1.4h1.1m-.4 .2h1.1m-.4-1.2h1.1m-.3 2.5h1.1m.6-2.9h1.1m.4 .9h1.1m.2 2h1.1m-.8-.1h1.1m-.1-2.7h1.1m-.9 .3h1.1m1.4 .8h1.1m-.7-.7h1.1m.1 1.3h1.1m151.1-.2h1.1m0 .2h1.1m.5 .5h1.1m.6-1.2h1.1m-.9 .7h1.1m.5-1.5h1.1m.2 1h1.1m.5-.2h1.1m-1-.1h1.1m-.8 1.2h1.1m-.2-1.3h1.1m.2 2h1.1m-1-1.3h1.1m-1-.5h1.1m.5 0h1.1m-339.6 1.9h1.1m3.6 .3h1.1m2.9-.3h1.1m146.5 .3h1.1m6.7-.2h1.1m0-.1h1.1m1.9 .1h1.1m.5 0h1.1m153.6 .1h1.1m-.1 0h1.1m2.2 .2h1.1m-290.4 19h1.1m-16.2 3.5h1.1m7.7 .5h1.1m1.4-1.8h1.1m-9.6 5.3h1.1m.1-1.2h1.1m-.7 .8h1.1m3.4 0h1.1m1.1 .2h1.1m.2 .2h1.1m-.5-1.8h1.1m.3-.3h1.1m-.6 2h1.1m137.9-.8h1.1m2.1-1.9h1.1m5 .8h1.1m0 1.1h1.1m0 .7h1.1m.2 0h1.1m8.2-.8h1.1m-178.9 3.8h1.1m3-2.2h1.1m-.7 1.3h1.1m3.1 .9h1.1m-.4-.6h1.1m-.2 .1h1.1m-.2-1h1.1m-1 1.7h1.1m-.6-.1h1.1m.1-1.1h1.1m3.1-.5h1.1m-.3 1.4h1.1m0 .1h1.1m1.3-.3h1.1m134.4-.4h1.1m-1-.4h1.1m-1 .9h1.1m-.5-1.6h1.1m1 1.8h1.1m-1 .3h1.1m-1-2.1h1.1m-.8 1.1h1.1m-1.1 .5h1.1m-1.1-.9h1.1m.9 1.2h1.1m-.4-1.4h1.1m-1.1 1.2h1.1m-.8-.2h1.1m-.9-1.8h1.1m-.7 .6h1.1m-.4 1h1.1m-1 .7h1.1m.2-.6h1.1m-1-.5h1.1m-1 .4h1.1m-1 .8h1.1m.3-.3h1.1m-.5-1h1.1m.2 1.1h1.1m-.9-.3h1.1m.4-1.7h1.1m.9 1.7h1.1m-.3-.5h1.1m3.6-.2h1.1m-175.9 4.1h1.1m-.8-.9h1.1m.5-.5h1.1m-.8-1h1.1m-.3-.2h1.1m-1 1.9h1.1m-.5 0h1.1m-1 .3h1.1m-1-1.8h1.1m-.1 .1h1.1m.2-.6h1.1m.1 .9h1.1m-.1-.5h1.1m-.3 .5h1.1m-.8-1h1.1m-.6 2.3h1.1m0 .6h1.1m-.9-2.6h1.1m-.7 1.9h1.1m-1 .5h1.1m-.8 0h1.1m-1 0h1.1m-.5-1.8h1.1m-.7 .4h1.1m-.9-.1h1.1m-.1 1.3h1.1m-1-1.1h1.1m.5-.6h1.1m-.9 .8h1.1m-.6-.3h1.1m4.5-1.2h1.1m.3 .3h1.1m120.3 1h1.1m.8-1.1h1.1m-.1 .7h1.1m-.8-.2h1.1m-1 1.2h1.1m.1-.7h1.1m-.4-.2h1.1m-.9 1.7h1.1m-1.1-.5h1.1m-.8-2h1.1m-.5 .6h1.1m-1-.7h1.1m-1.1 1.6h1.1m-.5 .9h1.1m-.5-.4h1.1m-1.1 .4h1.1m-1-1.3h1.1m-.6-1h1.1m-.8 1.2h1.1m-.6-1.3h1.1m-.7 .7h1.1m-1.1 1.8h1.1m-.4-.2h1.1m-.8-2.7h1.1m-1.1 1.6h1.1m-1 .4h1.1m-1.1 .6h1.1m-1-1.1h1.1m-1.1 .5h1.1m-.9-.7h1.1m-1 .7h1.1m-.7-.9h1.1m-.9 .4h1.1m-.9 .5h1.1m-1 .9h1.1m-1.1-.7h1.1m-1 .6h1.1m-1 .1h1.1m-1.1-2.7h1.1m-1.1 2.1h1.1m-.9-.3h1.1m-1-1.9h1.1m-.8 2h1.1m-1-.6h1.1m-1.1 1h1.1m-1.1-2.4h1.1m-.9 1.1h1.1m-1.1-.3h1.1m-1 .8h1.1m-1.1 .8h1.1m-1-1h1.1m-.9-.5h1.1m-1.1-.5h1.1m-1 1.4h1.1m-1.1 .8h1.1m-.5-.5h1.1m-.9 .7h1.1m-.9-.1h1.1m-.9-.7h1.1m-.9-.2h1.1m-.9 .2h1.1m-.9 .3h1.1m-.8 .3h1.1m-1.1-.3h1.1m-1-1h1.1m-1.1-.3h1.1m-1.1-.4h1.1m-.9 2h1.1m-.9-.2h1.1m-.9 .3h1.1m-1.1-.4h1.1m-1 .1h1.1m-1.1 .3h1.1m-1.1-.7h1.1m-1-1.2h1.1m-1.1-.1h1.1m-1 .1h1.1m-1.1-.5h1.1m-1.1 .7h1.1m-1.1-.1h1.1m-.9 .1h1.1m-.8 1h1.1m-1-1.6h1.1m-1.1 .5h1.1m-1.1-.5h1.1m-1.1 1.6h1.1m-.7-.9h1.1m-.9 .1h1.1m-1.1 .6h1.1m-1 .2h1.1m-1-1.1h1.1m-1 1.7h1.1m-.8-.4h1.1m-1 0h1.1m-1.1-.5h1.1m-1.1 .9h1.1m-.9-1.1h1.1m-.5-1.6h1.1m-.9 2.3h1.1m-.9 .6h1.1m-1.1-.2h1.1m-1.1-1.8h1.1m-.8 1.8h1.1m-.6-1.6h1.1m-.2-.5h1.1m-.9 1.7h1.1m-1 .7h1.1m1.2-.1h1.1m2.8-2.6h1.1m-180.3 3.8h1.1m.5 .5h1.1m1.5 1h1.1m.5-2.2h1.1m-.5 0h1.1m-.2 1.8h1.1m-.8-.7h1.1m-.7-.9h1.1m.9-.2h1.1m-1.1 1.4h1.1m-.8-1.6h1.1m-.9 1.9h1.1m-1.1 .9h1.1m-.5-.8h1.1m-.3-1.1h1.1m0 .1h1.1m-1 1.3h1.1m-.6-1.8h1.1m-1 1.7h1.1m-.9-2.3h1.1m-.8 1h1.1m-1.1 .5h1.1m-.5-1.2h1.1m-1 .9h1.1m-.8 1.6h1.1m-.5-.7h1.1m-.3-.4h1.1m-.2 .9h1.1m2.9-1.9h1.1m.3 2.1h1.1m.1-1.1h1.1m-1.1-1h1.1m3.2 2.2h1.1m-.1-2.6h1.1m121.8-.3h1.1m.6 0h1.1m-.4 1.3h1.1m-.3 1.5h1.1m-.3-1.3h1.1m.1-.7h1.1m-.9 .3h1.1m-.7 .2h1.1m-1-.8h1.1m-1.1 2.4h1.1m-1-3h1.1m-.6 .3h1.1m-1.1 .4h1.1m-.8-.4h1.1m-1 .4h1.1m-1 .6h1.1m-.9-.3h1.1m-.9-.4h1.1m-1 .4h1.1m-1 .4h1.1m-1 1.4h1.1m-.9-1.3h1.1m-1 0h1.1m-.8 1.4h1.1m-1-1.8h1.1m-1 .4h1.1m-1-.8h1.1m-1.1 2h1.1m-1 .2h1.1m-1-1.7h1.1m-1.1 1.4h1.1m-1-.4h1.1m-1-.6h1.1m-.9 .3h1.1m-.9-.6h1.1m-1 .2h1.1m-1.1 1.3h1.1m-.8-.6h1.1m-1-1.6h1.1m-1 .2h1.1m-1.1 .5h1.1m-1 1.3h1.1m-.8-1.8h1.1m-1.1 .2h1.1m-1-.3h1.1m-.9 .2h1.1m-1 2h1.1m-1.1-2.2h1.1m-.8-.4h1.1m-.9 1.1h1.1m-1.1 .7h1.1m-1-1.5h1.1m-1 .9h1.1m-1.1 1.3h1.1m-1-1.9h1.1m-.9 .5h1.1m-1 1.1h1.1m-1.1-.4h1.1m-1 .3h1.1m-.9-1h1.1m-1 .4h1.1m-1 1.2h1.1m-.8-1.2h1.1m-1.1 .1h1.1m-.7 .8h1.1m-1 0h1.1m-1.1-2.1h1.1m-1 1.1h1.1m-1-1h1.1m-1.1-.2h1.1m-1.1 .7h1.1m-1 .3h1.1m-1 1.4h1.1m-1-1.3h1.1m-1-1h1.1m-1.1 .5h1.1m-1-.9h1.1m-1.1 .2h1.1m-1 1.2h1.1m-1-1.5h1.1m-1.1 2.2h1.1m-1.1-1.1h1.1m-.8 .2h1.1m-1.1 .7h1.1m-1.1-1.8h1.1m-.9 .9h1.1m-1 .9h1.1m-1-1.8h1.1m-1 1.6h1.1m-1.1-1.3h1.1m-1 1.6h1.1m-1-.4h1.1m-.8-.4h1.1m-1.1 .2h1.1m-1 1h1.1m-1-1.9h1.1m-.9 1.6h1.1m-1.1 .2h1.1m-.9-.2h1.1m-1.1-1.2h1.1m-.7 .7h1.1m-1 1h1.1m-1.1-.7h1.1m-.9-.3h1.1m-1-.5h1.1m-1-.7h1.1m-1 .1h1.1m-1-.5h1.1m-1 1.5h1.1m-1.1 .2h1.1m-1-1.2h1.1m-.9 1.6h1.1m-1-.7h1.1m-.9 .3h1.1m-1.1-.3h1.1m-.9 1.3h1.1m-.9-1.5h1.1m-1.1 .7h1.1m-.9 .4h1.1m-1 .3h1.1m-.9 0h1.1m-1.1-1.2h1.1m-1 .6h1.1m-1.1 .6h1.1m-1-2.2h1.1m-1.1 1.8h1.1m-.6-2h1.1m-.8-.4h1.1m-1 1.9h1.1m-1 .6h1.1m-.7-.2h1.1m-1-.4h1.1m-1-1.3h1.1m-.6 .3h1.1m-.9 2.1h1.1m-.9-1h1.1m-.8-.2h1.1m-.9-.8h1.1m-1.1 1.9h1.1m-1-1.7h1.1m.9 1.7h1.1m-170.5 1.3h1.1m1.7 1.4h1.1m.5-.6h1.1m0-.7h1.1m-.8-.7h1.1m.2 .3h1.1m-1.1 2.1h1.1m-1.1-1.3h1.1m-.5 .9h1.1m-.8-.1h1.1m1.4-.1h1.1m-.3-1.5h1.1m-.8-.7h1.1m1 .2h1.1m-.4 2.1h1.1m.9-1.2h1.1m-.8-.2h1.1m127.5-.7h1.1m.4 0h1.1m.8 .5h1.1m.3 1h1.1m-.6 .1h1.1m-.2-1h1.1m-1 .4h1.1m-.6-.8h1.1m-.7 .8h1.1m-.5-1h1.1m-.9 .9h1.1m-.9-.9h1.1m-.7 2.5h1.1m-1.1-2.8h1.1m-.8 1.2h1.1m-.9 1.1h1.1m-.9-2.2h1.1m-1 1.2h1.1m-1 1.4h1.1m-1-1.3h1.1m-1.1 1h1.1m-.6-2.2h1.1m-1.1-.2h1.1m-1 0h1.1m-1.1 2.6h1.1m-.7 .1h1.1m-.9-1.3h1.1m-1.1-1.4h1.1m-.9 1.9h1.1m-1-.1h1.1m-1-.2h1.1m-1-1h1.1m-.9 2h1.1m-1-2.6h1.1m-1 2.5h1.1m-.7 .1h1.1m-1.1-1.4h1.1m-1-1.2h1.1m-.8 1h1.1m-1.1 1.8h1.1m-1.1-1.6h1.1m-.7-1.2h1.1m-1 .2h1.1m-1 .9h1.1m-1 .4h1.1m-.4 1.4h1.1m-1-2.3h1.1m-1.1 2.2h1.1m-1-.8h1.1m-.9-1.8h1.1m-1 1.3h1.1m-1-.2h1.1m-1 .4h1.1m-1.1-.9h1.1m-1 1h1.1m-1.1 .4h1.1m-1-1h1.1m-.9-.8h1.1m-.9-.3h1.1m-.6 .7h1.1m-.9-.5h1.1m-.7-.2h1.1m-.9 .6h1.1m-.6 .4h1.1m-1 1.2h1.1m-1.1 0h1.1m-1.1-2.3h1.1m-.7 .2h1.1m-1 2.4h1.1m-.5-1.2h1.1m.8-.9h1.1m-.8 1.7h1.1m-1.1-1.1h1.1m-.7 1.6h1.1m-1.1-2.1h1.1m-1 1.9h1.1m-.6-.7h1.1m-.3 .6h1.1m-.7-2h1.1m-1 2.3h1.1m0-.2h1.1m-1-1.4h1.1m1 1.7h1.1m-.8-1.3h1.1m-26.2 1.5h1.1m4.1-.1h1.1m.1 .2h1.1m-1.1-.1h1.1m-.4-.1h1.1m3.2 0h1.1m-.9 .2h1.1m.5-.2h1.1m-.1 0h1.1" fill="none" stroke="#000" stroke-width="1.1"/>
<path d="M55.3 60.6h1.8v52h-1.8zM217.7 60.6h2v52h-2zM380.1 60.6h2v52h-2zM55.3 227.4h1.8v52.1h-1.8zM217.7 227.4h2v52.1h-2zM380.1 227.4h2v52.1h-2z" fill="#b8b8b8"/>
<path d="M58.4 18.2V60.6H188.7V18.2M57.1 60.6H188.7V112.6H57.1ZM220.8 18.2V60.6H350.7V18.2M219.7 60.6H350.7V112.6H219.7ZM383.3 18.2V60.6H513.8V18.2M382.1 60.6H513.8V112.6H382.1ZM58.4 185.3V227.4H188.7V185.3M57.1 227.4H188.7V279.5H57.1ZM220.8 185.3V227.4H350.7V185.3M219.7 227.4H350.7V279.5H219.7ZM383.3 185.3V227.4H513.8V185.3M382.1 227.4H513.8V279.5H382.1Z" fill="none" stroke="#1a1a1a" stroke-width="1.35"/>
<path d="M54.8 153.9v2.6M60.2 153.9v2M65.6 153.9v2M70.9 153.9v2M76.3 153.9v2M81.7 153.9v2M87.1 153.9v2M92.5 153.9v2M97.8 153.9v2M103.2 153.9v2M108.6 153.9v2.6M114 153.9v2M119.4 153.9v2M124.7 153.9v2M130.1 153.9v2M135.5 153.9v2M140.9 153.9v2M146.3 153.9v2M151.6 153.9v2M157 153.9v2M162.4 153.9v2.6M167.8 153.9v2M173.2 153.9v2M178.5 153.9v2M183.9 153.9v2M189.3 153.9v2M54.8 153.9h-3M54.8 143.7h-1.8M54.8 137.7h-1.8M54.8 133.5h-1.8M54.8 130.2h-1.8M54.8 127.5h-1.8M54.8 125.2h-1.8M54.8 123.3h-1.8M54.8 121.5h-1.8M54.8 120h-3M54.8 109.8h-1.8M54.8 103.8h-1.8M54.8 99.6h-1.8M54.8 96.3h-1.8M54.8 93.6h-1.8M54.8 91.3h-1.8M54.8 89.3h-1.8M54.8 87.6h-1.8M54.8 86h-3M54.8 75.8h-1.8M54.8 69.9h-1.8M54.8 65.6h-1.8M54.8 62.3h-1.8M54.8 59.7h-1.8M54.8 57.4h-1.8M54.8 55.4h-1.8M54.8 53.7h-1.8M54.8 52.1h-3M54.8 41.9h-1.8M54.8 35.9h-1.8M54.8 31.7h-1.8M54.8 28.4h-1.8M54.8 25.7h-1.8M54.8 23.5h-1.8M54.8 21.5h-1.8M54.8 19.8h-1.8M54.8 18.2h-3M217.2 153.9v2.6M222.6 153.9v2M228 153.9v2M233.3 153.9v2M238.7 153.9v2M244.1 153.9v2M249.5 153.9v2M254.9 153.9v2M260.2 153.9v2M265.6 153.9v2M271 153.9v2.6M276.4 153.9v2M281.8 153.9v2M287.1 153.9v2M292.5 153.9v2M297.9 153.9v2M303.3 153.9v2M308.7 153.9v2M314 153.9v2M319.4 153.9v2M324.8 153.9v2.6M330.2 153.9v2M335.6 153.9v2M340.9 153.9v2M346.3 153.9v2M351.7 153.9v2M217.2 153.9h-3M217.2 143.7h-1.8M217.2 137.7h-1.8M217.2 133.5h-1.8M217.2 130.2h-1.8M217.2 127.5h-1.8M217.2 125.2h-1.8M217.2 123.3h-1.8M217.2 121.5h-1.8M217.2 120h-3M217.2 109.8h-1.8M217.2 103.8h-1.8M217.2 99.6h-1.8M217.2 96.3h-1.8M217.2 93.6h-1.8M217.2 91.3h-1.8M217.2 89.3h-1.8M217.2 87.6h-1.8M217.2 86h-3M217.2 75.8h-1.8M217.2 69.9h-1.8M217.2 65.6h-1.8M217.2 62.3h-1.8M217.2 59.7h-1.8M217.2 57.4h-1.8M217.2 55.4h-1.8M217.2 53.7h-1.8M217.2 52.1h-3M217.2 41.9h-1.8M217.2 35.9h-1.8M217.2 31.7h-1.8M217.2 28.4h-1.8M217.2 25.7h-1.8M217.2 23.5h-1.8M217.2 21.5h-1.8M217.2 19.8h-1.8M217.2 18.2h-3M379.6 153.9v2.6M385 153.9v2M390.4 153.9v2M395.7 153.9v2M401.1 153.9v2M406.5 153.9v2M411.9 153.9v2M417.3 153.9v2M422.6 153.9v2M428 153.9v2M433.4 153.9v2.6M438.8 153.9v2M444.2 153.9v2M449.5 153.9v2M454.9 153.9v2M460.3 153.9v2M465.7 153.9v2M471.1 153.9v2M476.4 153.9v2M481.8 153.9v2M487.2 153.9v2.6M492.6 153.9v2M498 153.9v2M503.3 153.9v2M508.7 153.9v2M514.1 153.9v2M379.6 153.9h-3M379.6 143.7h-1.8M379.6 137.7h-1.8M379.6 133.5h-1.8M379.6 130.2h-1.8M379.6 127.5h-1.8M379.6 125.2h-1.8M379.6 123.3h-1.8M379.6 121.5h-1.8M379.6 120h-3M379.6 109.8h-1.8M379.6 103.8h-1.8M379.6 99.6h-1.8M379.6 96.3h-1.8M379.6 93.6h-1.8M379.6 91.3h-1.8M379.6 89.3h-1.8M379.6 87.6h-1.8M379.6 86h-3M379.6 75.8h-1.8M379.6 69.9h-1.8M379.6 65.6h-1.8M379.6 62.3h-1.8M379.6 59.7h-1.8M379.6 57.4h-1.8M379.6 55.4h-1.8M379.6 53.7h-1.8M379.6 52.1h-3M379.6 41.9h-1.8M379.6 35.9h-1.8M379.6 31.7h-1.8M379.6 28.4h-1.8M379.6 25.7h-1.8M379.6 23.5h-1.8M379.6 21.5h-1.8M379.6 19.8h-1.8M379.6 18.2h-3M54.8 321.2v2.6M60.2 321.2v2M65.6 321.2v2M70.9 321.2v2M76.3 321.2v2M81.7 321.2v2M87.1 321.2v2M92.5 321.2v2M97.8 321.2v2M103.2 321.2v2M108.6 321.2v2.6M114 321.2v2M119.4 321.2v2M124.7 321.2v2M130.1 321.2v2M135.5 321.2v2M140.9 321.2v2M146.3 321.2v2M151.6 321.2v2M157 321.2v2M162.4 321.2v2.6M167.8 321.2v2M173.2 321.2v2M178.5 321.2v2M183.9 321.2v2M189.3 321.2v2M54.8 321.2h-3M54.8 311h-1.8M54.8 305h-1.8M54.8 300.7h-1.8M54.8 297.5h-1.8M54.8 294.8h-1.8M54.8 292.5h-1.8M54.8 290.5h-1.8M54.8 288.8h-1.8M54.8 287.2h-3M54.8 277h-1.8M54.8 271h-1.8M54.8 266.8h-1.8M54.8 263.5h-1.8M54.8 260.8h-1.8M54.8 258.5h-1.8M54.8 256.5h-1.8M54.8 254.8h-1.8M54.8 253.2h-3M54.8 243h-1.8M54.8 237h-1.8M54.8 232.8h-1.8M54.8 229.5h-1.8M54.8 226.8h-1.8M54.8 224.5h-1.8M54.8 222.6h-1.8M54.8 220.8h-1.8M54.8 219.3h-3M54.8 209h-1.8M54.8 203.1h-1.8M54.8 198.8h-1.8M54.8 195.5h-1.8M54.8 192.8h-1.8M54.8 190.6h-1.8M54.8 188.6h-1.8M54.8 186.9h-1.8M54.8 185.3h-3M43.6 321.2v2M217.2 321.2v2.6M222.6 321.2v2M228 321.2v2M233.3 321.2v2M238.7 321.2v2M244.1 321.2v2M249.5 321.2v2M254.9 321.2v2M260.2 321.2v2M265.6 321.2v2M271 321.2v2.6M276.4 321.2v2M281.8 321.2v2M287.1 321.2v2M292.5 321.2v2M297.9 321.2v2M303.3 321.2v2M308.7 321.2v2M314 321.2v2M319.4 321.2v2M324.8 321.2v2.6M330.2 321.2v2M335.6 321.2v2M340.9 321.2v2M346.3 321.2v2M351.7 321.2v2M217.2 321.2h-3M217.2 311h-1.8M217.2 305h-1.8M217.2 300.7h-1.8M217.2 297.5h-1.8M217.2 294.8h-1.8M217.2 292.5h-1.8M217.2 290.5h-1.8M217.2 288.8h-1.8M217.2 287.2h-3M217.2 277h-1.8M217.2 271h-1.8M217.2 266.8h-1.8M217.2 263.5h-1.8M217.2 260.8h-1.8M217.2 258.5h-1.8M217.2 256.5h-1.8M217.2 254.8h-1.8M217.2 253.2h-3M217.2 243h-1.8M217.2 237h-1.8M217.2 232.8h-1.8M217.2 229.5h-1.8M217.2 226.8h-1.8M217.2 224.5h-1.8M217.2 222.6h-1.8M217.2 220.8h-1.8M217.2 219.3h-3M217.2 209h-1.8M217.2 203.1h-1.8M217.2 198.8h-1.8M217.2 195.5h-1.8M217.2 192.8h-1.8M217.2 190.6h-1.8M217.2 188.6h-1.8M217.2 186.9h-1.8M217.2 185.3h-3M379.6 321.2v2.6M385 321.2v2M390.4 321.2v2M395.7 321.2v2M401.1 321.2v2M406.5 321.2v2M411.9 321.2v2M417.3 321.2v2M422.6 321.2v2M428 321.2v2M433.4 321.2v2.6M438.8 321.2v2M444.2 321.2v2M449.5 321.2v2M454.9 321.2v2M460.3 321.2v2M465.7 321.2v2M471.1 321.2v2M476.4 321.2v2M481.8 321.2v2M487.2 321.2v2.6M492.6 321.2v2M498 321.2v2M503.3 321.2v2M508.7 321.2v2M514.1 321.2v2M379.6 321.2h-3M379.6 311h-1.8M379.6 305h-1.8M379.6 300.7h-1.8M379.6 297.5h-1.8M379.6 294.8h-1.8M379.6 292.5h-1.8M379.6 290.5h-1.8M379.6 288.8h-1.8M379.6 287.2h-3M379.6 277h-1.8M379.6 271h-1.8M379.6 266.8h-1.8M379.6 263.5h-1.8M379.6 260.8h-1.8M379.6 258.5h-1.8M379.6 256.5h-1.8M379.6 254.8h-1.8M379.6 253.2h-3M379.6 243h-1.8M379.6 237h-1.8M379.6 232.8h-1.8M379.6 229.5h-1.8M379.6 226.8h-1.8M379.6 224.5h-1.8M379.6 222.6h-1.8M379.6 220.8h-1.8M379.6 219.3h-3M379.6 209h-1.8M379.6 203.1h-1.8M379.6 198.8h-1.8M379.6 195.5h-1.8M379.6 192.8h-1.8M379.6 190.6h-1.8M379.6 188.6h-1.8M379.6 186.9h-1.8M379.6 185.3h-3" fill="none" stroke="#222" stroke-width="1.1"/>
<path d="M54.8 18.2H191.5V153.9H54.8ZM51.8 153.9H54.8M217.2 18.2H353.6V153.9H217.2ZM214.2 153.9H217.2M379.6 18.2H516.6V153.9H379.6ZM376.6 153.9H379.6M54.8 185.3H191.5V321.2H54.8ZM42.4 321.2H54.8M217.2 185.3H353.6V321.2H217.2ZM214.2 321.2H217.2M379.6 185.3H516.6V321.2H379.6ZM376.6 321.2H379.6" fill="none" stroke="#111" stroke-width="1.4"/>
<g class="t"><text x="72.8" y="14.6" font-size="19" text-anchor="start" class="L">A</text>
<text x="237.3" y="15.7" font-size="19" text-anchor="start" class="L">B</text>
<text x="398.6" y="15.5" font-size="19" text-anchor="start" class="L">C</text>
<text x="72.3" y="182.3" font-size="19" text-anchor="start" class="L">D</text>
<text x="237.4" y="182.4" font-size="19" text-anchor="start" class="L">E</text>
<text x="398.6" y="182.3" font-size="19" text-anchor="start" class="L">F</text>
<text x="171" y="57.3" font-size="11" text-anchor="start" class="r">R3</text>
<text x="171" y="108.8" font-size="11" text-anchor="start" class="r">R2</text>
<text x="171" y="150" font-size="11" text-anchor="start" class="r">R1</text>
<text x="334" y="55.9" font-size="11" text-anchor="start" class="r">R3</text>
<text x="334" y="107.1" font-size="11" text-anchor="start" class="r">R2</text>
<text x="334" y="149.2" font-size="11" text-anchor="start" class="r">R1</text>
<text x="495.9" y="56.2" font-size="11" text-anchor="start" class="r">R3</text>
<text x="495.9" y="107.6" font-size="11" text-anchor="start" class="r">R2</text>
<text x="495.9" y="149.2" font-size="11" text-anchor="start" class="r">R1</text>
<text x="172.2" y="225.1" font-size="11" text-anchor="start" class="r">R3</text>
<text x="172.2" y="276.2" font-size="11" text-anchor="start" class="r">R2</text>
<text x="172.2" y="317.5" font-size="11" text-anchor="start" class="r">R1</text>
<text x="333.9" y="224.8" font-size="11" text-anchor="start" class="r">R3</text>
<text x="333.9" y="276.2" font-size="11" text-anchor="start" class="r">R2</text>
<text x="333.9" y="317" font-size="11" text-anchor="start" class="r">R1</text>
<text x="496.9" y="224.8" font-size="11" text-anchor="start" class="r">R3</text>
<text x="496.9" y="276.2" font-size="11" text-anchor="start" class="r">R2</text>
<text x="496.9" y="317" font-size="11" text-anchor="start" class="r">R1</text>
<text class="L" transform="translate(15.9 197.4) rotate(-90) scale(0.96 1)" font-size="21.5">7-AAD</text>
<text class="L" transform="translate(281.7 367.9) scale(0.953 1)" font-size="21.7" text-anchor="middle">FSC</text>
<text x="55" y="336.2" font-size="11" text-anchor="middle" class="x">0</text>
<text x="109.2" y="336.2" font-size="11" text-anchor="middle" class="x" letter-spacing="0.9">100</text>
<text x="163" y="336.2" font-size="11" text-anchor="middle" class="x" letter-spacing="0.6">200</text>
<text class="y" transform="translate(49.9 294.4) rotate(-90)" font-size="10.3">10</text>
<text class="y" transform="translate(49.9 260.1) rotate(-90)" font-size="10.3">10<tspan font-size="7.5" dx="0.9" dy="-8.4">2</tspan></text>
<text class="y" transform="translate(49.9 226.3) rotate(-90)" font-size="10.3">10<tspan font-size="7.5" dx="0.9" dy="-8.4">3</tspan></text>
<text class="y" transform="translate(49.9 193.3) rotate(-90)" font-size="10.3">10<tspan font-size="7.5" dx="0.9" dy="-8.4">4</tspan></text></g>
</svg>
</body></html>
